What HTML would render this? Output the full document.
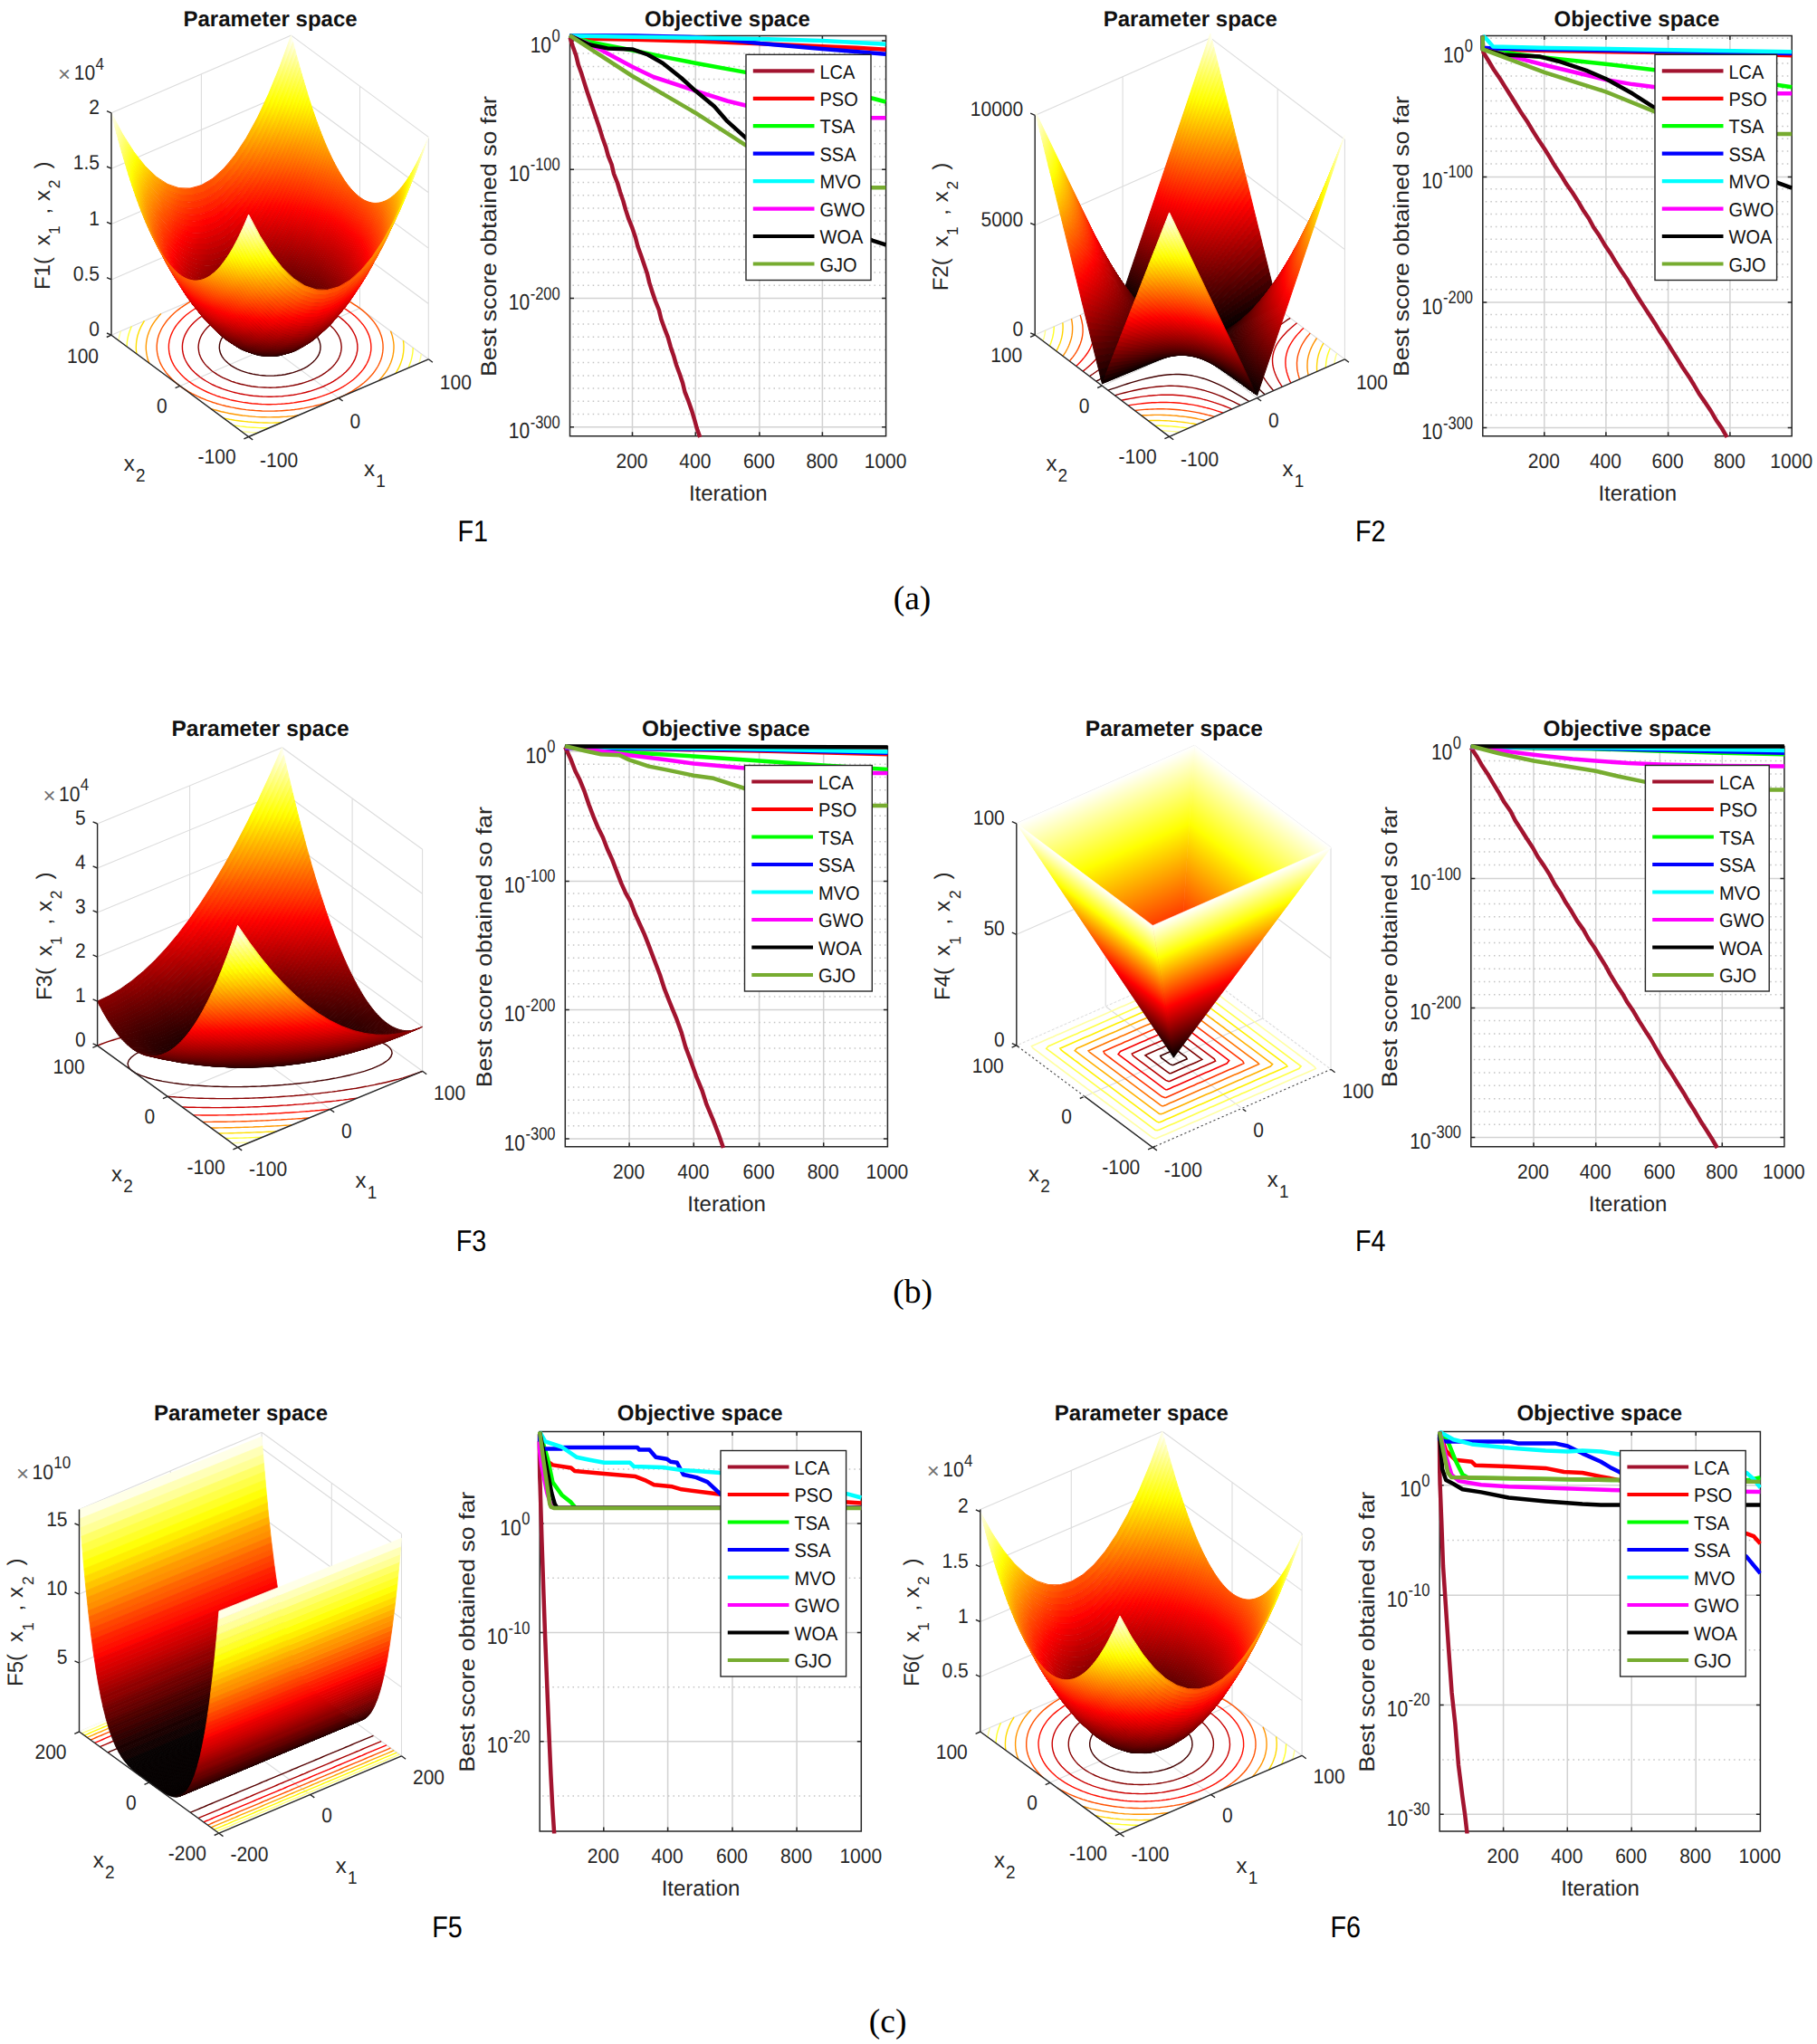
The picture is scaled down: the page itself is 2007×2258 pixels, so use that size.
<!DOCTYPE html>
<html lang="en"><head><meta charset="utf-8"><title>Benchmark functions F1-F6: parameter space and convergence curves</title><style>html,body{margin:0;padding:0;background:#fff}body{width:2007px;height:2258px;overflow:hidden}svg{display:block}</style></head><body>
<svg width="2007" height="2258" viewBox="0 0 2007 2258" font-family='"Liberation Sans", Arial, Helvetica, sans-serif' text-rendering="geometricPrecision"><defs><linearGradient id="s1" gradientUnits="userSpaceOnUse" x1="123.9" x2="322.6"><stop offset="0" stop-color="#fffff2"/><stop offset=".069" stop-color="#ffff70"/><stop offset=".138" stop-color="#ffff00"/><stop offset=".225" stop-color="#ffb300"/><stop offset=".306" stop-color="#ff8000"/><stop offset=".388" stop-color="#ff5e00"/><stop offset=".469" stop-color="#ff4e00"/><stop offset=".55" stop-color="#ff5000"/><stop offset=".631" stop-color="#ff6400"/><stop offset=".713" stop-color="#ff8a00"/><stop offset=".794" stop-color="#ffc200"/><stop offset=".863" stop-color="#ffff00"/><stop offset=".931" stop-color="#ffff70"/><stop offset="1" stop-color="#fffff2"/></linearGradient><linearGradient id="s2" gradientUnits="userSpaceOnUse" x1="125.8" x2="324.5"><stop offset="0" stop-color="#ffffd9"/><stop offset=".069" stop-color="#ffff57"/><stop offset=".119" stop-color="#ffff04"/><stop offset=".131" stop-color="#fff500"/><stop offset=".213" stop-color="#ffac00"/><stop offset=".294" stop-color="#ff7600"/><stop offset=".375" stop-color="#ff5100"/><stop offset=".456" stop-color="#ff3f00"/><stop offset=".537" stop-color="#ff3e00"/><stop offset=".619" stop-color="#ff4f00"/><stop offset=".7" stop-color="#ff7200"/><stop offset=".781" stop-color="#ffa800"/><stop offset=".863" stop-color="#ffef00"/><stop offset=".875" stop-color="#fffb00"/><stop offset=".881" stop-color="#ffff04"/><stop offset=".95" stop-color="#ffff79"/><stop offset="1" stop-color="#ffffd9"/></linearGradient><linearGradient id="s3" gradientUnits="userSpaceOnUse" x1="127.7" x2="326.4"><stop offset="0" stop-color="#ffffc1"/><stop offset=".069" stop-color="#ffff3f"/><stop offset=".106" stop-color="#ffff00"/><stop offset=".188" stop-color="#ffb100"/><stop offset=".269" stop-color="#ff7500"/><stop offset=".35" stop-color="#ff4a00"/><stop offset=".431" stop-color="#ff3200"/><stop offset=".513" stop-color="#ff2c00"/><stop offset=".594" stop-color="#ff3800"/><stop offset=".675" stop-color="#ff5500"/><stop offset=".756" stop-color="#ff8500"/><stop offset=".838" stop-color="#ffc700"/><stop offset=".894" stop-color="#ffff00"/><stop offset=".956" stop-color="#ffff6c"/><stop offset="1" stop-color="#ffffc1"/></linearGradient><linearGradient id="s4" gradientUnits="userSpaceOnUse" x1="129.6" x2="328.3"><stop offset="0" stop-color="#ffffaa"/><stop offset=".069" stop-color="#ffff27"/><stop offset=".088" stop-color="#ffff07"/><stop offset=".094" stop-color="#fffd00"/><stop offset=".175" stop-color="#ffac00"/><stop offset=".256" stop-color="#ff6d00"/><stop offset=".338" stop-color="#ff4000"/><stop offset=".419" stop-color="#ff2500"/><stop offset=".5" stop-color="#ff1c00"/><stop offset=".581" stop-color="#ff2500"/><stop offset=".663" stop-color="#ff4000"/><stop offset=".744" stop-color="#ff6d00"/><stop offset=".825" stop-color="#ffac00"/><stop offset=".906" stop-color="#fffd00"/><stop offset=".919" stop-color="#ffff11"/><stop offset=".988" stop-color="#ffff90"/><stop offset="1" stop-color="#ffffaa"/></linearGradient><linearGradient id="s5" gradientUnits="userSpaceOnUse" x1="131.5" x2="330.2"><stop offset="0" stop-color="#ffff93"/><stop offset=".069" stop-color="#ffff10"/><stop offset=".075" stop-color="#ffff05"/><stop offset=".081" stop-color="#fffb00"/><stop offset=".163" stop-color="#ffa800"/><stop offset=".244" stop-color="#ff6600"/><stop offset=".325" stop-color="#ff3600"/><stop offset=".406" stop-color="#ff1900"/><stop offset=".488" stop-color="#ff0d00"/><stop offset=".569" stop-color="#ff1300"/><stop offset=".65" stop-color="#ff2b00"/><stop offset=".731" stop-color="#ff5600"/><stop offset=".812" stop-color="#ff9200"/><stop offset=".894" stop-color="#ffe000"/><stop offset=".919" stop-color="#fffb00"/><stop offset=".925" stop-color="#ffff05"/><stop offset=".994" stop-color="#ffff86"/><stop offset="1" stop-color="#ffff93"/></linearGradient><linearGradient id="s6" gradientUnits="userSpaceOnUse" x1="133.4" x2="332.1"><stop offset="0" stop-color="#ffff7c"/><stop offset=".062" stop-color="#ffff05"/><stop offset=".075" stop-color="#fff400"/><stop offset=".156" stop-color="#ff9f00"/><stop offset=".238" stop-color="#ff5c00"/><stop offset=".319" stop-color="#ff2b00"/><stop offset=".4" stop-color="#ff0c00"/><stop offset=".469" stop-color="#fe0000"/><stop offset=".562" stop-color="#ff0300"/><stop offset=".644" stop-color="#ff1a00"/><stop offset=".725" stop-color="#ff4300"/><stop offset=".806" stop-color="#ff7d00"/><stop offset=".888" stop-color="#ffca00"/><stop offset=".931" stop-color="#fffb00"/><stop offset=".938" stop-color="#ffff05"/><stop offset="1" stop-color="#ffff7c"/></linearGradient><linearGradient id="s7" gradientUnits="userSpaceOnUse" x1="135.3" x2="334"><stop offset="0" stop-color="#ffff67"/><stop offset=".05" stop-color="#ffff06"/><stop offset=".056" stop-color="#fffb00"/><stop offset=".138" stop-color="#ffa200"/><stop offset=".219" stop-color="#ff5b00"/><stop offset=".3" stop-color="#ff2600"/><stop offset=".381" stop-color="#ff0300"/><stop offset=".481" stop-color="#ef0000"/><stop offset=".562" stop-color="#f40000"/><stop offset=".619" stop-color="#ff0300"/><stop offset=".7" stop-color="#ff2600"/><stop offset=".781" stop-color="#ff5b00"/><stop offset=".863" stop-color="#ffa200"/><stop offset=".944" stop-color="#fffb00"/><stop offset=".95" stop-color="#ffff06"/><stop offset="1" stop-color="#ffff67"/></linearGradient><linearGradient id="s8" gradientUnits="userSpaceOnUse" x1="137.2" x2="335.9"><stop offset="0" stop-color="#ffff52"/><stop offset=".038" stop-color="#ffff08"/><stop offset=".044" stop-color="#fffd00"/><stop offset=".125" stop-color="#ffa100"/><stop offset=".206" stop-color="#ff5700"/><stop offset=".288" stop-color="#ff1f00"/><stop offset=".35" stop-color="#ff0000"/><stop offset=".431" stop-color="#e70000"/><stop offset=".513" stop-color="#e10000"/><stop offset=".594" stop-color="#ec0000"/><stop offset=".656" stop-color="#ff0300"/><stop offset=".738" stop-color="#ff2e00"/><stop offset=".819" stop-color="#ff6c00"/><stop offset=".9" stop-color="#ffbb00"/><stop offset=".956" stop-color="#fffd00"/><stop offset=".969" stop-color="#ffff14"/><stop offset="1" stop-color="#ffff52"/></linearGradient><linearGradient id="s9" gradientUnits="userSpaceOnUse" x1="139.1" x2="337.8"><stop offset="0" stop-color="#ffff3d"/><stop offset=".031" stop-color="#ffff00"/><stop offset=".113" stop-color="#ffa000"/><stop offset=".194" stop-color="#ff5300"/><stop offset=".275" stop-color="#ff1900"/><stop offset=".319" stop-color="#ff0100"/><stop offset=".406" stop-color="#df0000"/><stop offset=".488" stop-color="#d30000"/><stop offset=".569" stop-color="#d90000"/><stop offset=".65" stop-color="#f10000"/><stop offset=".681" stop-color="#ff0100"/><stop offset=".763" stop-color="#ff3200"/><stop offset=".844" stop-color="#ff7500"/><stop offset=".925" stop-color="#ffca00"/><stop offset=".969" stop-color="#ffff00"/><stop offset="1" stop-color="#ffff3d"/></linearGradient><linearGradient id="s10" gradientUnits="userSpaceOnUse" x1="141" x2="339.7"><stop offset="0" stop-color="#ffff2a"/><stop offset=".019" stop-color="#ffff04"/><stop offset=".031" stop-color="#fff200"/><stop offset=".113" stop-color="#ff9300"/><stop offset=".194" stop-color="#ff4600"/><stop offset=".275" stop-color="#ff0c00"/><stop offset=".3" stop-color="#fc0000"/><stop offset=".381" stop-color="#d90000"/><stop offset=".463" stop-color="#c80000"/><stop offset=".544" stop-color="#c80000"/><stop offset=".625" stop-color="#db0000"/><stop offset=".706" stop-color="#ff0100"/><stop offset=".788" stop-color="#ff3700"/><stop offset=".869" stop-color="#ff8000"/><stop offset=".95" stop-color="#ffda00"/><stop offset=".975" stop-color="#fffa00"/><stop offset=".981" stop-color="#ffff04"/><stop offset="1" stop-color="#ffff2a"/></linearGradient><linearGradient id="s11" gradientUnits="userSpaceOnUse" x1="142.9" x2="341.6"><stop offset="0" stop-color="#ffff16"/><stop offset=".013" stop-color="#fffd00"/><stop offset=".094" stop-color="#ff9a00"/><stop offset=".175" stop-color="#ff4a00"/><stop offset=".256" stop-color="#ff0b00"/><stop offset=".275" stop-color="#fe0000"/><stop offset=".356" stop-color="#d50000"/><stop offset=".438" stop-color="#be0000"/><stop offset=".519" stop-color="#b90000"/><stop offset=".6" stop-color="#c70000"/><stop offset=".681" stop-color="#e60000"/><stop offset=".731" stop-color="#ff0300"/><stop offset=".812" stop-color="#ff3f00"/><stop offset=".894" stop-color="#ff8d00"/><stop offset=".975" stop-color="#ffed00"/><stop offset=".988" stop-color="#fffd00"/><stop offset="1" stop-color="#ffff16"/></linearGradient><linearGradient id="s12" gradientUnits="userSpaceOnUse" x1="144.8" x2="343.5"><stop offset="0" stop-color="#ffff04"/><stop offset=".013" stop-color="#fff100"/><stop offset=".094" stop-color="#ff8e00"/><stop offset=".175" stop-color="#ff3d00"/><stop offset=".25" stop-color="#ff0300"/><stop offset=".35" stop-color="#cb0000"/><stop offset=".431" stop-color="#b30000"/><stop offset=".513" stop-color="#ad0000"/><stop offset=".594" stop-color="#b90000"/><stop offset=".675" stop-color="#d60000"/><stop offset=".75" stop-color="#ff0300"/><stop offset=".831" stop-color="#ff4300"/><stop offset=".913" stop-color="#ff9500"/><stop offset=".994" stop-color="#fff900"/><stop offset="1" stop-color="#ffff04"/></linearGradient><linearGradient id="s13" gradientUnits="userSpaceOnUse" x1="146.7" x2="345.4"><stop offset="0" stop-color="#fff600"/><stop offset=".081" stop-color="#ff9000"/><stop offset=".163" stop-color="#ff3d00"/><stop offset=".238" stop-color="#fe0000"/><stop offset=".319" stop-color="#cd0000"/><stop offset=".4" stop-color="#ae0000"/><stop offset=".481" stop-color="#a10000"/><stop offset=".562" stop-color="#a60000"/><stop offset=".644" stop-color="#bd0000"/><stop offset=".725" stop-color="#e60000"/><stop offset=".763" stop-color="#fe0000"/><stop offset=".838" stop-color="#ff3d00"/><stop offset=".919" stop-color="#ff9000"/><stop offset="1" stop-color="#fff600"/></linearGradient><linearGradient id="s14" gradientUnits="userSpaceOnUse" x1="148.6" x2="347.3"><stop offset="0" stop-color="#ffea00"/><stop offset=".081" stop-color="#ff8500"/><stop offset=".163" stop-color="#ff3100"/><stop offset=".219" stop-color="#ff0200"/><stop offset=".312" stop-color="#c50000"/><stop offset=".394" stop-color="#a50000"/><stop offset=".475" stop-color="#960000"/><stop offset=".556" stop-color="#9a0000"/><stop offset=".638" stop-color="#af0000"/><stop offset=".719" stop-color="#d60000"/><stop offset=".781" stop-color="#ff0200"/><stop offset=".863" stop-color="#ff4900"/><stop offset=".944" stop-color="#ffa200"/><stop offset="1" stop-color="#ffea00"/></linearGradient><linearGradient id="s15" gradientUnits="userSpaceOnUse" x1="150.5" x2="349.2"><stop offset="0" stop-color="#ffdf00"/><stop offset=".081" stop-color="#ff7a00"/><stop offset=".163" stop-color="#ff2600"/><stop offset=".206" stop-color="#ff0100"/><stop offset=".294" stop-color="#c40000"/><stop offset=".375" stop-color="#9f0000"/><stop offset=".456" stop-color="#8d0000"/><stop offset=".537" stop-color="#8c0000"/><stop offset=".619" stop-color="#9d0000"/><stop offset=".7" stop-color="#c10000"/><stop offset=".781" stop-color="#f60000"/><stop offset=".794" stop-color="#ff0100"/><stop offset=".875" stop-color="#ff4a00"/><stop offset=".956" stop-color="#ffa600"/><stop offset="1" stop-color="#ffdf00"/></linearGradient><linearGradient id="s16" gradientUnits="userSpaceOnUse" x1="152.4" x2="351.1"><stop offset="0" stop-color="#ffd500"/><stop offset=".081" stop-color="#ff6f00"/><stop offset=".163" stop-color="#ff1b00"/><stop offset=".194" stop-color="#ff0000"/><stop offset=".275" stop-color="#c40000"/><stop offset=".356" stop-color="#9c0000"/><stop offset=".438" stop-color="#850000"/><stop offset=".519" stop-color="#800000"/><stop offset=".6" stop-color="#8d0000"/><stop offset=".681" stop-color="#ac0000"/><stop offset=".763" stop-color="#dd0000"/><stop offset=".806" stop-color="#ff0000"/><stop offset=".888" stop-color="#ff4d00"/><stop offset=".969" stop-color="#ffab00"/><stop offset="1" stop-color="#ffd500"/></linearGradient><linearGradient id="s17" gradientUnits="userSpaceOnUse" x1="154.3" x2="353"><stop offset="0" stop-color="#ffca00"/><stop offset=".081" stop-color="#ff6500"/><stop offset=".163" stop-color="#ff1100"/><stop offset=".181" stop-color="#ff0100"/><stop offset=".269" stop-color="#be0000"/><stop offset=".35" stop-color="#940000"/><stop offset=".431" stop-color="#7c0000"/><stop offset=".513" stop-color="#760000"/><stop offset=".594" stop-color="#810000"/><stop offset=".675" stop-color="#9f0000"/><stop offset=".756" stop-color="#cf0000"/><stop offset=".819" stop-color="#ff0100"/><stop offset=".9" stop-color="#ff5000"/><stop offset=".981" stop-color="#ffb100"/><stop offset="1" stop-color="#ffca00"/></linearGradient><linearGradient id="s18" gradientUnits="userSpaceOnUse" x1="156.2" x2="354.9"><stop offset="0" stop-color="#ffc100"/><stop offset=".081" stop-color="#ff5b00"/><stop offset=".163" stop-color="#ff0700"/><stop offset=".175" stop-color="#fb0000"/><stop offset=".256" stop-color="#bc0000"/><stop offset=".338" stop-color="#8f0000"/><stop offset=".419" stop-color="#750000"/><stop offset=".5" stop-color="#6c0000"/><stop offset=".581" stop-color="#750000"/><stop offset=".663" stop-color="#8f0000"/><stop offset=".744" stop-color="#bc0000"/><stop offset=".831" stop-color="#ff0200"/><stop offset=".913" stop-color="#ff5400"/><stop offset=".994" stop-color="#ffb800"/><stop offset="1" stop-color="#ffc100"/></linearGradient><linearGradient id="s19" gradientUnits="userSpaceOnUse" x1="158.1" x2="356.8"><stop offset="0" stop-color="#ffb700"/><stop offset=".081" stop-color="#ff5200"/><stop offset=".156" stop-color="#ff0400"/><stop offset=".169" stop-color="#f70000"/><stop offset=".25" stop-color="#b70000"/><stop offset=".331" stop-color="#890000"/><stop offset=".413" stop-color="#6d0000"/><stop offset=".494" stop-color="#620000"/><stop offset=".575" stop-color="#6a0000"/><stop offset=".656" stop-color="#830000"/><stop offset=".738" stop-color="#af0000"/><stop offset=".819" stop-color="#ec0000"/><stop offset=".838" stop-color="#fd0000"/><stop offset=".9" stop-color="#ff3d00"/><stop offset=".981" stop-color="#ff9e00"/><stop offset="1" stop-color="#ffb700"/></linearGradient><linearGradient id="s20" gradientUnits="userSpaceOnUse" x1="160" x2="358.7"><stop offset="0" stop-color="#ffae00"/><stop offset=".081" stop-color="#ff4900"/><stop offset=".15" stop-color="#ff0100"/><stop offset=".238" stop-color="#b70000"/><stop offset=".319" stop-color="#860000"/><stop offset=".4" stop-color="#670000"/><stop offset=".481" stop-color="#5a0000"/><stop offset=".562" stop-color="#5f0000"/><stop offset=".644" stop-color="#750000"/><stop offset=".725" stop-color="#9e0000"/><stop offset=".806" stop-color="#d90000"/><stop offset=".85" stop-color="#ff0100"/><stop offset=".931" stop-color="#ff5700"/><stop offset="1" stop-color="#ffae00"/></linearGradient><linearGradient id="s21" gradientUnits="userSpaceOnUse" x1="161.8" x2="360.5"><stop offset="0" stop-color="#ffa600"/><stop offset=".081" stop-color="#ff4000"/><stop offset=".144" stop-color="#fd0000"/><stop offset=".225" stop-color="#b80000"/><stop offset=".306" stop-color="#840000"/><stop offset=".388" stop-color="#620000"/><stop offset=".469" stop-color="#520000"/><stop offset=".55" stop-color="#540000"/><stop offset=".631" stop-color="#680000"/><stop offset=".713" stop-color="#8e0000"/><stop offset=".794" stop-color="#c60000"/><stop offset=".856" stop-color="#fd0000"/><stop offset=".919" stop-color="#ff4000"/><stop offset="1" stop-color="#ffa600"/></linearGradient><linearGradient id="s22" gradientUnits="userSpaceOnUse" x1="163.7" x2="362.4"><stop offset="0" stop-color="#ff9e00"/><stop offset=".081" stop-color="#ff3800"/><stop offset=".131" stop-color="#ff0300"/><stop offset=".231" stop-color="#ab0000"/><stop offset=".312" stop-color="#790000"/><stop offset=".394" stop-color="#580000"/><stop offset=".475" stop-color="#4a0000"/><stop offset=".556" stop-color="#4d0000"/><stop offset=".638" stop-color="#620000"/><stop offset=".719" stop-color="#8a0000"/><stop offset=".8" stop-color="#c30000"/><stop offset=".869" stop-color="#ff0300"/><stop offset=".95" stop-color="#ff5d00"/><stop offset="1" stop-color="#ff9e00"/></linearGradient><linearGradient id="s23" gradientUnits="userSpaceOnUse" x1="165.6" x2="364.3"><stop offset="0" stop-color="#ff9600"/><stop offset=".081" stop-color="#ff3100"/><stop offset=".125" stop-color="#ff0100"/><stop offset=".219" stop-color="#ad0000"/><stop offset=".3" stop-color="#770000"/><stop offset=".381" stop-color="#540000"/><stop offset=".463" stop-color="#430000"/><stop offset=".544" stop-color="#440000"/><stop offset=".625" stop-color="#560000"/><stop offset=".706" stop-color="#7b0000"/><stop offset=".788" stop-color="#b10000"/><stop offset=".875" stop-color="#ff0100"/><stop offset=".956" stop-color="#ff5d00"/><stop offset="1" stop-color="#ff9600"/></linearGradient><linearGradient id="s24" gradientUnits="userSpaceOnUse" x1="167.5" x2="366.2"><stop offset="0" stop-color="#ff8f00"/><stop offset=".081" stop-color="#ff2900"/><stop offset=".119" stop-color="#ff0100"/><stop offset=".206" stop-color="#af0000"/><stop offset=".288" stop-color="#770000"/><stop offset=".369" stop-color="#510000"/><stop offset=".45" stop-color="#3d0000"/><stop offset=".531" stop-color="#3b0000"/><stop offset=".613" stop-color="#4b0000"/><stop offset=".694" stop-color="#6d0000"/><stop offset=".775" stop-color="#a10000"/><stop offset=".856" stop-color="#e60000"/><stop offset=".881" stop-color="#ff0100"/><stop offset=".963" stop-color="#ff5e00"/><stop offset="1" stop-color="#ff8f00"/></linearGradient><linearGradient id="s25" gradientUnits="userSpaceOnUse" x1="169.4" x2="368.1"><stop offset="0" stop-color="#ff8800"/><stop offset=".081" stop-color="#ff2300"/><stop offset=".113" stop-color="#ff0000"/><stop offset=".2" stop-color="#ad0000"/><stop offset=".281" stop-color="#740000"/><stop offset=".363" stop-color="#4d0000"/><stop offset=".444" stop-color="#370000"/><stop offset=".525" stop-color="#340000"/><stop offset=".606" stop-color="#420000"/><stop offset=".688" stop-color="#630000"/><stop offset=".769" stop-color="#950000"/><stop offset=".85" stop-color="#da0000"/><stop offset=".888" stop-color="#ff0000"/><stop offset=".969" stop-color="#ff5f00"/><stop offset="1" stop-color="#ff8800"/></linearGradient><linearGradient id="s26" gradientUnits="userSpaceOnUse" x1="171.3" x2="370"><stop offset="0" stop-color="#ff8200"/><stop offset=".081" stop-color="#ff1c00"/><stop offset=".106" stop-color="#ff0100"/><stop offset=".194" stop-color="#ac0000"/><stop offset=".275" stop-color="#720000"/><stop offset=".356" stop-color="#490000"/><stop offset=".438" stop-color="#320000"/><stop offset=".519" stop-color="#2d0000"/><stop offset=".6" stop-color="#3a0000"/><stop offset=".681" stop-color="#590000"/><stop offset=".763" stop-color="#8a0000"/><stop offset=".844" stop-color="#cd0000"/><stop offset=".894" stop-color="#ff0100"/><stop offset=".975" stop-color="#ff6100"/><stop offset="1" stop-color="#ff8200"/></linearGradient><linearGradient id="s27" gradientUnits="userSpaceOnUse" x1="173.2" x2="371.9"><stop offset="0" stop-color="#ff7c00"/><stop offset=".081" stop-color="#ff1600"/><stop offset=".1" stop-color="#ff0100"/><stop offset=".194" stop-color="#a60000"/><stop offset=".275" stop-color="#6c0000"/><stop offset=".356" stop-color="#430000"/><stop offset=".438" stop-color="#2c0000"/><stop offset=".519" stop-color="#270000"/><stop offset=".6" stop-color="#340000"/><stop offset=".681" stop-color="#530000"/><stop offset=".763" stop-color="#840000"/><stop offset=".844" stop-color="#c70000"/><stop offset=".9" stop-color="#ff0100"/><stop offset=".981" stop-color="#ff6300"/><stop offset="1" stop-color="#ff7c00"/></linearGradient><linearGradient id="s28" gradientUnits="userSpaceOnUse" x1="175.1" x2="373.8"><stop offset="0" stop-color="#ff7600"/><stop offset=".081" stop-color="#ff1100"/><stop offset=".094" stop-color="#ff0300"/><stop offset=".194" stop-color="#a10000"/><stop offset=".275" stop-color="#660000"/><stop offset=".356" stop-color="#3d0000"/><stop offset=".438" stop-color="#270000"/><stop offset=".519" stop-color="#220000"/><stop offset=".6" stop-color="#2f0000"/><stop offset=".681" stop-color="#4e0000"/><stop offset=".763" stop-color="#7f0000"/><stop offset=".844" stop-color="#c20000"/><stop offset=".906" stop-color="#ff0300"/><stop offset=".988" stop-color="#ff6500"/><stop offset="1" stop-color="#ff7600"/></linearGradient><linearGradient id="s29" gradientUnits="userSpaceOnUse" x1="177" x2="375.7"><stop offset="0" stop-color="#ff7100"/><stop offset=".081" stop-color="#ff0c00"/><stop offset=".094" stop-color="#fd0000"/><stop offset=".175" stop-color="#ac0000"/><stop offset=".256" stop-color="#6d0000"/><stop offset=".338" stop-color="#400000"/><stop offset=".419" stop-color="#250000"/><stop offset=".5" stop-color="#1c0000"/><stop offset=".581" stop-color="#250000"/><stop offset=".663" stop-color="#400000"/><stop offset=".744" stop-color="#6d0000"/><stop offset=".825" stop-color="#ac0000"/><stop offset=".906" stop-color="#fd0000"/><stop offset=".95" stop-color="#ff3100"/><stop offset="1" stop-color="#ff7100"/></linearGradient><linearGradient id="s30" gradientUnits="userSpaceOnUse" x1="178.9" x2="377.6"><stop offset="0" stop-color="#ff6c00"/><stop offset=".081" stop-color="#ff0700"/><stop offset=".088" stop-color="#ff0000"/><stop offset=".169" stop-color="#ad0000"/><stop offset=".25" stop-color="#6c0000"/><stop offset=".331" stop-color="#3e0000"/><stop offset=".413" stop-color="#220000"/><stop offset=".494" stop-color="#170000"/><stop offset=".575" stop-color="#1f0000"/><stop offset=".656" stop-color="#390000"/><stop offset=".738" stop-color="#640000"/><stop offset=".819" stop-color="#a20000"/><stop offset=".9" stop-color="#f10000"/><stop offset=".913" stop-color="#ff0000"/><stop offset=".994" stop-color="#ff6400"/><stop offset="1" stop-color="#ff6c00"/></linearGradient><linearGradient id="s31" gradientUnits="userSpaceOnUse" x1="180.8" x2="379.5"><stop offset="0" stop-color="#ff6800"/><stop offset=".081" stop-color="#ff0300"/><stop offset=".181" stop-color="#9d0000"/><stop offset=".263" stop-color="#600000"/><stop offset=".344" stop-color="#340000"/><stop offset=".425" stop-color="#1b0000"/><stop offset=".506" stop-color="#130000"/><stop offset=".588" stop-color="#1e0000"/><stop offset=".669" stop-color="#3a0000"/><stop offset=".75" stop-color="#680000"/><stop offset=".831" stop-color="#a80000"/><stop offset=".919" stop-color="#ff0300"/><stop offset="1" stop-color="#ff6800"/></linearGradient><linearGradient id="s32" gradientUnits="userSpaceOnUse" x1="182.7" x2="381.4"><stop offset="0" stop-color="#ff6400"/><stop offset=".075" stop-color="#ff0600"/><stop offset=".081" stop-color="#fe0000"/><stop offset=".163" stop-color="#aa0000"/><stop offset=".244" stop-color="#690000"/><stop offset=".325" stop-color="#390000"/><stop offset=".406" stop-color="#1b0000"/><stop offset=".488" stop-color="#100000"/><stop offset=".569" stop-color="#160000"/><stop offset=".65" stop-color="#2e0000"/><stop offset=".731" stop-color="#580000"/><stop offset=".812" stop-color="#940000"/><stop offset=".894" stop-color="#e20000"/><stop offset=".919" stop-color="#fe0000"/><stop offset=".988" stop-color="#ff5400"/><stop offset="1" stop-color="#ff6400"/></linearGradient><linearGradient id="s33" gradientUnits="userSpaceOnUse" x1="184.6" x2="383.3"><stop offset="0" stop-color="#ff6100"/><stop offset=".075" stop-color="#ff0300"/><stop offset=".175" stop-color="#9c0000"/><stop offset=".256" stop-color="#5d0000"/><stop offset=".338" stop-color="#300000"/><stop offset=".419" stop-color="#150000"/><stop offset=".5" stop-color="#0c0000"/><stop offset=".581" stop-color="#150000"/><stop offset=".663" stop-color="#300000"/><stop offset=".744" stop-color="#5d0000"/><stop offset=".825" stop-color="#9c0000"/><stop offset=".906" stop-color="#ec0000"/><stop offset=".925" stop-color="#ff0300"/><stop offset="1" stop-color="#ff6100"/></linearGradient><linearGradient id="s34" gradientUnits="userSpaceOnUse" x1="186.5" x2="385.2"><stop offset="0" stop-color="#ff5e00"/><stop offset=".075" stop-color="#ff0000"/><stop offset=".156" stop-color="#aa0000"/><stop offset=".238" stop-color="#670000"/><stop offset=".319" stop-color="#360000"/><stop offset=".4" stop-color="#170000"/><stop offset=".481" stop-color="#090000"/><stop offset=".562" stop-color="#0e0000"/><stop offset=".644" stop-color="#250000"/><stop offset=".725" stop-color="#4e0000"/><stop offset=".806" stop-color="#890000"/><stop offset=".888" stop-color="#d50000"/><stop offset=".925" stop-color="#ff0000"/><stop offset="1" stop-color="#ff5e00"/></linearGradient><linearGradient id="s35" gradientUnits="userSpaceOnUse" x1="188.4" x2="387.1"><stop offset="0" stop-color="#ff5b00"/><stop offset=".069" stop-color="#ff0400"/><stop offset=".081" stop-color="#f50000"/><stop offset=".163" stop-color="#a10000"/><stop offset=".244" stop-color="#600000"/><stop offset=".325" stop-color="#300000"/><stop offset=".406" stop-color="#120000"/><stop offset=".488" stop-color="#070000"/><stop offset=".569" stop-color="#0d0000"/><stop offset=".65" stop-color="#250000"/><stop offset=".731" stop-color="#4f0000"/><stop offset=".812" stop-color="#8b0000"/><stop offset=".894" stop-color="#d90000"/><stop offset=".925" stop-color="#fc0000"/><stop offset=".95" stop-color="#ff1b00"/><stop offset="1" stop-color="#ff5b00"/></linearGradient><linearGradient id="s36" gradientUnits="userSpaceOnUse" x1="190.3" x2="389"><stop offset="0" stop-color="#ff5900"/><stop offset=".069" stop-color="#ff0200"/><stop offset=".169" stop-color="#9a0000"/><stop offset=".25" stop-color="#590000"/><stop offset=".331" stop-color="#2b0000"/><stop offset=".413" stop-color="#0f0000"/><stop offset=".494" stop-color="#040000"/><stop offset=".575" stop-color="#0c0000"/><stop offset=".656" stop-color="#260000"/><stop offset=".738" stop-color="#510000"/><stop offset=".819" stop-color="#8e0000"/><stop offset=".9" stop-color="#de0000"/><stop offset=".931" stop-color="#ff0200"/><stop offset="1" stop-color="#ff5900"/></linearGradient><linearGradient id="s37" gradientUnits="userSpaceOnUse" x1="192.2" x2="390.9"><stop offset="0" stop-color="#ff5800"/><stop offset=".069" stop-color="#ff0100"/><stop offset=".156" stop-color="#a30000"/><stop offset=".238" stop-color="#600000"/><stop offset=".319" stop-color="#2f0000"/><stop offset=".4" stop-color="#100000"/><stop offset=".481" stop-color="#030000"/><stop offset=".562" stop-color="#080000"/><stop offset=".644" stop-color="#1f0000"/><stop offset=".725" stop-color="#470000"/><stop offset=".806" stop-color="#820000"/><stop offset=".888" stop-color="#cf0000"/><stop offset=".931" stop-color="#ff0100"/><stop offset="1" stop-color="#ff5800"/></linearGradient><linearGradient id="s38" gradientUnits="userSpaceOnUse" x1="194.1" x2="392.8"><stop offset="0" stop-color="#ff5600"/><stop offset=".069" stop-color="#fe0000"/><stop offset=".15" stop-color="#a80000"/><stop offset=".231" stop-color="#640000"/><stop offset=".312" stop-color="#310000"/><stop offset=".394" stop-color="#110000"/><stop offset=".475" stop-color="#020000"/><stop offset=".556" stop-color="#060000"/><stop offset=".638" stop-color="#1b0000"/><stop offset=".719" stop-color="#420000"/><stop offset=".8" stop-color="#7c0000"/><stop offset=".881" stop-color="#c70000"/><stop offset=".931" stop-color="#fe0000"/><stop offset="1" stop-color="#ff5600"/></linearGradient><linearGradient id="s39" gradientUnits="userSpaceOnUse" x1="196" x2="394.7"><stop offset="0" stop-color="#ff5500"/><stop offset=".062" stop-color="#ff0600"/><stop offset=".069" stop-color="#fd0000"/><stop offset=".15" stop-color="#a70000"/><stop offset=".231" stop-color="#630000"/><stop offset=".312" stop-color="#300000"/><stop offset=".394" stop-color="#100000"/><stop offset=".475" stop-color="#010000"/><stop offset=".556" stop-color="#050000"/><stop offset=".638" stop-color="#1a0000"/><stop offset=".719" stop-color="#420000"/><stop offset=".8" stop-color="#7b0000"/><stop offset=".881" stop-color="#c60000"/><stop offset=".931" stop-color="#fd0000"/><stop offset=".994" stop-color="#ff4d00"/><stop offset="1" stop-color="#ff5500"/></linearGradient><linearGradient id="s40" gradientUnits="userSpaceOnUse" x1="197.9" x2="396.6"><stop offset="0" stop-color="#ff5500"/><stop offset=".062" stop-color="#ff0500"/><stop offset=".069" stop-color="#fd0000"/><stop offset=".15" stop-color="#a70000"/><stop offset=".231" stop-color="#620000"/><stop offset=".312" stop-color="#300000"/><stop offset=".394" stop-color="#0f0000"/><stop offset=".475" stop-color="#010000"/><stop offset=".556" stop-color="#040000"/><stop offset=".638" stop-color="#1a0000"/><stop offset=".719" stop-color="#410000"/><stop offset=".8" stop-color="#7a0000"/><stop offset=".881" stop-color="#c60000"/><stop offset=".931" stop-color="#fd0000"/><stop offset=".988" stop-color="#ff4400"/><stop offset="1" stop-color="#ff5500"/></linearGradient><linearGradient id="s41" gradientUnits="userSpaceOnUse" x1="199.7" x2="398.4"><stop offset="0" stop-color="#ff5500"/><stop offset=".062" stop-color="#ff0500"/><stop offset=".069" stop-color="#fd0000"/><stop offset=".15" stop-color="#a70000"/><stop offset=".231" stop-color="#620000"/><stop offset=".312" stop-color="#300000"/><stop offset=".394" stop-color="#0f0000"/><stop offset=".475" stop-color="#010000"/><stop offset=".556" stop-color="#040000"/><stop offset=".638" stop-color="#1a0000"/><stop offset=".719" stop-color="#410000"/><stop offset=".8" stop-color="#7a0000"/><stop offset=".881" stop-color="#c60000"/><stop offset=".931" stop-color="#fd0000"/><stop offset=".988" stop-color="#ff4400"/><stop offset="1" stop-color="#ff5500"/></linearGradient><linearGradient id="s42" gradientUnits="userSpaceOnUse" x1="201.6" x2="400.3"><stop offset="0" stop-color="#ff5500"/><stop offset=".062" stop-color="#ff0600"/><stop offset=".069" stop-color="#fd0000"/><stop offset=".15" stop-color="#a70000"/><stop offset=".231" stop-color="#630000"/><stop offset=".312" stop-color="#300000"/><stop offset=".394" stop-color="#100000"/><stop offset=".475" stop-color="#010000"/><stop offset=".556" stop-color="#050000"/><stop offset=".638" stop-color="#1a0000"/><stop offset=".719" stop-color="#420000"/><stop offset=".8" stop-color="#7b0000"/><stop offset=".881" stop-color="#c60000"/><stop offset=".931" stop-color="#fd0000"/><stop offset=".994" stop-color="#ff4d00"/><stop offset="1" stop-color="#ff5500"/></linearGradient><linearGradient id="s43" gradientUnits="userSpaceOnUse" x1="203.5" x2="402.2"><stop offset="0" stop-color="#ff5600"/><stop offset=".069" stop-color="#fe0000"/><stop offset=".15" stop-color="#a80000"/><stop offset=".231" stop-color="#640000"/><stop offset=".312" stop-color="#310000"/><stop offset=".394" stop-color="#110000"/><stop offset=".475" stop-color="#020000"/><stop offset=".556" stop-color="#060000"/><stop offset=".638" stop-color="#1b0000"/><stop offset=".719" stop-color="#420000"/><stop offset=".8" stop-color="#7c0000"/><stop offset=".881" stop-color="#c70000"/><stop offset=".931" stop-color="#fe0000"/><stop offset="1" stop-color="#ff5600"/></linearGradient><linearGradient id="s44" gradientUnits="userSpaceOnUse" x1="205.4" x2="404.1"><stop offset="0" stop-color="#ff5800"/><stop offset=".069" stop-color="#ff0100"/><stop offset=".156" stop-color="#a30000"/><stop offset=".238" stop-color="#600000"/><stop offset=".319" stop-color="#2f0000"/><stop offset=".4" stop-color="#100000"/><stop offset=".481" stop-color="#030000"/><stop offset=".562" stop-color="#080000"/><stop offset=".644" stop-color="#1f0000"/><stop offset=".725" stop-color="#470000"/><stop offset=".806" stop-color="#820000"/><stop offset=".888" stop-color="#cf0000"/><stop offset=".931" stop-color="#ff0100"/><stop offset="1" stop-color="#ff5800"/></linearGradient><linearGradient id="s45" gradientUnits="userSpaceOnUse" x1="207.3" x2="406"><stop offset="0" stop-color="#ff5900"/><stop offset=".069" stop-color="#ff0200"/><stop offset=".169" stop-color="#9a0000"/><stop offset=".25" stop-color="#590000"/><stop offset=".331" stop-color="#2b0000"/><stop offset=".413" stop-color="#0f0000"/><stop offset=".494" stop-color="#040000"/><stop offset=".575" stop-color="#0c0000"/><stop offset=".656" stop-color="#260000"/><stop offset=".738" stop-color="#510000"/><stop offset=".819" stop-color="#8e0000"/><stop offset=".9" stop-color="#de0000"/><stop offset=".931" stop-color="#ff0200"/><stop offset="1" stop-color="#ff5900"/></linearGradient><linearGradient id="s46" gradientUnits="userSpaceOnUse" x1="209.2" x2="407.9"><stop offset="0" stop-color="#ff5b00"/><stop offset=".069" stop-color="#ff0400"/><stop offset=".081" stop-color="#f50000"/><stop offset=".163" stop-color="#a10000"/><stop offset=".244" stop-color="#600000"/><stop offset=".325" stop-color="#300000"/><stop offset=".406" stop-color="#120000"/><stop offset=".488" stop-color="#070000"/><stop offset=".569" stop-color="#0d0000"/><stop offset=".65" stop-color="#250000"/><stop offset=".731" stop-color="#4f0000"/><stop offset=".812" stop-color="#8b0000"/><stop offset=".894" stop-color="#d90000"/><stop offset=".925" stop-color="#fc0000"/><stop offset=".95" stop-color="#ff1b00"/><stop offset="1" stop-color="#ff5b00"/></linearGradient><linearGradient id="s47" gradientUnits="userSpaceOnUse" x1="211.1" x2="409.8"><stop offset="0" stop-color="#ff5e00"/><stop offset=".075" stop-color="#ff0000"/><stop offset=".156" stop-color="#aa0000"/><stop offset=".238" stop-color="#670000"/><stop offset=".319" stop-color="#360000"/><stop offset=".4" stop-color="#170000"/><stop offset=".481" stop-color="#090000"/><stop offset=".562" stop-color="#0e0000"/><stop offset=".644" stop-color="#250000"/><stop offset=".725" stop-color="#4e0000"/><stop offset=".806" stop-color="#890000"/><stop offset=".888" stop-color="#d50000"/><stop offset=".925" stop-color="#ff0000"/><stop offset="1" stop-color="#ff5e00"/></linearGradient><linearGradient id="s48" gradientUnits="userSpaceOnUse" x1="213" x2="411.7"><stop offset="0" stop-color="#ff6100"/><stop offset=".075" stop-color="#ff0300"/><stop offset=".175" stop-color="#9c0000"/><stop offset=".256" stop-color="#5d0000"/><stop offset=".338" stop-color="#300000"/><stop offset=".419" stop-color="#150000"/><stop offset=".5" stop-color="#0c0000"/><stop offset=".581" stop-color="#150000"/><stop offset=".663" stop-color="#300000"/><stop offset=".744" stop-color="#5d0000"/><stop offset=".825" stop-color="#9c0000"/><stop offset=".906" stop-color="#ec0000"/><stop offset=".925" stop-color="#ff0300"/><stop offset="1" stop-color="#ff6100"/></linearGradient><linearGradient id="s49" gradientUnits="userSpaceOnUse" x1="214.9" x2="413.6"><stop offset="0" stop-color="#ff6400"/><stop offset=".075" stop-color="#ff0600"/><stop offset=".081" stop-color="#fe0000"/><stop offset=".163" stop-color="#aa0000"/><stop offset=".244" stop-color="#690000"/><stop offset=".325" stop-color="#390000"/><stop offset=".406" stop-color="#1b0000"/><stop offset=".488" stop-color="#100000"/><stop offset=".569" stop-color="#160000"/><stop offset=".65" stop-color="#2e0000"/><stop offset=".731" stop-color="#580000"/><stop offset=".812" stop-color="#940000"/><stop offset=".894" stop-color="#e20000"/><stop offset=".919" stop-color="#fe0000"/><stop offset=".988" stop-color="#ff5400"/><stop offset="1" stop-color="#ff6400"/></linearGradient><linearGradient id="s50" gradientUnits="userSpaceOnUse" x1="216.8" x2="415.5"><stop offset="0" stop-color="#ff6800"/><stop offset=".081" stop-color="#ff0300"/><stop offset=".181" stop-color="#9d0000"/><stop offset=".263" stop-color="#600000"/><stop offset=".344" stop-color="#340000"/><stop offset=".425" stop-color="#1b0000"/><stop offset=".506" stop-color="#130000"/><stop offset=".588" stop-color="#1e0000"/><stop offset=".669" stop-color="#3a0000"/><stop offset=".75" stop-color="#680000"/><stop offset=".831" stop-color="#a80000"/><stop offset=".919" stop-color="#ff0300"/><stop offset="1" stop-color="#ff6800"/></linearGradient><linearGradient id="s51" gradientUnits="userSpaceOnUse" x1="218.7" x2="417.4"><stop offset="0" stop-color="#ff6c00"/><stop offset=".081" stop-color="#ff0700"/><stop offset=".088" stop-color="#ff0000"/><stop offset=".169" stop-color="#ad0000"/><stop offset=".25" stop-color="#6c0000"/><stop offset=".331" stop-color="#3e0000"/><stop offset=".413" stop-color="#220000"/><stop offset=".494" stop-color="#170000"/><stop offset=".575" stop-color="#1f0000"/><stop offset=".656" stop-color="#390000"/><stop offset=".738" stop-color="#640000"/><stop offset=".819" stop-color="#a20000"/><stop offset=".9" stop-color="#f10000"/><stop offset=".913" stop-color="#ff0000"/><stop offset=".994" stop-color="#ff6400"/><stop offset="1" stop-color="#ff6c00"/></linearGradient><linearGradient id="s52" gradientUnits="userSpaceOnUse" x1="220.6" x2="419.3"><stop offset="0" stop-color="#ff7100"/><stop offset=".081" stop-color="#ff0c00"/><stop offset=".094" stop-color="#fd0000"/><stop offset=".175" stop-color="#ac0000"/><stop offset=".256" stop-color="#6d0000"/><stop offset=".338" stop-color="#400000"/><stop offset=".419" stop-color="#250000"/><stop offset=".5" stop-color="#1c0000"/><stop offset=".581" stop-color="#250000"/><stop offset=".663" stop-color="#400000"/><stop offset=".744" stop-color="#6d0000"/><stop offset=".825" stop-color="#ac0000"/><stop offset=".906" stop-color="#fd0000"/><stop offset=".95" stop-color="#ff3100"/><stop offset="1" stop-color="#ff7100"/></linearGradient><linearGradient id="s53" gradientUnits="userSpaceOnUse" x1="222.5" x2="421.2"><stop offset="0" stop-color="#ff7600"/><stop offset=".081" stop-color="#ff1100"/><stop offset=".094" stop-color="#ff0300"/><stop offset=".194" stop-color="#a10000"/><stop offset=".275" stop-color="#660000"/><stop offset=".356" stop-color="#3d0000"/><stop offset=".438" stop-color="#270000"/><stop offset=".519" stop-color="#220000"/><stop offset=".6" stop-color="#2f0000"/><stop offset=".681" stop-color="#4e0000"/><stop offset=".763" stop-color="#7f0000"/><stop offset=".844" stop-color="#c20000"/><stop offset=".906" stop-color="#ff0300"/><stop offset=".988" stop-color="#ff6500"/><stop offset="1" stop-color="#ff7600"/></linearGradient><linearGradient id="s54" gradientUnits="userSpaceOnUse" x1="224.4" x2="423.1"><stop offset="0" stop-color="#ff7c00"/><stop offset=".081" stop-color="#ff1600"/><stop offset=".1" stop-color="#ff0100"/><stop offset=".194" stop-color="#a60000"/><stop offset=".275" stop-color="#6c0000"/><stop offset=".356" stop-color="#430000"/><stop offset=".438" stop-color="#2c0000"/><stop offset=".519" stop-color="#270000"/><stop offset=".6" stop-color="#340000"/><stop offset=".681" stop-color="#530000"/><stop offset=".763" stop-color="#840000"/><stop offset=".844" stop-color="#c70000"/><stop offset=".9" stop-color="#ff0100"/><stop offset=".981" stop-color="#ff6300"/><stop offset="1" stop-color="#ff7c00"/></linearGradient><linearGradient id="s55" gradientUnits="userSpaceOnUse" x1="226.3" x2="425"><stop offset="0" stop-color="#ff8200"/><stop offset=".081" stop-color="#ff1c00"/><stop offset=".106" stop-color="#ff0100"/><stop offset=".194" stop-color="#ac0000"/><stop offset=".275" stop-color="#720000"/><stop offset=".356" stop-color="#490000"/><stop offset=".438" stop-color="#320000"/><stop offset=".519" stop-color="#2d0000"/><stop offset=".6" stop-color="#3a0000"/><stop offset=".681" stop-color="#590000"/><stop offset=".763" stop-color="#8a0000"/><stop offset=".844" stop-color="#cd0000"/><stop offset=".894" stop-color="#ff0100"/><stop offset=".975" stop-color="#ff6100"/><stop offset="1" stop-color="#ff8200"/></linearGradient><linearGradient id="s56" gradientUnits="userSpaceOnUse" x1="228.2" x2="426.9"><stop offset="0" stop-color="#ff8800"/><stop offset=".081" stop-color="#ff2300"/><stop offset=".113" stop-color="#ff0000"/><stop offset=".2" stop-color="#ad0000"/><stop offset=".281" stop-color="#740000"/><stop offset=".363" stop-color="#4d0000"/><stop offset=".444" stop-color="#370000"/><stop offset=".525" stop-color="#340000"/><stop offset=".606" stop-color="#420000"/><stop offset=".688" stop-color="#630000"/><stop offset=".769" stop-color="#950000"/><stop offset=".85" stop-color="#da0000"/><stop offset=".888" stop-color="#ff0000"/><stop offset=".969" stop-color="#ff5f00"/><stop offset="1" stop-color="#ff8800"/></linearGradient><linearGradient id="s57" gradientUnits="userSpaceOnUse" x1="230.1" x2="428.8"><stop offset="0" stop-color="#ff8f00"/><stop offset=".081" stop-color="#ff2900"/><stop offset=".119" stop-color="#ff0100"/><stop offset=".206" stop-color="#af0000"/><stop offset=".288" stop-color="#770000"/><stop offset=".369" stop-color="#510000"/><stop offset=".45" stop-color="#3d0000"/><stop offset=".531" stop-color="#3b0000"/><stop offset=".613" stop-color="#4b0000"/><stop offset=".694" stop-color="#6d0000"/><stop offset=".775" stop-color="#a10000"/><stop offset=".856" stop-color="#e60000"/><stop offset=".881" stop-color="#ff0100"/><stop offset=".963" stop-color="#ff5e00"/><stop offset="1" stop-color="#ff8f00"/></linearGradient><linearGradient id="s58" gradientUnits="userSpaceOnUse" x1="232" x2="430.7"><stop offset="0" stop-color="#ff9600"/><stop offset=".081" stop-color="#ff3100"/><stop offset=".125" stop-color="#ff0100"/><stop offset=".219" stop-color="#ad0000"/><stop offset=".3" stop-color="#770000"/><stop offset=".381" stop-color="#540000"/><stop offset=".463" stop-color="#430000"/><stop offset=".544" stop-color="#440000"/><stop offset=".625" stop-color="#560000"/><stop offset=".706" stop-color="#7b0000"/><stop offset=".788" stop-color="#b10000"/><stop offset=".875" stop-color="#ff0100"/><stop offset=".956" stop-color="#ff5d00"/><stop offset="1" stop-color="#ff9600"/></linearGradient><linearGradient id="s59" gradientUnits="userSpaceOnUse" x1="233.9" x2="432.6"><stop offset="0" stop-color="#ff9e00"/><stop offset=".081" stop-color="#ff3800"/><stop offset=".131" stop-color="#ff0300"/><stop offset=".231" stop-color="#ab0000"/><stop offset=".312" stop-color="#790000"/><stop offset=".394" stop-color="#580000"/><stop offset=".475" stop-color="#4a0000"/><stop offset=".556" stop-color="#4d0000"/><stop offset=".638" stop-color="#620000"/><stop offset=".719" stop-color="#8a0000"/><stop offset=".8" stop-color="#c30000"/><stop offset=".869" stop-color="#ff0300"/><stop offset=".95" stop-color="#ff5d00"/><stop offset="1" stop-color="#ff9e00"/></linearGradient><linearGradient id="s60" gradientUnits="userSpaceOnUse" x1="235.8" x2="434.5"><stop offset="0" stop-color="#ffa600"/><stop offset=".081" stop-color="#ff4000"/><stop offset=".144" stop-color="#fd0000"/><stop offset=".225" stop-color="#b80000"/><stop offset=".306" stop-color="#840000"/><stop offset=".388" stop-color="#620000"/><stop offset=".469" stop-color="#520000"/><stop offset=".55" stop-color="#540000"/><stop offset=".631" stop-color="#680000"/><stop offset=".713" stop-color="#8e0000"/><stop offset=".794" stop-color="#c60000"/><stop offset=".856" stop-color="#fd0000"/><stop offset=".919" stop-color="#ff4000"/><stop offset="1" stop-color="#ffa600"/></linearGradient><linearGradient id="s61" gradientUnits="userSpaceOnUse" x1="237.6" x2="436.3"><stop offset="0" stop-color="#ffae00"/><stop offset=".081" stop-color="#ff4900"/><stop offset=".15" stop-color="#ff0100"/><stop offset=".238" stop-color="#b70000"/><stop offset=".319" stop-color="#860000"/><stop offset=".4" stop-color="#670000"/><stop offset=".481" stop-color="#5a0000"/><stop offset=".562" stop-color="#5f0000"/><stop offset=".644" stop-color="#750000"/><stop offset=".725" stop-color="#9e0000"/><stop offset=".806" stop-color="#d90000"/><stop offset=".85" stop-color="#ff0100"/><stop offset=".931" stop-color="#ff5700"/><stop offset="1" stop-color="#ffae00"/></linearGradient><linearGradient id="s62" gradientUnits="userSpaceOnUse" x1="239.5" x2="438.2"><stop offset="0" stop-color="#ffb700"/><stop offset=".081" stop-color="#ff5200"/><stop offset=".156" stop-color="#ff0400"/><stop offset=".169" stop-color="#f70000"/><stop offset=".25" stop-color="#b70000"/><stop offset=".331" stop-color="#890000"/><stop offset=".413" stop-color="#6d0000"/><stop offset=".494" stop-color="#620000"/><stop offset=".575" stop-color="#6a0000"/><stop offset=".656" stop-color="#830000"/><stop offset=".738" stop-color="#af0000"/><stop offset=".819" stop-color="#ec0000"/><stop offset=".838" stop-color="#fd0000"/><stop offset=".9" stop-color="#ff3d00"/><stop offset=".981" stop-color="#ff9e00"/><stop offset="1" stop-color="#ffb700"/></linearGradient><linearGradient id="s63" gradientUnits="userSpaceOnUse" x1="241.4" x2="440.1"><stop offset="0" stop-color="#ffc100"/><stop offset=".081" stop-color="#ff5b00"/><stop offset=".163" stop-color="#ff0700"/><stop offset=".175" stop-color="#fb0000"/><stop offset=".256" stop-color="#bc0000"/><stop offset=".338" stop-color="#8f0000"/><stop offset=".419" stop-color="#750000"/><stop offset=".5" stop-color="#6c0000"/><stop offset=".581" stop-color="#750000"/><stop offset=".663" stop-color="#8f0000"/><stop offset=".744" stop-color="#bc0000"/><stop offset=".831" stop-color="#ff0200"/><stop offset=".913" stop-color="#ff5400"/><stop offset=".994" stop-color="#ffb800"/><stop offset="1" stop-color="#ffc100"/></linearGradient><linearGradient id="s64" gradientUnits="userSpaceOnUse" x1="243.3" x2="442"><stop offset="0" stop-color="#ffca00"/><stop offset=".081" stop-color="#ff6500"/><stop offset=".163" stop-color="#ff1100"/><stop offset=".181" stop-color="#ff0100"/><stop offset=".269" stop-color="#be0000"/><stop offset=".35" stop-color="#940000"/><stop offset=".431" stop-color="#7c0000"/><stop offset=".513" stop-color="#760000"/><stop offset=".594" stop-color="#810000"/><stop offset=".675" stop-color="#9f0000"/><stop offset=".756" stop-color="#cf0000"/><stop offset=".819" stop-color="#ff0100"/><stop offset=".9" stop-color="#ff5000"/><stop offset=".981" stop-color="#ffb100"/><stop offset="1" stop-color="#ffca00"/></linearGradient><linearGradient id="s65" gradientUnits="userSpaceOnUse" x1="245.2" x2="443.9"><stop offset="0" stop-color="#ffd500"/><stop offset=".081" stop-color="#ff6f00"/><stop offset=".163" stop-color="#ff1b00"/><stop offset=".194" stop-color="#ff0000"/><stop offset=".275" stop-color="#c40000"/><stop offset=".356" stop-color="#9c0000"/><stop offset=".438" stop-color="#850000"/><stop offset=".519" stop-color="#800000"/><stop offset=".6" stop-color="#8d0000"/><stop offset=".681" stop-color="#ac0000"/><stop offset=".763" stop-color="#dd0000"/><stop offset=".806" stop-color="#ff0000"/><stop offset=".888" stop-color="#ff4d00"/><stop offset=".969" stop-color="#ffab00"/><stop offset="1" stop-color="#ffd500"/></linearGradient><linearGradient id="s66" gradientUnits="userSpaceOnUse" x1="247.1" x2="445.8"><stop offset="0" stop-color="#ffdf00"/><stop offset=".081" stop-color="#ff7a00"/><stop offset=".163" stop-color="#ff2600"/><stop offset=".206" stop-color="#ff0100"/><stop offset=".294" stop-color="#c40000"/><stop offset=".375" stop-color="#9f0000"/><stop offset=".456" stop-color="#8d0000"/><stop offset=".537" stop-color="#8c0000"/><stop offset=".619" stop-color="#9d0000"/><stop offset=".7" stop-color="#c10000"/><stop offset=".781" stop-color="#f60000"/><stop offset=".794" stop-color="#ff0100"/><stop offset=".875" stop-color="#ff4a00"/><stop offset=".956" stop-color="#ffa600"/><stop offset="1" stop-color="#ffdf00"/></linearGradient><linearGradient id="s67" gradientUnits="userSpaceOnUse" x1="249" x2="447.7"><stop offset="0" stop-color="#ffea00"/><stop offset=".081" stop-color="#ff8500"/><stop offset=".163" stop-color="#ff3100"/><stop offset=".219" stop-color="#ff0200"/><stop offset=".312" stop-color="#c50000"/><stop offset=".394" stop-color="#a50000"/><stop offset=".475" stop-color="#960000"/><stop offset=".556" stop-color="#9a0000"/><stop offset=".638" stop-color="#af0000"/><stop offset=".719" stop-color="#d60000"/><stop offset=".781" stop-color="#ff0200"/><stop offset=".863" stop-color="#ff4900"/><stop offset=".944" stop-color="#ffa200"/><stop offset="1" stop-color="#ffea00"/></linearGradient><linearGradient id="s68" gradientUnits="userSpaceOnUse" x1="250.9" x2="449.6"><stop offset="0" stop-color="#fff600"/><stop offset=".081" stop-color="#ff9000"/><stop offset=".163" stop-color="#ff3d00"/><stop offset=".238" stop-color="#fe0000"/><stop offset=".319" stop-color="#cd0000"/><stop offset=".4" stop-color="#ae0000"/><stop offset=".481" stop-color="#a10000"/><stop offset=".562" stop-color="#a60000"/><stop offset=".644" stop-color="#bd0000"/><stop offset=".725" stop-color="#e60000"/><stop offset=".763" stop-color="#fe0000"/><stop offset=".838" stop-color="#ff3d00"/><stop offset=".919" stop-color="#ff9000"/><stop offset="1" stop-color="#fff600"/></linearGradient><linearGradient id="s69" gradientUnits="userSpaceOnUse" x1="252.8" x2="451.5"><stop offset="0" stop-color="#ffff04"/><stop offset=".013" stop-color="#fff100"/><stop offset=".094" stop-color="#ff8e00"/><stop offset=".175" stop-color="#ff3d00"/><stop offset=".25" stop-color="#ff0300"/><stop offset=".35" stop-color="#cb0000"/><stop offset=".431" stop-color="#b30000"/><stop offset=".513" stop-color="#ad0000"/><stop offset=".594" stop-color="#b90000"/><stop offset=".675" stop-color="#d60000"/><stop offset=".75" stop-color="#ff0300"/><stop offset=".831" stop-color="#ff4300"/><stop offset=".913" stop-color="#ff9500"/><stop offset=".994" stop-color="#fff900"/><stop offset="1" stop-color="#ffff04"/></linearGradient><linearGradient id="s70" gradientUnits="userSpaceOnUse" x1="254.7" x2="453.4"><stop offset="0" stop-color="#ffff16"/><stop offset=".013" stop-color="#fffd00"/><stop offset=".094" stop-color="#ff9a00"/><stop offset=".175" stop-color="#ff4a00"/><stop offset=".256" stop-color="#ff0b00"/><stop offset=".275" stop-color="#fe0000"/><stop offset=".356" stop-color="#d50000"/><stop offset=".438" stop-color="#be0000"/><stop offset=".519" stop-color="#b90000"/><stop offset=".6" stop-color="#c70000"/><stop offset=".681" stop-color="#e60000"/><stop offset=".731" stop-color="#ff0300"/><stop offset=".812" stop-color="#ff3f00"/><stop offset=".894" stop-color="#ff8d00"/><stop offset=".975" stop-color="#ffed00"/><stop offset=".988" stop-color="#fffd00"/><stop offset="1" stop-color="#ffff16"/></linearGradient><linearGradient id="s71" gradientUnits="userSpaceOnUse" x1="256.6" x2="455.3"><stop offset="0" stop-color="#ffff2a"/><stop offset=".019" stop-color="#ffff04"/><stop offset=".031" stop-color="#fff200"/><stop offset=".113" stop-color="#ff9300"/><stop offset=".194" stop-color="#ff4600"/><stop offset=".275" stop-color="#ff0c00"/><stop offset=".3" stop-color="#fc0000"/><stop offset=".381" stop-color="#d90000"/><stop offset=".463" stop-color="#c80000"/><stop offset=".544" stop-color="#c80000"/><stop offset=".625" stop-color="#db0000"/><stop offset=".706" stop-color="#ff0100"/><stop offset=".788" stop-color="#ff3700"/><stop offset=".869" stop-color="#ff8000"/><stop offset=".95" stop-color="#ffda00"/><stop offset=".975" stop-color="#fffa00"/><stop offset=".981" stop-color="#ffff04"/><stop offset="1" stop-color="#ffff2a"/></linearGradient><linearGradient id="s72" gradientUnits="userSpaceOnUse" x1="258.5" x2="457.2"><stop offset="0" stop-color="#ffff3d"/><stop offset=".031" stop-color="#ffff00"/><stop offset=".113" stop-color="#ffa000"/><stop offset=".194" stop-color="#ff5300"/><stop offset=".275" stop-color="#ff1900"/><stop offset=".319" stop-color="#ff0100"/><stop offset=".406" stop-color="#df0000"/><stop offset=".488" stop-color="#d30000"/><stop offset=".569" stop-color="#d90000"/><stop offset=".65" stop-color="#f10000"/><stop offset=".681" stop-color="#ff0100"/><stop offset=".763" stop-color="#ff3200"/><stop offset=".844" stop-color="#ff7500"/><stop offset=".925" stop-color="#ffca00"/><stop offset=".969" stop-color="#ffff00"/><stop offset="1" stop-color="#ffff3d"/></linearGradient><linearGradient id="s73" gradientUnits="userSpaceOnUse" x1="260.4" x2="459.1"><stop offset="0" stop-color="#ffff52"/><stop offset=".038" stop-color="#ffff08"/><stop offset=".044" stop-color="#fffd00"/><stop offset=".125" stop-color="#ffa100"/><stop offset=".206" stop-color="#ff5700"/><stop offset=".288" stop-color="#ff1f00"/><stop offset=".35" stop-color="#ff0000"/><stop offset=".431" stop-color="#e70000"/><stop offset=".513" stop-color="#e10000"/><stop offset=".594" stop-color="#ec0000"/><stop offset=".656" stop-color="#ff0300"/><stop offset=".738" stop-color="#ff2e00"/><stop offset=".819" stop-color="#ff6c00"/><stop offset=".9" stop-color="#ffbb00"/><stop offset=".956" stop-color="#fffd00"/><stop offset=".969" stop-color="#ffff14"/><stop offset="1" stop-color="#ffff52"/></linearGradient><linearGradient id="s74" gradientUnits="userSpaceOnUse" x1="262.3" x2="461"><stop offset="0" stop-color="#ffff67"/><stop offset=".05" stop-color="#ffff06"/><stop offset=".056" stop-color="#fffb00"/><stop offset=".138" stop-color="#ffa200"/><stop offset=".219" stop-color="#ff5b00"/><stop offset=".3" stop-color="#ff2600"/><stop offset=".381" stop-color="#ff0300"/><stop offset=".481" stop-color="#ef0000"/><stop offset=".562" stop-color="#f40000"/><stop offset=".619" stop-color="#ff0300"/><stop offset=".7" stop-color="#ff2600"/><stop offset=".781" stop-color="#ff5b00"/><stop offset=".863" stop-color="#ffa200"/><stop offset=".944" stop-color="#fffb00"/><stop offset=".95" stop-color="#ffff06"/><stop offset="1" stop-color="#ffff67"/></linearGradient><linearGradient id="s75" gradientUnits="userSpaceOnUse" x1="264.2" x2="462.9"><stop offset="0" stop-color="#ffff7c"/><stop offset=".062" stop-color="#ffff05"/><stop offset=".075" stop-color="#fff400"/><stop offset=".156" stop-color="#ff9f00"/><stop offset=".238" stop-color="#ff5c00"/><stop offset=".319" stop-color="#ff2b00"/><stop offset=".4" stop-color="#ff0c00"/><stop offset=".469" stop-color="#fe0000"/><stop offset=".562" stop-color="#ff0300"/><stop offset=".644" stop-color="#ff1a00"/><stop offset=".725" stop-color="#ff4300"/><stop offset=".806" stop-color="#ff7d00"/><stop offset=".888" stop-color="#ffca00"/><stop offset=".931" stop-color="#fffb00"/><stop offset=".938" stop-color="#ffff05"/><stop offset="1" stop-color="#ffff7c"/></linearGradient><linearGradient id="s76" gradientUnits="userSpaceOnUse" x1="266.1" x2="464.8"><stop offset="0" stop-color="#ffff93"/><stop offset=".069" stop-color="#ffff10"/><stop offset=".075" stop-color="#ffff05"/><stop offset=".081" stop-color="#fffb00"/><stop offset=".163" stop-color="#ffa800"/><stop offset=".244" stop-color="#ff6600"/><stop offset=".325" stop-color="#ff3600"/><stop offset=".406" stop-color="#ff1900"/><stop offset=".488" stop-color="#ff0d00"/><stop offset=".569" stop-color="#ff1300"/><stop offset=".65" stop-color="#ff2b00"/><stop offset=".731" stop-color="#ff5600"/><stop offset=".812" stop-color="#ff9200"/><stop offset=".894" stop-color="#ffe000"/><stop offset=".919" stop-color="#fffb00"/><stop offset=".925" stop-color="#ffff05"/><stop offset=".994" stop-color="#ffff86"/><stop offset="1" stop-color="#ffff93"/></linearGradient><linearGradient id="s77" gradientUnits="userSpaceOnUse" x1="268" x2="466.7"><stop offset="0" stop-color="#ffffaa"/><stop offset=".069" stop-color="#ffff27"/><stop offset=".088" stop-color="#ffff07"/><stop offset=".094" stop-color="#fffd00"/><stop offset=".175" stop-color="#ffac00"/><stop offset=".256" stop-color="#ff6d00"/><stop offset=".338" stop-color="#ff4000"/><stop offset=".419" stop-color="#ff2500"/><stop offset=".5" stop-color="#ff1c00"/><stop offset=".581" stop-color="#ff2500"/><stop offset=".663" stop-color="#ff4000"/><stop offset=".744" stop-color="#ff6d00"/><stop offset=".825" stop-color="#ffac00"/><stop offset=".906" stop-color="#fffd00"/><stop offset=".919" stop-color="#ffff11"/><stop offset=".988" stop-color="#ffff90"/><stop offset="1" stop-color="#ffffaa"/></linearGradient><linearGradient id="s78" gradientUnits="userSpaceOnUse" x1="269.9" x2="468.6"><stop offset="0" stop-color="#ffffc1"/><stop offset=".069" stop-color="#ffff3f"/><stop offset=".106" stop-color="#ffff00"/><stop offset=".188" stop-color="#ffb100"/><stop offset=".269" stop-color="#ff7500"/><stop offset=".35" stop-color="#ff4a00"/><stop offset=".431" stop-color="#ff3200"/><stop offset=".513" stop-color="#ff2c00"/><stop offset=".594" stop-color="#ff3800"/><stop offset=".675" stop-color="#ff5500"/><stop offset=".756" stop-color="#ff8500"/><stop offset=".838" stop-color="#ffc700"/><stop offset=".894" stop-color="#ffff00"/><stop offset=".956" stop-color="#ffff6c"/><stop offset="1" stop-color="#ffffc1"/></linearGradient><linearGradient id="s79" gradientUnits="userSpaceOnUse" x1="271.8" x2="470.5"><stop offset="0" stop-color="#ffffd9"/><stop offset=".069" stop-color="#ffff57"/><stop offset=".119" stop-color="#ffff04"/><stop offset=".131" stop-color="#fff500"/><stop offset=".213" stop-color="#ffac00"/><stop offset=".294" stop-color="#ff7600"/><stop offset=".375" stop-color="#ff5100"/><stop offset=".456" stop-color="#ff3f00"/><stop offset=".537" stop-color="#ff3e00"/><stop offset=".619" stop-color="#ff4f00"/><stop offset=".7" stop-color="#ff7200"/><stop offset=".781" stop-color="#ffa800"/><stop offset=".863" stop-color="#ffef00"/><stop offset=".875" stop-color="#fffb00"/><stop offset=".881" stop-color="#ffff04"/><stop offset=".95" stop-color="#ffff79"/><stop offset="1" stop-color="#ffffd9"/></linearGradient><linearGradient id="s80" gradientUnits="userSpaceOnUse" x1="273.7" x2="472.4"><stop offset="0" stop-color="#fffff2"/><stop offset=".069" stop-color="#ffff70"/><stop offset=".138" stop-color="#ffff00"/><stop offset=".225" stop-color="#ffb300"/><stop offset=".306" stop-color="#ff8000"/><stop offset=".388" stop-color="#ff5e00"/><stop offset=".469" stop-color="#ff4e00"/><stop offset=".55" stop-color="#ff5000"/><stop offset=".631" stop-color="#ff6400"/><stop offset=".713" stop-color="#ff8a00"/><stop offset=".794" stop-color="#ffc200"/><stop offset=".863" stop-color="#ffff00"/><stop offset=".931" stop-color="#ffff70"/><stop offset="1" stop-color="#fffff2"/></linearGradient><linearGradient id="s81" gradientUnits="userSpaceOnUse" x1="1144.1" x2="1337.9"><stop offset="0" stop-color="#fffff2"/><stop offset=".119" stop-color="#ffff05"/><stop offset=".125" stop-color="#fffa00"/><stop offset=".312" stop-color="#ff0100"/><stop offset=".5" stop-color="#070000"/><stop offset=".688" stop-color="#ff0100"/><stop offset=".875" stop-color="#fffa00"/><stop offset=".881" stop-color="#ffff05"/><stop offset="1" stop-color="#fffff2"/></linearGradient><linearGradient id="s82" gradientUnits="userSpaceOnUse" x1="1146" x2="1339.8"><stop offset="0" stop-color="#ffffd9"/><stop offset=".113" stop-color="#fffe00"/><stop offset=".306" stop-color="#ff0300"/><stop offset=".419" stop-color="#700000"/><stop offset=".5" stop-color="#060000"/><stop offset=".688" stop-color="#fa0000"/><stop offset=".694" stop-color="#ff0300"/><stop offset=".888" stop-color="#fffe00"/><stop offset="1" stop-color="#ffffd9"/></linearGradient><linearGradient id="s83" gradientUnits="userSpaceOnUse" x1="1147.8" x2="1341.6"><stop offset="0" stop-color="#ffffc0"/><stop offset=".1" stop-color="#ffff02"/><stop offset=".3" stop-color="#ff0400"/><stop offset=".312" stop-color="#f30000"/><stop offset=".5" stop-color="#060000"/><stop offset=".694" stop-color="#fb0000"/><stop offset=".706" stop-color="#ff0c00"/><stop offset=".9" stop-color="#ffff02"/><stop offset="1" stop-color="#ffffc0"/></linearGradient><linearGradient id="s84" gradientUnits="userSpaceOnUse" x1="1149.7" x2="1343.5"><stop offset="0" stop-color="#ffffa7"/><stop offset=".088" stop-color="#ffff05"/><stop offset=".094" stop-color="#fffb00"/><stop offset=".294" stop-color="#ff0500"/><stop offset=".306" stop-color="#f40000"/><stop offset=".5" stop-color="#060000"/><stop offset=".7" stop-color="#fc0000"/><stop offset=".744" stop-color="#ff3300"/><stop offset=".906" stop-color="#fffb00"/><stop offset=".913" stop-color="#ffff05"/><stop offset="1" stop-color="#ffffa7"/></linearGradient><linearGradient id="s85" gradientUnits="userSpaceOnUse" x1="1151.5" x2="1345.3"><stop offset="0" stop-color="#ffff8d"/><stop offset=".075" stop-color="#ffff07"/><stop offset=".081" stop-color="#fffc00"/><stop offset=".294" stop-color="#fd0000"/><stop offset=".5" stop-color="#060000"/><stop offset=".706" stop-color="#fd0000"/><stop offset=".919" stop-color="#fffc00"/><stop offset=".931" stop-color="#ffff12"/><stop offset="1" stop-color="#ffff8d"/></linearGradient><linearGradient id="s86" gradientUnits="userSpaceOnUse" x1="1153.4" x2="1347.2"><stop offset="0" stop-color="#ffff74"/><stop offset=".062" stop-color="#ffff07"/><stop offset=".069" stop-color="#fffc00"/><stop offset=".288" stop-color="#fd0000"/><stop offset=".5" stop-color="#060000"/><stop offset=".713" stop-color="#fd0000"/><stop offset=".931" stop-color="#fffc00"/><stop offset=".944" stop-color="#ffff12"/><stop offset="1" stop-color="#ffff74"/></linearGradient><linearGradient id="s87" gradientUnits="userSpaceOnUse" x1="1155.3" x2="1349.1"><stop offset="0" stop-color="#ffff5b"/><stop offset=".05" stop-color="#ffff06"/><stop offset=".056" stop-color="#fffc00"/><stop offset=".281" stop-color="#fd0000"/><stop offset=".5" stop-color="#060000"/><stop offset=".719" stop-color="#fd0000"/><stop offset=".944" stop-color="#fffc00"/><stop offset=".956" stop-color="#ffff11"/><stop offset="1" stop-color="#ffff5b"/></linearGradient><linearGradient id="s88" gradientUnits="userSpaceOnUse" x1="1157.1" x2="1350.9"><stop offset="0" stop-color="#ffff42"/><stop offset=".038" stop-color="#ffff04"/><stop offset=".05" stop-color="#fff400"/><stop offset=".269" stop-color="#ff0400"/><stop offset=".281" stop-color="#f50000"/><stop offset=".5" stop-color="#050000"/><stop offset=".725" stop-color="#fc0000"/><stop offset=".775" stop-color="#ff3400"/><stop offset=".956" stop-color="#fffb00"/><stop offset=".963" stop-color="#ffff04"/><stop offset="1" stop-color="#ffff42"/></linearGradient><linearGradient id="s89" gradientUnits="userSpaceOnUse" x1="1159" x2="1352.8"><stop offset="0" stop-color="#ffff28"/><stop offset=".025" stop-color="#ffff00"/><stop offset=".263" stop-color="#ff0300"/><stop offset=".319" stop-color="#c60000"/><stop offset=".5" stop-color="#050000"/><stop offset=".731" stop-color="#fb0000"/><stop offset=".744" stop-color="#ff0900"/><stop offset=".975" stop-color="#ffff00"/><stop offset="1" stop-color="#ffff28"/></linearGradient><linearGradient id="s90" gradientUnits="userSpaceOnUse" x1="1160.8" x2="1354.6"><stop offset="0" stop-color="#ffff0f"/><stop offset=".013" stop-color="#fffc00"/><stop offset=".256" stop-color="#ff0100"/><stop offset=".5" stop-color="#050000"/><stop offset=".744" stop-color="#ff0100"/><stop offset=".988" stop-color="#fffc00"/><stop offset="1" stop-color="#ffff0f"/></linearGradient><linearGradient id="s91" gradientUnits="userSpaceOnUse" x1="1162.7" x2="1356.5"><stop offset="0" stop-color="#fff800"/><stop offset=".25" stop-color="#fe0000"/><stop offset=".5" stop-color="#050000"/><stop offset=".75" stop-color="#fe0000"/><stop offset="1" stop-color="#fff800"/></linearGradient><linearGradient id="s92" gradientUnits="userSpaceOnUse" x1="1164.5" x2="1358.3"><stop offset="0" stop-color="#ffe700"/><stop offset=".238" stop-color="#ff0300"/><stop offset=".369" stop-color="#830000"/><stop offset=".5" stop-color="#050000"/><stop offset=".756" stop-color="#fc0000"/><stop offset=".775" stop-color="#ff0f00"/><stop offset="1" stop-color="#ffe700"/></linearGradient><linearGradient id="s93" gradientUnits="userSpaceOnUse" x1="1166.4" x2="1360.2"><stop offset="0" stop-color="#ffd700"/><stop offset=".231" stop-color="#ff0000"/><stop offset=".5" stop-color="#050000"/><stop offset=".769" stop-color="#ff0000"/><stop offset="1" stop-color="#ffd700"/></linearGradient><linearGradient id="s94" gradientUnits="userSpaceOnUse" x1="1168.2" x2="1362"><stop offset="0" stop-color="#ffc600"/><stop offset=".219" stop-color="#ff0200"/><stop offset=".5" stop-color="#040000"/><stop offset=".781" stop-color="#ff0200"/><stop offset="1" stop-color="#ffc600"/></linearGradient><linearGradient id="s95" gradientUnits="userSpaceOnUse" x1="1170.1" x2="1363.9"><stop offset="0" stop-color="#ffb500"/><stop offset=".213" stop-color="#fc0000"/><stop offset=".5" stop-color="#040000"/><stop offset=".788" stop-color="#fc0000"/><stop offset="1" stop-color="#ffb500"/></linearGradient><linearGradient id="s96" gradientUnits="userSpaceOnUse" x1="1172" x2="1365.8"><stop offset="0" stop-color="#ffa400"/><stop offset=".2" stop-color="#fd0000"/><stop offset=".5" stop-color="#040000"/><stop offset=".8" stop-color="#fd0000"/><stop offset="1" stop-color="#ffa400"/></linearGradient><linearGradient id="s97" gradientUnits="userSpaceOnUse" x1="1173.8" x2="1367.6"><stop offset="0" stop-color="#ff9300"/><stop offset=".188" stop-color="#fd0000"/><stop offset=".5" stop-color="#040000"/><stop offset=".812" stop-color="#fd0000"/><stop offset="1" stop-color="#ff9300"/></linearGradient><linearGradient id="s98" gradientUnits="userSpaceOnUse" x1="1175.7" x2="1369.5"><stop offset="0" stop-color="#ff8200"/><stop offset=".169" stop-color="#ff0200"/><stop offset=".5" stop-color="#040000"/><stop offset=".831" stop-color="#ff0200"/><stop offset="1" stop-color="#ff8200"/></linearGradient><linearGradient id="s99" gradientUnits="userSpaceOnUse" x1="1177.5" x2="1371.3"><stop offset="0" stop-color="#ff7200"/><stop offset=".156" stop-color="#ff0000"/><stop offset=".5" stop-color="#040000"/><stop offset=".844" stop-color="#ff0000"/><stop offset="1" stop-color="#ff7200"/></linearGradient><linearGradient id="s100" gradientUnits="userSpaceOnUse" x1="1179.4" x2="1373.2"><stop offset="0" stop-color="#ff6100"/><stop offset=".138" stop-color="#ff0100"/><stop offset=".5" stop-color="#030000"/><stop offset=".863" stop-color="#ff0100"/><stop offset="1" stop-color="#ff6100"/></linearGradient><linearGradient id="s101" gradientUnits="userSpaceOnUse" x1="1181.2" x2="1375"><stop offset="0" stop-color="#ff5000"/><stop offset=".119" stop-color="#ff0100"/><stop offset=".5" stop-color="#030000"/><stop offset=".881" stop-color="#ff0100"/><stop offset="1" stop-color="#ff5000"/></linearGradient><linearGradient id="s102" gradientUnits="userSpaceOnUse" x1="1183.1" x2="1376.9"><stop offset="0" stop-color="#ff3f00"/><stop offset=".1" stop-color="#ff0000"/><stop offset=".5" stop-color="#030000"/><stop offset=".9" stop-color="#ff0000"/><stop offset="1" stop-color="#ff3f00"/></linearGradient><linearGradient id="s103" gradientUnits="userSpaceOnUse" x1="1184.9" x2="1378.7"><stop offset="0" stop-color="#ff2e00"/><stop offset=".081" stop-color="#fd0000"/><stop offset=".5" stop-color="#030000"/><stop offset=".925" stop-color="#ff0100"/><stop offset="1" stop-color="#ff2e00"/></linearGradient><linearGradient id="s104" gradientUnits="userSpaceOnUse" x1="1186.8" x2="1380.6"><stop offset="0" stop-color="#ff1d00"/><stop offset=".056" stop-color="#fd0000"/><stop offset=".5" stop-color="#030000"/><stop offset=".95" stop-color="#ff0100"/><stop offset="1" stop-color="#ff1d00"/></linearGradient><linearGradient id="s105" gradientUnits="userSpaceOnUse" x1="1188.6" x2="1382.4"><stop offset="0" stop-color="#ff0d00"/><stop offset=".025" stop-color="#fe0000"/><stop offset=".5" stop-color="#030000"/><stop offset=".975" stop-color="#fe0000"/><stop offset="1" stop-color="#ff0d00"/></linearGradient><linearGradient id="s106" gradientUnits="userSpaceOnUse" x1="1190.5" x2="1384.3"><stop offset="0" stop-color="#fb0000"/><stop offset=".5" stop-color="#020000"/><stop offset="1" stop-color="#fb0000"/></linearGradient><linearGradient id="s107" gradientUnits="userSpaceOnUse" x1="1192.4" x2="1386.2"><stop offset="0" stop-color="#ea0000"/><stop offset=".5" stop-color="#020000"/><stop offset="1" stop-color="#ea0000"/></linearGradient><linearGradient id="s108" gradientUnits="userSpaceOnUse" x1="1194.2" x2="1388"><stop offset="0" stop-color="#d90000"/><stop offset=".5" stop-color="#020000"/><stop offset="1" stop-color="#d90000"/></linearGradient><linearGradient id="s109" gradientUnits="userSpaceOnUse" x1="1196.1" x2="1389.9"><stop offset="0" stop-color="#c80000"/><stop offset=".5" stop-color="#020000"/><stop offset="1" stop-color="#c80000"/></linearGradient><linearGradient id="s110" gradientUnits="userSpaceOnUse" x1="1197.9" x2="1391.7"><stop offset="0" stop-color="#b70000"/><stop offset=".5" stop-color="#020000"/><stop offset="1" stop-color="#b70000"/></linearGradient><linearGradient id="s111" gradientUnits="userSpaceOnUse" x1="1199.8" x2="1393.6"><stop offset="0" stop-color="#a70000"/><stop offset=".5" stop-color="#020000"/><stop offset="1" stop-color="#a70000"/></linearGradient><linearGradient id="s112" gradientUnits="userSpaceOnUse" x1="1201.6" x2="1395.4"><stop offset="0" stop-color="#960000"/><stop offset=".5" stop-color="#010000"/><stop offset="1" stop-color="#960000"/></linearGradient><linearGradient id="s113" gradientUnits="userSpaceOnUse" x1="1203.5" x2="1397.3"><stop offset="0" stop-color="#850000"/><stop offset=".5" stop-color="#010000"/><stop offset="1" stop-color="#850000"/></linearGradient><linearGradient id="s114" gradientUnits="userSpaceOnUse" x1="1205.3" x2="1399.1"><stop offset="0" stop-color="#740000"/><stop offset=".5" stop-color="#010000"/><stop offset="1" stop-color="#740000"/></linearGradient><linearGradient id="s115" gradientUnits="userSpaceOnUse" x1="1207.2" x2="1401"><stop offset="0" stop-color="#630000"/><stop offset=".506" stop-color="#020000"/><stop offset="1" stop-color="#630000"/></linearGradient><linearGradient id="s116" gradientUnits="userSpaceOnUse" x1="1209.1" x2="1402.9"><stop offset="0" stop-color="#520000"/><stop offset=".506" stop-color="#020000"/><stop offset="1" stop-color="#520000"/></linearGradient><linearGradient id="s117" gradientUnits="userSpaceOnUse" x1="1210.9" x2="1404.7"><stop offset="0" stop-color="#420000"/><stop offset=".506" stop-color="#010000"/><stop offset="1" stop-color="#420000"/></linearGradient><linearGradient id="s118" gradientUnits="userSpaceOnUse" x1="1212.8" x2="1406.6"><stop offset="0" stop-color="#310000"/><stop offset=".513" stop-color="#020000"/><stop offset="1" stop-color="#310000"/></linearGradient><linearGradient id="s119" gradientUnits="userSpaceOnUse" x1="1214.6" x2="1408.4"><stop offset="0" stop-color="#200000"/><stop offset=".519" stop-color="#010000"/><stop offset="1" stop-color="#200000"/></linearGradient><linearGradient id="s120" gradientUnits="userSpaceOnUse" x1="1216.5" x2="1410.3"><stop offset="0" stop-color="#0f0000"/><stop offset=".544" stop-color="#010000"/><stop offset="1" stop-color="#0f0000"/></linearGradient><linearGradient id="s121" gradientUnits="userSpaceOnUse" x1="1218.3" x2="1412.1"><stop offset="0" stop-color="#0f0000"/><stop offset=".544" stop-color="#010000"/><stop offset="1" stop-color="#0f0000"/></linearGradient><linearGradient id="s122" gradientUnits="userSpaceOnUse" x1="1220.2" x2="1414"><stop offset="0" stop-color="#200000"/><stop offset=".519" stop-color="#010000"/><stop offset="1" stop-color="#200000"/></linearGradient><linearGradient id="s123" gradientUnits="userSpaceOnUse" x1="1222" x2="1415.8"><stop offset="0" stop-color="#310000"/><stop offset=".513" stop-color="#020000"/><stop offset="1" stop-color="#310000"/></linearGradient><linearGradient id="s124" gradientUnits="userSpaceOnUse" x1="1223.9" x2="1417.7"><stop offset="0" stop-color="#420000"/><stop offset=".506" stop-color="#010000"/><stop offset="1" stop-color="#420000"/></linearGradient><linearGradient id="s125" gradientUnits="userSpaceOnUse" x1="1225.7" x2="1419.5"><stop offset="0" stop-color="#520000"/><stop offset=".506" stop-color="#020000"/><stop offset="1" stop-color="#520000"/></linearGradient><linearGradient id="s126" gradientUnits="userSpaceOnUse" x1="1227.6" x2="1421.4"><stop offset="0" stop-color="#630000"/><stop offset=".506" stop-color="#020000"/><stop offset="1" stop-color="#630000"/></linearGradient><linearGradient id="s127" gradientUnits="userSpaceOnUse" x1="1229.5" x2="1423.3"><stop offset="0" stop-color="#740000"/><stop offset=".5" stop-color="#010000"/><stop offset="1" stop-color="#740000"/></linearGradient><linearGradient id="s128" gradientUnits="userSpaceOnUse" x1="1231.3" x2="1425.1"><stop offset="0" stop-color="#850000"/><stop offset=".5" stop-color="#010000"/><stop offset="1" stop-color="#850000"/></linearGradient><linearGradient id="s129" gradientUnits="userSpaceOnUse" x1="1233.2" x2="1427"><stop offset="0" stop-color="#960000"/><stop offset=".5" stop-color="#010000"/><stop offset="1" stop-color="#960000"/></linearGradient><linearGradient id="s130" gradientUnits="userSpaceOnUse" x1="1235" x2="1428.8"><stop offset="0" stop-color="#a70000"/><stop offset=".5" stop-color="#020000"/><stop offset="1" stop-color="#a70000"/></linearGradient><linearGradient id="s131" gradientUnits="userSpaceOnUse" x1="1236.9" x2="1430.7"><stop offset="0" stop-color="#b70000"/><stop offset=".5" stop-color="#020000"/><stop offset="1" stop-color="#b70000"/></linearGradient><linearGradient id="s132" gradientUnits="userSpaceOnUse" x1="1238.7" x2="1432.5"><stop offset="0" stop-color="#c80000"/><stop offset=".5" stop-color="#020000"/><stop offset="1" stop-color="#c80000"/></linearGradient><linearGradient id="s133" gradientUnits="userSpaceOnUse" x1="1240.6" x2="1434.4"><stop offset="0" stop-color="#d90000"/><stop offset=".5" stop-color="#020000"/><stop offset="1" stop-color="#d90000"/></linearGradient><linearGradient id="s134" gradientUnits="userSpaceOnUse" x1="1242.4" x2="1436.2"><stop offset="0" stop-color="#ea0000"/><stop offset=".5" stop-color="#020000"/><stop offset="1" stop-color="#ea0000"/></linearGradient><linearGradient id="s135" gradientUnits="userSpaceOnUse" x1="1244.3" x2="1438.1"><stop offset="0" stop-color="#fb0000"/><stop offset=".5" stop-color="#020000"/><stop offset="1" stop-color="#fb0000"/></linearGradient><linearGradient id="s136" gradientUnits="userSpaceOnUse" x1="1246.2" x2="1440"><stop offset="0" stop-color="#ff0d00"/><stop offset=".025" stop-color="#fe0000"/><stop offset=".5" stop-color="#030000"/><stop offset=".975" stop-color="#fe0000"/><stop offset="1" stop-color="#ff0d00"/></linearGradient><linearGradient id="s137" gradientUnits="userSpaceOnUse" x1="1248" x2="1441.8"><stop offset="0" stop-color="#ff1d00"/><stop offset=".056" stop-color="#fd0000"/><stop offset=".5" stop-color="#030000"/><stop offset=".95" stop-color="#ff0100"/><stop offset="1" stop-color="#ff1d00"/></linearGradient><linearGradient id="s138" gradientUnits="userSpaceOnUse" x1="1249.9" x2="1443.7"><stop offset="0" stop-color="#ff2e00"/><stop offset=".081" stop-color="#fd0000"/><stop offset=".5" stop-color="#030000"/><stop offset=".925" stop-color="#ff0100"/><stop offset="1" stop-color="#ff2e00"/></linearGradient><linearGradient id="s139" gradientUnits="userSpaceOnUse" x1="1251.7" x2="1445.5"><stop offset="0" stop-color="#ff3f00"/><stop offset=".1" stop-color="#ff0000"/><stop offset=".5" stop-color="#030000"/><stop offset=".9" stop-color="#ff0000"/><stop offset="1" stop-color="#ff3f00"/></linearGradient><linearGradient id="s140" gradientUnits="userSpaceOnUse" x1="1253.6" x2="1447.4"><stop offset="0" stop-color="#ff5000"/><stop offset=".119" stop-color="#ff0100"/><stop offset=".5" stop-color="#030000"/><stop offset=".881" stop-color="#ff0100"/><stop offset="1" stop-color="#ff5000"/></linearGradient><linearGradient id="s141" gradientUnits="userSpaceOnUse" x1="1255.4" x2="1449.2"><stop offset="0" stop-color="#ff6100"/><stop offset=".138" stop-color="#ff0100"/><stop offset=".5" stop-color="#030000"/><stop offset=".863" stop-color="#ff0100"/><stop offset="1" stop-color="#ff6100"/></linearGradient><linearGradient id="s142" gradientUnits="userSpaceOnUse" x1="1257.3" x2="1451.1"><stop offset="0" stop-color="#ff7200"/><stop offset=".156" stop-color="#ff0000"/><stop offset=".5" stop-color="#040000"/><stop offset=".844" stop-color="#ff0000"/><stop offset="1" stop-color="#ff7200"/></linearGradient><linearGradient id="s143" gradientUnits="userSpaceOnUse" x1="1259.1" x2="1452.9"><stop offset="0" stop-color="#ff8200"/><stop offset=".169" stop-color="#ff0200"/><stop offset=".5" stop-color="#040000"/><stop offset=".831" stop-color="#ff0200"/><stop offset="1" stop-color="#ff8200"/></linearGradient><linearGradient id="s144" gradientUnits="userSpaceOnUse" x1="1261" x2="1454.8"><stop offset="0" stop-color="#ff9300"/><stop offset=".188" stop-color="#fd0000"/><stop offset=".5" stop-color="#040000"/><stop offset=".812" stop-color="#fd0000"/><stop offset="1" stop-color="#ff9300"/></linearGradient><linearGradient id="s145" gradientUnits="userSpaceOnUse" x1="1262.8" x2="1456.6"><stop offset="0" stop-color="#ffa400"/><stop offset=".2" stop-color="#fd0000"/><stop offset=".5" stop-color="#040000"/><stop offset=".8" stop-color="#fd0000"/><stop offset="1" stop-color="#ffa400"/></linearGradient><linearGradient id="s146" gradientUnits="userSpaceOnUse" x1="1264.7" x2="1458.5"><stop offset="0" stop-color="#ffb500"/><stop offset=".213" stop-color="#fc0000"/><stop offset=".5" stop-color="#040000"/><stop offset=".788" stop-color="#fc0000"/><stop offset="1" stop-color="#ffb500"/></linearGradient><linearGradient id="s147" gradientUnits="userSpaceOnUse" x1="1266.6" x2="1460.4"><stop offset="0" stop-color="#ffc600"/><stop offset=".219" stop-color="#ff0200"/><stop offset=".5" stop-color="#040000"/><stop offset=".781" stop-color="#ff0200"/><stop offset="1" stop-color="#ffc600"/></linearGradient><linearGradient id="s148" gradientUnits="userSpaceOnUse" x1="1268.4" x2="1462.2"><stop offset="0" stop-color="#ffd700"/><stop offset=".231" stop-color="#ff0000"/><stop offset=".5" stop-color="#050000"/><stop offset=".769" stop-color="#ff0000"/><stop offset="1" stop-color="#ffd700"/></linearGradient><linearGradient id="s149" gradientUnits="userSpaceOnUse" x1="1270.3" x2="1464.1"><stop offset="0" stop-color="#ffe700"/><stop offset=".238" stop-color="#ff0300"/><stop offset=".369" stop-color="#830000"/><stop offset=".5" stop-color="#050000"/><stop offset=".756" stop-color="#fc0000"/><stop offset=".775" stop-color="#ff0f00"/><stop offset="1" stop-color="#ffe700"/></linearGradient><linearGradient id="s150" gradientUnits="userSpaceOnUse" x1="1272.1" x2="1465.9"><stop offset="0" stop-color="#fff800"/><stop offset=".25" stop-color="#fe0000"/><stop offset=".5" stop-color="#050000"/><stop offset=".75" stop-color="#fe0000"/><stop offset="1" stop-color="#fff800"/></linearGradient><linearGradient id="s151" gradientUnits="userSpaceOnUse" x1="1274" x2="1467.8"><stop offset="0" stop-color="#ffff0f"/><stop offset=".013" stop-color="#fffc00"/><stop offset=".256" stop-color="#ff0100"/><stop offset=".5" stop-color="#050000"/><stop offset=".744" stop-color="#ff0100"/><stop offset=".988" stop-color="#fffc00"/><stop offset="1" stop-color="#ffff0f"/></linearGradient><linearGradient id="s152" gradientUnits="userSpaceOnUse" x1="1275.8" x2="1469.6"><stop offset="0" stop-color="#ffff28"/><stop offset=".025" stop-color="#ffff00"/><stop offset=".263" stop-color="#ff0300"/><stop offset=".319" stop-color="#c60000"/><stop offset=".5" stop-color="#050000"/><stop offset=".731" stop-color="#fb0000"/><stop offset=".744" stop-color="#ff0900"/><stop offset=".975" stop-color="#ffff00"/><stop offset="1" stop-color="#ffff28"/></linearGradient><linearGradient id="s153" gradientUnits="userSpaceOnUse" x1="1277.7" x2="1471.5"><stop offset="0" stop-color="#ffff42"/><stop offset=".038" stop-color="#ffff04"/><stop offset=".05" stop-color="#fff400"/><stop offset=".269" stop-color="#ff0400"/><stop offset=".281" stop-color="#f50000"/><stop offset=".5" stop-color="#050000"/><stop offset=".725" stop-color="#fc0000"/><stop offset=".775" stop-color="#ff3400"/><stop offset=".956" stop-color="#fffb00"/><stop offset=".963" stop-color="#ffff04"/><stop offset="1" stop-color="#ffff42"/></linearGradient><linearGradient id="s154" gradientUnits="userSpaceOnUse" x1="1279.5" x2="1473.3"><stop offset="0" stop-color="#ffff5b"/><stop offset=".05" stop-color="#ffff06"/><stop offset=".056" stop-color="#fffc00"/><stop offset=".281" stop-color="#fd0000"/><stop offset=".5" stop-color="#060000"/><stop offset=".719" stop-color="#fd0000"/><stop offset=".944" stop-color="#fffc00"/><stop offset=".956" stop-color="#ffff11"/><stop offset="1" stop-color="#ffff5b"/></linearGradient><linearGradient id="s155" gradientUnits="userSpaceOnUse" x1="1281.4" x2="1475.2"><stop offset="0" stop-color="#ffff74"/><stop offset=".062" stop-color="#ffff07"/><stop offset=".069" stop-color="#fffc00"/><stop offset=".288" stop-color="#fd0000"/><stop offset=".5" stop-color="#060000"/><stop offset=".713" stop-color="#fd0000"/><stop offset=".931" stop-color="#fffc00"/><stop offset=".944" stop-color="#ffff12"/><stop offset="1" stop-color="#ffff74"/></linearGradient><linearGradient id="s156" gradientUnits="userSpaceOnUse" x1="1283.3" x2="1477.1"><stop offset="0" stop-color="#ffff8d"/><stop offset=".075" stop-color="#ffff07"/><stop offset=".081" stop-color="#fffc00"/><stop offset=".294" stop-color="#fd0000"/><stop offset=".5" stop-color="#060000"/><stop offset=".706" stop-color="#fd0000"/><stop offset=".919" stop-color="#fffc00"/><stop offset=".931" stop-color="#ffff12"/><stop offset="1" stop-color="#ffff8d"/></linearGradient><linearGradient id="s157" gradientUnits="userSpaceOnUse" x1="1285.1" x2="1478.9"><stop offset="0" stop-color="#ffffa7"/><stop offset=".088" stop-color="#ffff05"/><stop offset=".094" stop-color="#fffb00"/><stop offset=".294" stop-color="#ff0500"/><stop offset=".306" stop-color="#f40000"/><stop offset=".5" stop-color="#060000"/><stop offset=".7" stop-color="#fc0000"/><stop offset=".744" stop-color="#ff3300"/><stop offset=".906" stop-color="#fffb00"/><stop offset=".913" stop-color="#ffff05"/><stop offset="1" stop-color="#ffffa7"/></linearGradient><linearGradient id="s158" gradientUnits="userSpaceOnUse" x1="1287" x2="1480.8"><stop offset="0" stop-color="#ffffc0"/><stop offset=".1" stop-color="#ffff02"/><stop offset=".3" stop-color="#ff0400"/><stop offset=".312" stop-color="#f30000"/><stop offset=".5" stop-color="#060000"/><stop offset=".694" stop-color="#fb0000"/><stop offset=".706" stop-color="#ff0c00"/><stop offset=".9" stop-color="#ffff02"/><stop offset="1" stop-color="#ffffc0"/></linearGradient><linearGradient id="s159" gradientUnits="userSpaceOnUse" x1="1288.8" x2="1482.6"><stop offset="0" stop-color="#ffffd9"/><stop offset=".113" stop-color="#fffe00"/><stop offset=".306" stop-color="#ff0300"/><stop offset=".419" stop-color="#700000"/><stop offset=".5" stop-color="#060000"/><stop offset=".688" stop-color="#fa0000"/><stop offset=".694" stop-color="#ff0300"/><stop offset=".888" stop-color="#fffe00"/><stop offset="1" stop-color="#ffffd9"/></linearGradient><linearGradient id="s160" gradientUnits="userSpaceOnUse" x1="1290.7" x2="1484.5"><stop offset="0" stop-color="#fffff2"/><stop offset=".119" stop-color="#ffff05"/><stop offset=".125" stop-color="#fffa00"/><stop offset=".312" stop-color="#ff0100"/><stop offset=".5" stop-color="#070000"/><stop offset=".688" stop-color="#ff0100"/><stop offset=".875" stop-color="#fffa00"/><stop offset=".881" stop-color="#ffff05"/><stop offset="1" stop-color="#fffff2"/></linearGradient><linearGradient id="s161" gradientUnits="userSpaceOnUse" x1="108.6" x2="312.6"><stop offset="0" stop-color="#850000"/><stop offset=".131" stop-color="#8d0000"/><stop offset=".263" stop-color="#a80000"/><stop offset=".394" stop-color="#d60000"/><stop offset=".481" stop-color="#ff0000"/><stop offset=".613" stop-color="#ff4e00"/><stop offset=".744" stop-color="#ffae00"/><stop offset=".838" stop-color="#fffe00"/><stop offset=".906" stop-color="#ffff5f"/><stop offset="1" stop-color="#fffff0"/></linearGradient><linearGradient id="s162" gradientUnits="userSpaceOnUse" x1="110.5" x2="314.5"><stop offset="0" stop-color="#7e0000"/><stop offset=".131" stop-color="#850000"/><stop offset=".263" stop-color="#9e0000"/><stop offset=".394" stop-color="#ca0000"/><stop offset=".506" stop-color="#ff0000"/><stop offset=".638" stop-color="#ff4f00"/><stop offset=".769" stop-color="#ffb100"/><stop offset=".856" stop-color="#fffd00"/><stop offset=".869" stop-color="#ffff0e"/><stop offset=".975" stop-color="#ffffaa"/><stop offset="1" stop-color="#ffffd2"/></linearGradient><linearGradient id="s163" gradientUnits="userSpaceOnUse" x1="112.4" x2="316.4"><stop offset="0" stop-color="#780000"/><stop offset=".131" stop-color="#7d0000"/><stop offset=".263" stop-color="#950000"/><stop offset=".394" stop-color="#bf0000"/><stop offset=".531" stop-color="#ff0100"/><stop offset=".663" stop-color="#ff5100"/><stop offset=".794" stop-color="#ffb500"/><stop offset=".875" stop-color="#fffc00"/><stop offset=".888" stop-color="#ffff0d"/><stop offset=".994" stop-color="#ffffaa"/><stop offset="1" stop-color="#ffffb4"/></linearGradient><linearGradient id="s164" gradientUnits="userSpaceOnUse" x1="114.4" x2="318.4"><stop offset="0" stop-color="#720000"/><stop offset=".131" stop-color="#750000"/><stop offset=".263" stop-color="#8b0000"/><stop offset=".394" stop-color="#b40000"/><stop offset=".525" stop-color="#ef0000"/><stop offset=".556" stop-color="#ff0100"/><stop offset=".688" stop-color="#ff5400"/><stop offset=".819" stop-color="#ffb900"/><stop offset=".894" stop-color="#fffb00"/><stop offset=".9" stop-color="#ffff03"/><stop offset="1" stop-color="#ffff97"/></linearGradient><linearGradient id="s165" gradientUnits="userSpaceOnUse" x1="116.3" x2="320.3"><stop offset="0" stop-color="#6d0000"/><stop offset=".131" stop-color="#6e0000"/><stop offset=".263" stop-color="#820000"/><stop offset=".394" stop-color="#a90000"/><stop offset=".525" stop-color="#e30000"/><stop offset=".581" stop-color="#ff0200"/><stop offset=".713" stop-color="#ff5600"/><stop offset=".844" stop-color="#ffbd00"/><stop offset=".919" stop-color="#ffff03"/><stop offset="1" stop-color="#ffff7a"/></linearGradient><linearGradient id="s166" gradientUnits="userSpaceOnUse" x1="118.3" x2="322.3"><stop offset="0" stop-color="#680000"/><stop offset=".131" stop-color="#670000"/><stop offset=".263" stop-color="#7a0000"/><stop offset=".394" stop-color="#9f0000"/><stop offset=".525" stop-color="#d60000"/><stop offset=".6" stop-color="#ff0000"/><stop offset=".731" stop-color="#ff5500"/><stop offset=".863" stop-color="#ffbd00"/><stop offset=".938" stop-color="#ffff03"/><stop offset="1" stop-color="#ffff5e"/></linearGradient><linearGradient id="s167" gradientUnits="userSpaceOnUse" x1="120.2" x2="324.2"><stop offset="0" stop-color="#630000"/><stop offset=".131" stop-color="#610000"/><stop offset=".263" stop-color="#710000"/><stop offset=".394" stop-color="#950000"/><stop offset=".525" stop-color="#cb0000"/><stop offset=".625" stop-color="#ff0100"/><stop offset=".756" stop-color="#ff5800"/><stop offset=".888" stop-color="#ffc200"/><stop offset=".95" stop-color="#fffb00"/><stop offset=".956" stop-color="#ffff03"/><stop offset="1" stop-color="#ffff43"/></linearGradient><linearGradient id="s168" gradientUnits="userSpaceOnUse" x1="122.1" x2="326.1"><stop offset="0" stop-color="#5f0000"/><stop offset=".131" stop-color="#5b0000"/><stop offset=".263" stop-color="#690000"/><stop offset=".394" stop-color="#8b0000"/><stop offset=".525" stop-color="#bf0000"/><stop offset=".644" stop-color="#fe0000"/><stop offset=".769" stop-color="#ff5300"/><stop offset=".9" stop-color="#ffbc00"/><stop offset=".969" stop-color="#fffb00"/><stop offset=".975" stop-color="#ffff03"/><stop offset="1" stop-color="#ffff28"/></linearGradient><linearGradient id="s169" gradientUnits="userSpaceOnUse" x1="124.1" x2="328.1"><stop offset="0" stop-color="#5a0000"/><stop offset=".131" stop-color="#550000"/><stop offset=".263" stop-color="#620000"/><stop offset=".394" stop-color="#810000"/><stop offset=".525" stop-color="#b40000"/><stop offset=".656" stop-color="#f90000"/><stop offset=".675" stop-color="#ff0500"/><stop offset=".806" stop-color="#ff6000"/><stop offset=".938" stop-color="#ffcd00"/><stop offset=".988" stop-color="#fffc00"/><stop offset="1" stop-color="#ffff0d"/></linearGradient><linearGradient id="s170" gradientUnits="userSpaceOnUse" x1="126" x2="330"><stop offset="0" stop-color="#570000"/><stop offset=".131" stop-color="#4f0000"/><stop offset=".263" stop-color="#5a0000"/><stop offset=".394" stop-color="#780000"/><stop offset=".525" stop-color="#a90000"/><stop offset=".656" stop-color="#ec0000"/><stop offset=".688" stop-color="#ff0000"/><stop offset=".819" stop-color="#ff5b00"/><stop offset=".95" stop-color="#ffc800"/><stop offset="1" stop-color="#fff700"/></linearGradient><linearGradient id="s171" gradientUnits="userSpaceOnUse" x1="127.9" x2="331.9"><stop offset="0" stop-color="#530000"/><stop offset=".131" stop-color="#4a0000"/><stop offset=".263" stop-color="#530000"/><stop offset=".394" stop-color="#6f0000"/><stop offset=".525" stop-color="#9e0000"/><stop offset=".656" stop-color="#e00000"/><stop offset=".713" stop-color="#ff0300"/><stop offset=".844" stop-color="#ff5f00"/><stop offset=".975" stop-color="#ffce00"/><stop offset="1" stop-color="#ffe600"/></linearGradient><linearGradient id="s172" gradientUnits="userSpaceOnUse" x1="129.9" x2="333.9"><stop offset="0" stop-color="#500000"/><stop offset=".131" stop-color="#450000"/><stop offset=".263" stop-color="#4d0000"/><stop offset=".394" stop-color="#670000"/><stop offset=".525" stop-color="#940000"/><stop offset=".656" stop-color="#d40000"/><stop offset=".731" stop-color="#ff0200"/><stop offset=".863" stop-color="#ff5f00"/><stop offset=".994" stop-color="#ffcf00"/><stop offset="1" stop-color="#ffd500"/></linearGradient><linearGradient id="s173" gradientUnits="userSpaceOnUse" x1="131.8" x2="335.8"><stop offset="0" stop-color="#4e0000"/><stop offset=".131" stop-color="#410000"/><stop offset=".263" stop-color="#460000"/><stop offset=".394" stop-color="#5f0000"/><stop offset=".525" stop-color="#8a0000"/><stop offset=".656" stop-color="#c80000"/><stop offset=".75" stop-color="#ff0100"/><stop offset=".881" stop-color="#ff5f00"/><stop offset="1" stop-color="#ffc500"/></linearGradient><linearGradient id="s174" gradientUnits="userSpaceOnUse" x1="133.8" x2="337.8"><stop offset="0" stop-color="#4b0000"/><stop offset=".131" stop-color="#3c0000"/><stop offset=".263" stop-color="#400000"/><stop offset=".394" stop-color="#570000"/><stop offset=".525" stop-color="#810000"/><stop offset=".656" stop-color="#bd0000"/><stop offset=".769" stop-color="#ff0100"/><stop offset=".9" stop-color="#ff6000"/><stop offset="1" stop-color="#ffb500"/></linearGradient><linearGradient id="s175" gradientUnits="userSpaceOnUse" x1="135.7" x2="339.7"><stop offset="0" stop-color="#490000"/><stop offset=".131" stop-color="#390000"/><stop offset=".263" stop-color="#3b0000"/><stop offset=".394" stop-color="#500000"/><stop offset=".525" stop-color="#780000"/><stop offset=".656" stop-color="#b20000"/><stop offset=".788" stop-color="#ff0000"/><stop offset=".919" stop-color="#ff6000"/><stop offset="1" stop-color="#ffa500"/></linearGradient><linearGradient id="s176" gradientUnits="userSpaceOnUse" x1="137.6" x2="341.6"><stop offset="0" stop-color="#470000"/><stop offset=".131" stop-color="#350000"/><stop offset=".263" stop-color="#360000"/><stop offset=".394" stop-color="#490000"/><stop offset=".525" stop-color="#6f0000"/><stop offset=".656" stop-color="#a70000"/><stop offset=".788" stop-color="#f30000"/><stop offset=".806" stop-color="#ff0000"/><stop offset=".938" stop-color="#ff6100"/><stop offset="1" stop-color="#ff9600"/></linearGradient><linearGradient id="s177" gradientUnits="userSpaceOnUse" x1="139.6" x2="343.6"><stop offset="0" stop-color="#460000"/><stop offset=".131" stop-color="#320000"/><stop offset=".263" stop-color="#310000"/><stop offset=".394" stop-color="#420000"/><stop offset=".525" stop-color="#660000"/><stop offset=".656" stop-color="#9d0000"/><stop offset=".788" stop-color="#e70000"/><stop offset=".825" stop-color="#ff0000"/><stop offset=".956" stop-color="#ff6200"/><stop offset="1" stop-color="#ff8700"/></linearGradient><linearGradient id="s178" gradientUnits="userSpaceOnUse" x1="141.5" x2="345.5"><stop offset="0" stop-color="#450000"/><stop offset=".131" stop-color="#2f0000"/><stop offset=".263" stop-color="#2c0000"/><stop offset=".394" stop-color="#3c0000"/><stop offset=".525" stop-color="#5e0000"/><stop offset=".656" stop-color="#930000"/><stop offset=".788" stop-color="#db0000"/><stop offset=".844" stop-color="#ff0100"/><stop offset=".975" stop-color="#ff6300"/><stop offset="1" stop-color="#ff7800"/></linearGradient><linearGradient id="s179" gradientUnits="userSpaceOnUse" x1="143.4" x2="347.4"><stop offset="0" stop-color="#440000"/><stop offset=".131" stop-color="#2d0000"/><stop offset=".263" stop-color="#280000"/><stop offset=".394" stop-color="#360000"/><stop offset=".525" stop-color="#560000"/><stop offset=".656" stop-color="#8a0000"/><stop offset=".788" stop-color="#d00000"/><stop offset=".863" stop-color="#ff0100"/><stop offset=".994" stop-color="#ff6500"/><stop offset="1" stop-color="#ff6a00"/></linearGradient><linearGradient id="s180" gradientUnits="userSpaceOnUse" x1="145.4" x2="349.4"><stop offset="0" stop-color="#440000"/><stop offset=".131" stop-color="#2b0000"/><stop offset=".263" stop-color="#240000"/><stop offset=".394" stop-color="#300000"/><stop offset=".525" stop-color="#4f0000"/><stop offset=".656" stop-color="#800000"/><stop offset=".788" stop-color="#c50000"/><stop offset=".881" stop-color="#ff0200"/><stop offset="1" stop-color="#ff5c00"/></linearGradient><linearGradient id="s181" gradientUnits="userSpaceOnUse" x1="147.3" x2="351.3"><stop offset="0" stop-color="#440000"/><stop offset=".131" stop-color="#290000"/><stop offset=".263" stop-color="#200000"/><stop offset=".394" stop-color="#2b0000"/><stop offset=".525" stop-color="#480000"/><stop offset=".656" stop-color="#770000"/><stop offset=".788" stop-color="#ba0000"/><stop offset=".894" stop-color="#fd0000"/><stop offset="1" stop-color="#ff4e00"/></linearGradient><linearGradient id="s182" gradientUnits="userSpaceOnUse" x1="149.3" x2="353.3"><stop offset="0" stop-color="#440000"/><stop offset=".131" stop-color="#270000"/><stop offset=".263" stop-color="#1d0000"/><stop offset=".394" stop-color="#260000"/><stop offset=".525" stop-color="#410000"/><stop offset=".656" stop-color="#6f0000"/><stop offset=".788" stop-color="#af0000"/><stop offset=".913" stop-color="#ff0000"/><stop offset="1" stop-color="#ff4100"/></linearGradient><linearGradient id="s183" gradientUnits="userSpaceOnUse" x1="151.2" x2="355.2"><stop offset="0" stop-color="#450000"/><stop offset=".131" stop-color="#260000"/><stop offset=".263" stop-color="#1a0000"/><stop offset=".394" stop-color="#210000"/><stop offset=".525" stop-color="#3a0000"/><stop offset=".656" stop-color="#670000"/><stop offset=".788" stop-color="#a50000"/><stop offset=".919" stop-color="#f70000"/><stop offset=".931" stop-color="#ff0100"/><stop offset="1" stop-color="#ff3400"/></linearGradient><linearGradient id="s184" gradientUnits="userSpaceOnUse" x1="153.1" x2="357.1"><stop offset="0" stop-color="#460000"/><stop offset=".131" stop-color="#260000"/><stop offset=".263" stop-color="#180000"/><stop offset=".394" stop-color="#1d0000"/><stop offset=".525" stop-color="#340000"/><stop offset=".656" stop-color="#5f0000"/><stop offset=".788" stop-color="#9c0000"/><stop offset=".919" stop-color="#ec0000"/><stop offset=".95" stop-color="#ff0200"/><stop offset="1" stop-color="#ff2700"/></linearGradient><linearGradient id="s185" gradientUnits="userSpaceOnUse" x1="155.1" x2="359.1"><stop offset="0" stop-color="#470000"/><stop offset=".131" stop-color="#250000"/><stop offset=".263" stop-color="#150000"/><stop offset=".394" stop-color="#190000"/><stop offset=".525" stop-color="#2e0000"/><stop offset=".656" stop-color="#570000"/><stop offset=".788" stop-color="#920000"/><stop offset=".919" stop-color="#e10000"/><stop offset=".963" stop-color="#ff0000"/><stop offset="1" stop-color="#ff1b00"/></linearGradient><linearGradient id="s186" gradientUnits="userSpaceOnUse" x1="157" x2="361"><stop offset="0" stop-color="#490000"/><stop offset=".131" stop-color="#250000"/><stop offset=".263" stop-color="#140000"/><stop offset=".394" stop-color="#150000"/><stop offset=".525" stop-color="#290000"/><stop offset=".656" stop-color="#500000"/><stop offset=".788" stop-color="#890000"/><stop offset=".919" stop-color="#d60000"/><stop offset=".981" stop-color="#ff0200"/><stop offset="1" stop-color="#ff0f00"/></linearGradient><linearGradient id="s187" gradientUnits="userSpaceOnUse" x1="158.9" x2="362.9"><stop offset="0" stop-color="#4b0000"/><stop offset=".131" stop-color="#250000"/><stop offset=".263" stop-color="#120000"/><stop offset=".394" stop-color="#120000"/><stop offset=".525" stop-color="#240000"/><stop offset=".656" stop-color="#490000"/><stop offset=".788" stop-color="#810000"/><stop offset=".919" stop-color="#cb0000"/><stop offset=".994" stop-color="#fe0000"/><stop offset="1" stop-color="#ff0400"/></linearGradient><linearGradient id="s188" gradientUnits="userSpaceOnUse" x1="160.9" x2="364.9"><stop offset="0" stop-color="#4e0000"/><stop offset=".131" stop-color="#260000"/><stop offset=".263" stop-color="#110000"/><stop offset=".394" stop-color="#0f0000"/><stop offset=".525" stop-color="#1f0000"/><stop offset=".656" stop-color="#420000"/><stop offset=".788" stop-color="#780000"/><stop offset=".919" stop-color="#c10000"/><stop offset="1" stop-color="#f80000"/></linearGradient><linearGradient id="s189" gradientUnits="userSpaceOnUse" x1="162.8" x2="366.8"><stop offset="0" stop-color="#500000"/><stop offset=".131" stop-color="#270000"/><stop offset=".263" stop-color="#100000"/><stop offset=".394" stop-color="#0c0000"/><stop offset=".525" stop-color="#1b0000"/><stop offset=".656" stop-color="#3c0000"/><stop offset=".788" stop-color="#700000"/><stop offset=".919" stop-color="#b70000"/><stop offset="1" stop-color="#ed0000"/></linearGradient><linearGradient id="s190" gradientUnits="userSpaceOnUse" x1="164.8" x2="368.8"><stop offset="0" stop-color="#530000"/><stop offset=".131" stop-color="#280000"/><stop offset=".263" stop-color="#100000"/><stop offset=".394" stop-color="#0a0000"/><stop offset=".525" stop-color="#170000"/><stop offset=".656" stop-color="#360000"/><stop offset=".788" stop-color="#690000"/><stop offset=".919" stop-color="#ae0000"/><stop offset="1" stop-color="#e20000"/></linearGradient><linearGradient id="s191" gradientUnits="userSpaceOnUse" x1="166.7" x2="370.7"><stop offset="0" stop-color="#570000"/><stop offset=".131" stop-color="#2a0000"/><stop offset=".263" stop-color="#0f0000"/><stop offset=".394" stop-color="#080000"/><stop offset=".525" stop-color="#130000"/><stop offset=".656" stop-color="#310000"/><stop offset=".788" stop-color="#610000"/><stop offset=".919" stop-color="#a50000"/><stop offset="1" stop-color="#d80000"/></linearGradient><linearGradient id="s192" gradientUnits="userSpaceOnUse" x1="168.6" x2="372.6"><stop offset="0" stop-color="#5a0000"/><stop offset=".131" stop-color="#2c0000"/><stop offset=".263" stop-color="#100000"/><stop offset=".394" stop-color="#060000"/><stop offset=".525" stop-color="#100000"/><stop offset=".656" stop-color="#2c0000"/><stop offset=".788" stop-color="#5a0000"/><stop offset=".919" stop-color="#9c0000"/><stop offset="1" stop-color="#ce0000"/></linearGradient><linearGradient id="s193" gradientUnits="userSpaceOnUse" x1="170.6" x2="374.6"><stop offset="0" stop-color="#5f0000"/><stop offset=".131" stop-color="#2e0000"/><stop offset=".263" stop-color="#100000"/><stop offset=".394" stop-color="#050000"/><stop offset=".525" stop-color="#0c0000"/><stop offset=".656" stop-color="#270000"/><stop offset=".788" stop-color="#540000"/><stop offset=".919" stop-color="#940000"/><stop offset="1" stop-color="#c50000"/></linearGradient><linearGradient id="s194" gradientUnits="userSpaceOnUse" x1="172.5" x2="376.5"><stop offset="0" stop-color="#630000"/><stop offset=".131" stop-color="#310000"/><stop offset=".263" stop-color="#110000"/><stop offset=".394" stop-color="#040000"/><stop offset=".525" stop-color="#0a0000"/><stop offset=".656" stop-color="#220000"/><stop offset=".788" stop-color="#4e0000"/><stop offset=".919" stop-color="#8c0000"/><stop offset="1" stop-color="#bb0000"/></linearGradient><linearGradient id="s195" gradientUnits="userSpaceOnUse" x1="174.4" x2="378.4"><stop offset="0" stop-color="#680000"/><stop offset=".131" stop-color="#340000"/><stop offset=".263" stop-color="#120000"/><stop offset=".394" stop-color="#030000"/><stop offset=".525" stop-color="#070000"/><stop offset=".656" stop-color="#1e0000"/><stop offset=".788" stop-color="#480000"/><stop offset=".919" stop-color="#840000"/><stop offset="1" stop-color="#b30000"/></linearGradient><linearGradient id="s196" gradientUnits="userSpaceOnUse" x1="176.4" x2="380.4"><stop offset="0" stop-color="#6d0000"/><stop offset=".131" stop-color="#370000"/><stop offset=".263" stop-color="#140000"/><stop offset=".394" stop-color="#030000"/><stop offset=".525" stop-color="#050000"/><stop offset=".656" stop-color="#1a0000"/><stop offset=".788" stop-color="#420000"/><stop offset=".919" stop-color="#7c0000"/><stop offset="1" stop-color="#aa0000"/></linearGradient><linearGradient id="s197" gradientUnits="userSpaceOnUse" x1="178.3" x2="382.3"><stop offset="0" stop-color="#720000"/><stop offset=".131" stop-color="#3b0000"/><stop offset=".263" stop-color="#150000"/><stop offset=".394" stop-color="#030000"/><stop offset=".525" stop-color="#040000"/><stop offset=".656" stop-color="#170000"/><stop offset=".788" stop-color="#3d0000"/><stop offset=".919" stop-color="#750000"/><stop offset="1" stop-color="#a20000"/></linearGradient><linearGradient id="s198" gradientUnits="userSpaceOnUse" x1="180.3" x2="384.3"><stop offset="0" stop-color="#780000"/><stop offset=".131" stop-color="#3e0000"/><stop offset=".263" stop-color="#180000"/><stop offset=".394" stop-color="#040000"/><stop offset=".525" stop-color="#020000"/><stop offset=".656" stop-color="#140000"/><stop offset=".788" stop-color="#380000"/><stop offset=".919" stop-color="#6f0000"/><stop offset="1" stop-color="#9a0000"/></linearGradient><linearGradient id="s199" gradientUnits="userSpaceOnUse" x1="182.2" x2="386.2"><stop offset="0" stop-color="#7e0000"/><stop offset=".131" stop-color="#430000"/><stop offset=".263" stop-color="#1a0000"/><stop offset=".394" stop-color="#040000"/><stop offset=".525" stop-color="#010000"/><stop offset=".656" stop-color="#110000"/><stop offset=".788" stop-color="#330000"/><stop offset=".919" stop-color="#680000"/><stop offset="1" stop-color="#930000"/></linearGradient><linearGradient id="s200" gradientUnits="userSpaceOnUse" x1="184.1" x2="388.1"><stop offset="0" stop-color="#850000"/><stop offset=".131" stop-color="#480000"/><stop offset=".263" stop-color="#1d0000"/><stop offset=".394" stop-color="#050000"/><stop offset=".525" stop-color="#010000"/><stop offset=".656" stop-color="#0e0000"/><stop offset=".788" stop-color="#2f0000"/><stop offset=".919" stop-color="#620000"/><stop offset="1" stop-color="#8b0000"/></linearGradient><linearGradient id="s201" gradientUnits="userSpaceOnUse" x1="186.1" x2="390.1"><stop offset="0" stop-color="#8b0000"/><stop offset=".131" stop-color="#4d0000"/><stop offset=".263" stop-color="#200000"/><stop offset=".394" stop-color="#070000"/><stop offset=".525" stop-color="#000000"/><stop offset=".656" stop-color="#0c0000"/><stop offset=".788" stop-color="#2b0000"/><stop offset=".919" stop-color="#5d0000"/><stop offset="1" stop-color="#850000"/></linearGradient><linearGradient id="s202" gradientUnits="userSpaceOnUse" x1="188" x2="392"><stop offset="0" stop-color="#930000"/><stop offset=".131" stop-color="#520000"/><stop offset=".263" stop-color="#240000"/><stop offset=".394" stop-color="#090000"/><stop offset=".525" stop-color="#000000"/><stop offset=".656" stop-color="#0a0000"/><stop offset=".788" stop-color="#270000"/><stop offset=".919" stop-color="#570000"/><stop offset="1" stop-color="#7e0000"/></linearGradient><linearGradient id="s203" gradientUnits="userSpaceOnUse" x1="189.9" x2="393.9"><stop offset="0" stop-color="#9a0000"/><stop offset=".131" stop-color="#580000"/><stop offset=".263" stop-color="#280000"/><stop offset=".394" stop-color="#0b0000"/><stop offset=".525" stop-color="#010000"/><stop offset=".656" stop-color="#090000"/><stop offset=".788" stop-color="#240000"/><stop offset=".919" stop-color="#520000"/><stop offset="1" stop-color="#780000"/></linearGradient><linearGradient id="s204" gradientUnits="userSpaceOnUse" x1="191.9" x2="395.9"><stop offset="0" stop-color="#a20000"/><stop offset=".131" stop-color="#5e0000"/><stop offset=".263" stop-color="#2c0000"/><stop offset=".394" stop-color="#0d0000"/><stop offset=".525" stop-color="#010000"/><stop offset=".656" stop-color="#080000"/><stop offset=".788" stop-color="#210000"/><stop offset=".919" stop-color="#4e0000"/><stop offset="1" stop-color="#720000"/></linearGradient><linearGradient id="s205" gradientUnits="userSpaceOnUse" x1="193.8" x2="397.8"><stop offset="0" stop-color="#aa0000"/><stop offset=".131" stop-color="#640000"/><stop offset=".263" stop-color="#310000"/><stop offset=".394" stop-color="#100000"/><stop offset=".525" stop-color="#020000"/><stop offset=".656" stop-color="#070000"/><stop offset=".788" stop-color="#1f0000"/><stop offset=".919" stop-color="#490000"/><stop offset="1" stop-color="#6d0000"/></linearGradient><linearGradient id="s206" gradientUnits="userSpaceOnUse" x1="195.8" x2="399.8"><stop offset="0" stop-color="#b30000"/><stop offset=".131" stop-color="#6b0000"/><stop offset=".263" stop-color="#360000"/><stop offset=".394" stop-color="#130000"/><stop offset=".525" stop-color="#040000"/><stop offset=".656" stop-color="#070000"/><stop offset=".788" stop-color="#1d0000"/><stop offset=".919" stop-color="#450000"/><stop offset="1" stop-color="#680000"/></linearGradient><linearGradient id="s207" gradientUnits="userSpaceOnUse" x1="197.7" x2="401.7"><stop offset="0" stop-color="#bb0000"/><stop offset=".131" stop-color="#720000"/><stop offset=".263" stop-color="#3b0000"/><stop offset=".394" stop-color="#170000"/><stop offset=".525" stop-color="#050000"/><stop offset=".656" stop-color="#070000"/><stop offset=".788" stop-color="#1b0000"/><stop offset=".919" stop-color="#420000"/><stop offset="1" stop-color="#630000"/></linearGradient><linearGradient id="s208" gradientUnits="userSpaceOnUse" x1="199.6" x2="403.6"><stop offset="0" stop-color="#c50000"/><stop offset=".131" stop-color="#790000"/><stop offset=".263" stop-color="#400000"/><stop offset=".394" stop-color="#1b0000"/><stop offset=".525" stop-color="#070000"/><stop offset=".656" stop-color="#070000"/><stop offset=".788" stop-color="#190000"/><stop offset=".919" stop-color="#3e0000"/><stop offset="1" stop-color="#5f0000"/></linearGradient><linearGradient id="s209" gradientUnits="userSpaceOnUse" x1="201.6" x2="405.6"><stop offset="0" stop-color="#ce0000"/><stop offset=".131" stop-color="#810000"/><stop offset=".263" stop-color="#460000"/><stop offset=".394" stop-color="#1f0000"/><stop offset=".525" stop-color="#0a0000"/><stop offset=".656" stop-color="#080000"/><stop offset=".788" stop-color="#180000"/><stop offset=".919" stop-color="#3b0000"/><stop offset="1" stop-color="#5a0000"/></linearGradient><linearGradient id="s210" gradientUnits="userSpaceOnUse" x1="203.5" x2="407.5"><stop offset="0" stop-color="#d80000"/><stop offset=".131" stop-color="#890000"/><stop offset=".263" stop-color="#4d0000"/><stop offset=".394" stop-color="#230000"/><stop offset=".525" stop-color="#0c0000"/><stop offset=".656" stop-color="#080000"/><stop offset=".788" stop-color="#170000"/><stop offset=".919" stop-color="#390000"/><stop offset="1" stop-color="#570000"/></linearGradient><linearGradient id="s211" gradientUnits="userSpaceOnUse" x1="205.4" x2="409.4"><stop offset="0" stop-color="#e20000"/><stop offset=".131" stop-color="#910000"/><stop offset=".263" stop-color="#530000"/><stop offset=".394" stop-color="#280000"/><stop offset=".525" stop-color="#100000"/><stop offset=".656" stop-color="#0a0000"/><stop offset=".788" stop-color="#170000"/><stop offset=".919" stop-color="#360000"/><stop offset="1" stop-color="#530000"/></linearGradient><linearGradient id="s212" gradientUnits="userSpaceOnUse" x1="207.4" x2="411.4"><stop offset="0" stop-color="#ed0000"/><stop offset=".131" stop-color="#9a0000"/><stop offset=".263" stop-color="#5a0000"/><stop offset=".394" stop-color="#2d0000"/><stop offset=".525" stop-color="#130000"/><stop offset=".656" stop-color="#0b0000"/><stop offset=".788" stop-color="#160000"/><stop offset=".919" stop-color="#340000"/><stop offset="1" stop-color="#500000"/></linearGradient><linearGradient id="s213" gradientUnits="userSpaceOnUse" x1="209.3" x2="413.3"><stop offset="0" stop-color="#f80000"/><stop offset=".131" stop-color="#a30000"/><stop offset=".263" stop-color="#620000"/><stop offset=".394" stop-color="#330000"/><stop offset=".525" stop-color="#170000"/><stop offset=".656" stop-color="#0d0000"/><stop offset=".788" stop-color="#170000"/><stop offset=".919" stop-color="#330000"/><stop offset="1" stop-color="#4e0000"/></linearGradient><linearGradient id="s214" gradientUnits="userSpaceOnUse" x1="211.3" x2="415.3"><stop offset="0" stop-color="#ff0400"/><stop offset=".013" stop-color="#fa0000"/><stop offset=".144" stop-color="#a50000"/><stop offset=".275" stop-color="#640000"/><stop offset=".406" stop-color="#350000"/><stop offset=".537" stop-color="#190000"/><stop offset=".669" stop-color="#0f0000"/><stop offset=".8" stop-color="#190000"/><stop offset=".931" stop-color="#350000"/><stop offset="1" stop-color="#4b0000"/></linearGradient><linearGradient id="s215" gradientUnits="userSpaceOnUse" x1="213.2" x2="417.2"><stop offset="0" stop-color="#ff0f00"/><stop offset=".025" stop-color="#fc0000"/><stop offset=".156" stop-color="#a80000"/><stop offset=".288" stop-color="#660000"/><stop offset=".419" stop-color="#370000"/><stop offset=".55" stop-color="#1b0000"/><stop offset=".681" stop-color="#120000"/><stop offset=".812" stop-color="#1b0000"/><stop offset=".944" stop-color="#370000"/><stop offset="1" stop-color="#490000"/></linearGradient><linearGradient id="s216" gradientUnits="userSpaceOnUse" x1="215.1" x2="419.1"><stop offset="0" stop-color="#ff1b00"/><stop offset=".038" stop-color="#ff0000"/><stop offset=".169" stop-color="#aa0000"/><stop offset=".3" stop-color="#690000"/><stop offset=".431" stop-color="#3a0000"/><stop offset=".562" stop-color="#1e0000"/><stop offset=".694" stop-color="#140000"/><stop offset=".825" stop-color="#1e0000"/><stop offset=".956" stop-color="#3a0000"/><stop offset="1" stop-color="#470000"/></linearGradient><linearGradient id="s217" gradientUnits="userSpaceOnUse" x1="217.1" x2="421.1"><stop offset="0" stop-color="#ff2700"/><stop offset=".056" stop-color="#fd0000"/><stop offset=".188" stop-color="#aa0000"/><stop offset=".319" stop-color="#690000"/><stop offset=".45" stop-color="#3b0000"/><stop offset=".581" stop-color="#200000"/><stop offset=".713" stop-color="#170000"/><stop offset=".844" stop-color="#210000"/><stop offset=".975" stop-color="#3e0000"/><stop offset="1" stop-color="#460000"/></linearGradient><linearGradient id="s218" gradientUnits="userSpaceOnUse" x1="219" x2="423"><stop offset="0" stop-color="#ff3400"/><stop offset=".069" stop-color="#ff0100"/><stop offset=".213" stop-color="#a50000"/><stop offset=".344" stop-color="#670000"/><stop offset=".475" stop-color="#3a0000"/><stop offset=".606" stop-color="#210000"/><stop offset=".738" stop-color="#1a0000"/><stop offset=".869" stop-color="#260000"/><stop offset="1" stop-color="#450000"/></linearGradient><linearGradient id="s219" gradientUnits="userSpaceOnUse" x1="220.9" x2="424.9"><stop offset="0" stop-color="#ff4100"/><stop offset=".088" stop-color="#ff0000"/><stop offset=".219" stop-color="#ac0000"/><stop offset=".35" stop-color="#6c0000"/><stop offset=".481" stop-color="#3f0000"/><stop offset=".613" stop-color="#250000"/><stop offset=".744" stop-color="#1d0000"/><stop offset=".875" stop-color="#280000"/><stop offset="1" stop-color="#440000"/></linearGradient><linearGradient id="s220" gradientUnits="userSpaceOnUse" x1="222.9" x2="426.9"><stop offset="0" stop-color="#ff4e00"/><stop offset=".106" stop-color="#fd0000"/><stop offset=".238" stop-color="#ac0000"/><stop offset=".369" stop-color="#6d0000"/><stop offset=".5" stop-color="#410000"/><stop offset=".631" stop-color="#270000"/><stop offset=".763" stop-color="#210000"/><stop offset=".894" stop-color="#2d0000"/><stop offset="1" stop-color="#440000"/></linearGradient><linearGradient id="s221" gradientUnits="userSpaceOnUse" x1="224.8" x2="428.8"><stop offset="0" stop-color="#ff5c00"/><stop offset=".119" stop-color="#ff0200"/><stop offset=".275" stop-color="#a20000"/><stop offset=".406" stop-color="#660000"/><stop offset=".537" stop-color="#3e0000"/><stop offset=".669" stop-color="#280000"/><stop offset=".8" stop-color="#250000"/><stop offset=".931" stop-color="#340000"/><stop offset="1" stop-color="#440000"/></linearGradient><linearGradient id="s222" gradientUnits="userSpaceOnUse" x1="226.8" x2="430.8"><stop offset="0" stop-color="#ff6a00"/><stop offset=".131" stop-color="#ff0500"/><stop offset=".144" stop-color="#fc0000"/><stop offset=".275" stop-color="#ac0000"/><stop offset=".406" stop-color="#6f0000"/><stop offset=".537" stop-color="#440000"/><stop offset=".669" stop-color="#2d0000"/><stop offset=".8" stop-color="#280000"/><stop offset=".931" stop-color="#360000"/><stop offset="1" stop-color="#440000"/></linearGradient><linearGradient id="s223" gradientUnits="userSpaceOnUse" x1="228.7" x2="432.7"><stop offset="0" stop-color="#ff7800"/><stop offset=".131" stop-color="#ff1200"/><stop offset=".156" stop-color="#ff0100"/><stop offset=".294" stop-color="#ac0000"/><stop offset=".425" stop-color="#700000"/><stop offset=".556" stop-color="#470000"/><stop offset=".688" stop-color="#300000"/><stop offset=".819" stop-color="#2c0000"/><stop offset=".95" stop-color="#3b0000"/><stop offset="1" stop-color="#450000"/></linearGradient><linearGradient id="s224" gradientUnits="userSpaceOnUse" x1="230.6" x2="434.6"><stop offset="0" stop-color="#ff8700"/><stop offset=".131" stop-color="#ff1f00"/><stop offset=".175" stop-color="#ff0000"/><stop offset=".312" stop-color="#ad0000"/><stop offset=".444" stop-color="#720000"/><stop offset=".575" stop-color="#490000"/><stop offset=".706" stop-color="#330000"/><stop offset=".838" stop-color="#300000"/><stop offset=".969" stop-color="#400000"/><stop offset="1" stop-color="#460000"/></linearGradient><linearGradient id="s225" gradientUnits="userSpaceOnUse" x1="232.6" x2="436.6"><stop offset="0" stop-color="#ff9600"/><stop offset=".131" stop-color="#ff2c00"/><stop offset=".194" stop-color="#ff0000"/><stop offset=".325" stop-color="#b10000"/><stop offset=".456" stop-color="#760000"/><stop offset=".588" stop-color="#4d0000"/><stop offset=".719" stop-color="#370000"/><stop offset=".85" stop-color="#340000"/><stop offset=".981" stop-color="#440000"/><stop offset="1" stop-color="#470000"/></linearGradient><linearGradient id="s226" gradientUnits="userSpaceOnUse" x1="234.5" x2="438.5"><stop offset="0" stop-color="#ffa500"/><stop offset=".131" stop-color="#ff3900"/><stop offset=".213" stop-color="#ff0000"/><stop offset=".35" stop-color="#af0000"/><stop offset=".481" stop-color="#750000"/><stop offset=".613" stop-color="#4e0000"/><stop offset=".744" stop-color="#3a0000"/><stop offset=".875" stop-color="#390000"/><stop offset="1" stop-color="#490000"/></linearGradient><linearGradient id="s227" gradientUnits="userSpaceOnUse" x1="236.4" x2="440.4"><stop offset="0" stop-color="#ffb500"/><stop offset=".131" stop-color="#ff4700"/><stop offset=".231" stop-color="#ff0100"/><stop offset=".369" stop-color="#b00000"/><stop offset=".5" stop-color="#770000"/><stop offset=".631" stop-color="#510000"/><stop offset=".763" stop-color="#3e0000"/><stop offset=".894" stop-color="#3e0000"/><stop offset="1" stop-color="#4b0000"/></linearGradient><linearGradient id="s228" gradientUnits="userSpaceOnUse" x1="238.4" x2="442.4"><stop offset="0" stop-color="#ffc500"/><stop offset=".131" stop-color="#ff5500"/><stop offset=".25" stop-color="#ff0100"/><stop offset=".394" stop-color="#ae0000"/><stop offset=".525" stop-color="#780000"/><stop offset=".656" stop-color="#530000"/><stop offset=".788" stop-color="#420000"/><stop offset=".919" stop-color="#430000"/><stop offset="1" stop-color="#4e0000"/></linearGradient><linearGradient id="s229" gradientUnits="userSpaceOnUse" x1="240.3" x2="444.3"><stop offset="0" stop-color="#ffd500"/><stop offset=".131" stop-color="#ff6400"/><stop offset=".263" stop-color="#ff0600"/><stop offset=".281" stop-color="#f90000"/><stop offset=".413" stop-color="#b00000"/><stop offset=".544" stop-color="#7a0000"/><stop offset=".675" stop-color="#570000"/><stop offset=".806" stop-color="#460000"/><stop offset=".938" stop-color="#490000"/><stop offset="1" stop-color="#500000"/></linearGradient><linearGradient id="s230" gradientUnits="userSpaceOnUse" x1="242.3" x2="446.3"><stop offset="0" stop-color="#ffe600"/><stop offset=".131" stop-color="#ff7300"/><stop offset=".263" stop-color="#ff1300"/><stop offset=".294" stop-color="#fe0000"/><stop offset=".425" stop-color="#b50000"/><stop offset=".556" stop-color="#7f0000"/><stop offset=".688" stop-color="#5c0000"/><stop offset=".819" stop-color="#4b0000"/><stop offset=".95" stop-color="#4e0000"/><stop offset="1" stop-color="#530000"/></linearGradient><linearGradient id="s231" gradientUnits="userSpaceOnUse" x1="244.2" x2="448.2"><stop offset="0" stop-color="#fff700"/><stop offset=".131" stop-color="#ff8200"/><stop offset=".263" stop-color="#ff2000"/><stop offset=".312" stop-color="#ff0000"/><stop offset=".444" stop-color="#b70000"/><stop offset=".575" stop-color="#820000"/><stop offset=".706" stop-color="#600000"/><stop offset=".838" stop-color="#500000"/><stop offset=".969" stop-color="#530000"/><stop offset="1" stop-color="#570000"/></linearGradient><linearGradient id="s232" gradientUnits="userSpaceOnUse" x1="246.1" x2="450.1"><stop offset="0" stop-color="#ffff0d"/><stop offset=".013" stop-color="#fffc00"/><stop offset=".144" stop-color="#ff8700"/><stop offset=".275" stop-color="#ff2600"/><stop offset=".338" stop-color="#fd0000"/><stop offset=".469" stop-color="#b70000"/><stop offset=".6" stop-color="#830000"/><stop offset=".731" stop-color="#630000"/><stop offset=".863" stop-color="#550000"/><stop offset=".994" stop-color="#5a0000"/><stop offset="1" stop-color="#5a0000"/></linearGradient><linearGradient id="s233" gradientUnits="userSpaceOnUse" x1="248.1" x2="452.1"><stop offset="0" stop-color="#ffff28"/><stop offset=".025" stop-color="#ffff03"/><stop offset=".044" stop-color="#ffef00"/><stop offset=".175" stop-color="#ff7e00"/><stop offset=".306" stop-color="#ff1f00"/><stop offset=".356" stop-color="#fe0000"/><stop offset=".488" stop-color="#b90000"/><stop offset=".619" stop-color="#870000"/><stop offset=".75" stop-color="#670000"/><stop offset=".881" stop-color="#5a0000"/><stop offset="1" stop-color="#5f0000"/></linearGradient><linearGradient id="s234" gradientUnits="userSpaceOnUse" x1="250" x2="454"><stop offset="0" stop-color="#ffff43"/><stop offset=".044" stop-color="#ffff03"/><stop offset=".094" stop-color="#ffd300"/><stop offset=".225" stop-color="#ff6600"/><stop offset=".356" stop-color="#ff0d00"/><stop offset=".381" stop-color="#fd0000"/><stop offset=".513" stop-color="#b90000"/><stop offset=".644" stop-color="#890000"/><stop offset=".775" stop-color="#6b0000"/><stop offset=".906" stop-color="#5f0000"/><stop offset="1" stop-color="#630000"/></linearGradient><linearGradient id="s235" gradientUnits="userSpaceOnUse" x1="251.9" x2="455.9"><stop offset="0" stop-color="#ffff5e"/><stop offset=".062" stop-color="#ffff03"/><stop offset=".2" stop-color="#ff8900"/><stop offset=".331" stop-color="#ff2a00"/><stop offset=".4" stop-color="#ff0000"/><stop offset=".531" stop-color="#bc0000"/><stop offset=".663" stop-color="#8c0000"/><stop offset=".794" stop-color="#6f0000"/><stop offset=".925" stop-color="#650000"/><stop offset="1" stop-color="#680000"/></linearGradient><linearGradient id="s236" gradientUnits="userSpaceOnUse" x1="253.9" x2="457.9"><stop offset="0" stop-color="#ffff7a"/><stop offset=".081" stop-color="#ffff03"/><stop offset=".156" stop-color="#ffbd00"/><stop offset=".288" stop-color="#ff5600"/><stop offset=".419" stop-color="#ff0200"/><stop offset=".575" stop-color="#b50000"/><stop offset=".706" stop-color="#8a0000"/><stop offset=".838" stop-color="#710000"/><stop offset=".969" stop-color="#6b0000"/><stop offset="1" stop-color="#6d0000"/></linearGradient><linearGradient id="s237" gradientUnits="userSpaceOnUse" x1="255.8" x2="459.8"><stop offset="0" stop-color="#ffff97"/><stop offset=".1" stop-color="#ffff03"/><stop offset=".131" stop-color="#ffe500"/><stop offset=".263" stop-color="#ff7800"/><stop offset=".394" stop-color="#ff1e00"/><stop offset=".45" stop-color="#fd0000"/><stop offset=".581" stop-color="#be0000"/><stop offset=".713" stop-color="#920000"/><stop offset=".844" stop-color="#780000"/><stop offset=".975" stop-color="#710000"/><stop offset="1" stop-color="#720000"/></linearGradient><linearGradient id="s238" gradientUnits="userSpaceOnUse" x1="257.8" x2="461.8"><stop offset="0" stop-color="#ffffb4"/><stop offset=".106" stop-color="#ffff15"/><stop offset=".119" stop-color="#ffff04"/><stop offset=".131" stop-color="#fff600"/><stop offset=".263" stop-color="#ff8800"/><stop offset=".394" stop-color="#ff2c00"/><stop offset=".469" stop-color="#ff0100"/><stop offset=".606" stop-color="#bf0000"/><stop offset=".738" stop-color="#950000"/><stop offset=".869" stop-color="#7d0000"/><stop offset="1" stop-color="#780000"/></linearGradient><linearGradient id="s239" gradientUnits="userSpaceOnUse" x1="259.7" x2="463.7"><stop offset="0" stop-color="#ffffd2"/><stop offset=".106" stop-color="#ffff31"/><stop offset=".138" stop-color="#ffff05"/><stop offset=".15" stop-color="#fff700"/><stop offset=".281" stop-color="#ff8a00"/><stop offset=".413" stop-color="#ff2f00"/><stop offset=".494" stop-color="#ff0000"/><stop offset=".631" stop-color="#c10000"/><stop offset=".763" stop-color="#980000"/><stop offset=".894" stop-color="#820000"/><stop offset="1" stop-color="#7e0000"/></linearGradient><linearGradient id="s240" gradientUnits="userSpaceOnUse" x1="261.6" x2="465.6"><stop offset="0" stop-color="#fffff0"/><stop offset=".106" stop-color="#ffff4d"/><stop offset=".163" stop-color="#fffe00"/><stop offset=".294" stop-color="#ff9000"/><stop offset=".425" stop-color="#ff3600"/><stop offset=".519" stop-color="#ff0000"/><stop offset=".656" stop-color="#c30000"/><stop offset=".788" stop-color="#9c0000"/><stop offset=".919" stop-color="#880000"/><stop offset="1" stop-color="#850000"/></linearGradient><linearGradient id="g4a" gradientUnits="userSpaceOnUse" x1="1296.4" y1="1168.1" x2="1469.9" y2="936.2"><stop offset="0" stop-color="#000"/><stop offset=".375" stop-color="#f00"/><stop offset=".75" stop-color="#ff0"/><stop offset="1" stop-color="#fff"/></linearGradient><linearGradient id="g4b" gradientUnits="userSpaceOnUse" x1="1296.4" y1="1168.1" x2="1173.5" y2="887.6"><stop offset="0" stop-color="#000"/><stop offset=".375" stop-color="#f00"/><stop offset=".75" stop-color="#ff0"/><stop offset="1" stop-color="#fff"/></linearGradient><linearGradient id="g4c" gradientUnits="userSpaceOnUse" x1="1296.4" y1="1168.1" x2="1358" y2="1085.8"><stop offset="0" stop-color="#000"/><stop offset=".375" stop-color="#f00"/><stop offset=".75" stop-color="#ff0"/><stop offset="1" stop-color="#fff"/></linearGradient><linearGradient id="g4d" gradientUnits="userSpaceOnUse" x1="1296.4" y1="1168.1" x2="1239.1" y2="1037.4"><stop offset="0" stop-color="#000"/><stop offset=".375" stop-color="#f00"/><stop offset=".75" stop-color="#ff0"/><stop offset="1" stop-color="#fff"/></linearGradient><linearGradient id="s241" gradientUnits="userSpaceOnUse" x1="1083.8" x2="1284.9"><stop offset="0" stop-color="#ffffe8"/><stop offset=".069" stop-color="#ffff68"/><stop offset=".131" stop-color="#ffff03"/><stop offset=".15" stop-color="#ffef00"/><stop offset=".231" stop-color="#ffac00"/><stop offset=".312" stop-color="#ff7b00"/><stop offset=".394" stop-color="#ff5b00"/><stop offset=".475" stop-color="#ff4d00"/><stop offset=".556" stop-color="#ff5100"/><stop offset=".638" stop-color="#ff6700"/><stop offset=".719" stop-color="#ff8f00"/><stop offset=".8" stop-color="#ffc800"/><stop offset=".863" stop-color="#ffff01"/><stop offset=".931" stop-color="#ffff70"/><stop offset="1" stop-color="#fffff2"/></linearGradient><linearGradient id="s242" gradientUnits="userSpaceOnUse" x1="1085.7" x2="1286.8"><stop offset="0" stop-color="#ffffd0"/><stop offset=".069" stop-color="#ffff4f"/><stop offset=".113" stop-color="#ffff07"/><stop offset=".119" stop-color="#fffd00"/><stop offset=".2" stop-color="#ffb300"/><stop offset=".281" stop-color="#ff7b00"/><stop offset=".363" stop-color="#ff5500"/><stop offset=".444" stop-color="#ff4000"/><stop offset=".525" stop-color="#ff3d00"/><stop offset=".606" stop-color="#ff4c00"/><stop offset=".688" stop-color="#ff6d00"/><stop offset=".769" stop-color="#ff9f00"/><stop offset=".85" stop-color="#ffe300"/><stop offset=".875" stop-color="#fffc00"/><stop offset=".888" stop-color="#ffff0f"/><stop offset=".956" stop-color="#ffff85"/><stop offset="1" stop-color="#ffffda"/></linearGradient><linearGradient id="s243" gradientUnits="userSpaceOnUse" x1="1087.6" x2="1288.7"><stop offset="0" stop-color="#ffffb7"/><stop offset=".069" stop-color="#ffff37"/><stop offset=".1" stop-color="#ffff03"/><stop offset=".188" stop-color="#ffad00"/><stop offset=".269" stop-color="#ff7200"/><stop offset=".35" stop-color="#ff4900"/><stop offset=".431" stop-color="#ff3200"/><stop offset=".513" stop-color="#ff2c00"/><stop offset=".594" stop-color="#ff3900"/><stop offset=".675" stop-color="#ff5600"/><stop offset=".756" stop-color="#ff8600"/><stop offset=".838" stop-color="#ffc800"/><stop offset=".894" stop-color="#ffff01"/><stop offset=".963" stop-color="#ffff78"/><stop offset="1" stop-color="#ffffc2"/></linearGradient><linearGradient id="s244" gradientUnits="userSpaceOnUse" x1="1089.5" x2="1290.6"><stop offset="0" stop-color="#ffffa0"/><stop offset=".069" stop-color="#ffff1f"/><stop offset=".088" stop-color="#ffff00"/><stop offset=".169" stop-color="#ffae00"/><stop offset=".25" stop-color="#ff6f00"/><stop offset=".331" stop-color="#ff4200"/><stop offset=".413" stop-color="#ff2600"/><stop offset=".494" stop-color="#ff1c00"/><stop offset=".575" stop-color="#ff2400"/><stop offset=".656" stop-color="#ff3e00"/><stop offset=".738" stop-color="#ff6a00"/><stop offset=".819" stop-color="#ffa700"/><stop offset=".9" stop-color="#fff700"/><stop offset=".906" stop-color="#fffd00"/><stop offset=".944" stop-color="#ffff3e"/><stop offset="1" stop-color="#ffffaa"/></linearGradient><linearGradient id="s245" gradientUnits="userSpaceOnUse" x1="1091.5" x2="1292.6"><stop offset="0" stop-color="#ffff89"/><stop offset=".069" stop-color="#ffff09"/><stop offset=".075" stop-color="#fffe00"/><stop offset=".156" stop-color="#ffaa00"/><stop offset=".238" stop-color="#ff6800"/><stop offset=".319" stop-color="#ff3800"/><stop offset=".4" stop-color="#ff1a00"/><stop offset=".481" stop-color="#ff0e00"/><stop offset=".562" stop-color="#ff1300"/><stop offset=".644" stop-color="#ff2a00"/><stop offset=".725" stop-color="#ff5300"/><stop offset=".806" stop-color="#ff8e00"/><stop offset=".888" stop-color="#ffda00"/><stop offset=".919" stop-color="#fffc00"/><stop offset=".931" stop-color="#ffff11"/><stop offset="1" stop-color="#ffff93"/></linearGradient><linearGradient id="s246" gradientUnits="userSpaceOnUse" x1="1093.4" x2="1294.5"><stop offset="0" stop-color="#ffff73"/><stop offset=".056" stop-color="#ffff08"/><stop offset=".062" stop-color="#fffd00"/><stop offset=".144" stop-color="#ffa700"/><stop offset=".225" stop-color="#ff6200"/><stop offset=".306" stop-color="#ff3000"/><stop offset=".388" stop-color="#ff0f00"/><stop offset=".463" stop-color="#ff0000"/><stop offset=".556" stop-color="#ff0300"/><stop offset=".638" stop-color="#ff1900"/><stop offset=".719" stop-color="#ff4000"/><stop offset=".8" stop-color="#ff7a00"/><stop offset=".881" stop-color="#ffc500"/><stop offset=".931" stop-color="#fffc00"/><stop offset=".938" stop-color="#ffff06"/><stop offset="1" stop-color="#ffff7d"/></linearGradient><linearGradient id="s247" gradientUnits="userSpaceOnUse" x1="1095.3" x2="1296.4"><stop offset="0" stop-color="#ffff5d"/><stop offset=".044" stop-color="#ffff09"/><stop offset=".05" stop-color="#fffe00"/><stop offset=".131" stop-color="#ffa500"/><stop offset=".213" stop-color="#ff5d00"/><stop offset=".294" stop-color="#ff2800"/><stop offset=".375" stop-color="#ff0400"/><stop offset=".406" stop-color="#fa0000"/><stop offset=".488" stop-color="#ef0000"/><stop offset=".569" stop-color="#f60000"/><stop offset=".613" stop-color="#ff0200"/><stop offset=".694" stop-color="#ff2400"/><stop offset=".775" stop-color="#ff5800"/><stop offset=".856" stop-color="#ff9d00"/><stop offset=".938" stop-color="#fff500"/><stop offset=".944" stop-color="#fffc00"/><stop offset=".956" stop-color="#ffff12"/><stop offset="1" stop-color="#ffff67"/></linearGradient><linearGradient id="s248" gradientUnits="userSpaceOnUse" x1="1097.3" x2="1298.4"><stop offset="0" stop-color="#ffff48"/><stop offset=".038" stop-color="#ffff00"/><stop offset=".119" stop-color="#ffa300"/><stop offset=".2" stop-color="#ff5900"/><stop offset=".281" stop-color="#ff2100"/><stop offset=".35" stop-color="#fe0000"/><stop offset=".431" stop-color="#e70000"/><stop offset=".513" stop-color="#e10000"/><stop offset=".594" stop-color="#ed0000"/><stop offset=".65" stop-color="#ff0100"/><stop offset=".731" stop-color="#ff2c00"/><stop offset=".812" stop-color="#ff6800"/><stop offset=".894" stop-color="#ffb500"/><stop offset=".956" stop-color="#fffd00"/><stop offset=".994" stop-color="#ffff46"/><stop offset="1" stop-color="#ffff52"/></linearGradient><linearGradient id="s249" gradientUnits="userSpaceOnUse" x1="1099.2" x2="1300.3"><stop offset="0" stop-color="#ffff34"/><stop offset=".025" stop-color="#ffff03"/><stop offset=".056" stop-color="#ffdb00"/><stop offset=".138" stop-color="#ff8300"/><stop offset=".219" stop-color="#ff3d00"/><stop offset=".3" stop-color="#ff0900"/><stop offset=".325" stop-color="#fb0000"/><stop offset=".406" stop-color="#df0000"/><stop offset=".488" stop-color="#d40000"/><stop offset=".569" stop-color="#da0000"/><stop offset=".65" stop-color="#f30000"/><stop offset=".681" stop-color="#ff0200"/><stop offset=".763" stop-color="#ff3300"/><stop offset=".844" stop-color="#ff7600"/><stop offset=".925" stop-color="#ffcb00"/><stop offset=".969" stop-color="#ffff01"/><stop offset="1" stop-color="#ffff3e"/></linearGradient><linearGradient id="s250" gradientUnits="userSpaceOnUse" x1="1101.1" x2="1302.2"><stop offset="0" stop-color="#ffff20"/><stop offset=".013" stop-color="#ffff08"/><stop offset=".019" stop-color="#fffc00"/><stop offset=".1" stop-color="#ff9c00"/><stop offset=".181" stop-color="#ff4e00"/><stop offset=".263" stop-color="#ff1200"/><stop offset=".294" stop-color="#fe0000"/><stop offset=".375" stop-color="#db0000"/><stop offset=".456" stop-color="#c90000"/><stop offset=".537" stop-color="#c80000"/><stop offset=".619" stop-color="#da0000"/><stop offset=".706" stop-color="#ff0200"/><stop offset=".788" stop-color="#ff3900"/><stop offset=".869" stop-color="#ff8100"/><stop offset=".95" stop-color="#ffdb00"/><stop offset=".975" stop-color="#fffa00"/><stop offset=".981" stop-color="#ffff05"/><stop offset="1" stop-color="#ffff2a"/></linearGradient><linearGradient id="s251" gradientUnits="userSpaceOnUse" x1="1103" x2="1304.1"><stop offset="0" stop-color="#ffff0d"/><stop offset=".006" stop-color="#ffff01"/><stop offset=".094" stop-color="#ff9600"/><stop offset=".175" stop-color="#ff4700"/><stop offset=".256" stop-color="#ff0900"/><stop offset=".275" stop-color="#fc0000"/><stop offset=".356" stop-color="#d40000"/><stop offset=".438" stop-color="#be0000"/><stop offset=".519" stop-color="#ba0000"/><stop offset=".6" stop-color="#c80000"/><stop offset=".681" stop-color="#e70000"/><stop offset=".725" stop-color="#ff0000"/><stop offset=".806" stop-color="#ff3b00"/><stop offset=".888" stop-color="#ff8700"/><stop offset=".969" stop-color="#ffe600"/><stop offset=".988" stop-color="#fffe00"/><stop offset="1" stop-color="#ffff17"/></linearGradient><linearGradient id="s252" gradientUnits="userSpaceOnUse" x1="1105" x2="1306.1"><stop offset="0" stop-color="#fffc00"/><stop offset=".081" stop-color="#ff9800"/><stop offset=".163" stop-color="#ff4500"/><stop offset=".244" stop-color="#ff0500"/><stop offset=".256" stop-color="#fc0000"/><stop offset=".338" stop-color="#d00000"/><stop offset=".419" stop-color="#b60000"/><stop offset=".5" stop-color="#ad0000"/><stop offset=".581" stop-color="#b70000"/><stop offset=".663" stop-color="#d20000"/><stop offset=".744" stop-color="#ff0000"/><stop offset=".825" stop-color="#ff3f00"/><stop offset=".906" stop-color="#ff8f00"/><stop offset=".988" stop-color="#fff200"/><stop offset="1" stop-color="#ffff05"/></linearGradient><linearGradient id="s253" gradientUnits="userSpaceOnUse" x1="1106.9" x2="1308"><stop offset="0" stop-color="#fff000"/><stop offset=".081" stop-color="#ff8c00"/><stop offset=".163" stop-color="#ff3a00"/><stop offset=".231" stop-color="#ff0200"/><stop offset=".331" stop-color="#c70000"/><stop offset=".413" stop-color="#ab0000"/><stop offset=".494" stop-color="#a10000"/><stop offset=".575" stop-color="#aa0000"/><stop offset=".656" stop-color="#c30000"/><stop offset=".738" stop-color="#ef0000"/><stop offset=".763" stop-color="#ff0100"/><stop offset=".844" stop-color="#ff4400"/><stop offset=".925" stop-color="#ff9900"/><stop offset="1" stop-color="#fff600"/></linearGradient><linearGradient id="s254" gradientUnits="userSpaceOnUse" x1="1108.8" x2="1309.9"><stop offset="0" stop-color="#ffe400"/><stop offset=".081" stop-color="#ff8000"/><stop offset=".163" stop-color="#ff2e00"/><stop offset=".219" stop-color="#ff0000"/><stop offset=".3" stop-color="#cb0000"/><stop offset=".381" stop-color="#a80000"/><stop offset=".463" stop-color="#980000"/><stop offset=".544" stop-color="#990000"/><stop offset=".625" stop-color="#ac0000"/><stop offset=".706" stop-color="#d10000"/><stop offset=".775" stop-color="#fe0000"/><stop offset=".844" stop-color="#ff3800"/><stop offset=".925" stop-color="#ff8d00"/><stop offset="1" stop-color="#ffeb00"/></linearGradient><linearGradient id="s255" gradientUnits="userSpaceOnUse" x1="1110.7" x2="1311.8"><stop offset="0" stop-color="#ffd900"/><stop offset=".081" stop-color="#ff7500"/><stop offset=".163" stop-color="#ff2300"/><stop offset=".206" stop-color="#fd0000"/><stop offset=".288" stop-color="#c60000"/><stop offset=".369" stop-color="#a10000"/><stop offset=".45" stop-color="#8e0000"/><stop offset=".531" stop-color="#8c0000"/><stop offset=".613" stop-color="#9d0000"/><stop offset=".694" stop-color="#bf0000"/><stop offset=".775" stop-color="#f30000"/><stop offset=".794" stop-color="#ff0200"/><stop offset=".875" stop-color="#ff4c00"/><stop offset=".956" stop-color="#ffa700"/><stop offset="1" stop-color="#ffe000"/></linearGradient><linearGradient id="s256" gradientUnits="userSpaceOnUse" x1="1112.7" x2="1313.8"><stop offset="0" stop-color="#ffcf00"/><stop offset=".081" stop-color="#ff6b00"/><stop offset=".163" stop-color="#ff1800"/><stop offset=".194" stop-color="#fd0000"/><stop offset=".275" stop-color="#c30000"/><stop offset=".356" stop-color="#9b0000"/><stop offset=".438" stop-color="#850000"/><stop offset=".519" stop-color="#810000"/><stop offset=".6" stop-color="#8f0000"/><stop offset=".681" stop-color="#ae0000"/><stop offset=".763" stop-color="#df0000"/><stop offset=".806" stop-color="#ff0200"/><stop offset=".888" stop-color="#ff4e00"/><stop offset=".969" stop-color="#ffac00"/><stop offset="1" stop-color="#ffd500"/></linearGradient><linearGradient id="s257" gradientUnits="userSpaceOnUse" x1="1114.6" x2="1315.7"><stop offset="0" stop-color="#ffc400"/><stop offset=".081" stop-color="#ff6000"/><stop offset=".163" stop-color="#ff0e00"/><stop offset=".181" stop-color="#fd0000"/><stop offset=".263" stop-color="#c10000"/><stop offset=".344" stop-color="#960000"/><stop offset=".425" stop-color="#7d0000"/><stop offset=".506" stop-color="#760000"/><stop offset=".588" stop-color="#810000"/><stop offset=".669" stop-color="#9e0000"/><stop offset=".75" stop-color="#cc0000"/><stop offset=".819" stop-color="#ff0200"/><stop offset=".9" stop-color="#ff5100"/><stop offset=".981" stop-color="#ffb200"/><stop offset="1" stop-color="#ffcb00"/></linearGradient><linearGradient id="s258" gradientUnits="userSpaceOnUse" x1="1116.5" x2="1317.6"><stop offset="0" stop-color="#ffbb00"/><stop offset=".081" stop-color="#ff5700"/><stop offset=".163" stop-color="#ff0500"/><stop offset=".175" stop-color="#f80000"/><stop offset=".256" stop-color="#bb0000"/><stop offset=".338" stop-color="#8f0000"/><stop offset=".419" stop-color="#750000"/><stop offset=".5" stop-color="#6c0000"/><stop offset=".581" stop-color="#760000"/><stop offset=".663" stop-color="#910000"/><stop offset=".744" stop-color="#be0000"/><stop offset=".825" stop-color="#fd0000"/><stop offset=".881" stop-color="#ff3400"/><stop offset=".963" stop-color="#ff9100"/><stop offset="1" stop-color="#ffc100"/></linearGradient><linearGradient id="s259" gradientUnits="userSpaceOnUse" x1="1118.5" x2="1319.6"><stop offset="0" stop-color="#ffb100"/><stop offset=".081" stop-color="#ff4d00"/><stop offset=".156" stop-color="#ff0100"/><stop offset=".244" stop-color="#ba0000"/><stop offset=".325" stop-color="#8b0000"/><stop offset=".406" stop-color="#6e0000"/><stop offset=".488" stop-color="#630000"/><stop offset=".569" stop-color="#6a0000"/><stop offset=".65" stop-color="#820000"/><stop offset=".731" stop-color="#ad0000"/><stop offset=".812" stop-color="#e90000"/><stop offset=".838" stop-color="#ff0000"/><stop offset=".919" stop-color="#ff5300"/><stop offset="1" stop-color="#ffb800"/></linearGradient><linearGradient id="s260" gradientUnits="userSpaceOnUse" x1="1120.4" x2="1321.5"><stop offset="0" stop-color="#ffa800"/><stop offset=".081" stop-color="#ff4400"/><stop offset=".144" stop-color="#ff0400"/><stop offset=".163" stop-color="#f10000"/><stop offset=".244" stop-color="#b10000"/><stop offset=".325" stop-color="#820000"/><stop offset=".406" stop-color="#650000"/><stop offset=".488" stop-color="#5a0000"/><stop offset=".569" stop-color="#610000"/><stop offset=".65" stop-color="#790000"/><stop offset=".731" stop-color="#a40000"/><stop offset=".812" stop-color="#e00000"/><stop offset=".85" stop-color="#ff0200"/><stop offset=".931" stop-color="#ff5800"/><stop offset="1" stop-color="#ffaf00"/></linearGradient><linearGradient id="s261" gradientUnits="userSpaceOnUse" x1="1122.3" x2="1323.4"><stop offset="0" stop-color="#ffa000"/><stop offset=".081" stop-color="#ff3c00"/><stop offset=".138" stop-color="#ff0100"/><stop offset=".231" stop-color="#b10000"/><stop offset=".312" stop-color="#800000"/><stop offset=".394" stop-color="#600000"/><stop offset=".475" stop-color="#520000"/><stop offset=".556" stop-color="#560000"/><stop offset=".638" stop-color="#6c0000"/><stop offset=".719" stop-color="#940000"/><stop offset=".8" stop-color="#cd0000"/><stop offset=".856" stop-color="#ff0000"/><stop offset=".938" stop-color="#ff5700"/><stop offset="1" stop-color="#ffa700"/></linearGradient><linearGradient id="s262" gradientUnits="userSpaceOnUse" x1="1124.2" x2="1325.3"><stop offset="0" stop-color="#ff9800"/><stop offset=".081" stop-color="#ff3400"/><stop offset=".131" stop-color="#fe0000"/><stop offset=".213" stop-color="#b70000"/><stop offset=".294" stop-color="#810000"/><stop offset=".375" stop-color="#5e0000"/><stop offset=".456" stop-color="#4c0000"/><stop offset=".537" stop-color="#4c0000"/><stop offset=".619" stop-color="#5d0000"/><stop offset=".7" stop-color="#810000"/><stop offset=".781" stop-color="#b60000"/><stop offset=".863" stop-color="#fd0000"/><stop offset=".919" stop-color="#ff3a00"/><stop offset="1" stop-color="#ff9f00"/></linearGradient><linearGradient id="s263" gradientUnits="userSpaceOnUse" x1="1126.2" x2="1327.3"><stop offset="0" stop-color="#ff9000"/><stop offset=".081" stop-color="#ff2c00"/><stop offset=".125" stop-color="#fd0000"/><stop offset=".206" stop-color="#b40000"/><stop offset=".288" stop-color="#7d0000"/><stop offset=".369" stop-color="#580000"/><stop offset=".45" stop-color="#450000"/><stop offset=".531" stop-color="#430000"/><stop offset=".613" stop-color="#540000"/><stop offset=".694" stop-color="#760000"/><stop offset=".775" stop-color="#aa0000"/><stop offset=".856" stop-color="#ef0000"/><stop offset=".875" stop-color="#ff0300"/><stop offset=".956" stop-color="#ff5e00"/><stop offset="1" stop-color="#ff9700"/></linearGradient><linearGradient id="s264" gradientUnits="userSpaceOnUse" x1="1128.1" x2="1329.2"><stop offset="0" stop-color="#ff8900"/><stop offset=".081" stop-color="#ff2500"/><stop offset=".113" stop-color="#ff0300"/><stop offset=".138" stop-color="#e90000"/><stop offset=".219" stop-color="#a30000"/><stop offset=".3" stop-color="#6f0000"/><stop offset=".381" stop-color="#4d0000"/><stop offset=".463" stop-color="#3c0000"/><stop offset=".544" stop-color="#3e0000"/><stop offset=".625" stop-color="#510000"/><stop offset=".706" stop-color="#750000"/><stop offset=".788" stop-color="#ac0000"/><stop offset=".869" stop-color="#f40000"/><stop offset=".881" stop-color="#ff0200"/><stop offset=".963" stop-color="#ff5f00"/><stop offset="1" stop-color="#ff9000"/></linearGradient><linearGradient id="s265" gradientUnits="userSpaceOnUse" x1="1130" x2="1331.1"><stop offset="0" stop-color="#ff8200"/><stop offset=".081" stop-color="#ff1e00"/><stop offset=".106" stop-color="#ff0300"/><stop offset=".144" stop-color="#dc0000"/><stop offset=".225" stop-color="#980000"/><stop offset=".306" stop-color="#650000"/><stop offset=".388" stop-color="#440000"/><stop offset=".469" stop-color="#350000"/><stop offset=".55" stop-color="#380000"/><stop offset=".631" stop-color="#4c0000"/><stop offset=".713" stop-color="#720000"/><stop offset=".794" stop-color="#aa0000"/><stop offset=".875" stop-color="#f40000"/><stop offset=".888" stop-color="#ff0200"/><stop offset=".969" stop-color="#ff6000"/><stop offset="1" stop-color="#ff8900"/></linearGradient><linearGradient id="s266" gradientUnits="userSpaceOnUse" x1="1132" x2="1333.1"><stop offset="0" stop-color="#ff7c00"/><stop offset=".081" stop-color="#ff1800"/><stop offset=".1" stop-color="#ff0300"/><stop offset=".125" stop-color="#e80000"/><stop offset=".206" stop-color="#a00000"/><stop offset=".288" stop-color="#690000"/><stop offset=".369" stop-color="#440000"/><stop offset=".45" stop-color="#310000"/><stop offset=".531" stop-color="#2f0000"/><stop offset=".613" stop-color="#3f0000"/><stop offset=".694" stop-color="#610000"/><stop offset=".775" stop-color="#950000"/><stop offset=".856" stop-color="#db0000"/><stop offset=".894" stop-color="#ff0200"/><stop offset=".975" stop-color="#ff6100"/><stop offset="1" stop-color="#ff8200"/></linearGradient><linearGradient id="s267" gradientUnits="userSpaceOnUse" x1="1133.9" x2="1335"><stop offset="0" stop-color="#ff7600"/><stop offset=".081" stop-color="#ff1200"/><stop offset=".1" stop-color="#fc0000"/><stop offset=".181" stop-color="#ae0000"/><stop offset=".263" stop-color="#720000"/><stop offset=".344" stop-color="#470000"/><stop offset=".425" stop-color="#2f0000"/><stop offset=".506" stop-color="#280000"/><stop offset=".588" stop-color="#320000"/><stop offset=".669" stop-color="#4f0000"/><stop offset=".75" stop-color="#7d0000"/><stop offset=".831" stop-color="#bd0000"/><stop offset=".9" stop-color="#ff0300"/><stop offset=".981" stop-color="#ff6400"/><stop offset="1" stop-color="#ff7c00"/></linearGradient><linearGradient id="s268" gradientUnits="userSpaceOnUse" x1="1135.8" x2="1336.9"><stop offset="0" stop-color="#ff7000"/><stop offset=".081" stop-color="#ff0c00"/><stop offset=".094" stop-color="#fd0000"/><stop offset=".175" stop-color="#ae0000"/><stop offset=".256" stop-color="#700000"/><stop offset=".338" stop-color="#440000"/><stop offset=".419" stop-color="#2a0000"/><stop offset=".5" stop-color="#220000"/><stop offset=".581" stop-color="#2b0000"/><stop offset=".663" stop-color="#470000"/><stop offset=".744" stop-color="#740000"/><stop offset=".825" stop-color="#b20000"/><stop offset=".9" stop-color="#fc0000"/><stop offset=".925" stop-color="#ff1900"/><stop offset="1" stop-color="#ff7700"/></linearGradient><linearGradient id="s269" gradientUnits="userSpaceOnUse" x1="1137.7" x2="1338.8"><stop offset="0" stop-color="#ff6b00"/><stop offset=".081" stop-color="#ff0700"/><stop offset=".088" stop-color="#ff0000"/><stop offset=".169" stop-color="#ae0000"/><stop offset=".25" stop-color="#6f0000"/><stop offset=".331" stop-color="#420000"/><stop offset=".413" stop-color="#270000"/><stop offset=".494" stop-color="#1d0000"/><stop offset=".575" stop-color="#250000"/><stop offset=".656" stop-color="#3f0000"/><stop offset=".738" stop-color="#6a0000"/><stop offset=".819" stop-color="#a80000"/><stop offset=".9" stop-color="#f70000"/><stop offset=".906" stop-color="#fe0000"/><stop offset=".975" stop-color="#ff5100"/><stop offset="1" stop-color="#ff7200"/></linearGradient><linearGradient id="s270" gradientUnits="userSpaceOnUse" x1="1139.7" x2="1340.8"><stop offset="0" stop-color="#ff6600"/><stop offset=".081" stop-color="#ff0200"/><stop offset=".181" stop-color="#9f0000"/><stop offset=".263" stop-color="#620000"/><stop offset=".344" stop-color="#380000"/><stop offset=".425" stop-color="#1f0000"/><stop offset=".506" stop-color="#180000"/><stop offset=".588" stop-color="#230000"/><stop offset=".669" stop-color="#400000"/><stop offset=".75" stop-color="#6e0000"/><stop offset=".831" stop-color="#ae0000"/><stop offset=".913" stop-color="#ff0100"/><stop offset=".994" stop-color="#ff6500"/><stop offset="1" stop-color="#ff6d00"/></linearGradient><linearGradient id="s271" gradientUnits="userSpaceOnUse" x1="1141.6" x2="1342.7"><stop offset="0" stop-color="#ff6200"/><stop offset=".075" stop-color="#ff0500"/><stop offset=".081" stop-color="#fd0000"/><stop offset=".163" stop-color="#ab0000"/><stop offset=".244" stop-color="#6a0000"/><stop offset=".325" stop-color="#3c0000"/><stop offset=".406" stop-color="#1f0000"/><stop offset=".488" stop-color="#140000"/><stop offset=".569" stop-color="#1b0000"/><stop offset=".65" stop-color="#330000"/><stop offset=".731" stop-color="#5d0000"/><stop offset=".812" stop-color="#990000"/><stop offset=".894" stop-color="#e70000"/><stop offset=".913" stop-color="#fc0000"/><stop offset=".931" stop-color="#ff1200"/><stop offset="1" stop-color="#ff6900"/></linearGradient><linearGradient id="s272" gradientUnits="userSpaceOnUse" x1="1143.5" x2="1344.6"><stop offset="0" stop-color="#ff5e00"/><stop offset=".075" stop-color="#ff0100"/><stop offset=".169" stop-color="#a10000"/><stop offset=".25" stop-color="#620000"/><stop offset=".331" stop-color="#350000"/><stop offset=".413" stop-color="#1a0000"/><stop offset=".494" stop-color="#100000"/><stop offset=".575" stop-color="#180000"/><stop offset=".656" stop-color="#320000"/><stop offset=".738" stop-color="#5d0000"/><stop offset=".819" stop-color="#9b0000"/><stop offset=".9" stop-color="#ea0000"/><stop offset=".919" stop-color="#ff0000"/><stop offset="1" stop-color="#ff6500"/></linearGradient><linearGradient id="s273" gradientUnits="userSpaceOnUse" x1="1145.4" x2="1346.5"><stop offset="0" stop-color="#ff5b00"/><stop offset=".069" stop-color="#ff0500"/><stop offset=".075" stop-color="#fd0000"/><stop offset=".156" stop-color="#a90000"/><stop offset=".238" stop-color="#680000"/><stop offset=".319" stop-color="#370000"/><stop offset=".4" stop-color="#190000"/><stop offset=".481" stop-color="#0d0000"/><stop offset=".562" stop-color="#120000"/><stop offset=".644" stop-color="#290000"/><stop offset=".725" stop-color="#520000"/><stop offset=".806" stop-color="#8d0000"/><stop offset=".888" stop-color="#d90000"/><stop offset=".919" stop-color="#fb0000"/><stop offset=".938" stop-color="#ff1200"/><stop offset="1" stop-color="#ff6100"/></linearGradient><linearGradient id="s274" gradientUnits="userSpaceOnUse" x1="1147.4" x2="1348.5"><stop offset="0" stop-color="#ff5800"/><stop offset=".069" stop-color="#ff0200"/><stop offset=".169" stop-color="#9b0000"/><stop offset=".25" stop-color="#5c0000"/><stop offset=".331" stop-color="#2f0000"/><stop offset=".413" stop-color="#130000"/><stop offset=".494" stop-color="#090000"/><stop offset=".575" stop-color="#120000"/><stop offset=".656" stop-color="#2b0000"/><stop offset=".738" stop-color="#570000"/><stop offset=".819" stop-color="#940000"/><stop offset=".9" stop-color="#e40000"/><stop offset=".925" stop-color="#ff0100"/><stop offset="1" stop-color="#ff5e00"/></linearGradient><linearGradient id="s275" gradientUnits="userSpaceOnUse" x1="1149.3" x2="1350.4"><stop offset="0" stop-color="#ff5500"/><stop offset=".069" stop-color="#fe0000"/><stop offset=".15" stop-color="#a90000"/><stop offset=".231" stop-color="#660000"/><stop offset=".312" stop-color="#350000"/><stop offset=".394" stop-color="#150000"/><stop offset=".475" stop-color="#080000"/><stop offset=".556" stop-color="#0b0000"/><stop offset=".638" stop-color="#210000"/><stop offset=".719" stop-color="#490000"/><stop offset=".8" stop-color="#820000"/><stop offset=".881" stop-color="#cd0000"/><stop offset=".925" stop-color="#fd0000"/><stop offset=".981" stop-color="#ff4300"/><stop offset="1" stop-color="#ff5c00"/></linearGradient><linearGradient id="s276" gradientUnits="userSpaceOnUse" x1="1151.2" x2="1352.3"><stop offset="0" stop-color="#ff5300"/><stop offset=".062" stop-color="#ff0400"/><stop offset=".075" stop-color="#f50000"/><stop offset=".156" stop-color="#a10000"/><stop offset=".238" stop-color="#600000"/><stop offset=".319" stop-color="#300000"/><stop offset=".4" stop-color="#110000"/><stop offset=".481" stop-color="#050000"/><stop offset=".562" stop-color="#0a0000"/><stop offset=".644" stop-color="#210000"/><stop offset=".725" stop-color="#4a0000"/><stop offset=".806" stop-color="#850000"/><stop offset=".888" stop-color="#d10000"/><stop offset=".925" stop-color="#fb0000"/><stop offset=".938" stop-color="#ff0a00"/><stop offset="1" stop-color="#ff5a00"/></linearGradient><linearGradient id="s277" gradientUnits="userSpaceOnUse" x1="1153.2" x2="1354.3"><stop offset="0" stop-color="#ff5100"/><stop offset=".062" stop-color="#ff0300"/><stop offset=".156" stop-color="#a00000"/><stop offset=".238" stop-color="#5e0000"/><stop offset=".319" stop-color="#2e0000"/><stop offset=".4" stop-color="#100000"/><stop offset=".481" stop-color="#030000"/><stop offset=".562" stop-color="#090000"/><stop offset=".644" stop-color="#200000"/><stop offset=".725" stop-color="#490000"/><stop offset=".806" stop-color="#830000"/><stop offset=".888" stop-color="#d00000"/><stop offset=".931" stop-color="#ff0100"/><stop offset="1" stop-color="#ff5800"/></linearGradient><linearGradient id="s278" gradientUnits="userSpaceOnUse" x1="1155.1" x2="1356.2"><stop offset="0" stop-color="#ff5000"/><stop offset=".062" stop-color="#ff0100"/><stop offset=".156" stop-color="#9e0000"/><stop offset=".238" stop-color="#5d0000"/><stop offset=".319" stop-color="#2d0000"/><stop offset=".4" stop-color="#0e0000"/><stop offset=".481" stop-color="#020000"/><stop offset=".562" stop-color="#070000"/><stop offset=".644" stop-color="#1e0000"/><stop offset=".725" stop-color="#470000"/><stop offset=".806" stop-color="#820000"/><stop offset=".888" stop-color="#ce0000"/><stop offset=".931" stop-color="#ff0000"/><stop offset="1" stop-color="#ff5700"/></linearGradient><linearGradient id="s279" gradientUnits="userSpaceOnUse" x1="1157" x2="1358.1"><stop offset="0" stop-color="#ff4f00"/><stop offset=".062" stop-color="#ff0000"/><stop offset=".15" stop-color="#a30000"/><stop offset=".231" stop-color="#600000"/><stop offset=".312" stop-color="#2f0000"/><stop offset=".394" stop-color="#0f0000"/><stop offset=".475" stop-color="#010000"/><stop offset=".556" stop-color="#050000"/><stop offset=".638" stop-color="#1b0000"/><stop offset=".719" stop-color="#430000"/><stop offset=".8" stop-color="#7c0000"/><stop offset=".881" stop-color="#c70000"/><stop offset=".931" stop-color="#fe0000"/><stop offset="1" stop-color="#ff5600"/></linearGradient><linearGradient id="s280" gradientUnits="userSpaceOnUse" x1="1158.9" x2="1360"><stop offset="0" stop-color="#ff4e00"/><stop offset=".062" stop-color="#ff0000"/><stop offset=".144" stop-color="#a90000"/><stop offset=".225" stop-color="#640000"/><stop offset=".306" stop-color="#310000"/><stop offset=".388" stop-color="#100000"/><stop offset=".469" stop-color="#010000"/><stop offset=".55" stop-color="#040000"/><stop offset=".631" stop-color="#180000"/><stop offset=".713" stop-color="#3e0000"/><stop offset=".794" stop-color="#760000"/><stop offset=".875" stop-color="#c00000"/><stop offset=".931" stop-color="#fd0000"/><stop offset="1" stop-color="#ff5500"/></linearGradient><linearGradient id="s281" gradientUnits="userSpaceOnUse" x1="1160.9" x2="1362"><stop offset="0" stop-color="#ff4e00"/><stop offset=".062" stop-color="#ff0000"/><stop offset=".144" stop-color="#a90000"/><stop offset=".225" stop-color="#640000"/><stop offset=".306" stop-color="#310000"/><stop offset=".388" stop-color="#100000"/><stop offset=".469" stop-color="#010000"/><stop offset=".55" stop-color="#040000"/><stop offset=".631" stop-color="#180000"/><stop offset=".713" stop-color="#3e0000"/><stop offset=".794" stop-color="#760000"/><stop offset=".875" stop-color="#c00000"/><stop offset=".931" stop-color="#fd0000"/><stop offset=".994" stop-color="#ff4d00"/><stop offset="1" stop-color="#ff5500"/></linearGradient><linearGradient id="s282" gradientUnits="userSpaceOnUse" x1="1162.8" x2="1363.9"><stop offset="0" stop-color="#ff4f00"/><stop offset=".062" stop-color="#ff0000"/><stop offset=".144" stop-color="#a90000"/><stop offset=".225" stop-color="#640000"/><stop offset=".306" stop-color="#320000"/><stop offset=".388" stop-color="#110000"/><stop offset=".469" stop-color="#010000"/><stop offset=".55" stop-color="#040000"/><stop offset=".631" stop-color="#180000"/><stop offset=".713" stop-color="#3f0000"/><stop offset=".794" stop-color="#770000"/><stop offset=".875" stop-color="#c00000"/><stop offset=".931" stop-color="#fe0000"/><stop offset="1" stop-color="#ff5500"/></linearGradient><linearGradient id="s283" gradientUnits="userSpaceOnUse" x1="1164.7" x2="1365.8"><stop offset="0" stop-color="#ff4f00"/><stop offset=".062" stop-color="#ff0100"/><stop offset=".15" stop-color="#a40000"/><stop offset=".231" stop-color="#610000"/><stop offset=".312" stop-color="#2f0000"/><stop offset=".394" stop-color="#100000"/><stop offset=".475" stop-color="#020000"/><stop offset=".556" stop-color="#060000"/><stop offset=".638" stop-color="#1c0000"/><stop offset=".719" stop-color="#430000"/><stop offset=".8" stop-color="#7c0000"/><stop offset=".881" stop-color="#c70000"/><stop offset=".931" stop-color="#fe0000"/><stop offset="1" stop-color="#ff5600"/></linearGradient><linearGradient id="s284" gradientUnits="userSpaceOnUse" x1="1166.6" x2="1367.7"><stop offset="0" stop-color="#ff5100"/><stop offset=".062" stop-color="#ff0200"/><stop offset=".163" stop-color="#990000"/><stop offset=".244" stop-color="#590000"/><stop offset=".325" stop-color="#2a0000"/><stop offset=".406" stop-color="#0e0000"/><stop offset=".488" stop-color="#020000"/><stop offset=".569" stop-color="#090000"/><stop offset=".65" stop-color="#220000"/><stop offset=".731" stop-color="#4c0000"/><stop offset=".812" stop-color="#880000"/><stop offset=".894" stop-color="#d60000"/><stop offset=".931" stop-color="#ff0100"/><stop offset="1" stop-color="#ff5700"/></linearGradient><linearGradient id="s285" gradientUnits="userSpaceOnUse" x1="1168.6" x2="1369.7"><stop offset="0" stop-color="#ff5200"/><stop offset=".062" stop-color="#ff0400"/><stop offset=".081" stop-color="#ed0000"/><stop offset=".163" stop-color="#9b0000"/><stop offset=".244" stop-color="#5b0000"/><stop offset=".325" stop-color="#2c0000"/><stop offset=".406" stop-color="#0f0000"/><stop offset=".488" stop-color="#040000"/><stop offset=".569" stop-color="#0b0000"/><stop offset=".65" stop-color="#230000"/><stop offset=".731" stop-color="#4d0000"/><stop offset=".812" stop-color="#8a0000"/><stop offset=".894" stop-color="#d70000"/><stop offset=".931" stop-color="#ff0200"/><stop offset="1" stop-color="#ff5900"/></linearGradient><linearGradient id="s286" gradientUnits="userSpaceOnUse" x1="1170.5" x2="1371.6"><stop offset="0" stop-color="#ff5400"/><stop offset=".069" stop-color="#fd0000"/><stop offset=".15" stop-color="#a90000"/><stop offset=".231" stop-color="#650000"/><stop offset=".312" stop-color="#340000"/><stop offset=".394" stop-color="#140000"/><stop offset=".475" stop-color="#070000"/><stop offset=".556" stop-color="#0b0000"/><stop offset=".638" stop-color="#200000"/><stop offset=".719" stop-color="#480000"/><stop offset=".8" stop-color="#810000"/><stop offset=".881" stop-color="#cc0000"/><stop offset=".925" stop-color="#fc0000"/><stop offset=".95" stop-color="#ff1b00"/><stop offset="1" stop-color="#ff5b00"/></linearGradient><linearGradient id="s287" gradientUnits="userSpaceOnUse" x1="1172.4" x2="1373.5"><stop offset="0" stop-color="#ff5700"/><stop offset=".069" stop-color="#ff0100"/><stop offset=".156" stop-color="#a50000"/><stop offset=".238" stop-color="#630000"/><stop offset=".319" stop-color="#330000"/><stop offset=".4" stop-color="#150000"/><stop offset=".481" stop-color="#090000"/><stop offset=".562" stop-color="#0e0000"/><stop offset=".644" stop-color="#250000"/><stop offset=".725" stop-color="#4e0000"/><stop offset=".806" stop-color="#890000"/><stop offset=".888" stop-color="#d50000"/><stop offset=".925" stop-color="#fe0000"/><stop offset="1" stop-color="#ff5d00"/></linearGradient><linearGradient id="s288" gradientUnits="userSpaceOnUse" x1="1174.4" x2="1375.5"><stop offset="0" stop-color="#ff5900"/><stop offset=".069" stop-color="#ff0400"/><stop offset=".088" stop-color="#ee0000"/><stop offset=".169" stop-color="#9d0000"/><stop offset=".25" stop-color="#5e0000"/><stop offset=".331" stop-color="#300000"/><stop offset=".413" stop-color="#150000"/><stop offset=".494" stop-color="#0b0000"/><stop offset=".575" stop-color="#130000"/><stop offset=".656" stop-color="#2d0000"/><stop offset=".738" stop-color="#590000"/><stop offset=".819" stop-color="#960000"/><stop offset=".9" stop-color="#e50000"/><stop offset=".925" stop-color="#ff0200"/><stop offset="1" stop-color="#ff6000"/></linearGradient><linearGradient id="s289" gradientUnits="userSpaceOnUse" x1="1176.3" x2="1377.4"><stop offset="0" stop-color="#ff5d00"/><stop offset=".075" stop-color="#ff0000"/><stop offset=".156" stop-color="#ab0000"/><stop offset=".238" stop-color="#6a0000"/><stop offset=".319" stop-color="#3a0000"/><stop offset=".4" stop-color="#1b0000"/><stop offset=".481" stop-color="#0f0000"/><stop offset=".562" stop-color="#140000"/><stop offset=".644" stop-color="#2b0000"/><stop offset=".725" stop-color="#540000"/><stop offset=".806" stop-color="#8f0000"/><stop offset=".888" stop-color="#db0000"/><stop offset=".919" stop-color="#fd0000"/><stop offset=".988" stop-color="#ff5300"/><stop offset="1" stop-color="#ff6400"/></linearGradient><linearGradient id="s290" gradientUnits="userSpaceOnUse" x1="1178.2" x2="1379.3"><stop offset="0" stop-color="#ff6000"/><stop offset=".075" stop-color="#ff0400"/><stop offset=".094" stop-color="#ee0000"/><stop offset=".175" stop-color="#9e0000"/><stop offset=".256" stop-color="#610000"/><stop offset=".338" stop-color="#350000"/><stop offset=".419" stop-color="#1b0000"/><stop offset=".5" stop-color="#120000"/><stop offset=".581" stop-color="#1c0000"/><stop offset=".663" stop-color="#370000"/><stop offset=".744" stop-color="#640000"/><stop offset=".825" stop-color="#a30000"/><stop offset=".906" stop-color="#f30000"/><stop offset=".919" stop-color="#ff0200"/><stop offset="1" stop-color="#ff6700"/></linearGradient><linearGradient id="s291" gradientUnits="userSpaceOnUse" x1="1180.1" x2="1381.2"><stop offset="0" stop-color="#ff6500"/><stop offset=".081" stop-color="#ff0100"/><stop offset=".169" stop-color="#a80000"/><stop offset=".25" stop-color="#690000"/><stop offset=".331" stop-color="#3c0000"/><stop offset=".413" stop-color="#200000"/><stop offset=".494" stop-color="#160000"/><stop offset=".575" stop-color="#1e0000"/><stop offset=".656" stop-color="#380000"/><stop offset=".738" stop-color="#640000"/><stop offset=".819" stop-color="#a10000"/><stop offset=".9" stop-color="#f00000"/><stop offset=".913" stop-color="#fe0000"/><stop offset=".988" stop-color="#ff5b00"/><stop offset="1" stop-color="#ff6b00"/></linearGradient><linearGradient id="s292" gradientUnits="userSpaceOnUse" x1="1182.1" x2="1383.2"><stop offset="0" stop-color="#ff6900"/><stop offset=".081" stop-color="#ff0500"/><stop offset=".088" stop-color="#fd0000"/><stop offset=".169" stop-color="#ac0000"/><stop offset=".25" stop-color="#6d0000"/><stop offset=".331" stop-color="#400000"/><stop offset=".413" stop-color="#250000"/><stop offset=".494" stop-color="#1b0000"/><stop offset=".575" stop-color="#230000"/><stop offset=".656" stop-color="#3d0000"/><stop offset=".738" stop-color="#680000"/><stop offset=".819" stop-color="#a60000"/><stop offset=".9" stop-color="#f50000"/><stop offset=".913" stop-color="#ff0400"/><stop offset=".994" stop-color="#ff6700"/><stop offset="1" stop-color="#ff7000"/></linearGradient><linearGradient id="s293" gradientUnits="userSpaceOnUse" x1="1184" x2="1385.1"><stop offset="0" stop-color="#ff6e00"/><stop offset=".081" stop-color="#ff0a00"/><stop offset=".094" stop-color="#fb0000"/><stop offset=".175" stop-color="#ac0000"/><stop offset=".256" stop-color="#6e0000"/><stop offset=".338" stop-color="#420000"/><stop offset=".419" stop-color="#280000"/><stop offset=".5" stop-color="#200000"/><stop offset=".581" stop-color="#290000"/><stop offset=".663" stop-color="#440000"/><stop offset=".744" stop-color="#710000"/><stop offset=".825" stop-color="#b00000"/><stop offset=".906" stop-color="#ff0200"/><stop offset=".988" stop-color="#ff6400"/><stop offset="1" stop-color="#ff7500"/></linearGradient><linearGradient id="s294" gradientUnits="userSpaceOnUse" x1="1185.9" x2="1387"><stop offset="0" stop-color="#ff7300"/><stop offset=".081" stop-color="#ff1000"/><stop offset=".094" stop-color="#ff0200"/><stop offset=".188" stop-color="#a70000"/><stop offset=".269" stop-color="#6c0000"/><stop offset=".35" stop-color="#430000"/><stop offset=".431" stop-color="#2b0000"/><stop offset=".513" stop-color="#260000"/><stop offset=".594" stop-color="#320000"/><stop offset=".675" stop-color="#500000"/><stop offset=".756" stop-color="#7f0000"/><stop offset=".838" stop-color="#c10000"/><stop offset=".9" stop-color="#ff0000"/><stop offset=".981" stop-color="#ff6100"/><stop offset="1" stop-color="#ff7a00"/></linearGradient><linearGradient id="s295" gradientUnits="userSpaceOnUse" x1="1187.8" x2="1388.9"><stop offset="0" stop-color="#ff7900"/><stop offset=".081" stop-color="#ff1500"/><stop offset=".1" stop-color="#ff0100"/><stop offset=".188" stop-color="#ac0000"/><stop offset=".269" stop-color="#710000"/><stop offset=".35" stop-color="#480000"/><stop offset=".431" stop-color="#310000"/><stop offset=".513" stop-color="#2b0000"/><stop offset=".594" stop-color="#370000"/><stop offset=".675" stop-color="#550000"/><stop offset=".756" stop-color="#850000"/><stop offset=".838" stop-color="#c70000"/><stop offset=".894" stop-color="#fe0000"/><stop offset=".969" stop-color="#ff5700"/><stop offset="1" stop-color="#ff8000"/></linearGradient><linearGradient id="s296" gradientUnits="userSpaceOnUse" x1="1189.8" x2="1390.9"><stop offset="0" stop-color="#ff8000"/><stop offset=".081" stop-color="#ff1c00"/><stop offset=".106" stop-color="#ff0000"/><stop offset=".194" stop-color="#ad0000"/><stop offset=".275" stop-color="#740000"/><stop offset=".356" stop-color="#4c0000"/><stop offset=".438" stop-color="#360000"/><stop offset=".519" stop-color="#320000"/><stop offset=".6" stop-color="#3f0000"/><stop offset=".681" stop-color="#5f0000"/><stop offset=".763" stop-color="#900000"/><stop offset=".844" stop-color="#d30000"/><stop offset=".888" stop-color="#fe0000"/><stop offset=".963" stop-color="#ff5500"/><stop offset="1" stop-color="#ff8600"/></linearGradient><linearGradient id="s297" gradientUnits="userSpaceOnUse" x1="1191.7" x2="1392.8"><stop offset="0" stop-color="#ff8600"/><stop offset=".081" stop-color="#ff2200"/><stop offset=".113" stop-color="#ff0000"/><stop offset=".2" stop-color="#af0000"/><stop offset=".281" stop-color="#770000"/><stop offset=".363" stop-color="#500000"/><stop offset=".444" stop-color="#3c0000"/><stop offset=".525" stop-color="#390000"/><stop offset=".606" stop-color="#480000"/><stop offset=".688" stop-color="#690000"/><stop offset=".769" stop-color="#9b0000"/><stop offset=".85" stop-color="#df0000"/><stop offset=".881" stop-color="#fe0000"/><stop offset=".956" stop-color="#ff5400"/><stop offset="1" stop-color="#ff8d00"/></linearGradient><linearGradient id="s298" gradientUnits="userSpaceOnUse" x1="1193.6" x2="1394.7"><stop offset="0" stop-color="#ff8d00"/><stop offset=".081" stop-color="#ff2900"/><stop offset=".119" stop-color="#ff0100"/><stop offset=".213" stop-color="#ac0000"/><stop offset=".294" stop-color="#770000"/><stop offset=".375" stop-color="#530000"/><stop offset=".456" stop-color="#410000"/><stop offset=".537" stop-color="#410000"/><stop offset=".619" stop-color="#530000"/><stop offset=".7" stop-color="#760000"/><stop offset=".781" stop-color="#ab0000"/><stop offset=".863" stop-color="#f20000"/><stop offset=".875" stop-color="#ff0000"/><stop offset=".956" stop-color="#ff5b00"/><stop offset="1" stop-color="#ff9400"/></linearGradient><linearGradient id="s299" gradientUnits="userSpaceOnUse" x1="1195.6" x2="1396.7"><stop offset="0" stop-color="#ff9500"/><stop offset=".081" stop-color="#ff3100"/><stop offset=".125" stop-color="#ff0200"/><stop offset=".225" stop-color="#aa0000"/><stop offset=".306" stop-color="#780000"/><stop offset=".388" stop-color="#570000"/><stop offset=".469" stop-color="#480000"/><stop offset=".55" stop-color="#4a0000"/><stop offset=".631" stop-color="#5f0000"/><stop offset=".713" stop-color="#850000"/><stop offset=".794" stop-color="#bd0000"/><stop offset=".869" stop-color="#ff0100"/><stop offset=".95" stop-color="#ff5b00"/><stop offset="1" stop-color="#ff9b00"/></linearGradient><linearGradient id="s300" gradientUnits="userSpaceOnUse" x1="1197.5" x2="1398.6"><stop offset="0" stop-color="#ff9d00"/><stop offset=".081" stop-color="#ff3900"/><stop offset=".138" stop-color="#fd0000"/><stop offset=".219" stop-color="#b70000"/><stop offset=".3" stop-color="#830000"/><stop offset=".381" stop-color="#610000"/><stop offset=".463" stop-color="#500000"/><stop offset=".544" stop-color="#510000"/><stop offset=".625" stop-color="#640000"/><stop offset=".706" stop-color="#890000"/><stop offset=".788" stop-color="#c00000"/><stop offset=".856" stop-color="#fc0000"/><stop offset=".875" stop-color="#ff0f00"/><stop offset=".956" stop-color="#ff6b00"/><stop offset="1" stop-color="#ffa300"/></linearGradient><linearGradient id="s301" gradientUnits="userSpaceOnUse" x1="1199.4" x2="1400.5"><stop offset="0" stop-color="#ffa500"/><stop offset=".081" stop-color="#ff4100"/><stop offset=".144" stop-color="#ff0000"/><stop offset=".231" stop-color="#b60000"/><stop offset=".312" stop-color="#850000"/><stop offset=".394" stop-color="#650000"/><stop offset=".475" stop-color="#570000"/><stop offset=".556" stop-color="#5b0000"/><stop offset=".638" stop-color="#710000"/><stop offset=".719" stop-color="#990000"/><stop offset=".8" stop-color="#d20000"/><stop offset=".85" stop-color="#fe0000"/><stop offset=".925" stop-color="#ff4e00"/><stop offset="1" stop-color="#ffac00"/></linearGradient><linearGradient id="s302" gradientUnits="userSpaceOnUse" x1="1201.3" x2="1402.4"><stop offset="0" stop-color="#ffae00"/><stop offset=".081" stop-color="#ff4a00"/><stop offset=".15" stop-color="#ff0300"/><stop offset=".181" stop-color="#e60000"/><stop offset=".263" stop-color="#aa0000"/><stop offset=".344" stop-color="#7f0000"/><stop offset=".425" stop-color="#670000"/><stop offset=".506" stop-color="#600000"/><stop offset=".588" stop-color="#6a0000"/><stop offset=".669" stop-color="#870000"/><stop offset=".75" stop-color="#b50000"/><stop offset=".831" stop-color="#f50000"/><stop offset=".844" stop-color="#ff0200"/><stop offset=".925" stop-color="#ff5700"/><stop offset="1" stop-color="#ffb400"/></linearGradient><linearGradient id="s303" gradientUnits="userSpaceOnUse" x1="1203.3" x2="1404.4"><stop offset="0" stop-color="#ffb700"/><stop offset=".081" stop-color="#ff5300"/><stop offset=".163" stop-color="#ff0100"/><stop offset=".25" stop-color="#bb0000"/><stop offset=".331" stop-color="#8e0000"/><stop offset=".413" stop-color="#720000"/><stop offset=".494" stop-color="#690000"/><stop offset=".575" stop-color="#710000"/><stop offset=".656" stop-color="#8b0000"/><stop offset=".738" stop-color="#b60000"/><stop offset=".819" stop-color="#f40000"/><stop offset=".831" stop-color="#ff0000"/><stop offset=".913" stop-color="#ff5200"/><stop offset=".994" stop-color="#ffb500"/><stop offset="1" stop-color="#ffbe00"/></linearGradient><linearGradient id="s304" gradientUnits="userSpaceOnUse" x1="1205.2" x2="1406.3"><stop offset="0" stop-color="#ffc000"/><stop offset=".081" stop-color="#ff5d00"/><stop offset=".163" stop-color="#ff0a00"/><stop offset=".175" stop-color="#fe0000"/><stop offset=".256" stop-color="#c10000"/><stop offset=".338" stop-color="#950000"/><stop offset=".419" stop-color="#7b0000"/><stop offset=".5" stop-color="#720000"/><stop offset=".581" stop-color="#7c0000"/><stop offset=".663" stop-color="#970000"/><stop offset=".744" stop-color="#c40000"/><stop offset=".819" stop-color="#fd0000"/><stop offset=".881" stop-color="#ff3a00"/><stop offset=".963" stop-color="#ff9600"/><stop offset="1" stop-color="#ffc700"/></linearGradient><linearGradient id="s305" gradientUnits="userSpaceOnUse" x1="1207.1" x2="1408.2"><stop offset="0" stop-color="#ffcb00"/><stop offset=".081" stop-color="#ff6700"/><stop offset=".163" stop-color="#ff1400"/><stop offset=".188" stop-color="#fe0000"/><stop offset=".269" stop-color="#c30000"/><stop offset=".35" stop-color="#9a0000"/><stop offset=".431" stop-color="#820000"/><stop offset=".513" stop-color="#7d0000"/><stop offset=".594" stop-color="#890000"/><stop offset=".675" stop-color="#a70000"/><stop offset=".756" stop-color="#d60000"/><stop offset=".806" stop-color="#fd0000"/><stop offset=".856" stop-color="#ff2b00"/><stop offset=".938" stop-color="#ff8200"/><stop offset="1" stop-color="#ffd100"/></linearGradient><linearGradient id="s306" gradientUnits="userSpaceOnUse" x1="1209.1" x2="1410.2"><stop offset="0" stop-color="#ffd500"/><stop offset=".081" stop-color="#ff7100"/><stop offset=".163" stop-color="#ff1f00"/><stop offset=".2" stop-color="#fe0000"/><stop offset=".281" stop-color="#c60000"/><stop offset=".363" stop-color="#9f0000"/><stop offset=".444" stop-color="#8b0000"/><stop offset=".525" stop-color="#880000"/><stop offset=".606" stop-color="#970000"/><stop offset=".688" stop-color="#b70000"/><stop offset=".769" stop-color="#ea0000"/><stop offset=".8" stop-color="#ff0300"/><stop offset=".881" stop-color="#ff4e00"/><stop offset=".963" stop-color="#ffab00"/><stop offset="1" stop-color="#ffdc00"/></linearGradient><linearGradient id="s307" gradientUnits="userSpaceOnUse" x1="1211" x2="1412.1"><stop offset="0" stop-color="#ffe000"/><stop offset=".081" stop-color="#ff7c00"/><stop offset=".163" stop-color="#ff2a00"/><stop offset=".213" stop-color="#ff0000"/><stop offset=".294" stop-color="#c90000"/><stop offset=".375" stop-color="#a60000"/><stop offset=".456" stop-color="#940000"/><stop offset=".537" stop-color="#940000"/><stop offset=".619" stop-color="#a50000"/><stop offset=".7" stop-color="#c90000"/><stop offset=".781" stop-color="#fe0000"/><stop offset=".856" stop-color="#ff4000"/><stop offset=".938" stop-color="#ff9700"/><stop offset="1" stop-color="#ffe700"/></linearGradient><linearGradient id="s308" gradientUnits="userSpaceOnUse" x1="1212.9" x2="1414"><stop offset="0" stop-color="#ffeb00"/><stop offset=".081" stop-color="#ff8700"/><stop offset=".163" stop-color="#ff3500"/><stop offset=".225" stop-color="#ff0200"/><stop offset=".319" stop-color="#c80000"/><stop offset=".4" stop-color="#aa0000"/><stop offset=".481" stop-color="#9d0000"/><stop offset=".562" stop-color="#a20000"/><stop offset=".644" stop-color="#ba0000"/><stop offset=".725" stop-color="#e20000"/><stop offset=".769" stop-color="#ff0100"/><stop offset=".85" stop-color="#ff4500"/><stop offset=".931" stop-color="#ff9b00"/><stop offset="1" stop-color="#fff200"/></linearGradient><linearGradient id="s309" gradientUnits="userSpaceOnUse" x1="1214.8" x2="1415.9"><stop offset="0" stop-color="#fff700"/><stop offset=".081" stop-color="#ff9300"/><stop offset=".163" stop-color="#ff4100"/><stop offset=".244" stop-color="#ff0000"/><stop offset=".331" stop-color="#ce0000"/><stop offset=".413" stop-color="#b20000"/><stop offset=".494" stop-color="#a90000"/><stop offset=".575" stop-color="#b10000"/><stop offset=".656" stop-color="#ca0000"/><stop offset=".738" stop-color="#f60000"/><stop offset=".756" stop-color="#ff0400"/><stop offset=".838" stop-color="#ff4500"/><stop offset=".919" stop-color="#ff9800"/><stop offset="1" stop-color="#fffe00"/></linearGradient><linearGradient id="s310" gradientUnits="userSpaceOnUse" x1="1216.8" x2="1417.9"><stop offset="0" stop-color="#ffff06"/><stop offset=".006" stop-color="#fffb00"/><stop offset=".088" stop-color="#ff9800"/><stop offset=".169" stop-color="#ff4700"/><stop offset=".25" stop-color="#ff0800"/><stop offset=".263" stop-color="#ff0000"/><stop offset=".344" stop-color="#d40000"/><stop offset=".425" stop-color="#bc0000"/><stop offset=".506" stop-color="#b50000"/><stop offset=".588" stop-color="#c00000"/><stop offset=".669" stop-color="#dc0000"/><stop offset=".731" stop-color="#fe0000"/><stop offset=".806" stop-color="#ff3600"/><stop offset=".888" stop-color="#ff8200"/><stop offset=".969" stop-color="#ffe100"/><stop offset=".988" stop-color="#fff900"/><stop offset=".994" stop-color="#ffff03"/><stop offset="1" stop-color="#ffff10"/></linearGradient><linearGradient id="s311" gradientUnits="userSpaceOnUse" x1="1218.7" x2="1419.8"><stop offset="0" stop-color="#ffff19"/><stop offset=".013" stop-color="#ffff00"/><stop offset=".094" stop-color="#ff9e00"/><stop offset=".175" stop-color="#ff4e00"/><stop offset=".256" stop-color="#ff1100"/><stop offset=".288" stop-color="#fd0000"/><stop offset=".369" stop-color="#d70000"/><stop offset=".45" stop-color="#c40000"/><stop offset=".531" stop-color="#c30000"/><stop offset=".613" stop-color="#d30000"/><stop offset=".694" stop-color="#f50000"/><stop offset=".713" stop-color="#ff0000"/><stop offset=".794" stop-color="#ff3800"/><stop offset=".875" stop-color="#ff8200"/><stop offset=".956" stop-color="#ffde00"/><stop offset=".981" stop-color="#fffd00"/><stop offset="1" stop-color="#ffff23"/></linearGradient><linearGradient id="s312" gradientUnits="userSpaceOnUse" x1="1220.6" x2="1421.7"><stop offset="0" stop-color="#ffff2c"/><stop offset=".019" stop-color="#ffff07"/><stop offset=".025" stop-color="#fffc00"/><stop offset=".106" stop-color="#ff9d00"/><stop offset=".188" stop-color="#ff5100"/><stop offset=".269" stop-color="#ff1600"/><stop offset=".306" stop-color="#ff0000"/><stop offset=".394" stop-color="#dd0000"/><stop offset=".475" stop-color="#cf0000"/><stop offset=".556" stop-color="#d30000"/><stop offset=".638" stop-color="#e90000"/><stop offset=".688" stop-color="#ff0000"/><stop offset=".769" stop-color="#ff3200"/><stop offset=".85" stop-color="#ff7600"/><stop offset=".931" stop-color="#ffcc00"/><stop offset=".969" stop-color="#fffa00"/><stop offset=".975" stop-color="#ffff05"/><stop offset="1" stop-color="#ffff36"/></linearGradient><linearGradient id="s313" gradientUnits="userSpaceOnUse" x1="1222.5" x2="1423.6"><stop offset="0" stop-color="#ffff40"/><stop offset=".031" stop-color="#ffff03"/><stop offset=".05" stop-color="#ffea00"/><stop offset=".131" stop-color="#ff9100"/><stop offset=".213" stop-color="#ff4a00"/><stop offset=".294" stop-color="#ff1400"/><stop offset=".338" stop-color="#fe0000"/><stop offset=".419" stop-color="#e40000"/><stop offset=".5" stop-color="#dc0000"/><stop offset=".581" stop-color="#e50000"/><stop offset=".663" stop-color="#ff0100"/><stop offset=".744" stop-color="#ff2e00"/><stop offset=".825" stop-color="#ff6d00"/><stop offset=".906" stop-color="#ffbd00"/><stop offset=".963" stop-color="#ffff01"/><stop offset="1" stop-color="#ffff4a"/></linearGradient><linearGradient id="s314" gradientUnits="userSpaceOnUse" x1="1224.5" x2="1425.6"><stop offset="0" stop-color="#ffff55"/><stop offset=".044" stop-color="#ffff01"/><stop offset=".131" stop-color="#ff9f00"/><stop offset=".213" stop-color="#ff5800"/><stop offset=".294" stop-color="#ff2200"/><stop offset=".369" stop-color="#ff0100"/><stop offset=".456" stop-color="#ec0000"/><stop offset=".537" stop-color="#eb0000"/><stop offset=".631" stop-color="#ff0200"/><stop offset=".713" stop-color="#ff2900"/><stop offset=".794" stop-color="#ff6000"/><stop offset=".875" stop-color="#ffaa00"/><stop offset=".95" stop-color="#fffe00"/><stop offset="1" stop-color="#ffff5f"/></linearGradient><linearGradient id="s315" gradientUnits="userSpaceOnUse" x1="1226.4" x2="1427.5"><stop offset="0" stop-color="#ffff6a"/><stop offset=".056" stop-color="#ffff00"/><stop offset=".138" stop-color="#ffa700"/><stop offset=".219" stop-color="#ff6100"/><stop offset=".3" stop-color="#ff2d00"/><stop offset=".381" stop-color="#ff0b00"/><stop offset=".431" stop-color="#fd0000"/><stop offset=".513" stop-color="#f80000"/><stop offset=".581" stop-color="#ff0200"/><stop offset=".663" stop-color="#ff1d00"/><stop offset=".744" stop-color="#ff4a00"/><stop offset=".825" stop-color="#ff8900"/><stop offset=".906" stop-color="#ffda00"/><stop offset=".938" stop-color="#fffd00"/><stop offset=".969" stop-color="#ffff37"/><stop offset="1" stop-color="#ffff74"/></linearGradient><linearGradient id="s316" gradientUnits="userSpaceOnUse" x1="1228.3" x2="1429.4"><stop offset="0" stop-color="#ffff80"/><stop offset=".062" stop-color="#ffff0a"/><stop offset=".069" stop-color="#ffff00"/><stop offset=".15" stop-color="#ffaa00"/><stop offset=".231" stop-color="#ff6700"/><stop offset=".312" stop-color="#ff3500"/><stop offset=".394" stop-color="#ff1600"/><stop offset=".475" stop-color="#ff0800"/><stop offset=".556" stop-color="#ff0c00"/><stop offset=".638" stop-color="#ff2200"/><stop offset=".719" stop-color="#ff4900"/><stop offset=".8" stop-color="#ff8200"/><stop offset=".881" stop-color="#ffcd00"/><stop offset=".925" stop-color="#fffd00"/><stop offset=".956" stop-color="#ffff35"/><stop offset="1" stop-color="#ffff8a"/></linearGradient><linearGradient id="s317" gradientUnits="userSpaceOnUse" x1="1230.3" x2="1431.4"><stop offset="0" stop-color="#ffff97"/><stop offset=".069" stop-color="#ffff16"/><stop offset=".081" stop-color="#ffff01"/><stop offset=".169" stop-color="#ffa800"/><stop offset=".25" stop-color="#ff6900"/><stop offset=".331" stop-color="#ff3b00"/><stop offset=".413" stop-color="#ff2000"/><stop offset=".494" stop-color="#ff1600"/><stop offset=".575" stop-color="#ff1e00"/><stop offset=".656" stop-color="#ff3800"/><stop offset=".738" stop-color="#ff6400"/><stop offset=".819" stop-color="#ffa100"/><stop offset=".9" stop-color="#fff000"/><stop offset=".913" stop-color="#fffe00"/><stop offset=".969" stop-color="#ffff63"/><stop offset="1" stop-color="#ffffa1"/></linearGradient><linearGradient id="s318" gradientUnits="userSpaceOnUse" x1="1232.2" x2="1433.3"><stop offset="0" stop-color="#ffffae"/><stop offset=".069" stop-color="#ffff2d"/><stop offset=".094" stop-color="#ffff03"/><stop offset=".113" stop-color="#ffed00"/><stop offset=".194" stop-color="#ffa200"/><stop offset=".275" stop-color="#ff6800"/><stop offset=".356" stop-color="#ff4100"/><stop offset=".438" stop-color="#ff2b00"/><stop offset=".519" stop-color="#ff2600"/><stop offset=".6" stop-color="#ff3400"/><stop offset=".681" stop-color="#ff5300"/><stop offset=".763" stop-color="#ff8400"/><stop offset=".844" stop-color="#ffc700"/><stop offset=".9" stop-color="#ffff01"/><stop offset=".969" stop-color="#ffff7b"/><stop offset="1" stop-color="#ffffb8"/></linearGradient><linearGradient id="s319" gradientUnits="userSpaceOnUse" x1="1234.1" x2="1435.2"><stop offset="0" stop-color="#ffffc6"/><stop offset=".069" stop-color="#ffff45"/><stop offset=".106" stop-color="#ffff07"/><stop offset=".113" stop-color="#fffd00"/><stop offset=".194" stop-color="#ffb200"/><stop offset=".275" stop-color="#ff7800"/><stop offset=".356" stop-color="#ff5000"/><stop offset=".438" stop-color="#ff3a00"/><stop offset=".519" stop-color="#ff3600"/><stop offset=".6" stop-color="#ff4400"/><stop offset=".681" stop-color="#ff6300"/><stop offset=".763" stop-color="#ff9400"/><stop offset=".844" stop-color="#ffd700"/><stop offset=".881" stop-color="#fffc00"/><stop offset=".894" stop-color="#ffff0f"/><stop offset=".963" stop-color="#ffff87"/><stop offset="1" stop-color="#ffffd0"/></linearGradient><linearGradient id="s320" gradientUnits="userSpaceOnUse" x1="1236" x2="1437.1"><stop offset="0" stop-color="#ffffde"/><stop offset=".069" stop-color="#ffff5e"/><stop offset=".125" stop-color="#ffff03"/><stop offset=".213" stop-color="#ffb300"/><stop offset=".294" stop-color="#ff7e00"/><stop offset=".375" stop-color="#ff5a00"/><stop offset=".456" stop-color="#ff4800"/><stop offset=".537" stop-color="#ff4800"/><stop offset=".619" stop-color="#ff5a00"/><stop offset=".7" stop-color="#ff7d00"/><stop offset=".781" stop-color="#ffb200"/><stop offset=".869" stop-color="#ffff01"/><stop offset=".938" stop-color="#ffff71"/><stop offset="1" stop-color="#ffffe8"/></linearGradient><clipPath id="c1"><rect x="627" y="36.9" width="352.6" height="447.4"/></clipPath><clipPath id="c2"><rect x="1635.3" y="37" width="344.9" height="447.3"/></clipPath><clipPath id="c3"><rect x="621.8" y="822.1" width="359.6" height="447.1"/></clipPath><clipPath id="c4"><rect x="1622.3" y="822.1" width="349.6" height="447.1"/></clipPath><clipPath id="c5"><rect x="593.7" y="1579.1" width="358.6" height="446.4"/></clipPath><clipPath id="c6"><rect x="1587.7" y="1579.1" width="357.7" height="446.4"/></clipPath></defs><path d="M274.6 482.5L123 370.2M274.6 482.5L473.3 396.8M374 439.6L222.4 327.3M198.8 426.4L397.5 340.6M473.3 396.8L321.7 284.5M123 370.2L321.7 284.5M123 370.2L123 124.8M222.4 327.3L222.4 81.9M321.7 284.5L321.7 39.1M123 370.2L321.7 284.5M123 308.9L321.7 223.2M123 247.5L321.7 161.8M123 186.2L321.7 100.5M123 124.8L321.7 39.1M473.3 396.8L473.3 151.4M397.5 340.6L397.5 95.2M321.7 284.5L321.7 39.1M473.3 396.8L321.7 284.5M473.3 335.5L321.7 223.2M473.3 274.1L321.7 161.8M473.3 212.8L321.7 100.5M473.3 151.4L321.7 39.1" stroke="#dcdcdc" stroke-width="1.1" fill="none"/>
<g fill="none" stroke-width="1.4">
<path d="M323.6 411.6L318.9 412.8L314.8 413.7L311.3 414.2L308.6 414.5L305.8 414.8L302.9 415L299.9 415.1L296.8 415.1L293.5 415L290 414.7L286.4 414.4L282.5 413.8L278.9 413.1L276.2 412.5L273.6 411.9L271.1 411.1L268.8 410.4L266.6 409.6L262.4 407.8L258.7 405.9L255.3 403.8L252.3 401.5L249.6 399.1L247.3 396.6L245.3 393.8L243.8 390.9L242.8 387.8L242.3 384.5L242.5 380.9L243.2 377.7L244.5 374.6L245.7 372.6L248 369.6L250.6 366.9L253.6 364.5L256.9 362.2L260.4 360.2L264.3 358.4L268.4 356.8L272.7 355.4L277.4 354.2L281.5 353.3L285 352.8L287.7 352.5L290.5 352.2L293.4 352L296.4 351.9L299.5 351.9L302.8 352L306.3 352.3L309.9 352.6L313.8 353.2L317.4 353.9L320.1 354.5L322.7 355.1L325.2 355.9L327.5 356.6L329.7 357.4L333.9 359.2L337.6 361.1L341 363.2L344 365.5L346.7 367.9L349 370.4L351 373.2L352.5 376.1L353.5 379.2L354 382.5L353.8 386.1L353.1 389.3L351.8 392.4L350.6 394.4L348.3 397.4L345.7 400.1L342.7 402.5L339.5 404.8L335.9 406.8L332 408.6L327.9 410.2L323.6 411.6" stroke="#440000"/>
<path d="M333.3 423.5L328.6 424.7L323.8 425.8L318.7 426.6L316 427L313.3 427.3L310.5 427.6L307.7 427.8L304.8 428L301.8 428.1L298.7 428.2L295.5 428.1L292.3 428L288.9 427.9L285.3 427.6L281.7 427.2L277.8 426.7L273.8 426L270.9 425.4L268.2 424.8L265.6 424.2L263 423.5L260.6 422.8L258.2 422L255.9 421.3L253.7 420.4L249.5 418.7L246 417.1L243.7 415.9L240.2 413.8L236.9 411.7L233.8 409.5L231.1 407.1L228.5 404.6L226.3 402.1L224.3 399.4L222.6 396.6L221.4 394.2L220.2 391L219.6 388.2L219.1 383.8L219.3 381L219.7 378.3L220.6 375L221.8 372L223 369.7L224.5 367.3L226.1 365.1L228.6 362.3L231.4 359.6L234.3 357.2L237.5 354.9L240.9 352.7L244.5 350.7L248.3 348.9L252.2 347.2L256.4 345.6L260.8 344.2L263.5 343.3L267.7 342.3L272.5 341.2L277.6 340.4L280.3 340L283 339.7L285.8 339.4L288.6 339.2L291.5 339L294.5 338.9L297.6 338.8L300.8 338.9L304 339L307.4 339.1L311 339.4L314.6 339.8L318.5 340.3L322.5 341L325.4 341.6L328.1 342.2L330.7 342.8L333.3 343.5L335.7 344.2L338.1 345L340.4 345.7L342.6 346.6L346.8 348.3L350.3 349.9L352.6 351.1L356.1 353.2L359.4 355.3L362.5 357.5L365.2 359.9L367.8 362.4L370 364.9L372 367.6L373.7 370.4L374.9 372.8L376.1 376L376.7 378.8L377.2 383.2L377 386L376.6 388.7L375.7 392L374.5 395L373.3 397.3L371.8 399.7L370.2 401.9L367.7 404.7L364.9 407.4L362 409.8L358.8 412.1L355.4 414.3L351.8 416.3L348 418.1L344.1 419.8L339.9 421.4L335.5 422.8L333.3 423.5" stroke="#880000"/>
<path d="M342 432.3L337.4 433.5L332.6 434.6L327.6 435.6L324.4 436.2L319.8 436.8L317.1 437.1L314.4 437.4L311.6 437.7L308.7 437.9L305.8 438L302.8 438.1L299.7 438.2L296.5 438.2L293.3 438.1L290 438L286.6 437.8L283.1 437.5L279.4 437.2L275.7 436.7L271.7 436.1L268.2 435.5L265.3 435L262.6 434.4L259.9 433.8L257.3 433.1L254.8 432.4L252.3 431.7L249.9 430.9L247.6 430.2L245.4 429.4L243.2 428.5L239 426.8L235 425L231.2 423L227.7 421L224.3 418.9L221.2 416.7L218.3 414.4L215.5 412L213 409.6L211.3 407.7L209.7 405.7L207.7 403L206 400.2L204.5 397.3L203.5 394.9L202.5 391.8L201.9 389L201.5 386.1L201.4 382.6L201.6 379.5L202.4 375.5L203.2 372.9L204.4 369.9L206.1 366.6L207.8 363.8L209.2 361.9L211.6 359L214.2 356.3L217 353.7L219.3 351.7L221.6 350.1L224.8 347.8L228.2 345.7L231.8 343.7L235.5 341.8L239.4 340L243.5 338.4L247.7 336.8L252.1 335.4L255.4 334.4L258.9 333.5L263.7 332.4L268.7 331.4L271.9 330.8L276.5 330.2L279.2 329.9L281.9 329.6L284.7 329.3L287.6 329.1L290.5 329L293.5 328.9L296.6 328.8L299.8 328.8L303 328.9L306.3 329L309.7 329.2L313.2 329.5L316.9 329.8L320.6 330.3L324.6 330.9L328.1 331.5L331 332L333.7 332.6L336.4 333.2L339 333.9L341.5 334.6L344 335.3L346.4 336.1L348.7 336.8L350.9 337.6L353.1 338.5L357.3 340.2L361.3 342L365.1 344L368.6 346L372 348.1L375.1 350.3L378 352.6L380.8 355L383.3 357.4L385 359.3L386.6 361.3L388.6 364L390.3 366.8L391.8 369.7L392.8 372.1L393.8 375.2L394.4 378L394.8 380.9L394.9 384.4L394.7 387.5L393.9 391.5L393.1 394.1L391.9 397.1L390.2 400.4L388.5 403.2L387.1 405.1L384.7 408L382.1 410.7L379.3 413.3L377 415.3L374.7 416.9L371.5 419.2L368.1 421.3L364.5 423.3L360.8 425.2L356.9 427L352.8 428.6L348.6 430.2L344.2 431.6L342 432.3" stroke="#cc0000"/>
<path d="M349 439.8L344.4 441L339.6 442.2L334.7 443.2L331.3 443.8L327.1 444.5L324.4 444.9L321.8 445.2L319.1 445.6L316.3 445.8L313.5 446.1L310.6 446.3L307.7 446.4L304.7 446.6L301.6 446.6L298.5 446.7L295.4 446.7L292.1 446.6L288.8 446.5L285.4 446.3L281.9 446L278.3 445.7L274.6 445.3L271.3 444.8L268.2 444.4L265.3 443.9L262.7 443.4L259.6 442.8L256.8 442.2L254.1 441.6L251.5 440.9L249 440.2L246.5 439.5L244.1 438.8L241.7 438L239.4 437.3L237.2 436.4L235 435.6L231.3 434.1L228.7 433L224.8 431.1L221 429.2L217.4 427.2L214 425.1L210.8 422.9L207.8 420.7L204.9 418.4L202.3 416L199.8 413.5L197.5 410.9L195.3 408.3L193.4 405.6L191.7 402.8L190.2 399.9L188.9 396.9L187.9 393.8L187.1 390.5L186.6 387.2L186.4 383.7L186.5 380.1L187.1 376.3L187.7 373.9L188.9 370.2L189.8 368.1L190.9 365.8L192.1 363.5L193.7 361L195.4 358.6L197.8 355.7L200.3 353L203.1 350.3L205.9 347.8L208.6 345.7L210.6 344.3L213.9 342L217.3 339.9L220.8 337.9L224.5 336L228.4 334.2L232.4 332.4L236.5 330.8L240.7 329.3L245.1 327.9L249.6 326.6L254.3 325.4L257.4 324.7L261.6 323.8L265 323.2L269.2 322.5L271.9 322.1L274.5 321.8L277.2 321.4L280 321.2L282.8 320.9L285.7 320.7L288.6 320.6L291.6 320.4L294.7 320.4L297.8 320.3L300.9 320.3L304.2 320.4L307.5 320.5L310.9 320.7L314.4 321L318 321.3L321.7 321.7L325 322.2L328.1 322.6L331 323.1L333.6 323.6L336.7 324.2L339.5 324.8L342.2 325.4L344.8 326.1L347.3 326.8L349.8 327.5L352.2 328.2L354.6 329L356.9 329.7L359.1 330.6L361.3 331.4L365 332.9L367.6 334L371.5 335.9L375.3 337.8L378.9 339.8L382.3 341.9L385.5 344.1L388.5 346.3L391.4 348.6L394 351L396.5 353.5L398.8 356.1L401 358.7L402.9 361.4L404.6 364.2L406.1 367.1L407.4 370.1L408.4 373.2L409.2 376.5L409.7 379.8L409.9 383.3L409.8 386.9L409.2 390.7L408.6 393.1L407.4 396.8L406.5 398.9L405.4 401.2L404.2 403.5L402.6 406L400.9 408.4L398.5 411.3L396 414L393.2 416.7L390.4 419.2L387.7 421.3L385.7 422.7L382.4 425L379 427.1L375.5 429.1L371.8 431L367.9 432.8L363.9 434.6L359.8 436.2L355.6 437.7L351.2 439.1L349 439.8" stroke="#ff1100"/>
<path d="M374 439.6L369.9 441.3L365.8 442.9L361.5 444.4L357.1 445.8L352.7 447.1L350.2 447.7L345.5 448.9L340.7 449.9L335.7 450.9L330.5 451.7L327.9 452.1L325.2 452.5L322.5 452.8L319.7 453.1L317 453.3L314.1 453.5L311.2 453.7L308.3 453.9L305.3 454L302.3 454.1L299.2 454.1L296 454.1L292.8 454.1L289.5 454L286.2 453.8L282.7 453.6L279.2 453.3L275.6 453L271.9 452.6L268.1 452.1L264.2 451.5L261.2 451L258.3 450.4L255.5 449.9L252.7 449.3L250 448.7L247.4 448L244.8 447.4L242.3 446.7L239.8 446L237.4 445.2L235.1 444.5L232.8 443.7L230.5 442.9L228.3 442.1L226.1 441.2L221.9 439.5L217.9 437.7L215.9 436.7L212.2 434.8L208.6 432.8L205.2 430.7L201.9 428.6L198.8 426.4M397.5 340.6L400.5 342.9L403.2 345.3L405.9 347.7L408.3 350.2L410.6 352.7L412.8 355.4L414.8 358.1L416.5 360.9L418.1 363.7L419.3 366.1L420.1 368.2L421.2 371.3L422.1 374.5L422.7 377.8L423 380.5L423.1 384.7L422.8 388.4L422.3 391.6L421.7 394.2L420.7 397.4L419.4 400.5L418.4 402.7L417.2 405L415.7 407.4L414 409.9L412.3 412.2L409.9 415.1L407.4 417.8L404.6 420.5L401.8 423L398.7 425.4L395.6 427.7L392.3 429.9L388.9 432.1L385.3 434.1L381.7 436L377.9 437.9L374 439.6M198.8 426.4L195.8 424.1L193.1 421.7L190.4 419.3L188 416.8L185.7 414.3L183.5 411.6L181.6 408.9L179.8 406.1L178.2 403.3L177 400.9L176.2 398.8L175.1 395.7L174.2 392.5L173.6 389.2L173.3 386.5L173.2 382.3L173.5 378.6L174 375.4L174.6 372.8L175.6 369.6L176.9 366.5L177.9 364.3L179.1 362L180.6 359.6L182.3 357.1L184 354.8L186.4 351.9L188.9 349.2L191.7 346.5L194.5 344L197.6 341.6L200.7 339.3L204 337.1L207.4 334.9L211 332.9L214.6 331L218.4 329.1L222.4 327.3M222.4 327.3L226.4 325.7L230.5 324.1L234.8 322.6L239.2 321.2L243.6 319.9L246.1 319.3L250.8 318.1L255.6 317.1L260.6 316.1L265.8 315.3L268.4 314.9L271.1 314.5L273.8 314.2L276.6 313.9L279.3 313.7L282.2 313.5L285.1 313.3L288 313.1L291 313L294 312.9L297.1 312.9L300.3 312.9L303.5 312.9L306.8 313L310.1 313.2L313.6 313.4L317.1 313.7L320.7 314L324.4 314.4L328.2 314.9L332.1 315.5L335.1 316L338 316.6L340.8 317.1L343.6 317.7L346.3 318.3L348.9 319L351.5 319.6L354 320.3L356.5 321L358.9 321.8L361.2 322.5L363.5 323.3L365.8 324.1L368 324.9L370.2 325.8L374.4 327.5L378.4 329.3L380.4 330.3L384.1 332.2L387.7 334.2L391.1 336.3L394.4 338.4L397.5 340.6" stroke="#ff5500"/>
<path d="M329.5 458.8L325.1 459.4L322.4 459.7L319.6 459.9L316.7 460.2L313.9 460.4L311 460.5L308 460.7L305 460.8L302 460.8L298.8 460.9L295.7 460.9L292.5 460.8L289.2 460.7L285.9 460.6L282.4 460.4L279 460.1L275.4 459.8L271.7 459.4L268 459L264.4 458.5L261.3 458L258.3 457.5L255.4 457L252.6 456.5L249.8 455.9L247.1 455.3L244.4 454.7L241.8 454L239.2 453.3L236.7 452.6L234.3 451.9L232.7 451.5M431.4 365.8L432.4 368.3L433.4 371.4L434.1 374.6L434.6 377.5L435 381.3L435 384.7L434.7 388.6L434.3 391.2L433.7 394.3L432.9 397.1L431.7 400.5L430.7 402.7L429.7 405L428.4 407.3L427.2 409.3L425.3 412.2L423.3 414.8L421.7 416.8L419.2 419.6L418.4 420.5M164.9 401.2L163.9 398.7L162.9 395.6L162.2 392.4L161.7 389.5L161.3 385.7L161.3 382.3L161.6 378.4L162 375.8L162.6 372.7L163.4 369.9L164.6 366.5L165.6 364.3L166.6 362L167.9 359.7L169.1 357.7L171 354.8L173 352.2L174.6 350.2L177.1 347.4L177.9 346.5M266.8 308.2L271.2 307.6L273.9 307.3L276.7 307.1L279.6 306.8L282.4 306.6L285.3 306.5L288.3 306.3L291.3 306.2L294.3 306.2L297.5 306.1L300.6 306.1L303.8 306.2L307.1 306.3L310.4 306.4L313.9 306.6L317.3 306.9L320.9 307.2L324.6 307.6L328.3 308L331.9 308.5L335 309L338 309.5L340.9 310L343.7 310.5L346.5 311.1L349.2 311.7L351.9 312.3L354.5 313L357.1 313.7L359.6 314.4L362 315.1L363.6 315.5" stroke="#ff9900"/>
<path d="M311.1 466.7L307 466.9L304 467L300.9 467.1L297.8 467.1L294.6 467L291.4 467L288.1 466.9L284.7 466.7L281.3 466.5L277.9 466.3L274.3 466L270.7 465.6L267 465.2L263.1 464.7L259.4 464.2L256.4 463.7L253.5 463.2L250.6 462.6L247.8 462.1L246.7 461.9M445.4 376.2L445.9 380.2L446 383.6L445.8 387.3L445.5 390.2L445 393L444.3 396.3L443.4 399L442.4 401.9L440.9 405.4L439.6 407.8L438.3 410.1L436.8 412.6M150.9 390.8L150.4 386.8L150.3 383.4L150.5 379.7L150.8 376.8L151.3 374L152 370.7L152.9 368L153.9 365.1L155.4 361.6L156.7 359.2L158 356.9L159.5 354.4M285.2 300.3L289.3 300.1L292.3 300L295.4 299.9L298.5 299.9L301.7 300L304.9 300L308.2 300.1L311.6 300.3L315 300.5L318.4 300.7L322 301L325.6 301.4L329.3 301.8L333.2 302.3L336.9 302.8L339.9 303.3L342.8 303.8L345.7 304.4L348.5 304.9L349.6 305.1" stroke="#ffdd00"/>
<path d="M297 472.8L293 472.8L289.7 472.7L286.4 472.6L283 472.4L279.6 472.2L276.1 472L272.5 471.7L268.9 471.3L265.2 470.9L261.4 470.4L258.3 470L257.5 469.8M456.2 384.1L456 388.3L455.5 392L454.9 394.8L454.1 398L453.3 400.6L451.9 404.2L450.9 406.5M140.1 382.9L140.3 378.7L140.8 375L141.4 372.2L142.2 369L143 366.4L144.4 362.8L145.4 360.5M299.3 294.2L303.3 294.2L306.6 294.3L309.9 294.4L313.3 294.6L316.7 294.8L320.2 295L323.8 295.3L327.4 295.7L331.1 296.1L334.9 296.6L338 297L338.8 297.2" stroke="#ffff33"/>
<path d="M285.1 478L281.4 477.8L277.8 477.6L274.3 477.3L270.9 477L267.5 476.7L266.6 476.6M465.3 390.9L464.6 395L463.6 398.9L462.8 401.3M131 376.1L131.7 372L132.7 368.1L133.5 365.7M311.2 289L314.9 289.2L318.5 289.4L322 289.7L325.4 290L328.8 290.3L329.7 290.4" stroke="#ffff99"/>
</g>
<g stroke-width="1" stroke-linejoin="round"><path d="M124.9 132.3Q224.2 334.8 323.6 46.6L321.7 39.1Q222.4 327.3 123 124.8z" fill="url(#s1)" stroke="url(#s1)"/><path d="M126.8 139.6Q226.1 342.1 325.5 53.9L323.6 46.6Q224.2 334.8 124.9 132.3z" fill="url(#s2)" stroke="url(#s2)"/><path d="M128.7 146.7Q228 349.3 327.4 61L325.5 53.9Q226.1 342.1 126.8 139.6z" fill="url(#s3)" stroke="url(#s3)"/><path d="M130.6 153.7Q229.9 356.3 329.3 68L327.4 61Q228 349.3 128.7 146.7z" fill="url(#s4)" stroke="url(#s4)"/><path d="M132.5 160.6Q231.8 363.1 331.2 74.9L329.3 68Q229.9 356.3 130.6 153.7z" fill="url(#s5)" stroke="url(#s5)"/><path d="M134.4 167.3Q233.7 369.8 333.1 81.6L331.2 74.9Q231.8 363.1 132.5 160.6z" fill="url(#s6)" stroke="url(#s6)"/><path d="M136.3 173.8Q235.6 376.4 335 88.1L333.1 81.6Q233.7 369.8 134.4 167.3z" fill="url(#s7)" stroke="url(#s7)"/><path d="M138.2 180.2Q237.5 382.8 336.9 94.5L335 88.1Q235.6 376.4 136.3 173.8z" fill="url(#s8)" stroke="url(#s8)"/><path d="M140.1 186.4Q239.4 389 338.8 100.7L336.9 94.5Q237.5 382.8 138.2 180.2z" fill="url(#s9)" stroke="url(#s9)"/><path d="M141.9 192.5Q241.3 395.1 340.6 106.8L338.8 100.7Q239.4 389 140.1 186.4z" fill="url(#s10)" stroke="url(#s10)"/><path d="M143.8 198.4Q243.2 401 342.5 112.7L340.6 106.8Q241.3 395.1 141.9 192.5z" fill="url(#s11)" stroke="url(#s11)"/><path d="M145.7 204.2Q245.1 406.8 344.4 118.5L342.5 112.7Q243.2 401 143.8 198.4z" fill="url(#s12)" stroke="url(#s12)"/><path d="M147.6 209.8Q247 412.4 346.3 124.1L344.4 118.5Q245.1 406.8 145.7 204.2z" fill="url(#s13)" stroke="url(#s13)"/><path d="M149.5 215.3Q248.9 417.9 348.2 129.6L346.3 124.1Q247 412.4 147.6 209.8z" fill="url(#s14)" stroke="url(#s14)"/><path d="M151.4 220.6Q250.8 423.2 350.1 134.9L348.2 129.6Q248.9 417.9 149.5 215.3z" fill="url(#s15)" stroke="url(#s15)"/><path d="M153.3 225.8Q252.7 428.3 352 140.1L350.1 134.9Q250.8 423.2 151.4 220.6z" fill="url(#s16)" stroke="url(#s16)"/><path d="M155.2 230.8Q254.6 433.3 353.9 145.1L352 140.1Q252.7 428.3 153.3 225.8z" fill="url(#s17)" stroke="url(#s17)"/><path d="M157.1 235.7Q256.5 438.2 355.8 150L353.9 145.1Q254.6 433.3 155.2 230.8z" fill="url(#s18)" stroke="url(#s18)"/><path d="M159 240.4Q258.4 442.9 357.7 154.7L355.8 150Q256.5 438.2 157.1 235.7z" fill="url(#s19)" stroke="url(#s19)"/><path d="M160.9 244.9Q260.2 447.4 359.6 159.2L357.7 154.7Q258.4 442.9 159 240.4z" fill="url(#s20)" stroke="url(#s20)"/><path d="M162.8 249.3Q262.1 451.8 361.5 163.6L359.6 159.2Q260.2 447.4 160.9 244.9z" fill="url(#s21)" stroke="url(#s21)"/><path d="M164.7 253.5Q264 456.1 363.4 167.8L361.5 163.6Q262.1 451.8 162.8 249.3z" fill="url(#s22)" stroke="url(#s22)"/><path d="M166.6 257.6Q265.9 460.2 365.3 171.9L363.4 167.8Q264 456.1 164.7 253.5z" fill="url(#s23)" stroke="url(#s23)"/><path d="M168.5 261.6Q267.8 464.1 367.2 175.9L365.3 171.9Q265.9 460.2 166.6 257.6z" fill="url(#s24)" stroke="url(#s24)"/><path d="M170.4 265.3Q269.7 467.9 369.1 179.6L367.2 175.9Q267.8 464.1 168.5 261.6z" fill="url(#s25)" stroke="url(#s25)"/><path d="M172.3 269Q271.6 471.5 371 183.3L369.1 179.6Q269.7 467.9 170.4 265.3z" fill="url(#s26)" stroke="url(#s26)"/><path d="M174.2 272.4Q273.5 475 372.9 186.7L371 183.3Q271.6 471.5 172.3 269z" fill="url(#s27)" stroke="url(#s27)"/><path d="M176.1 275.8Q275.4 478.3 374.8 190.1L372.9 186.7Q273.5 475 174.2 272.4z" fill="url(#s28)" stroke="url(#s28)"/><path d="M178 278.9Q277.3 481.5 376.7 193.2L374.8 190.1Q275.4 478.3 176.1 275.8z" fill="url(#s29)" stroke="url(#s29)"/><path d="M179.9 281.9Q279.2 484.5 378.6 196.2L376.7 193.2Q277.3 481.5 178 278.9z" fill="url(#s30)" stroke="url(#s30)"/><path d="M181.7 284.8Q281.1 487.4 380.4 199.1L378.6 196.2Q279.2 484.5 179.9 281.9z" fill="url(#s31)" stroke="url(#s31)"/><path d="M183.6 287.5Q283 490.1 382.3 201.8L380.4 199.1Q281.1 487.4 181.7 284.8z" fill="url(#s32)" stroke="url(#s32)"/><path d="M185.5 290.1Q284.9 492.6 384.2 204.4L382.3 201.8Q283 490.1 183.6 287.5z" fill="url(#s33)" stroke="url(#s33)"/><path d="M187.4 292.5Q286.8 495 386.1 206.8L384.2 204.4Q284.9 492.6 185.5 290.1z" fill="url(#s34)" stroke="url(#s34)"/><path d="M189.3 294.7Q288.7 497.3 388 209L386.1 206.8Q286.8 495 187.4 292.5z" fill="url(#s35)" stroke="url(#s35)"/><path d="M191.2 296.8Q290.6 499.4 389.9 211.1L388 209Q288.7 497.3 189.3 294.7z" fill="url(#s36)" stroke="url(#s36)"/><path d="M193.1 298.7Q292.5 501.3 391.8 213L389.9 211.1Q290.6 499.4 191.2 296.8z" fill="url(#s37)" stroke="url(#s37)"/><path d="M195 300.5Q294.4 503.1 393.7 214.8L391.8 213Q292.5 501.3 193.1 298.7z" fill="url(#s38)" stroke="url(#s38)"/><path d="M196.9 302.2Q296.3 504.7 395.6 216.5L393.7 214.8Q294.4 503.1 195 300.5z" fill="url(#s39)" stroke="url(#s39)"/><path d="M198.8 303.7Q298.2 506.2 397.5 217.9L395.6 216.5Q296.3 504.7 196.9 302.2z" fill="url(#s40)" stroke="url(#s40)"/><path d="M200.7 305Q300 507.5 399.4 219.3L397.5 217.9Q298.2 506.2 198.8 303.7z" fill="url(#s41)" stroke="url(#s41)"/><path d="M202.6 306.2Q301.9 508.7 401.3 220.5L399.4 219.3Q300 507.5 200.7 305z" fill="url(#s42)" stroke="url(#s42)"/><path d="M204.5 307.2Q303.8 509.7 403.2 221.5L401.3 220.5Q301.9 508.7 202.6 306.2z" fill="url(#s43)" stroke="url(#s43)"/><path d="M206.4 308Q305.7 510.6 405.1 222.3L403.2 221.5Q303.8 509.7 204.5 307.2z" fill="url(#s44)" stroke="url(#s44)"/><path d="M208.3 308.8Q307.6 511.3 407 223.1L405.1 222.3Q305.7 510.6 206.4 308z" fill="url(#s45)" stroke="url(#s45)"/><path d="M210.2 309.3Q309.5 511.9 408.9 223.6L407 223.1Q307.6 511.3 208.3 308.8z" fill="url(#s46)" stroke="url(#s46)"/><path d="M212.1 309.7Q311.4 512.3 410.8 224L408.9 223.6Q309.5 511.9 210.2 309.3z" fill="url(#s47)" stroke="url(#s47)"/><path d="M214 310Q313.3 512.5 412.7 224.3L410.8 224Q311.4 512.3 212.1 309.7z" fill="url(#s48)" stroke="url(#s48)"/><path d="M215.9 310.1Q315.2 512.6 414.6 224.4L412.7 224.3Q313.3 512.5 214 310z" fill="url(#s49)" stroke="url(#s49)"/><path d="M217.8 310Q317.1 512.6 416.4 224.3L414.6 224.4Q315.2 512.6 215.9 310.1z" fill="url(#s50)" stroke="url(#s50)"/><path d="M219.6 309.8Q319 512.4 418.3 224.1L416.4 224.3Q317.1 512.6 217.8 310z" fill="url(#s51)" stroke="url(#s51)"/><path d="M221.5 309.5Q320.9 512 420.2 223.8L418.3 224.1Q319 512.4 219.6 309.8z" fill="url(#s52)" stroke="url(#s52)"/><path d="M223.4 308.9Q322.8 511.5 422.1 223.2L420.2 223.8Q320.9 512 221.5 309.5z" fill="url(#s53)" stroke="url(#s53)"/><path d="M225.3 308.3Q324.7 510.8 424 222.6L422.1 223.2Q322.8 511.5 223.4 308.9z" fill="url(#s54)" stroke="url(#s54)"/><path d="M227.2 307.5Q326.6 510 425.9 221.8L424 222.6Q324.7 510.8 225.3 308.3z" fill="url(#s55)" stroke="url(#s55)"/><path d="M229.1 306.5Q328.5 509 427.8 220.8L425.9 221.8Q326.6 510 227.2 307.5z" fill="url(#s56)" stroke="url(#s56)"/><path d="M231 305.4Q330.4 507.9 429.7 219.7L427.8 220.8Q328.5 509 229.1 306.5z" fill="url(#s57)" stroke="url(#s57)"/><path d="M232.9 304.1Q332.3 506.6 431.6 218.4L429.7 219.7Q330.4 507.9 231 305.4z" fill="url(#s58)" stroke="url(#s58)"/><path d="M234.8 302.6Q334.2 505.2 433.5 216.9L431.6 218.4Q332.3 506.6 232.9 304.1z" fill="url(#s59)" stroke="url(#s59)"/><path d="M236.7 301.1Q336.1 503.6 435.4 215.4L433.5 216.9Q334.2 505.2 234.8 302.6z" fill="url(#s60)" stroke="url(#s60)"/><path d="M238.6 299.3Q337.9 501.9 437.3 213.6L435.4 215.4Q336.1 503.6 236.7 301.1z" fill="url(#s61)" stroke="url(#s61)"/><path d="M240.5 297.4Q339.8 500 439.2 211.7L437.3 213.6Q337.9 501.9 238.6 299.3z" fill="url(#s62)" stroke="url(#s62)"/><path d="M242.4 295.4Q341.7 497.9 441.1 209.7L439.2 211.7Q339.8 500 240.5 297.4z" fill="url(#s63)" stroke="url(#s63)"/><path d="M244.3 293.2Q343.6 495.7 443 207.5L441.1 209.7Q341.7 497.9 242.4 295.4z" fill="url(#s64)" stroke="url(#s64)"/><path d="M246.2 290.8Q345.5 493.4 444.9 205.1L443 207.5Q343.6 495.7 244.3 293.2z" fill="url(#s65)" stroke="url(#s65)"/><path d="M248.1 288.3Q347.4 490.9 446.8 202.6L444.9 205.1Q345.5 493.4 246.2 290.8z" fill="url(#s66)" stroke="url(#s66)"/><path d="M250 285.6Q349.3 488.2 448.7 199.9L446.8 202.6Q347.4 490.9 248.1 288.3z" fill="url(#s67)" stroke="url(#s67)"/><path d="M251.9 282.8Q351.2 485.4 450.6 197.1L448.7 199.9Q349.3 488.2 250 285.6z" fill="url(#s68)" stroke="url(#s68)"/><path d="M253.8 279.9Q353.1 482.4 452.5 194.2L450.6 197.1Q351.2 485.4 251.9 282.8z" fill="url(#s69)" stroke="url(#s69)"/><path d="M255.7 276.7Q355 479.3 454.4 191L452.5 194.2Q353.1 482.4 253.8 279.9z" fill="url(#s70)" stroke="url(#s70)"/><path d="M257.5 273.5Q356.9 476 456.2 187.8L454.4 191Q355 479.3 255.7 276.7z" fill="url(#s71)" stroke="url(#s71)"/><path d="M259.4 270Q358.8 472.6 458.1 184.3L456.2 187.8Q356.9 476 257.5 273.5z" fill="url(#s72)" stroke="url(#s72)"/><path d="M261.3 266.5Q360.7 469 460 180.8L458.1 184.3Q358.8 472.6 259.4 270z" fill="url(#s73)" stroke="url(#s73)"/><path d="M263.2 262.7Q362.6 465.3 461.9 177L460 180.8Q360.7 469 261.3 266.5z" fill="url(#s74)" stroke="url(#s74)"/><path d="M265.1 258.8Q364.5 461.4 463.8 173.1L461.9 177Q362.6 465.3 263.2 262.7z" fill="url(#s75)" stroke="url(#s75)"/><path d="M267 254.8Q366.4 457.3 465.7 169.1L463.8 173.1Q364.5 461.4 265.1 258.8z" fill="url(#s76)" stroke="url(#s76)"/><path d="M268.9 250.6Q368.3 453.2 467.6 164.9L465.7 169.1Q366.4 457.3 267 254.8z" fill="url(#s77)" stroke="url(#s77)"/><path d="M270.8 246.3Q370.2 448.8 469.5 160.6L467.6 164.9Q368.3 453.2 268.9 250.6z" fill="url(#s78)" stroke="url(#s78)"/><path d="M272.7 241.8Q372.1 444.3 471.4 156.1L469.5 160.6Q370.2 448.8 270.8 246.3z" fill="url(#s79)" stroke="url(#s79)"/><path d="M274.6 237.1Q374 439.6 473.3 151.4L471.4 156.1Q372.1 444.3 272.7 241.8z" fill="url(#s80)" stroke="url(#s80)"/></g>
<path d="M123 124.8L123 370.2L274.6 482.5L473.3 396.8M274.6 482.5l4.6 3.4M274.6 482.5l-5.2 2.3M374 439.6l4.6 3.4M198.8 426.4l-5.2 2.3M473.3 396.8l4.6 3.4M123 370.2l-5.2 2.3M123 370.2l-5 -2.2M123 308.9l-5 -2.2M123 247.5l-5 -2.2M123 186.2l-5 -2.2M123 124.8l-5 -2.2" stroke="#262626" stroke-width="1.4" fill="none" stroke-linejoin="round"/>
<text transform="translate(287.1 515.7) scale(1 1.08)" font-size="21" fill="#262626">-100</text>
<text transform="translate(260.6 512) scale(1 1.08)" font-size="21" text-anchor="end" fill="#262626">-100</text>
<text transform="translate(386.5 472.8) scale(1 1.08)" font-size="21" fill="#262626">0</text>
<text transform="translate(184.8 455.9) scale(1 1.08)" font-size="21" text-anchor="end" fill="#262626">0</text>
<text transform="translate(485.8 430) scale(1 1.08)" font-size="21" fill="#262626">100</text>
<text transform="translate(109 400.6) scale(1 1.08)" font-size="21" text-anchor="end" fill="#262626">100</text>
<text transform="translate(110 371.2) scale(1 1.08)" font-size="21" text-anchor="end" fill="#262626">0</text>
<text transform="translate(110 309.9) scale(1 1.08)" font-size="21" text-anchor="end" fill="#262626">0.5</text>
<text transform="translate(110 248.5) scale(1 1.08)" font-size="21" text-anchor="end" fill="#262626">1</text>
<text transform="translate(110 187.2) scale(1 1.08)" font-size="21" text-anchor="end" fill="#262626">1.5</text>
<text transform="translate(110 125.8) scale(1 1.08)" font-size="21" text-anchor="end" fill="#262626">2</text>
<text x="64.1" y="89.9" font-size="24" fill="#707070">×</text>
<text transform="translate(81.7 88.1) scale(1 1.1)" font-size="21" fill="#262626">10</text>
<text transform="translate(105.5 76.7) scale(1 1.12)" font-size="17" fill="#262626">4</text>
<text x="402" y="526.1" font-size="24" fill="#262626">x</text>
<text transform="translate(415.2 537.9) scale(1 1.05)" font-size="19" fill="#262626">1</text>
<text x="136.8" y="519.9" font-size="24" fill="#262626">x</text>
<text transform="translate(150 532.1) scale(1 1.05)" font-size="19" fill="#262626">2</text>
<g transform="translate(55.1 320.1) rotate(-90)" font-size="24" fill="#262626"><text x="0" y="0">F1(</text><text x="48.8" y="0">x</text><text x="61.2" y="11.3" font-size="17.5">1</text><text x="83.5" y="0">,</text><text x="98" y="0">x</text><text x="111.8" y="11.3" font-size="17.5">2</text><text x="133.5" y="0">)</text></g>
<text x="298.6" y="28.5" font-size="24" text-anchor="middle" font-weight="bold" fill="#111">Parameter space</text>
<path d="M1291.6 482.4L1143.2 370M1291.6 482.4L1485.4 396.9M1388.5 439.6L1240.1 327.2M1217.4 426.2L1411.2 340.7M1485.4 396.9L1337 284.5M1143.2 370L1337 284.5M1143.2 370L1143.2 127.4M1240.1 327.2L1240.1 84.7M1337 284.5L1337 41.9M1143.2 370L1337 284.5M1143.2 248.7L1337 163.2M1143.2 127.4L1337 41.9M1485.4 396.9L1485.4 154.3M1411.2 340.7L1411.2 98.1M1337 284.5L1337 41.9M1485.4 396.9L1337 284.5M1485.4 275.6L1337 163.2M1485.4 154.3L1337 41.9" stroke="#dcdcdc" stroke-width="1.1" fill="none"/>
<g fill="none" stroke-width="1.4">
<path d="M1379.9 443.5L1376.5 441.4L1373.1 439.3L1369.7 437.3L1366.2 435.3L1362.7 433.3L1359.1 431.3L1355.4 429.3L1351.7 427.4L1349.5 426.4L1345.9 424.7L1341.9 422.9L1337.7 421.2L1335.2 420.2L1331.1 418.7L1328.8 418L1326.4 417.3L1323.9 416.6L1321.3 415.9L1318.6 415.4L1315.9 414.8L1312.8 414.4L1309.6 414L1306.2 413.7L1302.6 413.5L1298.7 413.5L1295.8 413.6L1292.9 413.7L1289.4 414L1284.8 414.5L1279.7 415.3L1274.7 416.2L1270.1 417.2L1267.6 417.8L1263 418.9L1258.4 420.1L1254 421.4L1249.6 422.7L1245.2 424L1240.9 425.4L1236.6 426.8L1232.4 428.3L1228.2 429.7L1224 431.2M1417.8 345.7L1414.2 347.6L1410.7 349.6L1407.2 351.6L1403.7 353.6L1400.2 355.6L1396.8 357.7L1393.5 359.8L1390.2 362L1388.4 363.2L1385.4 365.3L1382.3 367.6L1379.4 370L1377.7 371.5L1375.2 373.8L1372.7 376.6L1370.4 379.5L1368.5 382.6L1367.6 384.9L1366.6 388.2L1366.3 392.5L1366.7 395.9L1367.5 399.1L1368.7 402.1L1370.1 404.8L1371.9 407.8L1373.8 410.6L1375.7 413.3L1377.8 415.9L1380 418.5L1382.3 421L1384.7 423.6L1387.1 426.1L1389.5 428.5L1392 431L1394.6 433.4L1397.1 435.8M1210.8 421.2L1214.4 419.3L1217.9 417.3L1221.4 415.3L1224.9 413.3L1228.4 411.3L1231.8 409.2L1235.1 407.1L1238.4 404.9L1240.2 403.7L1243.2 401.6L1246.3 399.3L1249.2 396.9L1250.9 395.4L1253.4 393.1L1255.9 390.3L1258.2 387.4L1260.1 384.3L1261 382L1262 378.7L1262.3 374.4L1261.9 371L1261.1 367.8L1259.9 364.8L1258.5 362.1L1256.7 359.1L1254.8 356.3L1252.9 353.6L1250.8 351L1248.6 348.4L1246.3 345.9L1243.9 343.3L1241.5 340.8L1239.1 338.4L1236.6 335.9L1234 333.5L1231.5 331.1M1248.7 323.4L1252.1 325.5L1255.5 327.6L1258.9 329.6L1262.4 331.6L1265.9 333.6L1269.5 335.6L1273.2 337.6L1276.9 339.5L1279.1 340.5L1282.7 342.2L1286.7 344L1290.9 345.7L1293.4 346.7L1297.5 348.2L1299.8 348.9L1302.2 349.6L1304.7 350.3L1307.3 351L1310 351.5L1312.7 352.1L1315.8 352.5L1319 352.9L1322.4 353.2L1326 353.4L1329.9 353.4L1332.8 353.3L1335.7 353.2L1339.2 352.9L1343.8 352.4L1348.9 351.6L1353.9 350.7L1358.5 349.7L1361 349.1L1365.6 348L1370.2 346.8L1374.6 345.5L1379 344.2L1383.4 342.9L1387.7 341.5L1392 340.1L1396.2 338.6L1400.4 337.2L1404.6 335.7" stroke="#430000"/>
<path d="M1370.3 447.7L1366.5 445.8L1362.7 443.9L1358.8 442.1L1354.8 440.3L1350.7 438.5L1346.5 436.8L1343.4 435.7L1339.9 434.4L1337.6 433.6L1335.3 432.9L1332.9 432.2L1330.5 431.4L1328 430.8L1325.4 430.1L1322.8 429.5L1320.1 428.9L1317.3 428.4L1314.4 427.9L1311.3 427.5L1308.1 427.1L1304.8 426.8L1301.3 426.5L1297.7 426.4L1294.2 426.3L1291.2 426.3L1288.2 426.4L1285.3 426.6L1282.5 426.7L1277 427.2L1271.8 427.9L1266.6 428.7L1262.7 429.3L1259.2 430L1255.5 430.7L1252 431.5L1247.3 432.6L1242.7 433.7L1238.1 434.9L1233.6 436.1L1231.4 436.8M1425.2 351.3L1421.9 353.4L1418.7 355.7L1415.5 357.9L1412.4 360.2L1409.4 362.6L1406.5 365L1404.4 366.8L1402.3 368.8L1399.7 371.5L1398.1 373.1L1396 375.7L1394 378.5L1392.4 381L1391.2 383.3L1390.3 385.5L1389.2 389.1L1388.5 393.2L1388.5 397L1388.9 400.3L1389.6 403.3L1390.5 406.3L1391.9 409.7L1393.3 412.6L1394.9 415.5L1396.2 417.6L1397.5 419.7L1399.4 422.4L1401.4 425.1L1403.5 427.7L1405.6 430.3L1406.7 431.6M1203.4 415.6L1206.7 413.5L1209.9 411.2L1213.1 409L1216.2 406.7L1219.2 404.3L1222.1 401.9L1224.2 400.1L1226.3 398.1L1228.9 395.4L1230.5 393.8L1232.6 391.2L1234.6 388.4L1236.2 385.9L1237.4 383.6L1238.3 381.4L1239.4 377.8L1240.1 373.7L1240.1 369.9L1239.7 366.6L1239 363.6L1238.1 360.6L1236.7 357.2L1235.3 354.3L1233.7 351.4L1232.4 349.3L1231.1 347.2L1229.2 344.5L1227.2 341.8L1225.1 339.2L1223 336.6L1221.9 335.3M1258.3 319.2L1262.1 321.1L1265.9 323L1269.8 324.8L1273.8 326.6L1277.9 328.4L1282.1 330.1L1285.2 331.2L1288.7 332.5L1291 333.3L1293.3 334L1295.7 334.7L1298.1 335.5L1300.6 336.1L1303.2 336.8L1305.8 337.4L1308.5 338L1311.3 338.5L1314.2 339L1317.3 339.4L1320.5 339.8L1323.8 340.1L1327.3 340.4L1330.9 340.5L1334.4 340.6L1337.4 340.6L1340.4 340.5L1343.3 340.3L1346.1 340.2L1351.6 339.7L1356.8 339L1362 338.2L1365.9 337.6L1369.4 336.9L1373.1 336.2L1376.6 335.4L1381.3 334.3L1385.9 333.2L1390.5 332L1395 330.8L1397.2 330.1" stroke="#850000"/>
<path d="M1360.7 451.9L1356.5 450.2L1352.3 448.5L1350 447.7L1345.7 446.1L1343.4 445.3L1341.1 444.6L1338.7 443.8L1336.3 443.1L1333.9 442.4L1331.4 441.7L1328.9 441.1L1326.3 440.4L1323.6 439.8L1320.8 439.3L1318 438.7L1315.1 438.2L1312.5 437.8L1309 437.4L1305.8 437L1302.5 436.7L1299 436.5L1295.4 436.3L1291.9 436.2L1288.8 436.2L1285.8 436.2L1282.8 436.3L1279.9 436.4L1277.1 436.6L1274.3 436.8L1268.9 437.3L1266.2 437.6L1263.4 437.9L1258.4 438.6L1253.3 439.5L1248.4 440.4L1243.7 441.3L1241.1 441.8L1238.7 442.3M1432.5 356.8L1429.5 359.2L1426.6 361.7L1423.8 364.2L1421.6 366.3L1419.8 368.2L1417.3 370.9L1415 373.7L1412.8 376.7L1410.7 379.8L1409.3 382.4L1408.3 384.7L1406.9 388.5L1406 392.5L1405.5 396.6L1405.6 400.1L1405.9 403.5L1406.6 406.8L1407.5 409.9L1408.6 413L1409.9 416L1411.3 418.9L1412.9 421.8L1414.5 424.5L1416.3 427.4M1196.1 410.1L1199.1 407.7L1202 405.2L1204.8 402.7L1207 400.6L1208.8 398.7L1211.3 396L1213.6 393.2L1215.8 390.2L1217.9 387.1L1219.3 384.5L1220.3 382.2L1221.7 378.4L1222.6 374.4L1223.1 370.3L1223 366.8L1222.7 363.4L1222 360.1L1221.1 357L1220 353.9L1218.7 350.9L1217.3 348L1215.7 345.1L1214.1 342.4L1212.3 339.5M1267.9 315L1272.1 316.7L1276.3 318.4L1278.6 319.2L1282.9 320.8L1285.2 321.6L1287.5 322.3L1289.9 323.1L1292.3 323.8L1294.7 324.5L1297.2 325.2L1299.7 325.8L1302.3 326.5L1305 327.1L1307.8 327.6L1310.6 328.2L1313.5 328.7L1316.1 329.1L1319.6 329.5L1322.8 329.9L1326.1 330.2L1329.6 330.4L1333.2 330.6L1336.7 330.7L1339.8 330.7L1342.8 330.7L1345.8 330.6L1348.7 330.5L1351.5 330.3L1354.3 330.1L1359.7 329.6L1362.4 329.3L1365.2 329L1370.2 328.3L1375.3 327.4L1380.2 326.5L1384.9 325.6L1387.5 325.1L1389.9 324.6" stroke="#c80000"/>
<path d="M1351.1 456.2L1348.8 455.4L1346.5 454.6L1344.2 453.9L1341.9 453.1L1339.4 452.4L1337 451.7L1334.5 451L1332 450.4L1329.4 449.7L1326.8 449.1L1324.1 448.5L1321.3 447.9L1318.5 447.4L1315.6 446.9L1312.6 446.5L1309.5 446L1306.4 445.6L1303.1 445.3L1299.7 445L1296.2 444.8L1292.6 444.6L1288.8 444.5L1284.8 444.5L1281.4 444.5L1278.5 444.6L1275.6 444.7L1272.7 444.8L1269.9 445L1266.9 445.3L1261.8 445.8L1259 446.1L1256.3 446.4L1251.1 447.1L1246.1 447.9M1439.9 362.4L1437.6 364.6L1435.9 366.4L1433.4 369.1L1431 372L1428.8 374.9L1426.7 378L1425.1 380.8L1424 382.9L1422.9 385.3L1421.8 388.2L1420.9 391.6L1420.4 394.1L1420 397.3L1419.9 400.7L1420.1 404.4L1420.6 407.7L1421.3 411L1422.2 414L1423.3 417.2L1424.5 420.2L1425.9 423.1M1188.7 404.5L1191 402.3L1192.7 400.5L1195.2 397.8L1197.6 394.9L1199.8 392L1201.9 388.9L1203.5 386.1L1204.6 384L1205.7 381.6L1206.8 378.7L1207.7 375.3L1208.2 372.8L1208.6 369.6L1208.7 366.2L1208.5 362.5L1208 359.2L1207.3 355.9L1206.4 352.9L1205.3 349.7L1204.1 346.7L1202.7 343.8M1277.5 310.7L1279.8 311.5L1282.1 312.3L1284.4 313L1286.7 313.8L1289.2 314.5L1291.6 315.2L1294.1 315.9L1296.6 316.5L1299.2 317.2L1301.8 317.8L1304.5 318.4L1307.3 319L1310.1 319.5L1313 320L1316 320.4L1319.1 320.9L1322.2 321.3L1325.5 321.6L1328.9 321.9L1332.4 322.1L1336 322.3L1339.8 322.4L1343.8 322.4L1347.2 322.4L1350.1 322.3L1353 322.2L1355.9 322.1L1358.7 321.9L1361.7 321.6L1366.8 321.1L1369.6 320.8L1372.3 320.5L1377.5 319.8L1382.5 319" stroke="#ff0c00"/>
<path d="M1341.5 460.4L1339 459.7L1336.5 459L1334 458.4L1331.4 457.7L1328.8 457.1L1326.1 456.5L1323.4 455.9L1320.6 455.4L1317.7 454.9L1314.8 454.4L1311.8 453.9L1308.7 453.5L1305.6 453.1L1302.3 452.8L1299 452.5L1295.5 452.2L1291.9 452L1288.2 451.9L1284.9 451.8L1281.8 451.8L1278.8 451.8L1275.8 451.9L1272.9 452L1270 452.1L1267.1 452.2L1264.3 452.4L1258.8 452.9L1253.4 453.5M1447.2 368L1445.5 370.1L1443.7 372.3L1441.5 375.3L1439.9 377.8L1438.6 380L1437.3 382.5L1436.3 384.8L1435.4 387L1434.2 390.6L1433.5 393.1L1432.9 396.6L1432.5 400.7L1432.6 404.2L1432.8 407.6L1433.4 410.9L1434 413.7L1434.8 416.6L1435.5 418.9M1181.4 398.9L1183.1 396.8L1184.9 394.6L1187.1 391.6L1188.7 389.1L1190 386.9L1191.3 384.4L1192.3 382.1L1193.2 379.9L1194.4 376.3L1195.1 373.8L1195.7 370.3L1196.1 366.2L1196 362.7L1195.8 359.3L1195.2 356L1194.6 353.2L1193.8 350.3L1193.1 348M1287.1 306.5L1289.6 307.2L1292.1 307.9L1294.6 308.5L1297.2 309.2L1299.8 309.8L1302.5 310.4L1305.2 311L1308 311.5L1310.9 312L1313.8 312.5L1316.8 313L1319.9 313.4L1323 313.8L1326.3 314.1L1329.6 314.4L1333.1 314.7L1336.7 314.9L1340.4 315L1343.7 315.1L1346.8 315.1L1349.8 315.1L1352.8 315L1355.7 314.9L1358.6 314.8L1361.5 314.7L1364.3 314.5L1369.8 314L1375.2 313.4" stroke="#ff4e00"/>
<path d="M1331.9 464.6L1329.2 464L1326.6 463.4L1323.8 462.9L1321 462.3L1318.1 461.8L1315.2 461.3L1312.2 460.8L1309.2 460.4L1306.1 460L1302.8 459.7L1299.5 459.3L1296.1 459.1L1292.6 458.8L1289 458.6L1285.3 458.5L1281.5 458.4L1278.3 458.4L1275.3 458.4L1272.3 458.5L1269.3 458.6L1266.4 458.7L1263.6 458.8L1260.7 459M1454.5 373.5L1453.2 375.5L1451.6 378L1450.3 380.4L1449.1 382.7L1448.1 384.9L1447.2 387.1L1446.1 390.3L1445.2 393.3L1444.6 396.2L1444.2 399.1L1444 402.7L1444 406.3L1444.3 409.7L1444.7 412.5L1445.1 414.7M1174.1 393.4L1175.4 391.4L1177 388.9L1178.3 386.5L1179.5 384.2L1180.5 382L1181.4 379.8L1182.5 376.6L1183.4 373.6L1184 370.7L1184.4 367.8L1184.6 364.2L1184.6 360.6L1184.3 357.2L1183.9 354.4L1183.5 352.2M1296.7 302.3L1299.4 302.9L1302 303.5L1304.8 304L1307.6 304.6L1310.5 305.1L1313.4 305.6L1316.4 306.1L1319.4 306.5L1322.5 306.9L1325.8 307.2L1329.1 307.6L1332.5 307.8L1336 308.1L1339.6 308.3L1343.3 308.4L1347.1 308.5L1350.3 308.5L1353.3 308.5L1356.3 308.4L1359.3 308.3L1362.2 308.2L1365 308.1L1367.9 307.9" stroke="#ff9100"/>
<path d="M1322.3 468.9L1319.5 468.3L1316.6 467.8L1313.6 467.4L1310.6 466.9L1307.5 466.5L1304.3 466.1L1301.1 465.8L1297.8 465.4L1294.4 465.2L1290.9 464.9L1287.3 464.7L1283.6 464.6L1280.3 464.5L1277.2 464.5L1274.1 464.5L1271.1 464.5L1268.1 464.6M1461.9 379.1L1460.8 381.1L1459.7 383.3L1458.7 385.6L1457.8 387.7L1456.6 391.3L1455.9 393.9L1455.2 397.3L1454.7 401.5L1454.5 405.2L1454.6 408.4L1454.7 410.4M1166.7 387.8L1167.8 385.8L1168.9 383.6L1169.9 381.3L1170.8 379.2L1172 375.6L1172.7 373L1173.4 369.6L1173.9 365.4L1174.1 361.7L1174 358.5L1173.9 356.5M1306.3 298L1309.1 298.6L1312 299.1L1315 299.5L1318 300L1321.1 300.4L1324.3 300.8L1327.5 301.1L1330.8 301.5L1334.2 301.7L1337.7 302L1341.3 302.2L1345 302.3L1348.3 302.4L1351.4 302.4L1354.5 302.4L1357.5 302.4L1360.5 302.3" stroke="#ffd400"/>
<path d="M1312.7 473.1L1309.7 472.6L1306.6 472.2L1303.4 471.9L1300.2 471.5L1296.9 471.2L1293.5 470.9L1290 470.7L1286.4 470.5L1282.7 470.3L1278.9 470.2L1275.4 470.2M1469.2 384.7L1467.8 388.2L1466.9 390.8L1466 393.8L1465.3 396.9L1464.8 399.9L1464.4 404.2L1464.3 406.2M1159.4 382.2L1160.8 378.7L1161.7 376.1L1162.6 373.1L1163.3 370L1163.8 367L1164.2 362.7L1164.3 360.7M1315.9 293.8L1318.9 294.3L1322 294.7L1325.2 295L1328.4 295.4L1331.7 295.7L1335.1 296L1338.6 296.2L1342.2 296.4L1345.9 296.6L1349.7 296.7L1353.2 296.7" stroke="#ffff23"/>
<path d="M1303.1 477.3L1299.9 477L1296.6 476.6L1293.2 476.4L1289.7 476.1L1286.2 475.9L1282.8 475.7M1476.6 390.2L1475.4 394L1474.5 398L1473.9 402M1152 376.7L1153.2 372.9L1154.1 368.9L1154.7 364.9M1325.5 289.6L1328.7 289.9L1332 290.3L1335.4 290.5L1338.9 290.8L1342.4 291L1345.8 291.2" stroke="#ffff87"/>
<path d="M1293.5 481.6L1290.1 481.3M1483.9 395.8L1483.5 397.7M1144.7 371.1L1145.1 369.2M1335.1 285.3L1338.5 285.6" stroke="#ffffeb"/>
</g>
<g stroke-width="1" stroke-linejoin="round"><path d="M1145.1 130.1L1242 326.3L1338.9 44.6L1337 37L1240.1 324.8L1143.2 122.5z" fill="url(#s81)" stroke="url(#s81)"/><path d="M1146.9 137.6L1243.8 327.8L1340.7 52.1L1338.9 44.6L1242 326.3L1145.1 130.1z" fill="url(#s82)" stroke="url(#s82)"/><path d="M1148.8 145.1L1245.7 329.2L1342.6 59.6L1340.7 52.1L1243.8 327.8L1146.9 137.6z" fill="url(#s83)" stroke="url(#s83)"/><path d="M1150.6 152.7L1247.5 330.7L1344.4 67.2L1342.6 59.6L1245.7 329.2L1148.8 145.1z" fill="url(#s84)" stroke="url(#s84)"/><path d="M1152.5 160.2L1249.4 332.2L1346.3 74.7L1344.4 67.2L1247.5 330.7L1150.6 152.7z" fill="url(#s85)" stroke="url(#s85)"/><path d="M1154.3 167.7L1251.2 333.6L1348.1 82.2L1346.3 74.7L1249.4 332.2L1152.5 160.2z" fill="url(#s86)" stroke="url(#s86)"/><path d="M1156.2 175.3L1253.1 335.1L1350 89.8L1348.1 82.2L1251.2 333.6L1154.3 167.7z" fill="url(#s87)" stroke="url(#s87)"/><path d="M1158 182.8L1254.9 336.5L1351.8 97.3L1350 89.8L1253.1 335.1L1156.2 175.3z" fill="url(#s88)" stroke="url(#s88)"/><path d="M1159.9 190.3L1256.8 338L1353.7 104.8L1351.8 97.3L1254.9 336.5L1158 182.8z" fill="url(#s89)" stroke="url(#s89)"/><path d="M1161.8 197.9L1258.7 339.5L1355.6 112.4L1353.7 104.8L1256.8 338L1159.9 190.3z" fill="url(#s90)" stroke="url(#s90)"/><path d="M1163.6 205.4L1260.5 340.9L1357.4 119.9L1355.6 112.4L1258.7 339.5L1161.8 197.9z" fill="url(#s91)" stroke="url(#s91)"/><path d="M1165.5 212.9L1262.4 342.4L1359.3 127.4L1357.4 119.9L1260.5 340.9L1163.6 205.4z" fill="url(#s92)" stroke="url(#s92)"/><path d="M1167.3 220.4L1264.2 343.9L1361.1 134.9L1359.3 127.4L1262.4 342.4L1165.5 212.9z" fill="url(#s93)" stroke="url(#s93)"/><path d="M1169.2 228L1266.1 345.3L1363 142.5L1361.1 134.9L1264.2 343.9L1167.3 220.4z" fill="url(#s94)" stroke="url(#s94)"/><path d="M1171 235.5L1267.9 346.8L1364.8 150L1363 142.5L1266.1 345.3L1169.2 228z" fill="url(#s95)" stroke="url(#s95)"/><path d="M1172.9 243L1269.8 348.3L1366.7 157.5L1364.8 150L1267.9 346.8L1171 235.5z" fill="url(#s96)" stroke="url(#s96)"/><path d="M1174.7 250.6L1271.6 349.7L1368.5 165.1L1366.7 157.5L1269.8 348.3L1172.9 243z" fill="url(#s97)" stroke="url(#s97)"/><path d="M1176.6 258.1L1273.5 351.2L1370.4 172.6L1368.5 165.1L1271.6 349.7L1174.7 250.6z" fill="url(#s98)" stroke="url(#s98)"/><path d="M1178.4 265.6L1275.3 352.7L1372.2 180.1L1370.4 172.6L1273.5 351.2L1176.6 258.1z" fill="url(#s99)" stroke="url(#s99)"/><path d="M1180.3 273.2L1277.2 354.1L1374.1 187.7L1372.2 180.1L1275.3 352.7L1178.4 265.6z" fill="url(#s100)" stroke="url(#s100)"/><path d="M1182.2 280.7L1279.1 355.6L1376 195.2L1374.1 187.7L1277.2 354.1L1180.3 273.2z" fill="url(#s101)" stroke="url(#s101)"/><path d="M1184 288.2L1280.9 357.1L1377.8 202.7L1376 195.2L1279.1 355.6L1182.2 280.7z" fill="url(#s102)" stroke="url(#s102)"/><path d="M1185.9 295.8L1282.8 358.5L1379.7 210.3L1377.8 202.7L1280.9 357.1L1184 288.2z" fill="url(#s103)" stroke="url(#s103)"/><path d="M1187.7 303.3L1284.6 360L1381.5 217.8L1379.7 210.3L1282.8 358.5L1185.9 295.8z" fill="url(#s104)" stroke="url(#s104)"/><path d="M1189.6 310.8L1286.5 361.5L1383.4 225.3L1381.5 217.8L1284.6 360L1187.7 303.3z" fill="url(#s105)" stroke="url(#s105)"/><path d="M1191.4 318.3L1288.3 362.9L1385.2 232.8L1383.4 225.3L1286.5 361.5L1189.6 310.8z" fill="url(#s106)" stroke="url(#s106)"/><path d="M1193.3 325.9L1290.2 364.4L1387.1 240.4L1385.2 232.8L1288.3 362.9L1191.4 318.3z" fill="url(#s107)" stroke="url(#s107)"/><path d="M1195.1 333.4L1292 365.9L1388.9 247.9L1387.1 240.4L1290.2 364.4L1193.3 325.9z" fill="url(#s108)" stroke="url(#s108)"/><path d="M1197 340.9L1293.9 367.3L1390.8 255.4L1388.9 247.9L1292 365.9L1195.1 333.4z" fill="url(#s109)" stroke="url(#s109)"/><path d="M1198.8 348.5L1295.8 368.8L1392.7 263L1390.8 255.4L1293.9 367.3L1197 340.9z" fill="url(#s110)" stroke="url(#s110)"/><path d="M1200.7 356L1297.6 370.3L1394.5 270.5L1392.7 263L1295.8 368.8L1198.8 348.5z" fill="url(#s111)" stroke="url(#s111)"/><path d="M1202.6 363.5L1299.5 371.7L1396.4 278L1394.5 270.5L1297.6 370.3L1200.7 356z" fill="url(#s112)" stroke="url(#s112)"/><path d="M1204.4 371.1L1301.3 373.2L1398.2 285.6L1396.4 278L1299.5 371.7L1202.6 363.5z" fill="url(#s113)" stroke="url(#s113)"/><path d="M1206.3 378.6L1303.2 374.7L1400.1 293.1L1398.2 285.6L1301.3 373.2L1204.4 371.1z" fill="url(#s114)" stroke="url(#s114)"/><path d="M1208.1 386.1L1305 376.1L1401.9 300.6L1400.1 293.1L1303.2 374.7L1206.3 378.6z" fill="url(#s115)" stroke="url(#s115)"/><path d="M1210 393.7L1306.9 377.6L1403.8 308.2L1401.9 300.6L1305 376.1L1208.1 386.1z" fill="url(#s116)" stroke="url(#s116)"/><path d="M1211.8 401.2L1308.7 379.1L1405.6 315.7L1403.8 308.2L1306.9 377.6L1210 393.7z" fill="url(#s117)" stroke="url(#s117)"/><path d="M1213.7 408.7L1310.6 380.5L1407.5 323.2L1405.6 315.7L1308.7 379.1L1211.8 401.2z" fill="url(#s118)" stroke="url(#s118)"/><path d="M1215.5 416.2L1312.4 382L1409.3 330.7L1407.5 323.2L1310.6 380.5L1213.7 408.7z" fill="url(#s119)" stroke="url(#s119)"/><path d="M1217.4 423.8L1314.3 383.4L1411.2 338.3L1409.3 330.7L1312.4 382L1215.5 416.2z" fill="url(#s120)" stroke="url(#s120)"/><path d="M1219.3 419.1L1316.2 384.8L1413.1 333.6L1411.2 338.3L1314.3 383.4L1217.4 423.8z" fill="url(#s121)" stroke="url(#s121)"/><path d="M1221.1 414.3L1318 386.1L1414.9 328.8L1413.1 333.6L1316.2 384.8L1219.3 419.1z" fill="url(#s122)" stroke="url(#s122)"/><path d="M1223 409.6L1319.9 387.5L1416.8 324.1L1414.9 328.8L1318 386.1L1221.1 414.3z" fill="url(#s123)" stroke="url(#s123)"/><path d="M1224.8 404.9L1321.7 388.8L1418.6 319.4L1416.8 324.1L1319.9 387.5L1223 409.6z" fill="url(#s124)" stroke="url(#s124)"/><path d="M1226.7 400.2L1323.6 390.2L1420.5 314.7L1418.6 319.4L1321.7 388.8L1224.8 404.9z" fill="url(#s125)" stroke="url(#s125)"/><path d="M1228.5 395.5L1325.4 391.5L1422.3 310L1420.5 314.7L1323.6 390.2L1226.7 400.2z" fill="url(#s126)" stroke="url(#s126)"/><path d="M1230.4 390.7L1327.3 392.9L1424.2 305.2L1422.3 310L1325.4 391.5L1228.5 395.5z" fill="url(#s127)" stroke="url(#s127)"/><path d="M1232.2 386L1329.1 394.2L1426 300.5L1424.2 305.2L1327.3 392.9L1230.4 390.7z" fill="url(#s128)" stroke="url(#s128)"/><path d="M1234.1 381.3L1331 395.5L1427.9 295.8L1426 300.5L1329.1 394.2L1232.2 386z" fill="url(#s129)" stroke="url(#s129)"/><path d="M1236 376.6L1332.9 396.9L1429.8 291.1L1427.9 295.8L1331 395.5L1234.1 381.3z" fill="url(#s130)" stroke="url(#s130)"/><path d="M1237.8 371.8L1334.7 398.2L1431.6 286.3L1429.8 291.1L1332.9 396.9L1236 376.6z" fill="url(#s131)" stroke="url(#s131)"/><path d="M1239.7 367.1L1336.6 399.6L1433.5 281.6L1431.6 286.3L1334.7 398.2L1237.8 371.8z" fill="url(#s132)" stroke="url(#s132)"/><path d="M1241.5 362.4L1338.4 400.9L1435.3 276.9L1433.5 281.6L1336.6 399.6L1239.7 367.1z" fill="url(#s133)" stroke="url(#s133)"/><path d="M1243.4 357.7L1340.3 402.3L1437.2 272.2L1435.3 276.9L1338.4 400.9L1241.5 362.4z" fill="url(#s134)" stroke="url(#s134)"/><path d="M1245.2 353L1342.1 403.6L1439 267.5L1437.2 272.2L1340.3 402.3L1243.4 357.7z" fill="url(#s135)" stroke="url(#s135)"/><path d="M1247.1 348.2L1344 405L1440.9 262.7L1439 267.5L1342.1 403.6L1245.2 353z" fill="url(#s136)" stroke="url(#s136)"/><path d="M1248.9 343.5L1345.8 406.3L1442.7 258L1440.9 262.7L1344 405L1247.1 348.2z" fill="url(#s137)" stroke="url(#s137)"/><path d="M1250.8 338.8L1347.7 407.6L1444.6 253.3L1442.7 258L1345.8 406.3L1248.9 343.5z" fill="url(#s138)" stroke="url(#s138)"/><path d="M1252.6 334.1L1349.5 409L1446.4 248.6L1444.6 253.3L1347.7 407.6L1250.8 338.8z" fill="url(#s139)" stroke="url(#s139)"/><path d="M1254.5 329.4L1351.4 410.3L1448.3 243.9L1446.4 248.6L1349.5 409L1252.6 334.1z" fill="url(#s140)" stroke="url(#s140)"/><path d="M1256.4 324.6L1353.3 411.7L1450.2 239.1L1448.3 243.9L1351.4 410.3L1254.5 329.4z" fill="url(#s141)" stroke="url(#s141)"/><path d="M1258.2 319.9L1355.1 413L1452 234.4L1450.2 239.1L1353.3 411.7L1256.4 324.6z" fill="url(#s142)" stroke="url(#s142)"/><path d="M1260.1 315.2L1357 414.4L1453.9 229.7L1452 234.4L1355.1 413L1258.2 319.9z" fill="url(#s143)" stroke="url(#s143)"/><path d="M1261.9 310.5L1358.8 415.7L1455.7 225L1453.9 229.7L1357 414.4L1260.1 315.2z" fill="url(#s144)" stroke="url(#s144)"/><path d="M1263.8 305.8L1360.7 417.1L1457.6 220.3L1455.7 225L1358.8 415.7L1261.9 310.5z" fill="url(#s145)" stroke="url(#s145)"/><path d="M1265.6 301L1362.5 418.4L1459.4 215.5L1457.6 220.3L1360.7 417.1L1263.8 305.8z" fill="url(#s146)" stroke="url(#s146)"/><path d="M1267.5 296.3L1364.4 419.7L1461.3 210.8L1459.4 215.5L1362.5 418.4L1265.6 301z" fill="url(#s147)" stroke="url(#s147)"/><path d="M1269.3 291.6L1366.2 421.1L1463.1 206.1L1461.3 210.8L1364.4 419.7L1267.5 296.3z" fill="url(#s148)" stroke="url(#s148)"/><path d="M1271.2 286.9L1368.1 422.4L1465 201.4L1463.1 206.1L1366.2 421.1L1269.3 291.6z" fill="url(#s149)" stroke="url(#s149)"/><path d="M1273 282.2L1370 423.8L1466.9 196.7L1465 201.4L1368.1 422.4L1271.2 286.9z" fill="url(#s150)" stroke="url(#s150)"/><path d="M1274.9 277.4L1371.8 425.1L1468.7 191.9L1466.9 196.7L1370 423.8L1273 282.2z" fill="url(#s151)" stroke="url(#s151)"/><path d="M1276.8 272.7L1373.7 426.5L1470.6 187.2L1468.7 191.9L1371.8 425.1L1274.9 277.4z" fill="url(#s152)" stroke="url(#s152)"/><path d="M1278.6 268L1375.5 427.8L1472.4 182.5L1470.6 187.2L1373.7 426.5L1276.8 272.7z" fill="url(#s153)" stroke="url(#s153)"/><path d="M1280.5 263.3L1377.4 429.2L1474.3 177.8L1472.4 182.5L1375.5 427.8L1278.6 268z" fill="url(#s154)" stroke="url(#s154)"/><path d="M1282.3 258.6L1379.2 430.5L1476.1 173.1L1474.3 177.8L1377.4 429.2L1280.5 263.3z" fill="url(#s155)" stroke="url(#s155)"/><path d="M1284.2 253.8L1381.1 431.8L1478 168.3L1476.1 173.1L1379.2 430.5L1282.3 258.6z" fill="url(#s156)" stroke="url(#s156)"/><path d="M1286 249.1L1382.9 433.2L1479.8 163.6L1478 168.3L1381.1 431.8L1284.2 253.8z" fill="url(#s157)" stroke="url(#s157)"/><path d="M1287.9 244.4L1384.8 434.5L1481.7 158.9L1479.8 163.6L1382.9 433.2L1286 249.1z" fill="url(#s158)" stroke="url(#s158)"/><path d="M1289.7 239.7L1386.6 435.9L1483.5 154.2L1481.7 158.9L1384.8 434.5L1287.9 244.4z" fill="url(#s159)" stroke="url(#s159)"/><path d="M1291.6 234.9L1388.5 437.2L1485.4 149.4L1483.5 154.2L1386.6 435.9L1289.7 239.7z" fill="url(#s160)" stroke="url(#s160)"/></g>
<path d="M1143.2 127.4L1143.2 370L1291.6 482.4L1485.4 396.9M1291.6 482.4l4.6 3.4M1291.6 482.4l-5.2 2.3M1388.5 439.6l4.6 3.4M1217.4 426.2l-5.2 2.3M1485.4 396.9l4.6 3.4M1143.2 370l-5.2 2.3M1143.2 370l-5 -2.2M1143.2 248.7l-5 -2.2M1143.2 127.4l-5 -2.2" stroke="#262626" stroke-width="1.4" fill="none" stroke-linejoin="round"/>
<text transform="translate(1304.1 515) scale(1 1.08)" font-size="21" fill="#262626">-100</text>
<text transform="translate(1277.6 511.9) scale(1 1.08)" font-size="21" text-anchor="end" fill="#262626">-100</text>
<text transform="translate(1401 472.2) scale(1 1.08)" font-size="21" fill="#262626">0</text>
<text transform="translate(1203.4 455.7) scale(1 1.08)" font-size="21" text-anchor="end" fill="#262626">0</text>
<text transform="translate(1497.9 429.5) scale(1 1.08)" font-size="21" fill="#262626">100</text>
<text transform="translate(1129.2 400.4) scale(1 1.08)" font-size="21" text-anchor="end" fill="#262626">100</text>
<text transform="translate(1130.2 371) scale(1 1.08)" font-size="21" text-anchor="end" fill="#262626">0</text>
<text transform="translate(1130.2 249.7) scale(1 1.08)" font-size="21" text-anchor="end" fill="#262626">5000</text>
<text transform="translate(1130.2 128.4) scale(1 1.08)" font-size="21" text-anchor="end" fill="#262626">10000</text>
<text x="1416.5" y="526.1" font-size="24" fill="#262626">x</text>
<text transform="translate(1429.7 537.9) scale(1 1.05)" font-size="19" fill="#262626">1</text>
<text x="1155.4" y="519.7" font-size="24" fill="#262626">x</text>
<text transform="translate(1168.6 532) scale(1 1.05)" font-size="19" fill="#262626">2</text>
<g transform="translate(1047.1 321.3) rotate(-90)" font-size="24" fill="#262626"><text x="0" y="0">F2(</text><text x="48.8" y="0">x</text><text x="61.2" y="11.3" font-size="17.5">1</text><text x="83.5" y="0">,</text><text x="98" y="0">x</text><text x="111.8" y="11.3" font-size="17.5">2</text><text x="133.5" y="0">)</text></g>
<text x="1314.8" y="28.5" font-size="24" text-anchor="middle" font-weight="bold" fill="#111">Parameter space</text>
<path d="M262.6 1267.5L107.6 1155.1M262.6 1267.5L466.6 1183.3M364.6 1225.4L209.6 1113M185.1 1211.3L389.1 1127.1M466.6 1183.3L311.6 1070.9M107.6 1155.1L311.6 1070.9M107.6 1155.1L107.6 910M209.6 1113L209.6 867.9M311.6 1070.9L311.6 825.8M107.6 1155.1L311.6 1070.9M107.6 1106.1L311.6 1021.9M107.6 1057.1L311.6 972.9M107.6 1008L311.6 923.8M107.6 959L311.6 874.8M107.6 910L311.6 825.8M466.6 1183.3L466.6 938.2M389.1 1127.1L389.1 882M311.6 1070.9L311.6 825.8M466.6 1183.3L311.6 1070.9M466.6 1134.3L311.6 1021.9M466.6 1085.3L311.6 972.9M466.6 1036.2L311.6 923.8M466.6 987.2L311.6 874.8M466.6 938.2L311.6 825.8" stroke="#dcdcdc" stroke-width="1.1" fill="none"/>
<g fill="none" stroke-width="1.4">
<path d="M427.9 1155.2L430.6 1157.6L432.5 1160.4L433.1 1163.6L431.8 1167.3L429.4 1170.2L426.3 1172.7L423 1174.9L419.2 1176.8L415.3 1178.6L411.2 1180.3L406.9 1181.8L402.6 1183.3L398 1184.6L393.4 1185.9L389.4 1186.9L386.2 1187.7L381.4 1188.8L376.4 1189.9L373.9 1190.4L371.4 1190.9L368.8 1191.3L366.3 1191.8L363.7 1192.3L361.1 1192.7L358.5 1193.1L355.9 1193.5L353.2 1193.9L350.5 1194.3L347.9 1194.7L345.2 1195.1L342.5 1195.4L339.7 1195.8L337 1196.1L334.2 1196.4L331.4 1196.7L328.6 1197L325.9 1197.3L323 1197.6L320.2 1197.8L317.3 1198.1L314.5 1198.3L311.6 1198.6L308.7 1198.8L305.8 1199L302.8 1199.2L299.9 1199.4L296.9 1199.5L293.9 1199.7L290.9 1199.8L287.9 1200L284.9 1200.1L281.8 1200.2L278.8 1200.3L275.7 1200.4L272.6 1200.5L269.5 1200.5L266.3 1200.6L263.1 1200.6L260 1200.6L256.8 1200.6L253.5 1200.6L250.3 1200.5L247 1200.5L243.7 1200.4L240.4 1200.3L237 1200.2L233.7 1200.1L230.2 1199.9L226.8 1199.7L223.3 1199.5L219.8 1199.3L216.2 1199.1L212.6 1198.8L209 1198.5L205.3 1198.1L201.6 1197.7L197.7 1197.3L194.5 1196.8L191.3 1196.4L188.1 1195.9L185 1195.4L182 1194.9L179.1 1194.4L176.2 1193.8L173.4 1193.2L170.6 1192.6L168 1191.9L165.4 1191.2L162.8 1190.5L160.4 1189.7L158.1 1188.9L155.8 1188.1L153.7 1187.2L149.8 1185.3L146.3 1183.2M146.3 1183.2L143.6 1180.8L141.7 1178L141.1 1174.8L142.4 1171.1L144.8 1168.2L147.9 1165.7L151.2 1163.5L155 1161.6L158.9 1159.8L163 1158.1L167.3 1156.6L171.7 1155.1L176.2 1153.8L180.8 1152.5L184.8 1151.5L188 1150.7L192.8 1149.6L197.8 1148.5L200.3 1148L202.8 1147.5L205.4 1147.1L207.9 1146.6L210.5 1146.1L213.1 1145.7L215.7 1145.3L218.3 1144.9L221 1144.5L223.7 1144.1L226.3 1143.7L229 1143.3L231.7 1143L234.5 1142.6L237.2 1142.3L240 1142L242.8 1141.7L245.6 1141.4L248.3 1141.1L251.2 1140.8L254 1140.6L256.9 1140.3L259.7 1140.1L262.6 1139.8L265.5 1139.6L268.4 1139.4L271.4 1139.2L274.3 1139L277.3 1138.9L280.3 1138.7L283.3 1138.6L286.3 1138.4L289.3 1138.3L292.4 1138.2L295.4 1138.1L298.5 1138L301.6 1137.9L304.7 1137.9L307.9 1137.8L311.1 1137.8L314.2 1137.8L317.4 1137.8L320.7 1137.8L323.9 1137.9L327.2 1137.9L330.5 1138L333.8 1138.1L337.2 1138.2L340.6 1138.3L344 1138.5L347.4 1138.7L350.9 1138.9L354.4 1139.1L358 1139.3L361.6 1139.6L365.2 1139.9L368.9 1140.3L372.6 1140.7L376.5 1141.1L379.7 1141.6L382.9 1142L386.1 1142.5L389.2 1143L392.2 1143.5L395.1 1144L398 1144.6L400.8 1145.2L403.6 1145.8L406.2 1146.5L408.8 1147.2L411.4 1147.9L413.8 1148.7L416.1 1149.5L418.4 1150.3L420.5 1151.2L424.4 1153.1L427.9 1155.2" stroke="#440000"/>
<path d="M466.6 1183.3L462.5 1184.9L458.2 1186.5L453.9 1188L449.4 1189.4L444.9 1190.8L440.3 1192.1L435.6 1193.3L430.9 1194.5L426 1195.7L421.2 1196.8L416.2 1197.8L413.8 1198.4L411.2 1198.9L408.7 1199.4L406.2 1199.9L403.7 1200.3L401.1 1200.8L398.5 1201.3L396 1201.7L393.4 1202.2L390.8 1202.6L388.1 1203L385.5 1203.4L382.9 1203.8L380.2 1204.2L377.6 1204.6L374.9 1205L372.2 1205.4L369.5 1205.7L366.8 1206.1L364.1 1206.4L361.3 1206.8L358.6 1207.1L355.8 1207.4L353.1 1207.8L350.3 1208.1L347.5 1208.4L344.7 1208.7L341.9 1208.9L339.1 1209.2L336.2 1209.5L333.4 1209.7L330.5 1210L327.7 1210.2L324.8 1210.5L321.9 1210.7L319 1210.9L316.1 1211.1L313.2 1211.3L310.3 1211.5L307.3 1211.7L304.4 1211.9L301.4 1212.1L298.4 1212.2L295.4 1212.4L292.4 1212.5L289.4 1212.7L286.4 1212.8L283.4 1212.9L280.3 1213L277.2 1213.1L274.2 1213.2L271.1 1213.3L268 1213.4L264.9 1213.4L261.7 1213.5L258.6 1213.5L255.4 1213.6L252.3 1213.6L249.1 1213.6L245.9 1213.6L242.7 1213.6L239.4 1213.6L236.2 1213.5L232.9 1213.5L229.6 1213.4L226.3 1213.4L223.1 1213.3L219.7 1213.2L216.3 1213.1L212.9 1212.9L209.6 1212.8L206.1 1212.6L202.7 1212.4L199.8 1212.3L196.1 1212.1L192.4 1211.8L188.7 1211.6L185.1 1211.3M107.6 1155.1L111.7 1153.5L116 1151.9L120.3 1150.4L124.8 1149L129.3 1147.6L133.9 1146.3L138.6 1145.1L143.3 1143.9L148.2 1142.7L153 1141.6L158 1140.6L160.4 1140L163 1139.5L165.5 1139L168 1138.5L170.5 1138.1L173.1 1137.6L175.7 1137.1L178.2 1136.7L180.8 1136.2L183.4 1135.8L186.1 1135.4L188.7 1135L191.3 1134.6L194 1134.2L196.6 1133.8L199.3 1133.4L202 1133L204.7 1132.7L207.4 1132.3L210.1 1132L212.9 1131.6L215.6 1131.3L218.4 1131L221.1 1130.6L223.9 1130.3L226.7 1130L229.5 1129.7L232.3 1129.5L235.1 1129.2L238 1128.9L240.8 1128.7L243.7 1128.4L246.5 1128.2L249.4 1127.9L252.3 1127.7L255.2 1127.5L258.1 1127.3L261 1127.1L263.9 1126.9L266.9 1126.7L269.8 1126.5L272.8 1126.3L275.8 1126.2L278.8 1126L281.8 1125.9L284.8 1125.7L287.8 1125.6L290.8 1125.5L293.9 1125.4L297 1125.3L300 1125.2L303.1 1125.1L306.2 1125L309.3 1125L312.5 1124.9L315.6 1124.9L318.8 1124.8L321.9 1124.8L325.1 1124.8L328.3 1124.8L331.5 1124.8L334.8 1124.8L338 1124.9L341.3 1124.9L344.6 1125L347.9 1125L351.1 1125.1L354.5 1125.2L357.9 1125.3L361.3 1125.5L364.6 1125.6L368.1 1125.8L371.5 1126L374.4 1126.1L378.1 1126.3L381.8 1126.6L385.5 1126.8L389.1 1127.1" stroke="#880000"/>
<path d="M394.5 1213.1L390 1213.7L387.3 1214L384.6 1214.4L381.9 1214.7L379.2 1215.1L376.4 1215.4L373.7 1215.7L370.9 1216.1L368.2 1216.4L365.4 1216.7L362.6 1217L359.8 1217.3L357 1217.6L354.2 1217.9L351.4 1218.1L348.6 1218.4L345.7 1218.7L342.9 1218.9L340 1219.2L337.2 1219.4L334.3 1219.7L331.4 1219.9L328.5 1220.1L325.6 1220.3L322.7 1220.6L319.8 1220.8L316.9 1221L313.9 1221.1L311 1221.3L308 1221.5L305.1 1221.7L302.1 1221.8L299.1 1222L296.1 1222.2L293.1 1222.3L290.1 1222.4L287.1 1222.6L284 1222.7L281 1222.8L277.9 1222.9L274.9 1223L271.9 1223.1L268.7 1223.2L265.6 1223.3L262.5 1223.3L259.4 1223.4L256.3 1223.4L253.1 1223.5L250 1223.5L246.8 1223.5L243.6 1223.6L240.4 1223.6L237.2 1223.6L234 1223.6L230.8 1223.5L227.6 1223.5L224.3 1223.5L221 1223.4L217.8 1223.4L214.5 1223.3L211.2 1223.2L207.8 1223.2L204.5 1223L201.1 1222.9M179.7 1125.3L184.2 1124.7L186.9 1124.4L189.6 1124L192.3 1123.7L195 1123.3L197.8 1123L200.5 1122.7L203.3 1122.3L206 1122L208.8 1121.7L211.6 1121.4L214.4 1121.1L217.2 1120.8L220 1120.5L222.8 1120.3L225.6 1120L228.5 1119.7L231.3 1119.5L234.2 1119.2L237 1119L239.9 1118.7L242.8 1118.5L245.7 1118.3L248.6 1118.1L251.5 1117.8L254.4 1117.6L257.3 1117.4L260.3 1117.3L263.2 1117.1L266.2 1116.9L269.1 1116.7L272.1 1116.6L275.1 1116.4L278.1 1116.2L281.1 1116.1L284.1 1116L287.1 1115.8L290.2 1115.7L293.2 1115.6L296.3 1115.5L299.3 1115.4L302.3 1115.3L305.5 1115.2L308.6 1115.1L311.7 1115.1L314.8 1115L317.9 1115L321.1 1114.9L324.2 1114.9L327.4 1114.9L330.6 1114.8L333.8 1114.8L337 1114.8L340.2 1114.8L343.4 1114.9L346.6 1114.9L349.9 1114.9L353.2 1115L356.4 1115L359.7 1115.1L363 1115.2L366.4 1115.2L369.7 1115.4L373.1 1115.5" stroke="#cc0000"/>
<path d="M364.6 1225.4L361.8 1225.7L359 1225.9L356.1 1226.2L353.3 1226.5L350.4 1226.7L347.6 1227L344.7 1227.2L341.8 1227.5L338.9 1227.7L336.1 1227.9L333.2 1228.1L330.3 1228.4L327.3 1228.6L324.4 1228.8L321.5 1229L318.6 1229.2L315.6 1229.3L312.7 1229.5L309.7 1229.7L306.8 1229.9L303.8 1230L300.8 1230.2L297.8 1230.3L294.8 1230.5L291.8 1230.6L288.7 1230.7L285.7 1230.9L282.7 1231L279.6 1231.1L276.6 1231.2L273.5 1231.3L270.4 1231.4L267.4 1231.5L264.3 1231.6L261.2 1231.6L258.1 1231.7L254.9 1231.8L251.8 1231.8L248.7 1231.9L245.5 1231.9L242.4 1231.9L239.2 1232L236 1232L232.8 1232L229.6 1232L226.4 1232L223.2 1232L220 1231.9L216.7 1231.9L213.5 1231.9M209.6 1113L212.4 1112.7L215.2 1112.5L218.1 1112.2L220.9 1111.9L223.8 1111.7L226.6 1111.4L229.5 1111.2L232.4 1110.9L235.3 1110.7L238.1 1110.5L241 1110.3L243.9 1110L246.9 1109.8L249.8 1109.6L252.7 1109.4L255.6 1109.2L258.6 1109.1L261.5 1108.9L264.5 1108.7L267.4 1108.5L270.4 1108.4L273.4 1108.2L276.4 1108.1L279.4 1107.9L282.4 1107.8L285.5 1107.7L288.5 1107.5L291.5 1107.4L294.6 1107.3L297.6 1107.2L300.7 1107.1L303.8 1107L306.8 1106.9L309.9 1106.8L313 1106.8L316.1 1106.7L319.3 1106.6L322.4 1106.6L325.5 1106.5L328.7 1106.5L331.8 1106.5L335 1106.4L338.2 1106.4L341.4 1106.4L344.6 1106.4L347.8 1106.4L351 1106.4L354.2 1106.5L357.5 1106.5L360.7 1106.5" stroke="#ff1100"/>
<path d="M341.7 1234.9L336.6 1235.2L333.7 1235.5L330.7 1235.7L327.8 1235.9L324.9 1236.1L321.9 1236.3L319 1236.4L316.1 1236.6L313.1 1236.8L310.1 1237L307.1 1237.1L304.2 1237.3L301.2 1237.4L298.2 1237.6L295.2 1237.7L292.2 1237.9L289.1 1238L286.1 1238.1L283.1 1238.2L280 1238.4L277 1238.5L273.9 1238.6L270.9 1238.7L267.8 1238.8L264.7 1238.9L261.6 1238.9L258.5 1239L255.4 1239.1L252.3 1239.1L249.2 1239.2L246 1239.2L242.9 1239.3L239.7 1239.3L236.6 1239.3L233.4 1239.4L230.2 1239.4L227 1239.4L223.9 1239.4M232.5 1103.5L237.6 1103.2L240.5 1102.9L243.5 1102.7L246.4 1102.5L249.3 1102.3L252.3 1102.1L255.2 1102L258.1 1101.8L261.1 1101.6L264.1 1101.4L267.1 1101.3L270 1101.1L273 1101L276 1100.8L279 1100.7L282 1100.5L285.1 1100.4L288.1 1100.3L291.1 1100.2L294.2 1100L297.2 1099.9L300.3 1099.8L303.3 1099.7L306.4 1099.6L309.5 1099.5L312.6 1099.5L315.7 1099.4L318.8 1099.3L321.9 1099.3L325 1099.2L328.2 1099.2L331.3 1099.1L334.5 1099.1L337.6 1099.1L340.8 1099L344 1099L347.2 1099L350.4 1099" stroke="#ff5500"/>
<path d="M322.4 1242.8L318.5 1243.1L315.6 1243.2L312.6 1243.4L309.6 1243.6L306.7 1243.7L303.7 1243.9L300.7 1244L297.7 1244.2L294.7 1244.3L291.7 1244.5L288.6 1244.6L285.6 1244.7L282.6 1244.8L279.5 1245L276.5 1245.1L273.4 1245.2L270.4 1245.3L267.3 1245.4L264.2 1245.5L261.1 1245.5L258 1245.6L254.9 1245.7L251.8 1245.8L248.7 1245.8L245.6 1245.9L242.4 1245.9L239.3 1246L236.2 1246L233 1246M251.8 1095.6L255.7 1095.3L258.6 1095.2L261.6 1095L264.6 1094.8L267.5 1094.7L270.5 1094.5L273.5 1094.4L276.5 1094.2L279.5 1094.1L282.5 1093.9L285.6 1093.8L288.6 1093.7L291.6 1093.6L294.7 1093.4L297.7 1093.3L300.8 1093.2L303.8 1093.1L306.9 1093L310 1092.9L313.1 1092.9L316.2 1092.8L319.3 1092.7L322.4 1092.6L325.5 1092.6L328.6 1092.5L331.8 1092.5L334.9 1092.4L338 1092.4L341.2 1092.4" stroke="#ff9900"/>
<path d="M305.3 1249.9L300.5 1250.1L296.5 1250.3L293.5 1250.4L290.5 1250.6L287.4 1250.7L284.4 1250.8L281.4 1250.9L278.3 1251.1L275.3 1251.2L272.2 1251.3L269.2 1251.4L266.1 1251.5L263 1251.5L259.9 1251.6L256.8 1251.7L253.7 1251.8L250.6 1251.9L247.5 1251.9L244.4 1252L241.3 1252M268.9 1088.5L273.7 1088.3L277.7 1088.1L280.7 1088L283.7 1087.8L286.8 1087.7L289.8 1087.6L292.8 1087.5L295.9 1087.3L298.9 1087.2L302 1087.1L305 1087L308.1 1086.9L311.2 1086.9L314.3 1086.8L317.4 1086.7L320.5 1086.6L323.6 1086.5L326.7 1086.5L329.8 1086.4L332.9 1086.4" stroke="#ffdd00"/>
<path d="M289.9 1256.2L285.7 1256.4L282.7 1256.5L279.6 1256.6L276.6 1256.7L273.5 1256.9L270.5 1257L267.4 1257.1L264.3 1257.1L261.3 1257.2L258.2 1257.3L255.1 1257.4L252 1257.5L248.9 1257.5M284.3 1082.2L288.5 1082L291.5 1081.9L294.6 1081.8L297.6 1081.7L300.7 1081.5L303.7 1081.4L306.8 1081.3L309.9 1081.3L312.9 1081.2L316 1081.1L319.1 1081L322.2 1080.9L325.3 1080.9" stroke="#ffff33"/>
<path d="M275.8 1262.1L271.3 1262.2L268.3 1262.3L265.2 1262.4L262.1 1262.5L259 1262.6L255.9 1262.7M298.4 1076.3L302.9 1076.2L305.9 1076.1L309 1076L312.1 1075.9L315.2 1075.8L318.3 1075.7" stroke="#ffff99"/>
</g>
<g stroke-width="1" stroke-linejoin="round"><path d="M109.5 1109.9Q211.5 1070.2 313.5 834.5L311.6 825.8Q209.6 1064 107.6 1106.1z" fill="url(#s161)" stroke="url(#s161)"/><path d="M111.5 1113.5Q213.5 1076.3 315.5 843.1L313.5 834.5Q211.5 1070.2 109.5 1109.9z" fill="url(#s162)" stroke="url(#s162)"/><path d="M113.4 1117.1Q215.4 1082.3 317.4 851.5L315.5 843.1Q213.5 1076.3 111.5 1113.5z" fill="url(#s163)" stroke="url(#s163)"/><path d="M115.3 1120.5Q217.3 1088.2 319.4 859.9L317.4 851.5Q215.4 1082.3 113.4 1117.1z" fill="url(#s164)" stroke="url(#s164)"/><path d="M117.3 1123.8Q219.3 1094 321.3 868.1L319.4 859.9Q217.3 1088.2 115.3 1120.5z" fill="url(#s165)" stroke="url(#s165)"/><path d="M119.2 1127Q221.2 1099.6 323.2 876.1L321.3 868.1Q219.3 1094 117.3 1123.8z" fill="url(#s166)" stroke="url(#s166)"/><path d="M121.2 1130.1Q223.2 1105.1 325.2 884.1L323.2 876.1Q221.2 1099.6 119.2 1127z" fill="url(#s167)" stroke="url(#s167)"/><path d="M123.1 1133Q225.1 1110.5 327.1 891.9L325.2 884.1Q223.2 1105.1 121.2 1130.1z" fill="url(#s168)" stroke="url(#s168)"/><path d="M125 1135.8Q227 1115.8 329 899.7L327.1 891.9Q225.1 1110.5 123.1 1133z" fill="url(#s169)" stroke="url(#s169)"/><path d="M127 1138.5Q229 1120.9 331 907.3L329 899.7Q227 1115.8 125 1135.8z" fill="url(#s170)" stroke="url(#s170)"/><path d="M128.9 1141.1Q230.9 1125.9 332.9 914.7L331 907.3Q229 1120.9 127 1138.5z" fill="url(#s171)" stroke="url(#s171)"/><path d="M130.8 1143.5Q232.8 1130.8 334.9 922.1L332.9 914.7Q230.9 1125.9 128.9 1141.1z" fill="url(#s172)" stroke="url(#s172)"/><path d="M132.8 1145.9Q234.8 1135.6 336.8 929.3L334.9 922.1Q232.8 1130.8 130.8 1143.5z" fill="url(#s173)" stroke="url(#s173)"/><path d="M134.7 1148.1Q236.7 1140.3 338.7 936.4L336.8 929.3Q234.8 1135.6 132.8 1145.9z" fill="url(#s174)" stroke="url(#s174)"/><path d="M136.7 1150.1Q238.7 1144.8 340.7 943.4L338.7 936.4Q236.7 1140.3 134.7 1148.1z" fill="url(#s175)" stroke="url(#s175)"/><path d="M138.6 1152.1Q240.6 1149.2 342.6 950.2L340.7 943.4Q238.7 1144.8 136.7 1150.1z" fill="url(#s176)" stroke="url(#s176)"/><path d="M140.5 1153.9Q242.5 1153.5 344.5 957L342.6 950.2Q240.6 1149.2 138.6 1152.1z" fill="url(#s177)" stroke="url(#s177)"/><path d="M142.5 1155.6Q244.5 1157.7 346.5 963.6L344.5 957Q242.5 1153.5 140.5 1153.9z" fill="url(#s178)" stroke="url(#s178)"/><path d="M144.4 1157.2Q246.4 1161.7 348.4 970.1L346.5 963.6Q244.5 1157.7 142.5 1155.6z" fill="url(#s179)" stroke="url(#s179)"/><path d="M146.3 1158.7Q248.3 1165.6 350.4 976.5L348.4 970.1Q246.4 1161.7 144.4 1157.2z" fill="url(#s180)" stroke="url(#s180)"/><path d="M148.3 1160Q250.3 1169.4 352.3 982.7L350.4 976.5Q248.3 1165.6 146.3 1158.7z" fill="url(#s181)" stroke="url(#s181)"/><path d="M150.2 1161.3Q252.2 1173.1 354.2 988.8L352.3 982.7Q250.3 1169.4 148.3 1160z" fill="url(#s182)" stroke="url(#s182)"/><path d="M152.2 1162.4Q254.2 1176.6 356.2 994.8L354.2 988.8Q252.2 1173.1 150.2 1161.3z" fill="url(#s183)" stroke="url(#s183)"/><path d="M154.1 1163.3Q256.1 1180.1 358.1 1000.7L356.2 994.8Q254.2 1176.6 152.2 1162.4z" fill="url(#s184)" stroke="url(#s184)"/><path d="M156 1164.2Q258 1183.4 360 1006.5L358.1 1000.7Q256.1 1180.1 154.1 1163.3z" fill="url(#s185)" stroke="url(#s185)"/><path d="M158 1164.9Q260 1186.5 362 1012.1L360 1006.5Q258 1183.4 156 1164.2z" fill="url(#s186)" stroke="url(#s186)"/><path d="M159.9 1165.5Q261.9 1189.6 363.9 1017.6L362 1012.1Q260 1186.5 158 1164.9z" fill="url(#s187)" stroke="url(#s187)"/><path d="M161.8 1166Q263.9 1192.5 365.9 1023L363.9 1017.6Q261.9 1189.6 159.9 1165.5z" fill="url(#s188)" stroke="url(#s188)"/><path d="M163.8 1166.4Q265.8 1195.4 367.8 1028.2L365.9 1023Q263.9 1192.5 161.8 1166z" fill="url(#s189)" stroke="url(#s189)"/><path d="M165.7 1166.6Q267.7 1198 369.7 1033.4L367.8 1028.2Q265.8 1195.4 163.8 1166.4z" fill="url(#s190)" stroke="url(#s190)"/><path d="M167.7 1166.7Q269.7 1200.6 371.7 1038.4L369.7 1033.4Q267.7 1198 165.7 1166.6z" fill="url(#s191)" stroke="url(#s191)"/><path d="M169.6 1166.7Q271.6 1203.1 373.6 1043.3L371.7 1038.4Q269.7 1200.6 167.7 1166.7z" fill="url(#s192)" stroke="url(#s192)"/><path d="M171.5 1166.6Q273.5 1205.4 375.5 1048.1L373.6 1043.3Q271.6 1203.1 169.6 1166.7z" fill="url(#s193)" stroke="url(#s193)"/><path d="M173.5 1166.4Q275.5 1207.6 377.5 1052.7L375.5 1048.1Q273.5 1205.4 171.5 1166.6z" fill="url(#s194)" stroke="url(#s194)"/><path d="M175.4 1166Q277.4 1209.7 379.4 1057.3L377.5 1052.7Q275.5 1207.6 173.5 1166.4z" fill="url(#s195)" stroke="url(#s195)"/><path d="M177.3 1165.5Q279.4 1211.6 381.4 1061.7L379.4 1057.3Q277.4 1209.7 175.4 1166z" fill="url(#s196)" stroke="url(#s196)"/><path d="M179.3 1164.9Q281.3 1213.5 383.3 1066L381.4 1061.7Q279.4 1211.6 177.3 1165.5z" fill="url(#s197)" stroke="url(#s197)"/><path d="M181.2 1164.1Q283.2 1215.2 385.2 1070.1L383.3 1066Q281.3 1213.5 179.3 1164.9z" fill="url(#s198)" stroke="url(#s198)"/><path d="M183.2 1163.3Q285.2 1216.8 387.2 1074.2L385.2 1070.1Q283.2 1215.2 181.2 1164.1z" fill="url(#s199)" stroke="url(#s199)"/><path d="M185.1 1162.3Q287.1 1218.2 389.1 1078.1L387.2 1074.2Q285.2 1216.8 183.2 1163.3z" fill="url(#s200)" stroke="url(#s200)"/><path d="M187 1161.2Q289 1219.6 391 1081.9L389.1 1078.1Q287.1 1218.2 185.1 1162.3z" fill="url(#s201)" stroke="url(#s201)"/><path d="M189 1159.9Q291 1220.8 393 1085.5L391 1081.9Q289 1219.6 187 1161.2z" fill="url(#s202)" stroke="url(#s202)"/><path d="M190.9 1158.6Q292.9 1221.9 394.9 1089.1L393 1085.5Q291 1220.8 189 1159.9z" fill="url(#s203)" stroke="url(#s203)"/><path d="M192.9 1157.1Q294.9 1222.9 396.9 1092.5L394.9 1089.1Q292.9 1221.9 190.9 1158.6z" fill="url(#s204)" stroke="url(#s204)"/><path d="M194.8 1155.5Q296.8 1223.7 398.8 1095.8L396.9 1092.5Q294.9 1222.9 192.9 1157.1z" fill="url(#s205)" stroke="url(#s205)"/><path d="M196.7 1153.8Q298.7 1224.4 400.7 1099L398.8 1095.8Q296.8 1223.7 194.8 1155.5z" fill="url(#s206)" stroke="url(#s206)"/><path d="M198.7 1152Q300.7 1225.1 402.7 1102.1L400.7 1099Q298.7 1224.4 196.7 1153.8z" fill="url(#s207)" stroke="url(#s207)"/><path d="M200.6 1150Q302.6 1225.5 404.6 1105L402.7 1102.1Q300.7 1225.1 198.7 1152z" fill="url(#s208)" stroke="url(#s208)"/><path d="M202.5 1147.9Q304.5 1225.9 406.5 1107.8L404.6 1105Q302.6 1225.5 200.6 1150z" fill="url(#s209)" stroke="url(#s209)"/><path d="M204.5 1145.7Q306.5 1226.1 408.5 1110.5L406.5 1107.8Q304.5 1225.9 202.5 1147.9z" fill="url(#s210)" stroke="url(#s210)"/><path d="M206.4 1143.4Q308.4 1226.3 410.4 1113.1L408.5 1110.5Q306.5 1226.1 204.5 1145.7z" fill="url(#s211)" stroke="url(#s211)"/><path d="M208.4 1140.9Q310.4 1226.3 412.4 1115.5L410.4 1113.1Q308.4 1226.3 206.4 1143.4z" fill="url(#s212)" stroke="url(#s212)"/><path d="M210.3 1138.3Q312.3 1226.1 414.3 1117.9L412.4 1115.5Q310.4 1226.3 208.4 1140.9z" fill="url(#s213)" stroke="url(#s213)"/><path d="M212.2 1135.6Q314.2 1225.9 416.2 1120.1L414.3 1117.9Q312.3 1226.1 210.3 1138.3z" fill="url(#s214)" stroke="url(#s214)"/><path d="M214.2 1132.8Q316.2 1225.5 418.2 1122.1L416.2 1120.1Q314.2 1225.9 212.2 1135.6z" fill="url(#s215)" stroke="url(#s215)"/><path d="M216.1 1129.9Q318.1 1225 420.1 1124.1L418.2 1122.1Q316.2 1225.5 214.2 1132.8z" fill="url(#s216)" stroke="url(#s216)"/><path d="M218 1126.8Q320 1224.4 422 1125.9L420.1 1124.1Q318.1 1225 216.1 1129.9z" fill="url(#s217)" stroke="url(#s217)"/><path d="M220 1123.6Q322 1223.7 424 1127.6L422 1125.9Q320 1224.4 218 1126.8z" fill="url(#s218)" stroke="url(#s218)"/><path d="M221.9 1120.3Q323.9 1222.8 425.9 1129.2L424 1127.6Q322 1223.7 220 1123.6z" fill="url(#s219)" stroke="url(#s219)"/><path d="M223.9 1116.9Q325.9 1221.8 427.9 1130.7L425.9 1129.2Q323.9 1222.8 221.9 1120.3z" fill="url(#s220)" stroke="url(#s220)"/><path d="M225.8 1113.3Q327.8 1220.7 429.8 1132L427.9 1130.7Q325.9 1221.8 223.9 1116.9z" fill="url(#s221)" stroke="url(#s221)"/><path d="M227.7 1109.6Q329.7 1219.5 431.7 1133.3L429.8 1132Q327.8 1220.7 225.8 1113.3z" fill="url(#s222)" stroke="url(#s222)"/><path d="M229.7 1105.8Q331.7 1218.1 433.7 1134.4L431.7 1133.3Q329.7 1219.5 227.7 1109.6z" fill="url(#s223)" stroke="url(#s223)"/><path d="M231.6 1101.9Q333.6 1216.6 435.6 1135.3L433.7 1134.4Q331.7 1218.1 229.7 1105.8z" fill="url(#s224)" stroke="url(#s224)"/><path d="M233.5 1097.8Q335.5 1215 437.5 1136.2L435.6 1135.3Q333.6 1216.6 231.6 1101.9z" fill="url(#s225)" stroke="url(#s225)"/><path d="M235.5 1093.7Q337.5 1213.3 439.5 1136.9L437.5 1136.2Q335.5 1215 233.5 1097.8z" fill="url(#s226)" stroke="url(#s226)"/><path d="M237.4 1089.4Q339.4 1211.5 441.4 1137.5L439.5 1136.9Q337.5 1213.3 235.5 1093.7z" fill="url(#s227)" stroke="url(#s227)"/><path d="M239.4 1085Q341.4 1209.5 443.4 1138L441.4 1137.5Q339.4 1211.5 237.4 1089.4z" fill="url(#s228)" stroke="url(#s228)"/><path d="M241.3 1080.4Q343.3 1207.4 445.3 1138.4L443.4 1138Q341.4 1209.5 239.4 1085z" fill="url(#s229)" stroke="url(#s229)"/><path d="M243.2 1075.8Q345.2 1205.2 447.2 1138.6L445.3 1138.4Q343.3 1207.4 241.3 1080.4z" fill="url(#s230)" stroke="url(#s230)"/><path d="M245.2 1071Q347.2 1202.9 449.2 1138.7L447.2 1138.6Q345.2 1205.2 243.2 1075.8z" fill="url(#s231)" stroke="url(#s231)"/><path d="M247.1 1066.1Q349.1 1200.4 451.1 1138.7L449.2 1138.7Q347.2 1202.9 245.2 1071z" fill="url(#s232)" stroke="url(#s232)"/><path d="M249 1061Q351 1197.9 453 1138.6L451.1 1138.7Q349.1 1200.4 247.1 1066.1z" fill="url(#s233)" stroke="url(#s233)"/><path d="M251 1055.9Q353 1195.2 455 1138.4L453 1138.6Q351 1197.9 249 1061z" fill="url(#s234)" stroke="url(#s234)"/><path d="M252.9 1050.6Q354.9 1192.3 456.9 1138L455 1138.4Q353 1195.2 251 1055.9z" fill="url(#s235)" stroke="url(#s235)"/><path d="M254.9 1045.2Q356.9 1189.4 458.9 1137.5L456.9 1138Q354.9 1192.3 252.9 1050.6z" fill="url(#s236)" stroke="url(#s236)"/><path d="M256.8 1039.7Q358.8 1186.3 460.8 1136.9L458.9 1137.5Q356.9 1189.4 254.9 1045.2z" fill="url(#s237)" stroke="url(#s237)"/><path d="M258.7 1034.1Q360.7 1183.1 462.7 1136.1L460.8 1136.9Q358.8 1186.3 256.8 1039.7z" fill="url(#s238)" stroke="url(#s238)"/><path d="M260.7 1028.3Q362.7 1179.8 464.7 1135.3L462.7 1136.1Q360.7 1183.1 258.7 1034.1z" fill="url(#s239)" stroke="url(#s239)"/><path d="M262.6 1022.4Q364.6 1176.4 466.6 1134.3L464.7 1135.3Q362.7 1179.8 260.7 1028.3z" fill="url(#s240)" stroke="url(#s240)"/></g>
<path d="M107.6 910L107.6 1155.1L262.6 1267.5L466.6 1183.3M262.6 1267.5l4.6 3.4M262.6 1267.5l-5.2 2.3M364.6 1225.4l4.6 3.4M185.1 1211.3l-5.2 2.3M466.6 1183.3l4.6 3.4M107.6 1155.1l-5.2 2.3M107.6 1155.1l-5 -2.2M107.6 1106.1l-5 -2.2M107.6 1057.1l-5 -2.2M107.6 1008l-5 -2.2M107.6 959l-5 -2.2M107.6 910l-5 -2.2" stroke="#262626" stroke-width="1.4" fill="none" stroke-linejoin="round"/>
<text transform="translate(275.1 1298.8) scale(1 1.08)" font-size="21" fill="#262626">-100</text>
<text transform="translate(248.6 1297) scale(1 1.08)" font-size="21" text-anchor="end" fill="#262626">-100</text>
<text transform="translate(377.1 1256.7) scale(1 1.08)" font-size="21" fill="#262626">0</text>
<text transform="translate(171.1 1240.8) scale(1 1.08)" font-size="21" text-anchor="end" fill="#262626">0</text>
<text transform="translate(479.1 1214.6) scale(1 1.08)" font-size="21" fill="#262626">100</text>
<text transform="translate(93.6 1185.5) scale(1 1.08)" font-size="21" text-anchor="end" fill="#262626">100</text>
<text transform="translate(94.6 1156.1) scale(1 1.08)" font-size="21" text-anchor="end" fill="#262626">0</text>
<text transform="translate(94.6 1107.1) scale(1 1.08)" font-size="21" text-anchor="end" fill="#262626">1</text>
<text transform="translate(94.6 1058.1) scale(1 1.08)" font-size="21" text-anchor="end" fill="#262626">2</text>
<text transform="translate(94.6 1009) scale(1 1.08)" font-size="21" text-anchor="end" fill="#262626">3</text>
<text transform="translate(94.6 960) scale(1 1.08)" font-size="21" text-anchor="end" fill="#262626">4</text>
<text transform="translate(94.6 911) scale(1 1.08)" font-size="21" text-anchor="end" fill="#262626">5</text>
<text x="47.4" y="886.5" font-size="24" fill="#707070">×</text>
<text transform="translate(65 884.7) scale(1 1.1)" font-size="21" fill="#262626">10</text>
<text transform="translate(88.8 873.3) scale(1 1.12)" font-size="17" fill="#262626">4</text>
<text x="392.6" y="1311.9" font-size="24" fill="#262626">x</text>
<text transform="translate(405.8 1323.6) scale(1 1.05)" font-size="19" fill="#262626">1</text>
<text x="123.1" y="1304.8" font-size="24" fill="#262626">x</text>
<text transform="translate(136.3 1317.1) scale(1 1.05)" font-size="19" fill="#262626">2</text>
<g transform="translate(56.6 1105.1) rotate(-90)" font-size="24" fill="#262626"><text x="0" y="0">F3(</text><text x="48.8" y="0">x</text><text x="61.2" y="11.3" font-size="17.5">1</text><text x="83.5" y="0">,</text><text x="98" y="0">x</text><text x="111.8" y="11.3" font-size="17.5">2</text><text x="133.5" y="0">)</text></g>
<text x="287.6" y="813" font-size="24.5" text-anchor="middle" font-weight="bold" fill="#111">Parameter space</text>
<path d="M1273.3 1267.5L1122.8 1154.9M1273.3 1267.5L1470 1181.3M1371.7 1224.4L1221.2 1111.8M1198 1211.2L1394.8 1125M1470 1181.3L1319.5 1068.7M1122.8 1154.9L1319.5 1068.7M1122.8 1154.9L1122.8 909.8M1221.2 1111.8L1221.2 866.7M1319.5 1068.7L1319.5 823.6M1122.8 1154.9L1319.5 1068.7M1122.8 1032.3L1319.5 946.1M1122.8 909.8L1319.5 823.6M1470 1181.3L1470 936.2M1394.8 1125L1394.8 879.9M1319.5 1068.7L1319.5 823.6M1470 1181.3L1319.5 1068.7M1470 1058.8L1319.5 946.1M1470 936.2L1319.5 823.6" stroke="#dcdcdc" stroke-width="1.1" fill="none"/>
<g fill="none" stroke-width="1.6">
<path d="M1295.4 1176.7L1292 1175.4L1289 1173.1L1286 1170.9L1282.9 1168.6L1281.7 1166.4L1285.6 1164.7L1289.6 1163L1293.5 1161.3L1297.4 1159.5L1300.8 1160.8L1303.8 1163.1L1306.8 1165.3L1309.9 1167.6L1311.1 1169.8L1307.2 1171.5L1303.2 1173.2L1299.3 1174.9L1295.4 1176.7" stroke="#3e0000"/>
<path d="M1292.4 1186.1L1289.1 1183.8L1286 1181.6L1283 1179.3L1280 1177.1L1277 1174.8L1274 1172.6L1271 1170.3L1268 1168.1L1265 1165.8L1267 1164.8L1270.9 1163L1274.9 1161.3L1278.8 1159.6L1282.7 1157.9L1286.7 1156.1L1290.6 1154.4L1294.5 1152.7L1298.5 1151L1300.7 1150.1L1303.7 1152.4L1306.8 1154.6L1309.8 1156.9L1312.8 1159.1L1315.8 1161.4L1318.8 1163.6L1321.8 1165.9L1324.8 1168.1L1327.8 1170.4L1325.8 1171.4L1321.9 1173.2L1317.9 1174.9L1314 1176.6L1310.1 1178.3L1306.1 1180.1L1302.2 1181.8L1298.3 1183.5L1294.3 1185.2L1292.4 1186.1" stroke="#7c0000"/>
<path d="M1291.4 1194.7L1287.6 1193.4L1284.6 1191.1L1281.6 1188.9L1278.6 1186.6L1275.6 1184.4L1272.6 1182.1L1269.6 1179.9L1266.6 1177.6L1263.6 1175.4L1260.5 1173.1L1257.5 1170.8L1254.5 1168.6L1251.5 1166.3L1250.3 1164L1254.2 1162.2L1258.2 1160.5L1262.1 1158.8L1266 1157.1L1270 1155.3L1273.9 1153.6L1277.8 1151.9L1281.8 1150.2L1285.7 1148.4L1289.6 1146.7L1293.6 1145L1297.5 1143.3L1301.4 1141.5L1305.2 1142.8L1308.2 1145.1L1311.2 1147.3L1314.2 1149.6L1317.2 1151.8L1320.2 1154.1L1323.2 1156.3L1326.2 1158.6L1329.2 1160.8L1332.3 1163.1L1335.3 1165.4L1338.3 1167.6L1341.3 1169.9L1342.5 1172.2L1338.6 1174L1334.6 1175.7L1330.7 1177.4L1326.8 1179.1L1322.8 1180.9L1318.9 1182.6L1315 1184.3L1311 1186L1307.1 1187.8L1303.2 1189.5L1299.2 1191.2L1295.3 1192.9L1291.4 1194.7" stroke="#b90000"/>
<path d="M1288.4 1204.1L1286.2 1202.9L1283.2 1200.7L1280.2 1198.4L1277.2 1196.2L1274.2 1193.9L1271.2 1191.7L1268.2 1189.4L1265.2 1187.2L1262.1 1184.9L1259.1 1182.6L1256.1 1180.4L1253.1 1178.1L1250.1 1175.9L1247.1 1173.6L1244.1 1171.4L1241.1 1169.1L1238.1 1166.9L1235.1 1164.6L1237.6 1161.4L1241.5 1159.7L1245.4 1158L1249.4 1156.2L1253.3 1154.5L1257.2 1152.8L1261.2 1151.1L1265.1 1149.4L1269 1147.6L1273 1145.9L1276.9 1144.2L1280.8 1142.5L1284.8 1140.7L1288.7 1139L1292.6 1137.3L1296.6 1135.6L1300.5 1133.8L1304.4 1132.1L1306.6 1133.3L1309.6 1135.5L1312.6 1137.8L1315.6 1140L1318.6 1142.3L1321.6 1144.5L1324.6 1146.8L1327.6 1149L1330.7 1151.3L1333.7 1153.6L1336.7 1155.8L1339.7 1158.1L1342.7 1160.3L1345.7 1162.6L1348.7 1164.8L1351.7 1167.1L1354.7 1169.3L1357.7 1171.6L1355.2 1174.8L1351.3 1176.5L1347.4 1178.2L1343.4 1180L1339.5 1181.7L1335.6 1183.4L1331.6 1185.1L1327.7 1186.8L1323.8 1188.6L1319.8 1190.3L1315.9 1192L1312 1193.7L1308 1195.5L1304.1 1197.2L1300.2 1198.9L1296.2 1200.6L1292.3 1202.4L1288.4 1204.1" stroke="#f70000"/>
<path d="M1287.3 1212.7L1283.3 1211.3L1280.3 1209.1L1277.3 1206.8L1274.3 1204.6L1271.3 1202.3L1268.3 1200.1L1265.2 1197.8L1262.2 1195.6L1259.2 1193.3L1256.2 1191.1L1253.2 1188.8L1250.2 1186.6L1247.2 1184.3L1244.2 1182.1L1241.2 1179.8L1238.2 1177.6L1235.1 1175.3L1232.1 1173.1L1229.1 1170.8L1226.1 1168.5L1223.1 1166.3L1220.1 1164L1218.9 1161.5L1222.9 1159.7L1226.8 1158L1230.7 1156.3L1234.7 1154.6L1238.6 1152.9L1242.5 1151.1L1246.5 1149.4L1250.4 1147.7L1254.3 1146L1258.3 1144.2L1262.2 1142.5L1266.1 1140.8L1270.1 1139.1L1274 1137.3L1277.9 1135.6L1281.9 1133.9L1285.8 1132.2L1289.7 1130.4L1293.7 1128.7L1297.6 1127L1301.5 1125.3L1305.5 1123.5L1309.5 1124.9L1312.5 1127.1L1315.5 1129.4L1318.5 1131.6L1321.5 1133.9L1324.5 1136.1L1327.6 1138.4L1330.6 1140.6L1333.6 1142.9L1336.6 1145.1L1339.6 1147.4L1342.6 1149.6L1345.6 1151.9L1348.6 1154.1L1351.6 1156.4L1354.6 1158.6L1357.7 1160.9L1360.7 1163.1L1363.7 1165.4L1366.7 1167.7L1369.7 1169.9L1372.7 1172.2L1373.9 1174.7L1369.9 1176.5L1366 1178.2L1362.1 1179.9L1358.1 1181.6L1354.2 1183.3L1350.3 1185.1L1346.3 1186.8L1342.4 1188.5L1338.5 1190.2L1334.5 1192L1330.6 1193.7L1326.7 1195.4L1322.7 1197.1L1318.8 1198.9L1314.9 1200.6L1310.9 1202.3L1307 1204L1303.1 1205.8L1299.1 1207.5L1295.2 1209.2L1291.3 1210.9L1287.3 1212.7" stroke="#ff3600"/>
<path d="M1284.3 1222.1L1281.9 1220.9L1278.9 1218.6L1275.9 1216.4L1272.9 1214.1L1269.8 1211.9L1266.8 1209.6L1263.8 1207.4L1260.8 1205.1L1257.8 1202.9L1254.8 1200.6L1251.8 1198.4L1248.8 1196.1L1245.8 1193.9L1242.8 1191.6L1239.7 1189.4L1236.7 1187.1L1233.7 1184.9L1230.7 1182.6L1227.7 1180.3L1224.7 1178.1L1221.7 1175.8L1218.7 1173.6L1215.7 1171.3L1212.7 1169.1L1209.6 1166.8L1206.6 1164.6L1203.6 1162.3L1202.2 1160.7L1206.2 1158.9L1210.1 1157.2L1214 1155.5L1218 1153.8L1221.9 1152L1225.8 1150.3L1229.8 1148.6L1233.7 1146.9L1237.7 1145.1L1241.6 1143.4L1245.5 1141.7L1249.5 1140L1253.4 1138.3L1257.3 1136.5L1261.3 1134.8L1265.2 1133.1L1269.1 1131.4L1273.1 1129.6L1277 1127.9L1280.9 1126.2L1284.9 1124.5L1288.8 1122.7L1292.7 1121L1296.7 1119.3L1300.6 1117.6L1304.5 1115.8L1308.5 1114.1L1310.9 1115.3L1313.9 1117.6L1316.9 1119.8L1319.9 1122.1L1323 1124.3L1326 1126.6L1329 1128.8L1332 1131.1L1335 1133.3L1338 1135.6L1341 1137.8L1344 1140.1L1347 1142.3L1350 1144.6L1353.1 1146.8L1356.1 1149.1L1359.1 1151.3L1362.1 1153.6L1365.1 1155.9L1368.1 1158.1L1371.1 1160.4L1374.1 1162.6L1377.1 1164.9L1380.1 1167.1L1383.2 1169.4L1386.2 1171.6L1389.2 1173.9L1390.6 1175.5L1386.6 1177.3L1382.7 1179L1378.8 1180.7L1374.8 1182.4L1370.9 1184.2L1367 1185.9L1363 1187.6L1359.1 1189.3L1355.1 1191.1L1351.2 1192.8L1347.3 1194.5L1343.3 1196.2L1339.4 1197.9L1335.5 1199.7L1331.5 1201.4L1327.6 1203.1L1323.7 1204.8L1319.7 1206.6L1315.8 1208.3L1311.9 1210L1307.9 1211.7L1304 1213.5L1300.1 1215.2L1296.1 1216.9L1292.2 1218.6L1288.3 1220.4L1284.3 1222.1" stroke="#ff7400"/>
<path d="M1283.3 1230.6L1280.5 1230.4L1277.5 1228.2L1274.4 1225.9L1271.4 1223.7L1268.4 1221.4L1265.4 1219.2L1262.4 1216.9L1259.4 1214.7L1256.4 1212.4L1253.4 1210.2L1250.4 1207.9L1247.4 1205.7L1244.3 1203.4L1241.3 1201.2L1238.3 1198.9L1235.3 1196.7L1232.3 1194.4L1229.3 1192.1L1226.3 1189.9L1223.3 1187.6L1220.3 1185.4L1217.3 1183.1L1214.2 1180.9L1211.2 1178.6L1208.2 1176.4L1205.2 1174.1L1202.2 1171.9L1199.2 1169.6L1196.2 1167.4L1193.2 1165.1L1190.2 1162.9L1187.2 1160.6L1189.5 1158.1L1193.4 1156.4L1197.4 1154.7L1201.3 1153L1205.2 1151.2L1209.2 1149.5L1213.1 1147.8L1217 1146.1L1221 1144.3L1224.9 1142.6L1228.8 1140.9L1232.8 1139.2L1236.7 1137.4L1240.6 1135.7L1244.6 1134L1248.5 1132.3L1252.4 1130.5L1256.4 1128.8L1260.3 1127.1L1264.2 1125.4L1268.2 1123.7L1272.1 1121.9L1276.1 1120.2L1280 1118.5L1283.9 1116.8L1287.9 1115L1291.8 1113.3L1295.7 1111.6L1299.7 1109.9L1303.6 1108.1L1307.5 1106.4L1312.3 1105.8L1315.3 1108L1318.4 1110.3L1321.4 1112.5L1324.4 1114.8L1327.4 1117L1330.4 1119.3L1333.4 1121.5L1336.4 1123.8L1339.4 1126L1342.4 1128.3L1345.4 1130.5L1348.5 1132.8L1351.5 1135L1354.5 1137.3L1357.5 1139.5L1360.5 1141.8L1363.5 1144.1L1366.5 1146.3L1369.5 1148.6L1372.5 1150.8L1375.5 1153.1L1378.6 1155.3L1381.6 1157.6L1384.6 1159.8L1387.6 1162.1L1390.6 1164.3L1393.6 1166.6L1396.6 1168.8L1399.6 1171.1L1402.6 1173.3L1405.6 1175.6L1403.3 1178.1L1399.4 1179.8L1395.4 1181.5L1391.5 1183.2L1387.6 1185L1383.6 1186.7L1379.7 1188.4L1375.8 1190.1L1371.8 1191.9L1367.9 1193.6L1364 1195.3L1360 1197L1356.1 1198.8L1352.2 1200.5L1348.2 1202.2L1344.3 1203.9L1340.4 1205.7L1336.4 1207.4L1332.5 1209.1L1328.6 1210.8L1324.6 1212.5L1320.7 1214.3L1316.7 1216L1312.8 1217.7L1308.9 1219.4L1304.9 1221.2L1301 1222.9L1297.1 1224.6L1293.1 1226.3L1289.2 1228.1L1285.3 1229.8L1283.3 1230.6" stroke="#ffb200"/>
<path d="M1280.3 1240.1L1277.5 1238.9L1274.5 1236.6L1271.5 1234.4L1268.5 1232.1L1265.5 1229.8L1262.5 1227.6L1259.5 1225.3L1256.5 1223.1L1253.5 1220.8L1250.5 1218.6L1247.4 1216.3L1244.4 1214.1L1241.4 1211.8L1238.4 1209.6L1235.4 1207.3L1232.4 1205.1L1229.4 1202.8L1226.4 1200.6L1223.4 1198.3L1220.4 1196.1L1217.3 1193.8L1214.3 1191.6L1211.3 1189.3L1208.3 1187.1L1205.3 1184.8L1202.3 1182.6L1199.3 1180.3L1196.3 1178.1L1193.3 1175.8L1190.3 1173.5L1187.2 1171.3L1184.2 1169L1181.2 1166.8L1178.2 1164.5L1175.2 1162.3L1172.2 1160L1170.9 1158.2L1174.8 1156.5L1178.7 1154.7L1182.7 1153L1186.6 1151.3L1190.5 1149.6L1194.5 1147.8L1198.4 1146.1L1202.3 1144.4L1206.3 1142.7L1210.2 1140.9L1214.1 1139.2L1218.1 1137.5L1222 1135.8L1225.9 1134.1L1229.9 1132.3L1233.8 1130.6L1237.7 1128.9L1241.7 1127.2L1245.6 1125.4L1249.5 1123.7L1253.5 1122L1257.4 1120.3L1261.3 1118.5L1265.3 1116.8L1269.2 1115.1L1273.1 1113.4L1277.1 1111.6L1281 1109.9L1284.9 1108.2L1288.9 1106.5L1292.8 1104.7L1296.7 1103L1300.7 1101.3L1304.6 1099.6L1308.6 1097.8L1312.5 1096.1L1315.3 1097.3L1318.3 1099.6L1321.3 1101.8L1324.3 1104.1L1327.3 1106.4L1330.3 1108.6L1333.3 1110.9L1336.3 1113.1L1339.3 1115.4L1342.3 1117.6L1345.4 1119.9L1348.4 1122.1L1351.4 1124.4L1354.4 1126.6L1357.4 1128.9L1360.4 1131.1L1363.4 1133.4L1366.4 1135.6L1369.4 1137.9L1372.4 1140.1L1375.5 1142.4L1378.5 1144.6L1381.5 1146.9L1384.5 1149.1L1387.5 1151.4L1390.5 1153.6L1393.5 1155.9L1396.5 1158.1L1399.5 1160.4L1402.5 1162.7L1405.6 1164.9L1408.6 1167.2L1411.6 1169.4L1414.6 1171.7L1417.6 1173.9L1420.6 1176.2L1421.9 1178L1418 1179.7L1414.1 1181.5L1410.1 1183.2L1406.2 1184.9L1402.3 1186.6L1398.3 1188.4L1394.4 1190.1L1390.5 1191.8L1386.5 1193.5L1382.6 1195.3L1378.7 1197L1374.7 1198.7L1370.8 1200.4L1366.9 1202.1L1362.9 1203.9L1359 1205.6L1355.1 1207.3L1351.1 1209L1347.2 1210.8L1343.3 1212.5L1339.3 1214.2L1335.4 1215.9L1331.5 1217.7L1327.5 1219.4L1323.6 1221.1L1319.7 1222.8L1315.7 1224.6L1311.8 1226.3L1307.9 1228L1303.9 1229.7L1300 1231.5L1296.1 1233.2L1292.1 1234.9L1288.2 1236.6L1284.2 1238.4L1280.3 1240.1" stroke="#fff000"/>
<path d="M1279.3 1248.6L1276.1 1248.4L1273.1 1246.2L1270.1 1243.9L1267.1 1241.6L1264.1 1239.4L1261.1 1237.1L1258.1 1234.9L1255.1 1232.6L1252.1 1230.4L1249 1228.1L1246 1225.9L1243 1223.6L1240 1221.4L1237 1219.1L1234 1216.9L1231 1214.6L1228 1212.4L1225 1210.1L1222 1207.9L1218.9 1205.6L1215.9 1203.4L1212.9 1201.1L1209.9 1198.9L1206.9 1196.6L1203.9 1194.4L1200.9 1192.1L1197.9 1189.9L1194.9 1187.6L1191.9 1185.3L1188.8 1183.1L1185.8 1180.8L1182.8 1178.6L1179.8 1176.3L1176.8 1174.1L1173.8 1171.8L1170.8 1169.6L1167.8 1167.3L1164.8 1165.1L1161.8 1162.8L1158.7 1160.6L1155.7 1158.3L1158.1 1155.7L1162.1 1153.9L1166 1152.2L1169.9 1150.5L1173.9 1148.8L1177.8 1147L1181.7 1145.3L1185.7 1143.6L1189.6 1141.9L1193.5 1140.1L1197.5 1138.4L1201.4 1136.7L1205.3 1135L1209.3 1133.2L1213.2 1131.5L1217.1 1129.8L1221.1 1128.1L1225 1126.3L1228.9 1124.6L1232.9 1122.9L1236.8 1121.2L1240.7 1119.5L1244.7 1117.7L1248.6 1116L1252.5 1114.3L1256.5 1112.6L1260.4 1110.8L1264.3 1109.1L1268.3 1107.4L1272.2 1105.7L1276.1 1103.9L1280.1 1102.2L1284 1100.5L1287.9 1098.8L1291.9 1097L1295.8 1095.3L1299.7 1093.6L1303.7 1091.9L1307.6 1090.1L1311.5 1088.4L1316.7 1087.8L1319.7 1090L1322.7 1092.3L1325.7 1094.6L1328.7 1096.8L1331.7 1099.1L1334.7 1101.3L1337.7 1103.6L1340.7 1105.8L1343.8 1108.1L1346.8 1110.3L1349.8 1112.6L1352.8 1114.8L1355.8 1117.1L1358.8 1119.3L1361.8 1121.6L1364.8 1123.8L1367.8 1126.1L1370.8 1128.3L1373.9 1130.6L1376.9 1132.8L1379.9 1135.1L1382.9 1137.3L1385.9 1139.6L1388.9 1141.8L1391.9 1144.1L1394.9 1146.3L1397.9 1148.6L1400.9 1150.9L1404 1153.1L1407 1155.4L1410 1157.6L1413 1159.9L1416 1162.1L1419 1164.4L1422 1166.6L1425 1168.9L1428 1171.1L1431 1173.4L1434.1 1175.6L1437.1 1177.9L1434.7 1180.5L1430.7 1182.3L1426.8 1184L1422.9 1185.7L1418.9 1187.4L1415 1189.2L1411.1 1190.9L1407.1 1192.6L1403.2 1194.3L1399.3 1196.1L1395.3 1197.8L1391.4 1199.5L1387.5 1201.2L1383.5 1203L1379.6 1204.7L1375.7 1206.4L1371.7 1208.1L1367.8 1209.9L1363.9 1211.6L1359.9 1213.3L1356 1215L1352.1 1216.7L1348.1 1218.5L1344.2 1220.2L1340.3 1221.9L1336.3 1223.6L1332.4 1225.4L1328.5 1227.1L1324.5 1228.8L1320.6 1230.5L1316.7 1232.3L1312.7 1234L1308.8 1235.7L1304.9 1237.4L1300.9 1239.2L1297 1240.9L1293.1 1242.6L1289.1 1244.3L1285.2 1246.1L1281.3 1247.8L1279.3 1248.6" stroke="#ffff46"/>
<path d="M1276.3 1258.1L1273.2 1256.8L1270.2 1254.6L1267.2 1252.3L1264.2 1250.1L1261.2 1247.8L1258.2 1245.6L1255.2 1243.3L1252.1 1241.1L1249.1 1238.8L1246.1 1236.6L1243.1 1234.3L1240.1 1232.1L1237.1 1229.8L1234.1 1227.5L1231.1 1225.3L1228.1 1223L1225.1 1220.8L1222 1218.5L1219 1216.3L1216 1214L1213 1211.8L1210 1209.5L1207 1207.3L1204 1205L1201 1202.8L1198 1200.5L1195 1198.3L1191.9 1196L1188.9 1193.8L1185.9 1191.5L1182.9 1189.3L1179.9 1187L1176.9 1184.8L1173.9 1182.5L1170.9 1180.3L1167.9 1178L1164.9 1175.8L1161.8 1173.5L1158.8 1171.2L1155.8 1169L1152.8 1166.7L1149.8 1164.5L1146.8 1162.2L1143.8 1160L1140.8 1157.7L1139.5 1155.7L1143.4 1154L1147.3 1152.3L1151.3 1150.5L1155.2 1148.8L1159.1 1147.1L1163.1 1145.4L1167 1143.6L1170.9 1141.9L1174.9 1140.2L1178.8 1138.5L1182.7 1136.7L1186.7 1135L1190.6 1133.3L1194.6 1131.6L1198.5 1129.8L1202.4 1128.1L1206.4 1126.4L1210.3 1124.7L1214.2 1123L1218.2 1121.2L1222.1 1119.5L1226 1117.8L1230 1116.1L1233.9 1114.3L1237.8 1112.6L1241.8 1110.9L1245.7 1109.2L1249.6 1107.4L1253.6 1105.7L1257.5 1104L1261.4 1102.3L1265.4 1100.5L1269.3 1098.8L1273.2 1097.1L1277.2 1095.4L1281.1 1093.6L1285 1091.9L1289 1090.2L1292.9 1088.5L1296.8 1086.7L1300.8 1085L1304.7 1083.3L1308.6 1081.6L1312.6 1079.9L1316.5 1078.1L1319.6 1079.4L1322.6 1081.6L1325.6 1083.9L1328.6 1086.1L1331.6 1088.4L1334.6 1090.6L1337.6 1092.9L1340.7 1095.1L1343.7 1097.4L1346.7 1099.6L1349.7 1101.9L1352.7 1104.1L1355.7 1106.4L1358.7 1108.7L1361.7 1110.9L1364.7 1113.2L1367.7 1115.4L1370.8 1117.7L1373.8 1119.9L1376.8 1122.2L1379.8 1124.4L1382.8 1126.7L1385.8 1128.9L1388.8 1131.2L1391.8 1133.4L1394.8 1135.7L1397.8 1137.9L1400.9 1140.2L1403.9 1142.4L1406.9 1144.7L1409.9 1146.9L1412.9 1149.2L1415.9 1151.4L1418.9 1153.7L1421.9 1155.9L1424.9 1158.2L1427.9 1160.4L1431 1162.7L1434 1165L1437 1167.2L1440 1169.5L1443 1171.7L1446 1174L1449 1176.2L1452 1178.5L1453.3 1180.5L1449.4 1182.2L1445.5 1183.9L1441.5 1185.7L1437.6 1187.4L1433.7 1189.1L1429.7 1190.8L1425.8 1192.6L1421.9 1194.3L1417.9 1196L1414 1197.7L1410.1 1199.5L1406.1 1201.2L1402.2 1202.9L1398.2 1204.6L1394.3 1206.4L1390.4 1208.1L1386.4 1209.8L1382.5 1211.5L1378.6 1213.2L1374.6 1215L1370.7 1216.7L1366.8 1218.4L1362.8 1220.1L1358.9 1221.9L1355 1223.6L1351 1225.3L1347.1 1227L1343.2 1228.8L1339.2 1230.5L1335.3 1232.2L1331.4 1233.9L1327.4 1235.7L1323.5 1237.4L1319.6 1239.1L1315.6 1240.8L1311.7 1242.6L1307.8 1244.3L1303.8 1246L1299.9 1247.7L1296 1249.5L1292 1251.2L1288.1 1252.9L1284.2 1254.6L1280.2 1256.3L1276.3 1258.1" stroke="#ffffa2"/>
</g>
<path d="M1470 1181.3L1319.5 1068.7L1122.8 1154.9" fill="none" stroke="#fff" stroke-width="1.6" stroke-dasharray="2.2 2.8"/>
<path d="M1296.4 1168.1L1470 936.2L1319.5 823.6z" fill="url(#g4a)" stroke="url(#g4a)" stroke-width=".6"/>
<path d="M1296.4 1168.1L1319.5 823.6L1122.8 909.8z" fill="url(#g4b)" stroke="url(#g4b)" stroke-width=".6"/>
<path d="M1296.4 1168.1L1122.8 909.8L1273.3 1022.4z" fill="url(#g4c)" stroke="url(#g4c)" stroke-width=".6"/>
<path d="M1296.4 1168.1L1273.3 1022.4L1470 936.2z" fill="url(#g4d)" stroke="url(#g4d)" stroke-width=".6"/>
<path d="M1122.8 909.8L1122.8 1154.9L1273.3 1267.5L1470 1181.3M1273.3 1267.5l4.6 3.4M1273.3 1267.5l-5.2 2.3M1371.7 1224.4l4.6 3.4M1198 1211.2l-5.2 2.3M1470 1181.3l4.6 3.4M1122.8 1154.9l-5.2 2.3M1122.8 1154.9l-5 -2.2M1122.8 1032.3l-5 -2.2M1122.8 909.8l-5 -2.2" stroke="#262626" stroke-width="1.4" fill="none" stroke-linejoin="round"/>
<text transform="translate(1285.8 1299.5) scale(1 1.08)" font-size="21" fill="#262626">-100</text>
<text transform="translate(1259.3 1297) scale(1 1.08)" font-size="21" text-anchor="end" fill="#262626">-100</text>
<text transform="translate(1384.2 1256.4) scale(1 1.08)" font-size="21" fill="#262626">0</text>
<text transform="translate(1184 1240.7) scale(1 1.08)" font-size="21" text-anchor="end" fill="#262626">0</text>
<text transform="translate(1482.5 1213.3) scale(1 1.08)" font-size="21" fill="#262626">100</text>
<text transform="translate(1108.8 1185.3) scale(1 1.08)" font-size="21" text-anchor="end" fill="#262626">100</text>
<text transform="translate(1109.8 1155.9) scale(1 1.08)" font-size="21" text-anchor="end" fill="#262626">0</text>
<text transform="translate(1109.8 1033.3) scale(1 1.08)" font-size="21" text-anchor="end" fill="#262626">50</text>
<text transform="translate(1109.8 910.8) scale(1 1.08)" font-size="21" text-anchor="end" fill="#262626">100</text>
<text x="1399.7" y="1310.9" font-size="24" fill="#262626">x</text>
<text transform="translate(1412.9 1322.6) scale(1 1.05)" font-size="19" fill="#262626">1</text>
<text x="1136" y="1304.7" font-size="24" fill="#262626">x</text>
<text transform="translate(1149.2 1317) scale(1 1.05)" font-size="19" fill="#262626">2</text>
<g transform="translate(1049.3 1104.9) rotate(-90)" font-size="24" fill="#262626"><text x="0" y="0">F4(</text><text x="48.8" y="0">x</text><text x="61.2" y="11.3" font-size="17.5">1</text><text x="83.5" y="0">,</text><text x="98" y="0">x</text><text x="111.8" y="11.3" font-size="17.5">2</text><text x="133.5" y="0">)</text></g>
<text x="1296.9" y="813" font-size="24.5" text-anchor="middle" font-weight="bold" fill="#111">Parameter space</text>
<path d="M1198 1211.2L1125.3 1156.7M1276.3 1266.2L1469 1181.7" fill="none" stroke="#fff" stroke-width="2.6"/>
<path d="M1198 1211.2L1122.8 1154.9M1276.3 1266.2L1470 1181.3" fill="none" stroke="#4a4a4a" stroke-width="1.1" stroke-dasharray="2.2 2.8"/>
<path d="M241.9 2025.2L87.5 1913M241.9 2025.2L443.5 1939.8M342.7 1982.5L188.3 1870.3M164.7 1969.1L366.3 1883.7M443.5 1939.8L289.1 1827.6M87.5 1913L289.1 1827.6M87.5 1913L87.5 1667.6M188.3 1870.3L188.3 1624.9M289.1 1827.6L289.1 1582.2M87.5 1837.1L289.1 1751.7M87.5 1761.1L289.1 1675.7M87.5 1685.2L289.1 1599.8M87.5 1667.6L289.1 1582.2M443.5 1939.8L443.5 1694.4M366.3 1883.7L366.3 1638.3M289.1 1827.6L289.1 1582.2M443.5 1863.9L289.1 1751.7M443.5 1787.9L289.1 1675.7M443.5 1712L289.1 1599.8M443.5 1694.4L289.1 1582.2" stroke="#dcdcdc" stroke-width="1.1" fill="none"/>
<g fill="none" stroke-width="1.4">
<path d="M412.5 1917.3L409.5 1918.6L406.5 1919.8L403.4 1921.1L400.4 1922.4L397.4 1923.7L394.3 1924.9L391.3 1926.2L388.3 1927.5L385.2 1928.8L382.2 1930L379.2 1931.3L376.1 1932.6L373.1 1933.9L370.1 1935.1L367 1936.4L364 1937.7L360.9 1938.9L357.9 1940.2L354.9 1941.5L351.8 1942.8L348.8 1944L345.8 1945.3L342.7 1946.6L339.7 1947.9L336.7 1949.1L333.6 1950.4L330.6 1951.7L327.6 1953L324.5 1954.2L321.5 1955.5L318.5 1956.8L315.4 1958.1L312.4 1959.3L309.4 1960.6L306.3 1961.9L303.3 1963.2L300.3 1964.4L297.2 1965.7L294.2 1967L291.2 1968.2L288.1 1969.5L285.1 1970.8L282.1 1972.1L279 1973.3L276 1974.6L273 1975.9L269.9 1977.2L266.9 1978.4L263.9 1979.7L260.8 1981L257.8 1982.3L254.8 1983.5L251.7 1984.8L248.7 1986.1L245.7 1987.4L242.6 1988.6L239.6 1989.9L236.6 1991.2L233.5 1992.5L230.5 1993.7L227.5 1995L224.4 1996.3L221.4 1997.5L218.4 1998.8L215.3 2000.1L212.3 2001.4L210.3 2002.2M119.1 1936L122.1 1934.7L125.2 1933.4L128.2 1932.1L131.2 1930.8L134.2 1929.5L137.2 1928.3L140.2 1927L143.2 1925.7L146.3 1924.4L149.3 1923.1L152.3 1921.8L155.3 1920.5L158.3 1919.2L161.3 1917.9L164.3 1916.7L167.4 1915.4L170.4 1914.1L173.4 1912.8L176.4 1911.5L179.4 1910.2L182.4 1908.9L185.4 1907.6L188.5 1906.4L191.5 1905.1L194.5 1903.8L197.5 1902.5L200.5 1901.2L203.5 1899.9L206.5 1898.6L209.6 1897.3L212.6 1896.1L215.6 1894.8L218.6 1893.5L221.6 1892.2L224.6 1890.9L227.6 1889.6L230.7 1888.3L233.7 1887L236.7 1885.7L239.7 1884.5L242.7 1883.2L245.7 1881.9L248.7 1880.6L251.8 1879.3L254.8 1878L257.8 1876.7L260.8 1875.4L263.8 1874.2L266.8 1872.9L269.8 1871.6L272.9 1870.3L275.9 1869L278.9 1867.7L281.9 1866.4L284.9 1865.1L287.9 1863.8L290.9 1862.6L294 1861.3L297 1860L300 1858.7L303 1857.4L306 1856.1L309 1854.8L312 1853.5L315.1 1852.3L318.1 1851L320.1 1850.1" stroke="#540000"/>
<path d="M421.2 1923.6L418.1 1924.8L415.1 1926.1L412.1 1927.4L409 1928.7L406 1929.9L403 1931.2L399.9 1932.5L396.9 1933.8L393.9 1935L390.8 1936.3L387.8 1937.6L384.8 1938.9L381.7 1940.1L378.7 1941.4L375.7 1942.7L372.6 1944L369.6 1945.2L366.6 1946.5L363.5 1947.8L360.5 1949.1L357.5 1950.3L354.5 1951.6L351.4 1952.9L348.4 1954.2L345.4 1955.4L342.3 1956.7L339.3 1958L336.3 1959.3L333.2 1960.5L330.2 1961.8L327.2 1963.1L324.1 1964.4L321.1 1965.6L318.1 1966.9L315 1968.2L312 1969.5L309 1970.7L305.9 1972L302.9 1973.3L299.9 1974.6L296.8 1975.8L293.8 1977.1L290.8 1978.4L287.7 1979.7L284.7 1980.9L281.7 1982.2L278.6 1983.5L275.6 1984.8L272.6 1986L269.5 1987.3L266.5 1988.6L263.5 1989.9L260.5 1991.1L257.4 1992.4L254.4 1993.7L251.4 1995L248.3 1996.2L245.3 1997.5L242.3 1998.8L239.2 2000.1L236.2 2001.3L233.2 2002.6L230.1 2003.9L227.1 2005.2L224.1 2006.4L221 2007.7L219 2008.6M110.4 1929.6L113.4 1928.3L116.4 1927.1L119.4 1925.8L122.5 1924.5L125.5 1923.2L128.5 1921.9L131.5 1920.6L134.5 1919.3L137.5 1918.1L140.5 1916.8L143.6 1915.5L146.6 1914.2L149.6 1912.9L152.6 1911.6L155.6 1910.3L158.6 1909L161.7 1907.8L164.7 1906.5L167.7 1905.2L170.7 1903.9L173.7 1902.6L176.7 1901.3L179.8 1900L182.8 1898.7L185.8 1897.5L188.8 1896.2L191.8 1894.9L194.8 1893.6L197.8 1892.3L200.9 1891L203.9 1889.7L206.9 1888.4L209.9 1887.2L212.9 1885.9L215.9 1884.6L219 1883.3L222 1882L225 1880.7L228 1879.4L231 1878.2L234 1876.9L237.1 1875.6L240.1 1874.3L243.1 1873L246.1 1871.7L249.1 1870.4L252.1 1869.1L255.1 1867.9L258.2 1866.6L261.2 1865.3L264.2 1864L267.2 1862.7L270.2 1861.4L273.2 1860.1L276.3 1858.8L279.3 1857.6L282.3 1856.3L285.3 1855L288.3 1853.7L291.3 1852.4L294.3 1851.1L297.4 1849.8L300.4 1848.6L303.4 1847.3L306.4 1846L309.4 1844.7L311.4 1843.8" stroke="#a80000"/>
<path d="M427 1927.8L423.9 1929.1L420.9 1930.3L417.9 1931.6L414.8 1932.9L411.8 1934.2L408.8 1935.4L405.7 1936.7L402.7 1938L399.7 1939.3L396.6 1940.5L393.6 1941.8L390.6 1943.1L387.5 1944.4L384.5 1945.6L381.5 1946.9L378.5 1948.2L375.4 1949.5L372.4 1950.7L369.4 1952L366.3 1953.3L363.3 1954.6L360.3 1955.8L357.2 1957.1L354.2 1958.4L351.2 1959.7L348.1 1960.9L345.1 1962.2L342.1 1963.5L339 1964.8L336 1966L333 1967.3L330 1968.6L326.9 1969.9L323.9 1971.1L320.9 1972.4L317.8 1973.7L314.8 1975L311.8 1976.3L308.7 1977.5L305.7 1978.8L302.7 1980.1L299.6 1981.4L296.6 1982.6L293.6 1983.9L290.5 1985.2L287.5 1986.5L284.5 1987.7L281.5 1989L278.4 1990.3L275.4 1991.6L272.4 1992.8L269.3 1994.1L266.3 1995.4L263.3 1996.7L260.2 1997.9L257.2 1999.2L254.2 2000.5L251.1 2001.8L248.1 2003L245.6 2004.1L243.1 2005.2L240 2006.4L237 2007.7L234 2009L230.9 2010.3L227.9 2011.5L224.9 2012.8M104.5 1925.4L107.6 1924.1L110.6 1922.8L113.6 1921.5L116.6 1920.2L119.6 1918.9L122.6 1917.7L125.2 1916.6L127.7 1915.5L130.7 1914.2L133.7 1912.9L136.7 1911.7L139.7 1910.4L142.7 1909.1L145.8 1907.8L148.8 1906.5L151.8 1905.2L154.8 1903.9L157.8 1902.7L160.8 1901.4L163.9 1900.1L166.9 1898.8L169.9 1897.5L172.9 1896.2L175.9 1894.9L178.9 1893.6L182 1892.4L185 1891.1L188 1889.8L191 1888.5L194 1887.2L197 1885.9L200.1 1884.6L203.1 1883.4L206.1 1882.1L209.1 1880.8L212.1 1879.5L215.1 1878.2L218.2 1876.9L221.2 1875.6L224.2 1874.4L227.2 1873.1L230.2 1871.8L233.2 1870.5L236.3 1869.2L239.3 1867.9L242.3 1866.6L245.3 1865.4L248.3 1864.1L251.3 1862.8L254.4 1861.5L257.4 1860.2L260.4 1858.9L263.4 1857.6L266.4 1856.3L269.4 1855.1L272.5 1853.8L275.5 1852.5L278.5 1851.2L281.5 1849.9L284.5 1848.6L287.5 1847.3L290.6 1846.1L293.6 1844.8L296.6 1843.5L299.6 1842.2L302.6 1840.9L305.6 1839.6" stroke="#fc0000"/>
<path d="M431.4 1931L428.4 1932.3L425.4 1933.6L422.4 1934.9L419.3 1936.1L416.3 1937.4L413.3 1938.7L410.2 1940L407.2 1941.2L404.2 1942.5L401.1 1943.8L398.1 1945.1L395.1 1946.4L392 1947.6L389 1948.9L386 1950.2L382.9 1951.5L379.9 1952.7L376.9 1954L373.9 1955.3L370.8 1956.6L367.8 1957.8L364.8 1959.1L361.7 1960.4L358.7 1961.7L355.7 1962.9L352.6 1964.2L349.6 1965.5L346.6 1966.8L343.5 1968L340.5 1969.3L337.5 1970.6L334.5 1971.9L331.4 1973.1L328.4 1974.4L325.4 1975.7L322.3 1977L319.3 1978.3L316.3 1979.5L313.2 1980.8L310.2 1982.1L307.2 1983.4L304.1 1984.6L301.1 1985.9L298.1 1987.2L295.1 1988.5L292 1989.7L289 1991L286 1992.3L282.9 1993.6L279.9 1994.8L276.9 1996.1L273.8 1997.4L270.8 1998.7L267.8 1999.9L264.7 2001.2L261.7 2002.5L258.7 2003.8L255.7 2005L252.6 2006.3L249.6 2007.6L246.6 2008.9L243.5 2010.2L240.5 2011.4L237.5 2012.7L234.4 2014L231.4 2015.3L229.4 2016.1M100 1922.1L103 1920.8L106 1919.5L109.1 1918.2L112.1 1917L115.1 1915.7L118.1 1914.4L121.1 1913.1L124.2 1911.8L127.2 1910.5L130.2 1909.2L133.2 1907.9L136.2 1906.7L139.2 1905.4L142.3 1904.1L145.3 1902.8L148.3 1901.5L151.3 1900.2L154.3 1898.9L157.3 1897.7L160.4 1896.4L163.4 1895.1L166.4 1893.8L169.4 1892.5L172.4 1891.2L175.4 1889.9L178.5 1888.7L181.5 1887.4L184.5 1886.1L187.5 1884.8L190.5 1883.5L193.5 1882.2L196.6 1880.9L199.6 1879.7L202.6 1878.4L205.6 1877.1L208.6 1875.8L211.6 1874.5L214.7 1873.2L217.7 1871.9L220.7 1870.7L223.7 1869.4L226.7 1868.1L229.8 1866.8L232.8 1865.5L235.8 1864.2L238.8 1862.9L241.8 1861.7L244.8 1860.4L247.9 1859.1L250.9 1857.8L253.9 1856.5L256.9 1855.2L259.9 1853.9L262.9 1852.7L266 1851.4L269 1850.1L272 1848.8L275 1847.5L278 1846.2L281 1844.9L284.1 1843.6L287.1 1842.4L290.1 1841.1L293.1 1839.8L296.1 1838.5L299.1 1837.2L301.2 1836.4" stroke="#ff5200"/>
<path d="M435.2 1933.7L432.1 1935L429.1 1936.3L426.1 1937.6L423 1938.8L420 1940.1L417 1941.4L413.9 1942.7L410.9 1943.9L407.9 1945.2L404.9 1946.5L401.8 1947.8L398.8 1949.1L395.8 1950.3L392.7 1951.6L389.7 1952.9L386.7 1954.2L383.6 1955.4L380.6 1956.7L377.6 1958L374.5 1959.3L371.5 1960.5L368.5 1961.8L365.5 1963.1L362.4 1964.4L359.4 1965.6L356.4 1966.9L353.3 1968.2L350.3 1969.5L347.3 1970.7L344.2 1972L341.2 1973.3L338.2 1974.6L335.2 1975.9L332.1 1977.1L329.1 1978.4L326.1 1979.7L323 1981L320 1982.2L317 1983.5L313.9 1984.8L310.9 1986.1L307.9 1987.3L304.8 1988.6L301.8 1989.9L298.8 1991.2L295.8 1992.4L292.7 1993.7L289.7 1995L286.7 1996.3L283.6 1997.6L280.6 1998.8L277.6 2000.1L274.5 2001.4L271.5 2002.7L268.5 2003.9L265.4 2005.2L262.4 2006.5L259.4 2007.8L256.4 2009L253.3 2010.3L250.3 2011.6L247.3 2012.9L244.2 2014.1L241.2 2015.4L238.2 2016.7L235.1 2018L233.1 2018.8M96.3 1919.4L99.3 1918.1L102.3 1916.8L105.3 1915.5L108.3 1914.2L111.4 1913L114.4 1911.7L117.4 1910.4L120.4 1909.1L123.4 1907.8L126.5 1906.5L129.5 1905.2L132.5 1904L135.5 1902.7L138.5 1901.4L141.5 1900.1L144.6 1898.8L147.6 1897.5L150.6 1896.2L153.6 1894.9L156.6 1893.7L159.6 1892.4L162.7 1891.1L165.7 1889.8L168.7 1888.5L171.7 1887.2L174.7 1885.9L177.7 1884.7L180.8 1883.4L183.8 1882.1L186.8 1880.8L189.8 1879.5L192.8 1878.2L195.9 1876.9L198.9 1875.7L201.9 1874.4L204.9 1873.1L207.9 1871.8L210.9 1870.5L214 1869.2L217 1867.9L220 1866.7L223 1865.4L226 1864.1L229 1862.8L232.1 1861.5L235.1 1860.2L238.1 1858.9L241.1 1857.7L244.1 1856.4L247.2 1855.1L250.2 1853.8L253.2 1852.5L256.2 1851.2L259.2 1849.9L262.2 1848.7L265.3 1847.4L268.3 1846.1L271.3 1844.8L274.3 1843.5L277.3 1842.2L280.3 1840.9L283.4 1839.7L286.4 1838.4L289.4 1837.1L292.4 1835.8L295.4 1834.5L297.4 1833.7" stroke="#ffa600"/>
<path d="M438.3 1936.1L435.3 1937.3L432.3 1938.6L429.3 1939.9L426.2 1941.2L423.2 1942.4L420.2 1943.7L417.1 1945L414.1 1946.3L411.1 1947.5L408 1948.8L405 1950.1L402 1951.4L399 1952.7L395.9 1953.9L392.9 1955.2L389.9 1956.5L386.8 1957.8L383.8 1959L380.8 1960.3L377.7 1961.6L374.7 1962.9L371.7 1964.1L368.7 1965.4L365.6 1966.7L362.6 1968L359.6 1969.2L356.5 1970.5L353.5 1971.8L350.5 1973.1L347.4 1974.4L344.4 1975.6L341.4 1976.9L338.4 1978.2L335.3 1979.5L332.3 1980.7L329.3 1982L326.2 1983.3L323.2 1984.6L320.2 1985.8L317.1 1987.1L314.6 1988.2L312.1 1989.2L309.1 1990.5L306 1991.8L303 1993.1L300 1994.3L296.9 1995.6L293.9 1996.9L290.9 1998.2L287.8 1999.5L284.8 2000.7L281.8 2002L278.8 2003.3L275.7 2004.6L272.7 2005.8L269.7 2007.1L266.6 2008.4L263.6 2009.7L260.6 2010.9L257.5 2012.2L254.5 2013.5L251.5 2014.8L248.5 2016L245.4 2017.3L242.4 2018.6L239.4 2019.9L236.3 2021.2M93.1 1917L96.1 1915.8L99.1 1914.5L102.1 1913.2L105.1 1911.9L108.2 1910.6L111.2 1909.3L114.2 1908L117.2 1906.8L120.2 1905.5L123.2 1904.2L126.3 1902.9L129.3 1901.6L132.3 1900.3L135.3 1899L138.3 1897.8L141.4 1896.5L144.4 1895.2L147.4 1893.9L150.4 1892.6L153.4 1891.3L156.4 1890L159.5 1888.8L162.5 1887.5L165.5 1886.2L168.5 1884.9L171 1883.8L173.5 1882.8L176.6 1881.5L179.6 1880.2L182.6 1878.9L185.6 1877.6L188.6 1876.3L191.6 1875.1L194.7 1873.8L197.7 1872.5L200.7 1871.2L203.7 1869.9L206.7 1868.6L209.8 1867.3L212.8 1866.1L215.8 1864.8L218.8 1863.5L221.8 1862.2L224.8 1860.9L227.9 1859.6L230.9 1858.3L233.9 1857.1L236.9 1855.8L239.9 1854.5L242.9 1853.2L246 1851.9L249 1850.6L252 1849.3L255 1848.1L258 1846.8L261.1 1845.5L264.1 1844.2L267.1 1842.9L270.1 1841.6L273.1 1840.3L276.1 1839.1L279.2 1837.8L282.2 1836.5L285.2 1835.2L288.2 1833.9L291.2 1832.6L294.3 1831.3" stroke="#fffa00"/>
<path d="M441.2 1938.1L438.1 1939.4L435.1 1940.7L432.1 1941.9L429 1943.2L426 1944.5L423 1945.8L420 1947L416.9 1948.3L413.9 1949.6L410.9 1950.9L407.8 1952.1L404.8 1953.4L401.8 1954.7L398.7 1956L395.7 1957.3L392.7 1958.5L389.7 1959.8L386.6 1961.1L383.6 1962.4L380.6 1963.6L377.5 1964.9L374.5 1966.2L371.5 1967.5L368.4 1968.7L365.4 1970L362.4 1971.3L359.4 1972.6L356.3 1973.8L353.3 1975.1L350.3 1976.4L347.2 1977.7L344.2 1979L341.2 1980.2L338.1 1981.5L335.1 1982.8L332.1 1984.1L329.1 1985.3L326 1986.6L323 1987.9L320 1989.2L316.9 1990.4L313.9 1991.7L310.9 1993L307.8 1994.3L304.8 1995.6L301.8 1996.8L298.8 1998.1L295.7 1999.4L292.7 2000.7L289.7 2001.9L286.6 2003.2L283.6 2004.5L280.6 2005.8L277.5 2007L274.5 2008.3L271.5 2009.6L268.5 2010.9L265.4 2012.1L262.4 2013.4L259.4 2014.7L256.3 2016L253.3 2017.3L250.3 2018.5L247.2 2019.8L244.2 2021.1L241.2 2022.4L239.2 2023.2M90.2 1915L93.3 1913.7L96.3 1912.4L99.3 1911.1L102.3 1909.8L105.3 1908.6L108.3 1907.3L111.4 1906L114.4 1904.7L117.4 1903.4L120.4 1902.1L123.4 1900.9L126.5 1899.6L129.5 1898.3L132.5 1897L135.5 1895.7L138.5 1894.4L141.5 1893.1L144.6 1891.9L147.6 1890.6L150.6 1889.3L153.6 1888L156.6 1886.7L159.7 1885.4L162.7 1884.1L165.7 1882.9L168.7 1881.6L171.7 1880.3L174.7 1879L177.8 1877.7L180.8 1876.4L183.8 1875.1L186.8 1873.9L189.8 1872.6L192.8 1871.3L195.9 1870L198.9 1868.7L201.9 1867.4L204.9 1866.1L207.9 1864.9L211 1863.6L214 1862.3L217 1861L220 1859.7L223 1858.4L226 1857.1L229.1 1855.9L232.1 1854.6L235.1 1853.3L238.1 1852L241.1 1850.7L244.2 1849.4L247.2 1848.1L250.2 1846.9L253.2 1845.6L256.2 1844.3L259.2 1843L262.3 1841.7L265.3 1840.4L268.3 1839.2L271.3 1837.9L274.3 1836.6L277.4 1835.3L280.4 1834L283.4 1832.7L286.4 1831.4L289.4 1830.2L291.4 1829.3" stroke="#ffff77"/>
<path d="M342.7 1982.5L339.7 1983.8L336.6 1985.1L333.6 1986.3L330.6 1987.6L327.6 1988.9L324.5 1990.2L321.5 1991.4L318.5 1992.7L315.4 1994L312.4 1995.3L309.4 1996.5L306.3 1997.8L303.3 1999.1L300.3 2000.4L297.3 2001.7L294.2 2002.9L291.2 2004.2L288.2 2005.5L285.1 2006.8L282.1 2008L279.1 2009.3L276 2010.6L273 2011.9L270 2013.1L267 2014.4L263.9 2015.7L260.9 2017L257.9 2018.2L254.8 2019.5L251.8 2020.8L248.8 2022.1L245.7 2023.4L242.7 2024.6L241.7 2025.1M87.7 1913.1L90.7 1911.9L93.7 1910.6L96.7 1909.3L99.8 1908L102.8 1906.7L105.8 1905.4L108.8 1904.1L111.8 1902.9L114.9 1901.6L117.9 1900.3L120.9 1899L123.9 1897.7L126.9 1896.4L129.9 1895.1L133 1893.9L136 1892.6L139 1891.3L142 1890L145 1888.7L148.1 1887.4L151.1 1886.2L154.1 1884.9L157.1 1883.6L160.1 1882.3L163.1 1881L166.2 1879.7L169.2 1878.4L172.2 1877.2L175.2 1875.9L178.2 1874.6L181.3 1873.3L184.3 1872L187.3 1870.7L188.3 1870.3" stroke="#fffff5"/>
</g>
<g fill="currentColor" stroke="currentColor" stroke-width=".8" stroke-linejoin="round"><path color="#ffffe7" d="M88.3 1677.8L289.9 1597.1L289.1 1587.1L87.5 1667.6z"/><path color="#ffffb7" d="M89 1687.7L290.6 1606.9L289.9 1597.1L88.3 1677.8z"/><path color="#ffff97" d="M89.8 1697.3L291.4 1616.5L290.6 1606.9L89 1687.7z"/><path color="#ffff68" d="M90.6 1706.6L292.2 1625.7L291.4 1616.5L89.8 1697.3z"/><path color="#ffff48" d="M91.4 1715.7L293 1634.7L292.2 1625.7L90.6 1706.6z"/><path color="#ffff28" d="M92.1 1724.5L293.7 1643.4L293 1634.7L91.4 1715.7z"/><path color="#ffff08" d="M92.9 1733.1L294.5 1651.9L293.7 1643.4L92.1 1724.5z"/><path color="#ffef00" d="M93.7 1741.4L295.3 1660.1L294.5 1651.9L92.9 1733.1z"/><path color="#ffda00" d="M94.4 1749.4L296 1668L295.3 1660.1L93.7 1741.4z"/><path color="#ffc500" d="M95.2 1757.2L296.8 1675.8L296 1668L94.4 1749.4z"/><path color="#ffaf00" d="M96 1764.8L297.6 1683.2L296.8 1675.8L95.2 1757.2z"/><path color="#ff9a00" d="M96.8 1772.1L298.4 1690.5L297.6 1683.2L96 1764.8z"/><path color="#ff8f00" d="M97.5 1779.3L299.1 1697.5L298.4 1690.5L96.8 1772.1z"/><path color="#ff7a00" d="M98.3 1786.1L299.9 1704.3L299.1 1697.5L97.5 1779.3z"/><path color="#ff6500" d="M99.1 1792.8L300.7 1710.9L299.9 1704.3L98.3 1786.1z"/><path color="#ff5a00" d="M99.9 1799.3L301.5 1717.3L300.7 1710.9L99.1 1792.8z"/><path color="#ff4500" d="M100.6 1805.5L302.2 1723.5L301.5 1717.3L99.9 1799.3z"/><path color="#ff3a00" d="M101.4 1811.6L303 1729.5L302.2 1723.5L100.6 1805.5z"/><path color="#ff2500" d="M102.2 1817.5L303.8 1735.3L303 1729.5L101.4 1811.6z"/><path color="#ff1b00" d="M102.9 1823.1L304.5 1740.8L303.8 1735.3L102.2 1817.5z"/><path color="#ff1000" d="M103.7 1828.6L305.3 1746.3L304.5 1740.8L102.9 1823.1z"/><path color="#ff0500" d="M104.5 1833.9L306.1 1751.5L305.3 1746.3L103.7 1828.6z"/><path color="#ef0000" d="M105.3 1839L306.9 1756.5L306.1 1751.5L104.5 1833.9z"/><path color="#e40000" d="M106 1844L307.6 1761.4L306.9 1756.5L105.3 1839z"/><path color="#da0000" d="M106.8 1848.8L308.4 1766.1L307.6 1761.4L106 1844z"/><path color="#cf0000" d="M107.6 1853.4L309.2 1770.7L308.4 1766.1L106.8 1848.8z"/><path color="#c50000" d="M108.3 1857.8L309.9 1775L309.2 1770.7L107.6 1853.4z"/><path color="#ba0000" d="M109.1 1862.1L310.7 1779.3L309.9 1775L108.3 1857.8z"/><path color="#af0000" d="M109.9 1866.3L311.5 1783.3L310.7 1779.3L109.1 1862.1z"/><path color="#a50000" d="M110.7 1870.3L312.3 1787.3L311.5 1783.3L109.9 1866.3z"/><path color="#9a0000" d="M111.4 1874.2L313 1791.1L312.3 1787.3L110.7 1870.3z"/><path color="#8f0000" d="M112.2 1877.9L313.8 1794.7L313 1791.1L111.4 1874.2z"/><path color="#8f0000" d="M113 1881.5L314.6 1798.2L313.8 1794.7L112.2 1877.9z"/><path color="#850000" d="M113.7 1884.9L315.3 1801.6L314.6 1798.2L113 1881.5z"/><path color="#7a0000" d="M114.5 1888.2L316.1 1804.9L315.3 1801.6L113.7 1884.9z"/><path color="#700000" d="M115.3 1891.4L316.9 1808L316.1 1804.9L114.5 1888.2z"/><path color="#700000" d="M116.1 1894.5L317.7 1811L316.9 1808L115.3 1891.4z"/><path color="#650000" d="M116.8 1897.5L318.4 1813.9L317.7 1811L116.1 1894.5z"/><path color="#650000" d="M117.6 1900.3L319.2 1816.7L318.4 1813.9L116.8 1897.5z"/><path color="#5a0000" d="M118.4 1903.1L320 1819.4L319.2 1816.7L117.6 1900.3z"/><path color="#500000" d="M119.2 1905.7L320.8 1822L320 1819.4L118.4 1903.1z"/><path color="#500000" d="M119.9 1908.2L321.5 1824.5L320.8 1822L119.2 1905.7z"/><path color="#450000" d="M120.7 1910.7L322.3 1826.9L321.5 1824.5L119.9 1908.2z"/><path color="#450000" d="M121.5 1913L323.1 1829.1L322.3 1826.9L120.7 1910.7z"/><path color="#450000" d="M122.2 1915.3L323.8 1831.3L323.1 1829.1L121.5 1913z"/><path color="#3a0000" d="M123 1917.4L324.6 1833.4L323.8 1831.3L122.2 1915.3z"/><path color="#3a0000" d="M123.8 1919.5L325.4 1835.5L324.6 1833.4L123 1917.4z"/><path color="#300000" d="M124.6 1921.5L326.2 1837.4L325.4 1835.5L123.8 1919.5z"/><path color="#300000" d="M125.3 1923.4L326.9 1839.3L326.2 1837.4L124.6 1921.5z"/><path color="#300000" d="M126.1 1925.3L327.7 1841.1L326.9 1839.3L125.3 1923.4z"/><path color="#250000" d="M126.9 1927L328.5 1842.8L327.7 1841.1L126.1 1925.3z"/><path color="#250000" d="M127.6 1928.7L329.2 1844.4L328.5 1842.8L126.9 1927z"/><path color="#250000" d="M128.4 1930.3L330 1846L329.2 1844.4L127.6 1928.7z"/><path color="#1b0000" d="M129.2 1931.9L330.8 1847.5L330 1846L128.4 1930.3z"/><path color="#1b0000" d="M130 1933.4L331.6 1849L330.8 1847.5L129.2 1931.9z"/><path color="#1b0000" d="M130.7 1934.8L332.3 1850.4L331.6 1849L130 1933.4z"/><path color="#1b0000" d="M131.5 1936.2L333.1 1851.7L332.3 1850.4L130.7 1934.8z"/><path color="#1b0000" d="M132.3 1937.5L333.9 1853L333.1 1851.7L131.5 1936.2z"/><path color="#100000" d="M133 1938.8L334.6 1854.2L333.9 1853L132.3 1937.5z"/><path color="#100000" d="M133.8 1940L335.4 1855.4L334.6 1854.2L133 1938.8z"/><path color="#100000" d="M134.6 1941.2L336.2 1856.6L335.4 1855.4L133.8 1940z"/><path color="#100000" d="M135.4 1942.4L337 1857.7L336.2 1856.6L134.6 1941.2z"/><path color="#100000" d="M136.1 1943.5L337.7 1858.7L337 1857.7L135.4 1942.4z"/><path color="#100000" d="M136.9 1944.5L338.5 1859.7L337.7 1858.7L136.1 1943.5z"/><path color="#100000" d="M137.7 1945.5L339.3 1860.7L338.5 1859.7L136.9 1944.5z"/><path color="#050000" d="M138.5 1946.5L340.1 1861.7L339.3 1860.7L137.7 1945.5z"/><path color="#050000" d="M139.2 1947.4L340.8 1862.6L340.1 1861.7L138.5 1946.5z"/><path color="#050000" d="M140 1948.3L341.6 1863.4L340.8 1862.6L139.2 1947.4z"/><path color="#050000" d="M140.8 1949.2L342.4 1864.3L341.6 1863.4L140 1948.3z"/><path color="#050000" d="M141.5 1950.1L343.1 1865.1L342.4 1864.3L140.8 1949.2z"/><path color="#050000" d="M142.3 1950.9L343.9 1865.9L343.1 1865.1L141.5 1950.1z"/><path color="#050000" d="M143.1 1951.7L344.7 1866.7L343.9 1865.9L142.3 1950.9z"/><path color="#050000" d="M143.9 1952.5L345.5 1867.4L344.7 1866.7L143.1 1951.7z"/><path color="#050000" d="M144.6 1953.2L346.2 1868.2L345.5 1867.4L143.9 1952.5z"/><path color="#050000" d="M145.4 1954L347 1868.9L346.2 1868.2L144.6 1953.2z"/><path color="#050000" d="M146.2 1954.7L347.8 1869.6L347 1868.9L145.4 1954z"/><path color="#050000" d="M146.9 1955.4L348.5 1870.2L347.8 1869.6L146.2 1954.7z"/><path color="#050000" d="M147.7 1956.1L349.3 1870.9L348.5 1870.2L146.9 1955.4z"/><path color="#050000" d="M148.5 1956.7L350.1 1871.5L349.3 1870.9L147.7 1956.1z"/><path color="#050000" d="M149.3 1957.4L350.9 1872.2L350.1 1871.5L148.5 1956.7z"/><path color="#050000" d="M150 1958L351.6 1872.8L350.9 1872.2L149.3 1957.4z"/><path color="#050000" d="M150.8 1958.7L352.4 1873.4L351.6 1872.8L150 1958z"/><path color="#050000" d="M151.6 1959.3L353.2 1874L352.4 1873.4L150.8 1958.7z"/><path color="#050000" d="M152.3 1959.9L353.9 1874.6L353.2 1874L151.6 1959.3z"/><path color="#050000" d="M153.1 1960.5L354.7 1875.2L353.9 1874.6L152.3 1959.9z"/><path color="#050000" d="M153.9 1961.1L355.5 1875.8L354.7 1875.2L153.1 1960.5z"/><path color="#050000" d="M154.7 1961.7L356.3 1876.4L355.5 1875.8L153.9 1961.1z"/><path color="#050000" d="M155.4 1962.3L357 1876.9L356.3 1876.4L154.7 1961.7z"/><path color="#050000" d="M156.2 1962.9L357.8 1877.5L357 1876.9L155.4 1962.3z"/><path color="#050000" d="M157 1963.4L358.6 1878.1L357.8 1877.5L156.2 1962.9z"/><path color="#050000" d="M157.8 1964L359.4 1878.6L358.6 1878.1L157 1963.4z"/><path color="#050000" d="M158.5 1964.6L360.1 1879.2L359.4 1878.6L157.8 1964z"/><path color="#050000" d="M159.3 1965.1L360.9 1879.8L360.1 1879.2L158.5 1964.6z"/><path color="#050000" d="M160.1 1965.7L361.7 1880.3L360.9 1879.8L159.3 1965.1z"/><path color="#050000" d="M160.8 1966.3L362.4 1880.9L361.7 1880.3L160.1 1965.7z"/><path color="#050000" d="M161.6 1966.8L363.2 1881.5L362.4 1880.9L160.8 1966.3z"/><path color="#050000" d="M162.4 1967.4L364 1882L363.2 1881.5L161.6 1966.8z"/><path color="#050000" d="M163.2 1968L364.8 1882.6L364 1882L162.4 1967.4z"/><path color="#050000" d="M163.9 1968.5L365.5 1883.1L364.8 1882.6L163.2 1968z"/><path color="#050000" d="M164.7 1969.1L366.3 1883.7L365.5 1883.1L163.9 1968.5z"/><path color="#050000" d="M165.5 1969.7L367.1 1884.3L366.3 1883.7L164.7 1969.1z"/><path color="#050000" d="M166.2 1970.2L367.8 1884.8L367.1 1884.3L165.5 1969.7z"/><path color="#050000" d="M167 1970.8L368.6 1885.4L367.8 1884.8L166.2 1970.2z"/><path color="#050000" d="M167.8 1971.3L369.4 1885.9L368.6 1885.4L167 1970.8z"/><path color="#050000" d="M168.6 1971.9L370.2 1886.5L369.4 1885.9L167.8 1971.3z"/><path color="#050000" d="M169.3 1972.4L370.9 1887.1L370.2 1886.5L168.6 1971.9z"/><path color="#050000" d="M170.1 1973L371.7 1887.6L370.9 1887.1L169.3 1972.4z"/><path color="#050000" d="M170.9 1973.6L372.5 1888.2L371.7 1887.6L170.1 1973z"/><path color="#050000" d="M171.6 1974.1L373.2 1888.7L372.5 1888.2L170.9 1973.6z"/><path color="#050000" d="M172.4 1974.7L374 1889.3L373.2 1888.7L171.6 1974.1z"/><path color="#050000" d="M173.2 1975.2L374.8 1889.9L374 1889.3L172.4 1974.7z"/><path color="#050000" d="M174 1975.7L375.6 1890.4L374.8 1889.9L173.2 1975.2z"/><path color="#050000" d="M174.7 1976.3L376.3 1891L375.6 1890.4L174 1975.7z"/><path color="#050000" d="M175.5 1976.8L377.1 1891.5L376.3 1891L174.7 1976.3z"/><path color="#050000" d="M176.3 1977.3L377.9 1892L377.1 1891.5L175.5 1976.8z"/><path color="#050000" d="M177.1 1977.8L378.7 1892.6L377.9 1892L176.3 1977.3z"/><path color="#050000" d="M177.8 1978.4L379.4 1893.1L378.7 1892.6L177.1 1977.8z"/><path color="#050000" d="M178.6 1978.9L380.2 1893.6L379.4 1893.1L177.8 1978.4z"/><path color="#050000" d="M179.4 1979.3L381 1894.1L380.2 1893.6L178.6 1978.9z"/><path color="#050000" d="M180.1 1979.8L381.7 1894.6L381 1894.1L179.4 1979.3z"/><path color="#050000" d="M180.9 1980.3L382.5 1895.1L381.7 1894.6L180.1 1979.8z"/><path color="#050000" d="M181.7 1980.7L383.3 1895.6L382.5 1895.1L180.9 1980.3z"/><path color="#050000" d="M182.5 1981.2L384.1 1896L383.3 1895.6L181.7 1980.7z"/><path color="#050000" d="M183.2 1981.6L384.8 1896.5L384.1 1896L182.5 1981.2z"/><path color="#050000" d="M184 1982L385.6 1896.9L384.8 1896.5L183.2 1981.6z"/><path color="#050000" d="M184.8 1982.4L386.4 1897.3L385.6 1896.9L184 1982z"/><path color="#050000" d="M185.5 1982.8L387.1 1897.7L386.4 1897.3L184.8 1982.4z"/><path color="#050000" d="M186.3 1983.1L387.9 1898.1L387.1 1897.7L185.5 1982.8z"/><path color="#050000" d="M187.1 1983.4L388.7 1898.4L387.9 1898.1L186.3 1983.1z"/><path color="#050000" d="M187.9 1983.7L389.5 1898.8L388.7 1898.4L187.1 1983.4z"/><path color="#050000" d="M188.6 1984L390.2 1899.1L389.5 1898.8L187.9 1983.7z"/><path color="#050000" d="M189.4 1984.2L391 1899.3L390.2 1899.1L188.6 1984z"/><path color="#050000" d="M190.2 1984.5L391.8 1899.6L391 1899.3L189.4 1984.2z"/><path color="#050000" d="M190.9 1984.6L392.5 1899.8L391.8 1899.6L190.2 1984.5z"/><path color="#050000" d="M191.7 1984.8L393.3 1900L392.5 1899.8L190.9 1984.6z"/><path color="#100000" d="M192.5 1984.9L394.1 1900.1L393.3 1900L191.7 1984.8z"/><path color="#100000" d="M193.3 1985L394.9 1900.2L394.1 1900.1L192.5 1984.9z"/><path color="#100000" d="M194 1985L395.6 1900.3L394.9 1900.2L193.3 1985z"/><path color="#100000" d="M194.8 1985L396.4 1900.3L395.6 1900.3L194 1985z"/><path color="#100000" d="M195.6 1984.9L397.2 1900.3L396.4 1900.3L194.8 1985z"/><path color="#100000" d="M196.4 1984.8L398 1900.2L397.2 1900.3L195.6 1984.9z"/><path color="#100000" d="M197.1 1984.7L398.7 1900.1L398 1900.2L196.4 1984.8z"/><path color="#1b0000" d="M197.9 1984.5L399.5 1900L398.7 1900.1L197.1 1984.7z"/><path color="#1b0000" d="M198.7 1984.2L400.3 1899.7L399.5 1900L197.9 1984.5z"/><path color="#1b0000" d="M199.4 1983.9L401 1899.5L400.3 1899.7L198.7 1984.2z"/><path color="#1b0000" d="M200.2 1983.5L401.8 1899.1L401 1899.5L199.4 1983.9z"/><path color="#1b0000" d="M201 1983.1L402.6 1898.7L401.8 1899.1L200.2 1983.5z"/><path color="#250000" d="M201.8 1982.6L403.4 1898.3L402.6 1898.7L201 1983.1z"/><path color="#250000" d="M202.5 1982L404.1 1897.8L403.4 1898.3L201.8 1982.6z"/><path color="#250000" d="M203.3 1981.4L404.9 1897.2L404.1 1897.8L202.5 1982z"/><path color="#300000" d="M204.1 1980.6L405.7 1896.5L404.9 1897.2L203.3 1981.4z"/><path color="#300000" d="M204.8 1979.8L406.4 1895.8L405.7 1896.5L204.1 1980.6z"/><path color="#300000" d="M205.6 1979L407.2 1894.9L406.4 1895.8L204.8 1979.8z"/><path color="#3a0000" d="M206.4 1978L408 1894L407.2 1894.9L205.6 1979z"/><path color="#3a0000" d="M207.2 1977L408.8 1893.1L408 1894L206.4 1978z"/><path color="#450000" d="M207.9 1975.9L409.5 1892L408.8 1893.1L207.2 1977z"/><path color="#450000" d="M208.7 1974.6L410.3 1890.8L409.5 1892L207.9 1975.9z"/><path color="#450000" d="M209.5 1973.3L411.1 1889.6L410.3 1890.8L208.7 1974.6z"/><path color="#500000" d="M210.2 1971.9L411.8 1888.2L411.1 1889.6L209.5 1973.3z"/><path color="#500000" d="M211 1970.4L412.6 1886.7L411.8 1888.2L210.2 1971.9z"/><path color="#5a0000" d="M211.8 1968.8L413.4 1885.2L412.6 1886.7L211 1970.4z"/><path color="#650000" d="M212.6 1967L414.2 1883.5L413.4 1885.2L211.8 1968.8z"/><path color="#650000" d="M213.3 1965.2L414.9 1881.7L414.2 1883.5L212.6 1967z"/><path color="#700000" d="M214.1 1963.2L415.7 1879.8L414.9 1881.7L213.3 1965.2z"/><path color="#700000" d="M214.9 1961.2L416.5 1877.8L415.7 1879.8L214.1 1963.2z"/><path color="#7a0000" d="M215.7 1959L417.3 1875.7L416.5 1877.8L214.9 1961.2z"/><path color="#850000" d="M216.4 1956.6L418 1873.4L417.3 1875.7L215.7 1959z"/><path color="#8f0000" d="M217.2 1954.2L418.8 1871L418 1873.4L216.4 1956.6z"/><path color="#8f0000" d="M218 1951.6L419.6 1868.5L418.8 1871L217.2 1954.2z"/><path color="#9a0000" d="M218.7 1948.8L420.3 1865.8L419.6 1868.5L218 1951.6z"/><path color="#a50000" d="M219.5 1946L421.1 1863L420.3 1865.8L218.7 1948.8z"/><path color="#af0000" d="M220.3 1942.9L421.9 1860L421.1 1863L219.5 1946z"/><path color="#ba0000" d="M221.1 1939.8L422.7 1856.9L421.9 1860L220.3 1942.9z"/><path color="#c50000" d="M221.8 1936.4L423.4 1853.7L422.7 1856.9L221.1 1939.8z"/><path color="#cf0000" d="M222.6 1932.9L424.2 1850.3L423.4 1853.7L221.8 1936.4z"/><path color="#da0000" d="M223.4 1929.3L425 1846.7L424.2 1850.3L222.6 1932.9z"/><path color="#e40000" d="M224.1 1925.4L425.7 1842.9L425 1846.7L223.4 1929.3z"/><path color="#ef0000" d="M224.9 1921.4L426.5 1839L425.7 1842.9L224.1 1925.4z"/><path color="#ff0500" d="M225.7 1917.3L427.3 1834.9L426.5 1839L224.9 1921.4z"/><path color="#ff1000" d="M226.5 1912.9L428.1 1830.6L427.3 1834.9L225.7 1917.3z"/><path color="#ff1b00" d="M227.2 1908.4L428.8 1826.1L428.1 1830.6L226.5 1912.9z"/><path color="#ff2500" d="M228 1903.6L429.6 1821.5L428.8 1826.1L227.2 1908.4z"/><path color="#ff3a00" d="M228.8 1898.7L430.4 1816.6L429.6 1821.5L228 1903.6z"/><path color="#ff4500" d="M229.5 1893.5L431.1 1811.6L430.4 1816.6L228.8 1898.7z"/><path color="#ff5a00" d="M230.3 1888.2L431.9 1806.3L431.1 1811.6L229.5 1893.5z"/><path color="#ff6500" d="M231.1 1882.6L432.7 1800.8L431.9 1806.3L230.3 1888.2z"/><path color="#ff7a00" d="M231.9 1876.9L433.5 1795.1L432.7 1800.8L231.1 1882.6z"/><path color="#ff8f00" d="M232.6 1870.9L434.2 1789.2L433.5 1795.1L231.9 1876.9z"/><path color="#ff9a00" d="M233.4 1864.7L435 1783.1L434.2 1789.2L232.6 1870.9z"/><path color="#ffaf00" d="M234.2 1858.2L435.8 1776.7L435 1783.1L233.4 1864.7z"/><path color="#ffc500" d="M235 1851.5L436.6 1770.1L435.8 1776.7L234.2 1858.2z"/><path color="#ffda00" d="M235.7 1844.6L437.3 1763.3L436.6 1770.1L235 1851.5z"/><path color="#ffef00" d="M236.5 1837.4L438.1 1756.2L437.3 1763.3L235.7 1844.6z"/><path color="#ffff08" d="M237.3 1830L438.9 1748.9L438.1 1756.2L236.5 1837.4z"/><path color="#ffff28" d="M238 1822.3L439.6 1741.3L438.9 1748.9L237.3 1830z"/><path color="#ffff48" d="M238.8 1814.3L440.4 1733.4L439.6 1741.3L238 1822.3z"/><path color="#ffff68" d="M239.6 1806.1L441.2 1725.3L440.4 1733.4L238.8 1814.3z"/><path color="#ffff97" d="M240.4 1797.6L442 1716.9L441.2 1725.3L239.6 1806.1z"/><path color="#ffffb7" d="M241.1 1788.9L442.7 1708.2L442 1716.9L240.4 1797.6z"/><path color="#ffffe7" d="M241.9 1779.8L443.5 1699.3L442.7 1708.2L241.1 1788.9z"/></g>
<path d="M87.5 1667.6L87.5 1913L241.9 2025.2L443.5 1939.8M241.9 2025.2l4.6 3.4M241.9 2025.2l-5.2 2.3M342.7 1982.5l4.6 3.4M164.7 1969.1l-5.2 2.3M443.5 1939.8l4.6 3.4M87.5 1913l-5.2 2.3M87.5 1837.1l-5 -2.2M87.5 1761.1l-5 -2.2M87.5 1685.2l-5 -2.2" stroke="#262626" stroke-width="1.4" fill="none" stroke-linejoin="round"/>
<text transform="translate(254.4 2056) scale(1 1.08)" font-size="21" fill="#262626">-200</text>
<text transform="translate(227.9 2054.7) scale(1 1.08)" font-size="21" text-anchor="end" fill="#262626">-200</text>
<text transform="translate(355.2 2013.3) scale(1 1.08)" font-size="21" fill="#262626">0</text>
<text transform="translate(150.7 1998.6) scale(1 1.08)" font-size="21" text-anchor="end" fill="#262626">0</text>
<text transform="translate(456 1970.6) scale(1 1.08)" font-size="21" fill="#262626">200</text>
<text transform="translate(73.5 1943.4) scale(1 1.08)" font-size="21" text-anchor="end" fill="#262626">200</text>
<text transform="translate(74.5 1838.1) scale(1 1.08)" font-size="21" text-anchor="end" fill="#262626">5</text>
<text transform="translate(74.5 1762.1) scale(1 1.08)" font-size="21" text-anchor="end" fill="#262626">10</text>
<text transform="translate(74.5 1686.2) scale(1 1.08)" font-size="21" text-anchor="end" fill="#262626">15</text>
<text x="17.9" y="1635.6" font-size="24" fill="#707070">×</text>
<text transform="translate(35.5 1633.8) scale(1 1.1)" font-size="21" fill="#262626">10</text>
<text transform="translate(59.3 1622.4) scale(1 1.12)" font-size="17" fill="#262626">10</text>
<text x="370.7" y="2069" font-size="24" fill="#262626">x</text>
<text transform="translate(383.9 2080.7) scale(1 1.05)" font-size="19" fill="#262626">1</text>
<text x="102.7" y="2062.6" font-size="24" fill="#262626">x</text>
<text transform="translate(115.9 2074.9) scale(1 1.05)" font-size="19" fill="#262626">2</text>
<g transform="translate(25.2 1862.9) rotate(-90)" font-size="24" fill="#262626"><text x="0" y="0">F5(</text><text x="48.8" y="0">x</text><text x="61.2" y="11.3" font-size="17.5">1</text><text x="83.5" y="0">,</text><text x="98" y="0">x</text><text x="111.8" y="11.3" font-size="17.5">2</text><text x="133.5" y="0">)</text></g>
<text x="266" y="1569.4" font-size="24" text-anchor="middle" font-weight="bold" fill="#111">Parameter space</text>
<path d="M1237 2025.6L1082.8 1913M1237 2025.6L1438.1 1939.3M1337.5 1982.4L1183.3 1869.8M1159.9 1969.3L1361 1883M1438.1 1939.3L1283.9 1826.7M1082.8 1913L1283.9 1826.7M1082.8 1913L1082.8 1667.6M1183.3 1869.8L1183.3 1624.4M1283.9 1826.7L1283.9 1581.3M1082.8 1852.3L1283.9 1766M1082.8 1791.5L1283.9 1705.2M1082.8 1730.8L1283.9 1644.5M1082.8 1667.6L1283.9 1581.3M1438.1 1939.3L1438.1 1693.9M1361 1883L1361 1637.6M1283.9 1826.7L1283.9 1581.3M1438.1 1878.6L1283.9 1766M1438.1 1817.8L1283.9 1705.2M1438.1 1757.1L1283.9 1644.5M1438.1 1693.9L1283.9 1581.3" stroke="#dcdcdc" stroke-width="1.1" fill="none"/>
<g fill="none" stroke-width="1.4">
<path d="M1284.5 1955.3L1279.6 1956.5L1277.1 1956.9L1274.5 1957.4L1271.7 1957.7L1268.9 1958L1266 1958.2L1263 1958.3L1259.9 1958.4L1256.6 1958.3L1253.1 1958.1L1249.5 1957.8L1246.1 1957.3L1243.1 1956.9L1240.2 1956.3L1237.5 1955.7L1234.9 1955L1232.5 1954.3L1230.1 1953.5L1227.9 1952.6L1225.7 1951.8L1221.8 1949.9L1218.2 1947.9L1215 1945.7L1212.1 1943.3L1209.6 1940.8L1207.5 1938.1L1205.8 1935.3L1204.6 1932.3L1203.8 1929.1L1203.7 1925.5L1204.2 1922.4L1205.1 1919.5L1206.2 1917.2L1207.4 1915.4L1209.7 1912.4L1212.4 1909.7L1215.5 1907.3L1218.8 1905.1L1221.7 1903.5L1224.4 1902.1L1228.4 1900.4L1232.8 1898.9L1237.4 1897.6L1241.5 1896.7L1244.9 1896.1L1247.5 1895.7L1250.3 1895.4L1253.2 1895.2L1256.1 1895L1259.2 1894.9L1262.3 1894.9L1265.8 1895.1L1269.3 1895.3L1273 1895.7L1276.1 1896.2L1279 1896.7L1281.8 1897.3L1284.5 1898L1287 1898.7L1289.4 1899.4L1291.7 1900.2L1293.9 1901.1L1297.9 1902.9L1301.6 1904.9L1304.9 1907.1L1307.9 1909.4L1310.4 1911.8L1312.6 1914.5L1314.5 1917.3L1315.7 1919.8L1316.6 1922.8L1317 1926.9L1316.7 1929.9L1315.9 1932.7L1315 1934.9L1313.8 1937.1L1311.9 1939.8L1310.3 1941.6L1307.5 1944.2L1304.4 1946.6L1301 1948.7L1297.3 1950.7L1293.3 1952.5L1289 1954L1284.5 1955.3" stroke="#430000"/>
<path d="M1294.4 1967.3L1289.6 1968.4L1287.1 1968.9L1284.6 1969.4L1282 1969.8L1279.3 1970.2L1276.6 1970.6L1273.8 1970.9L1270.9 1971.1L1268 1971.3L1265 1971.4L1261.9 1971.5L1258.7 1971.5L1255.4 1971.4L1252 1971.3L1248.4 1971L1244.8 1970.7L1241.1 1970.2L1238 1969.7L1235.1 1969.2L1232.5 1968.7L1229.5 1968L1226.8 1967.4L1224.3 1966.7L1221.8 1966L1219.4 1965.2L1217.1 1964.4L1214.9 1963.6L1212.7 1962.7L1209.8 1961.5L1206.7 1960L1203 1958L1199.5 1955.9L1196.4 1953.7L1193.4 1951.3L1190.8 1948.9L1188.4 1946.4L1186.2 1943.7L1184.4 1940.9L1182.8 1938L1181.6 1935L1180.7 1931.8L1180.3 1928.4L1180.3 1924.8L1180.7 1921.6L1181.4 1919L1182.5 1915.9L1184.3 1912.5L1186.1 1909.8L1187.5 1907.9L1190.1 1905.1L1192.9 1902.4L1195.2 1900.5L1197.5 1898.8L1200.8 1896.6L1204.4 1894.5L1208.1 1892.6L1212.1 1890.8L1216.2 1889.2L1220.6 1887.7L1225.1 1886.4L1229.9 1885.2L1234.8 1884.1L1237.4 1883.7L1240 1883.3L1242.7 1882.9L1245.5 1882.6L1248.3 1882.3L1251.2 1882.1L1254.2 1881.9L1257.2 1881.8L1260.4 1881.8L1263.6 1881.8L1267 1881.9L1270.4 1882.1L1274 1882.5L1277.8 1882.9L1281.1 1883.3L1284.1 1883.8L1287 1884.4L1289.8 1884.9L1292.5 1885.6L1295.1 1886.2L1297.6 1887L1300.1 1887.7L1302.4 1888.5L1304.7 1889.3L1306.9 1890.1L1311 1891.9L1314.9 1893.8L1318.6 1895.8L1321.9 1898L1325.1 1900.2L1327.9 1902.6L1330.5 1905L1332.9 1907.6L1334.9 1910.3L1336.7 1913.1L1338.2 1916L1339 1918.3L1339.8 1920.7L1340.3 1923.8L1340.4 1927.6L1340.1 1930.7L1339.6 1933.3L1338.5 1936.5L1336.9 1939.8L1335.5 1942.2L1333.7 1944.7L1331.3 1947.5L1328.5 1950.2L1325.6 1952.7L1322.6 1954.9L1320.7 1956.2L1317.2 1958.3L1313.5 1960.2L1309.6 1962L1305.5 1963.7L1301.2 1965.2L1296.7 1966.6L1294.4 1967.3" stroke="#870000"/>
<path d="M1303.3 1976.1L1298.5 1977.3L1293.6 1978.3L1291.1 1978.8L1288.5 1979.3L1285.9 1979.7L1283.2 1980.1L1280.5 1980.4L1277.7 1980.7L1274.9 1981L1272 1981.2L1269 1981.4L1266 1981.5L1262.9 1981.6L1259.7 1981.6L1256.5 1981.5L1253.2 1981.4L1249.7 1981.3L1246.2 1981L1242.5 1980.7L1238.7 1980.2L1235.4 1979.8L1232.4 1979.3L1229.4 1978.8L1226.6 1978.2L1223.8 1977.6L1221.1 1977L1218.5 1976.3L1215.9 1975.6L1213.5 1974.9L1211.1 1974.2L1208.7 1973.4L1206.5 1972.6L1204.2 1971.7L1202.1 1970.9L1198 1969.1L1194.1 1967.2L1190.4 1965.2L1186.9 1963.1L1183.6 1960.9L1180.6 1958.6L1177.7 1956.3L1175.1 1953.8L1172.6 1951.3L1171.1 1949.5L1169.4 1947.3L1167.6 1944.6L1165.9 1941.7L1164.6 1938.7L1163.5 1935.6L1162.7 1932.3L1162.3 1929.1L1162.2 1925.4L1162.5 1922.2L1163.4 1918.2L1164.2 1915.6L1165.1 1913.5L1166.1 1911.2L1167.5 1908.8L1169.1 1906.3L1171.2 1903.7L1172.8 1901.8L1175.5 1899.1L1177 1897.6L1179.8 1895.2L1181.6 1893.8L1184.6 1891.7L1188 1889.5L1191.5 1887.5L1195.2 1885.5L1199.1 1883.7L1203.2 1882L1207.4 1880.4L1211.7 1878.9L1216.3 1877.6L1220.9 1876.3L1224.2 1875.6L1228.3 1874.7L1230.9 1874.2L1233.5 1873.8L1236.1 1873.4L1238.8 1873L1241.6 1872.7L1244.4 1872.4L1247.2 1872.2L1250.2 1872L1253.1 1871.9L1256.2 1871.8L1259.3 1871.7L1262.5 1871.7L1265.8 1871.8L1269.2 1871.9L1272.7 1872.1L1276.3 1872.4L1280 1872.8L1283.7 1873.3L1286.8 1873.7L1289.8 1874.2L1292.7 1874.8L1295.5 1875.4L1298.2 1876L1300.9 1876.6L1303.5 1877.3L1306 1878L1308.4 1878.8L1310.8 1879.5L1313.1 1880.3L1315.3 1881.1L1317.5 1882L1319.6 1882.9L1323.7 1884.7L1327.6 1886.6L1331.2 1888.6L1334.6 1890.7L1337.8 1892.9L1340.8 1895.2L1343.6 1897.6L1346.2 1900.1L1348.6 1902.6L1350.7 1905.3L1352.7 1908L1354.3 1910.7L1355.8 1913.8L1356.9 1916.9L1357.8 1920.1L1358.2 1923L1358.5 1927L1358.3 1930L1357.9 1932.6L1357 1936.1L1356.1 1938.7L1355.1 1941L1354 1943.1L1352.4 1945.7L1350.9 1947.9L1348.5 1950.8L1345.9 1953.6L1343.1 1956.2L1340.1 1958.7L1336.9 1961L1333.6 1963.2L1330.1 1965.3L1326.4 1967.3L1322.5 1969.2L1318.5 1970.9L1314.4 1972.5L1310 1974L1305.6 1975.4L1303.3 1976.1" stroke="#ca0000"/>
<path d="M1310.4 1983.6L1305.6 1984.8L1300.8 1985.9L1298.3 1986.4L1295.8 1986.9L1293.2 1987.4L1290.6 1987.8L1287.9 1988.2L1285.2 1988.5L1282.5 1988.9L1279.7 1989.2L1276.8 1989.4L1273.9 1989.6L1271 1989.8L1268 1989.9L1264.9 1990L1261.8 1990.1L1258.6 1990.1L1255.3 1990L1252 1989.9L1248.6 1989.7L1245 1989.5L1241.4 1989.2L1237.7 1988.8L1233.9 1988.3L1229.9 1987.8L1226.5 1987.2L1223.6 1986.7L1220.8 1986.1L1218 1985.5L1215.3 1984.9L1212.7 1984.2L1210.1 1983.5L1207.6 1982.8L1205.2 1982.1L1202.8 1981.3L1200.4 1980.5L1198.2 1979.7L1196 1978.9L1193.8 1978L1189.6 1976.2L1186.6 1974.8L1183.7 1973.4L1180 1971.4L1176.5 1969.3L1173.2 1967.2L1170 1965L1167 1962.7L1164.3 1960.3L1161.6 1957.8L1159.2 1955.3L1157 1952.7L1155 1950L1153.1 1947.2L1151.7 1944.6L1150.1 1941.3L1148.9 1938.3L1148 1935.1L1147.5 1932.2L1147.1 1928.3L1147 1924.9L1147.5 1921L1148.3 1917.1L1149 1914.7L1150.5 1911.1L1151.8 1908.4L1153.1 1906.1L1154.8 1903.6L1156.3 1901.4L1158.7 1898.5L1161.3 1895.7L1164.1 1893.1L1167.1 1890.6L1170.2 1888.2L1173.4 1885.9L1176.8 1883.7L1179.1 1882.4L1182.2 1880.7L1186 1878.8L1189.9 1876.9L1193.9 1875.2L1198.1 1873.6L1202.4 1872.1L1205.1 1871.2L1209.2 1870L1213.8 1868.8L1216.5 1868.1L1221.1 1867.1L1223.6 1866.6L1226.2 1866.2L1228.8 1865.7L1231.4 1865.3L1234.1 1864.9L1236.8 1864.6L1239.6 1864.3L1242.4 1864L1245.3 1863.8L1248.2 1863.6L1251.2 1863.4L1254.2 1863.3L1257.3 1863.2L1260.5 1863.2L1263.7 1863.2L1267 1863.3L1270.4 1863.5L1273.9 1863.7L1277.4 1863.9L1281.1 1864.3L1284.9 1864.7L1288.8 1865.2L1292.7 1865.8L1295.6 1866.4L1298.5 1866.9L1301.3 1867.5L1304 1868.1L1306.7 1868.8L1309.3 1869.4L1311.8 1870.1L1314.3 1870.9L1316.6 1871.6L1319.1 1872.4L1321.4 1873.2L1323.6 1874L1325.8 1874.9L1327.9 1875.7L1332.1 1877.5L1336 1879.4L1339.4 1881.2L1341.5 1882.4L1345 1884.5L1348.3 1886.7L1351.4 1888.9L1354.3 1891.2L1357.1 1893.6L1359.3 1895.7L1360.9 1897.4L1363.1 1900L1364.8 1902.1L1366.2 1904L1367.9 1906.7L1369.5 1909.7L1370.9 1912.7L1372 1915.8L1372.8 1919L1373.4 1922.4L1373.6 1925.8L1373.6 1929.5L1373 1933.3L1372.1 1937.2L1371.3 1939.5L1369.8 1943.1L1368.2 1946L1367 1948L1365 1951L1362.8 1953.7L1361.3 1955.5L1358.6 1958.2L1356.9 1959.8L1354.4 1962.1L1352.7 1963.5L1349.7 1965.7L1346.4 1967.9L1343 1970.1L1339.4 1972.1L1335.6 1974.1L1331.8 1975.9L1327.8 1977.6L1323.6 1979.3L1319.3 1980.8L1314.9 1982.2L1310.4 1983.6" stroke="#ff0e00"/>
<path d="M1327 1987L1323.2 1988.3L1318.6 1989.6L1314 1990.9L1309.2 1992.1L1304.3 1993.2L1301.8 1993.7L1299.3 1994.1L1296.7 1994.6L1294.1 1995L1291.4 1995.4L1288.7 1995.8L1286 1996.1L1283.2 1996.4L1280.4 1996.7L1277.5 1996.9L1274.6 1997.1L1271.7 1997.3L1268.7 1997.4L1265.6 1997.5L1262.5 1997.6L1259.3 1997.6L1256 1997.5L1252.7 1997.5L1249.3 1997.3L1245.9 1997.1L1242.3 1996.9L1238.7 1996.5L1235 1996.1L1231.6 1995.7L1228.5 1995.3L1225.4 1994.8L1222.4 1994.3L1219.5 1993.8L1216.6 1993.2L1213.9 1992.6L1211.1 1992L1208.5 1991.4L1205.9 1990.7L1203.3 1990L1200.9 1989.3L1198.4 1988.5L1196 1987.8L1193.7 1987L1191.4 1986.2L1189.2 1985.3L1187 1984.5L1184.9 1983.6L1180.7 1981.8L1176.8 1979.9L1173 1978L1169.3 1976L1168 1975.2M1152.6 1964L1150.9 1962.4L1148.4 1959.9L1146.1 1957.3L1144 1954.7L1142 1952L1140.2 1949.2L1139 1947L1137.9 1944.8L1136.6 1941.8L1135.5 1938.7L1134.6 1935.5L1134 1932.1L1133.7 1929.2L1133.7 1925.1L1133.9 1922.3L1134.3 1919.5L1135 1916.2L1135.8 1913.5L1136.9 1910.6L1138.5 1907.1L1139.9 1904.6L1141.4 1902.2L1143.2 1899.6L1144.7 1897.6L1147.2 1894.7L1149.8 1892L1152.6 1889.3L1154.6 1887.6L1157 1885.6L1159.6 1883.6L1161.8 1882.1L1165.1 1879.8L1167.1 1878.6L1170.4 1876.7L1174 1874.7L1177.8 1872.8L1181.7 1871L1185.8 1869.3L1189.9 1867.7L1194.2 1866.1L1198.6 1864.7L1201.7 1863.8L1205.5 1862.7L1210.2 1861.5L1215.1 1860.4L1217.6 1859.9L1220.1 1859.4L1222.7 1858.9L1225.3 1858.5L1227.9 1858.1L1230.6 1857.7L1233.3 1857.3L1236 1857L1238.8 1856.7L1241.7 1856.5L1244.6 1856.3L1247.5 1856.1L1250.5 1855.9L1253.5 1855.8L1256.6 1855.7L1259.8 1855.7L1263 1855.7L1266.1 1855.8L1269.6 1855.9L1273 1856.1L1276.5 1856.3L1280.1 1856.6L1283.8 1856.9L1287.4 1857.4L1290.6 1857.8L1293.7 1858.2L1296.8 1858.7L1299.7 1859.2L1302.6 1859.8L1305.4 1860.4L1308.2 1861L1310.9 1861.6L1313.4 1862.2L1316.1 1863L1318.5 1863.6L1321 1864.4L1323.4 1865.1L1325.8 1865.9L1328.1 1866.7L1330.4 1867.5L1332.6 1868.4L1334.7 1869.2L1337.2 1870.2L1341 1871.9L1344.9 1873.8L1348.6 1875.8L1352.2 1877.8L1355.7 1879.9L1358.9 1882.1L1362 1884.3L1365 1886.7L1367.7 1889L1370.4 1891.5L1372.7 1893.9L1375.1 1896.6L1377.2 1899.3L1379.1 1902L1380.6 1904.3L1381.7 1906.3L1383.2 1909.2L1384.1 1911.5L1384.9 1913.8L1385.9 1917L1386.5 1920.3L1386.9 1923.7L1387 1927.2L1386.8 1930.9L1386.3 1934.1L1385.8 1936.7L1384.8 1940L1383.6 1943L1382.6 1945.2L1381.4 1947.5L1380 1949.9L1378.7 1951.9L1376.5 1955L1374.2 1957.8L1371.5 1960.6L1368.8 1963.3L1365.9 1965.9L1363.8 1967.6L1361.3 1969.5L1358.1 1971.8L1354.7 1974L1351.2 1976.1L1347.6 1978.1L1347 1978.4" stroke="#ff5200"/>
<path d="M1291 2002.4L1285.9 2003L1283.1 2003.3L1280.2 2003.6L1277.3 2003.8L1274.4 2004L1271.4 2004.1L1268.4 2004.2L1265.3 2004.3L1262.2 2004.3L1259 2004.3L1255.7 2004.3L1252.4 2004.2L1249.1 2004.1L1245.9 2003.9L1242.2 2003.7L1238.7 2003.4L1235.3 2003.1L1232 2002.7L1228.8 2002.3L1225.6 2001.9L1222.5 2001.4L1219.5 2000.9L1216.6 2000.4L1213.7 1999.8L1210.9 1999.3L1208.2 1998.6L1205.7 1998.1L1202.8 1997.4L1200.2 1996.7L1197.7 1996L1195.6 1995.4M1395 1907.8L1396.2 1910.8L1397.3 1913.9L1398.1 1917.1L1398.6 1919.8L1399 1923.9L1399.1 1927.2L1398.9 1931.1L1398.3 1934.9L1397.7 1937.8L1396.8 1941L1395.9 1943.4L1394.3 1947L1392.8 1949.8L1391.6 1952L1389.8 1954.7L1388.4 1956.6L1386.1 1959.6L1383.6 1962.4L1383.1 1962.9M1125 1943.8L1123.8 1940.6L1122.9 1937.6L1122.3 1934.9L1121.9 1932.2L1121.6 1928.5L1121.6 1925L1121.9 1921.3L1122.3 1918.5L1123 1915.4L1123.8 1912.6L1125.1 1909.2L1126.1 1906.9L1127.2 1904.7L1128.5 1902.3L1130 1899.9L1131.7 1897.4L1133.8 1894.7L1135.2 1893L1137.8 1890.2L1139 1888.9M1226.7 1851.3L1230.6 1850.7L1233.4 1850.4L1236.2 1850.1L1239 1849.9L1241.9 1849.6L1244.8 1849.4L1247.7 1849.3L1250.8 1849.1L1253.8 1849L1256.9 1849L1260.1 1848.9L1263.3 1849L1266.6 1849L1269.9 1849.1L1273 1849.3L1276.6 1849.5L1280.2 1849.7L1283.6 1850.1L1287 1850.4L1290.3 1850.8L1293.5 1851.2L1296.6 1851.6L1299.5 1852.1L1302.6 1852.6L1305.5 1853.2L1308.1 1853.7L1311.1 1854.3L1313.9 1855L1316.5 1855.6L1319.1 1856.3L1321.7 1857L1324.2 1857.7L1326.7 1858.4L1327.8 1858.7" stroke="#ff9500"/>
<path d="M1272.7 2010.3L1268.1 2010.5L1264.3 2010.5L1261.1 2010.6L1257.9 2010.6L1254.7 2010.5L1251.5 2010.4L1248 2010.3L1244.5 2010.1L1241 2009.9L1237.4 2009.6L1233.8 2009.2L1230.2 2008.9L1226.9 2008.5L1223.8 2008L1220.7 2007.6L1217.6 2007.1L1214.7 2006.6L1211.8 2006L1209.6 2005.6M1409.5 1918.4L1409.9 1921.1L1410.2 1924.5L1410.2 1928L1410 1931.7L1409.5 1934.8L1409 1937.5L1408.1 1940.7L1407.1 1943.6L1406.1 1946.3L1404.5 1949.7L1402.9 1952.6L1401.7 1954.7L1401.4 1955M1110.9 1933.5L1110.5 1929.7L1110.4 1926.2L1110.6 1922.5L1110.9 1919.6L1111.4 1916.8L1112.3 1913.5L1113.1 1910.7L1114.2 1907.9L1115.8 1904.4L1117.1 1901.9L1118.5 1899.5L1120.1 1897M1245.6 1843.1L1248.7 1843L1251.7 1842.9L1254.8 1842.8L1258 1842.7L1261.1 1842.7L1264.4 1842.8L1267.7 1842.8L1271 1842.9L1274.4 1843.1L1277.9 1843.3L1281.4 1843.6L1285.1 1843.9L1288.8 1844.2L1292.1 1844.6L1295.3 1845L1298.5 1845.5L1301.5 1846L1304.5 1846.5L1307.5 1847L1310.3 1847.5L1313.2 1848.1L1313.2 1848.1" stroke="#ffd800"/>
<path d="M1258.5 2016.4L1254.5 2016.3L1250.6 2016.2L1246.8 2016L1243.1 2015.8L1239.5 2015.6L1236 2015.3L1232.5 2015L1229.2 2014.7L1225.9 2014.3L1222.7 2013.9L1220.5 2013.5M1420.6 1926.5L1420.4 1930.8L1420 1934.6L1419.5 1937.3L1418.7 1940.5L1417.9 1943.2L1416.5 1946.8L1415.6 1949M1100.1 1925.6L1100.3 1921.6L1100.8 1917.8L1101.4 1914.9L1102.3 1911.8L1103.1 1909.2L1104.5 1905.6L1105.6 1903.2M1260.1 1836.9L1264.2 1837L1268.2 1837L1272 1837.2L1275.8 1837.3L1279.4 1837.6L1283 1837.8L1286.4 1838.1L1289.8 1838.5L1293.1 1838.8L1296.4 1839.2L1299.5 1839.7L1302.2 1840" stroke="#ffff2b"/>
<path d="M1246.6 2021.5L1242.8 2021.3L1239.2 2021.1L1235.7 2020.8L1232.2 2020.5L1229.7 2020.2M1429.9 1933.3L1429.2 1937.5L1428.3 1941.4L1427.5 1943.8M1090.9 1918.9L1091.7 1914.8L1092.7 1910.9L1093.5 1908.4M1272.2 1831.7L1276 1831.9L1279.6 1832.1L1283.2 1832.4L1286.7 1832.6L1290.1 1833L1292.9 1833.2" stroke="#ffff90"/>
<path d="M1438.1 1939.3L1438.1 1939.3M1082.8 1913L1082.8 1913M1282.9 1827.1L1284.7 1827.3" stroke="#fffff5"/>
</g>
<g stroke-width="1" stroke-linejoin="round"><path d="M1084.7 1677.5Q1185.3 1876.1 1285.8 1588.7L1283.9 1581.3Q1183.3 1868.6 1082.8 1670z" fill="url(#s241)" stroke="url(#s241)"/><path d="M1086.7 1684.7Q1187.2 1883.3 1287.8 1596L1285.8 1588.7Q1185.3 1876.1 1084.7 1677.5z" fill="url(#s242)" stroke="url(#s242)"/><path d="M1088.6 1691.9Q1189.1 1890.5 1289.7 1603.1L1287.8 1596Q1187.2 1883.3 1086.7 1684.7z" fill="url(#s243)" stroke="url(#s243)"/><path d="M1090.5 1698.9Q1191.1 1897.5 1291.6 1610.1L1289.7 1603.1Q1189.1 1890.5 1088.6 1691.9z" fill="url(#s244)" stroke="url(#s244)"/><path d="M1092.4 1705.7Q1193 1904.3 1293.5 1617L1291.6 1610.1Q1191.1 1897.5 1090.5 1698.9z" fill="url(#s245)" stroke="url(#s245)"/><path d="M1094.4 1712.4Q1194.9 1911 1295.5 1623.6L1293.5 1617Q1193 1904.3 1092.4 1705.7z" fill="url(#s246)" stroke="url(#s246)"/><path d="M1096.3 1718.9Q1196.8 1917.5 1297.4 1630.2L1295.5 1623.6Q1194.9 1911 1094.4 1712.4z" fill="url(#s247)" stroke="url(#s247)"/><path d="M1098.2 1725.3Q1198.8 1923.9 1299.3 1636.5L1297.4 1630.2Q1196.8 1917.5 1096.3 1718.9z" fill="url(#s248)" stroke="url(#s248)"/><path d="M1100.1 1731.5Q1200.7 1930.1 1301.2 1642.8L1299.3 1636.5Q1198.8 1923.9 1098.2 1725.3z" fill="url(#s249)" stroke="url(#s249)"/><path d="M1102.1 1737.6Q1202.6 1936.2 1303.2 1648.8L1301.2 1642.8Q1200.7 1930.1 1100.1 1731.5z" fill="url(#s250)" stroke="url(#s250)"/><path d="M1104 1743.5Q1204.6 1942.1 1305.1 1654.7L1303.2 1648.8Q1202.6 1936.2 1102.1 1737.6z" fill="url(#s251)" stroke="url(#s251)"/><path d="M1105.9 1749.2Q1206.5 1947.8 1307 1660.5L1305.1 1654.7Q1204.6 1942.1 1104 1743.5z" fill="url(#s252)" stroke="url(#s252)"/><path d="M1107.9 1754.8Q1208.4 1953.5 1309 1666.1L1307 1660.5Q1206.5 1947.8 1105.9 1749.2z" fill="url(#s253)" stroke="url(#s253)"/><path d="M1109.8 1760.3Q1210.3 1958.9 1310.9 1671.6L1309 1666.1Q1208.4 1953.5 1107.9 1754.8z" fill="url(#s254)" stroke="url(#s254)"/><path d="M1111.7 1765.6Q1212.3 1964.2 1312.8 1676.9L1310.9 1671.6Q1210.3 1958.9 1109.8 1760.3z" fill="url(#s255)" stroke="url(#s255)"/><path d="M1113.6 1770.8Q1214.2 1969.4 1314.7 1682.1L1312.8 1676.9Q1212.3 1964.2 1111.7 1765.6z" fill="url(#s256)" stroke="url(#s256)"/><path d="M1115.6 1775.8Q1216.1 1974.4 1316.7 1687.1L1314.7 1682.1Q1214.2 1969.4 1113.6 1770.8z" fill="url(#s257)" stroke="url(#s257)"/><path d="M1117.5 1780.6Q1218 1979.2 1318.6 1691.9L1316.7 1687.1Q1216.1 1974.4 1115.6 1775.8z" fill="url(#s258)" stroke="url(#s258)"/><path d="M1119.4 1785.3Q1220 1983.9 1320.5 1696.6L1318.6 1691.9Q1218 1979.2 1117.5 1780.6z" fill="url(#s259)" stroke="url(#s259)"/><path d="M1121.3 1789.9Q1221.9 1988.5 1322.4 1701.2L1320.5 1696.6Q1220 1983.9 1119.4 1785.3z" fill="url(#s260)" stroke="url(#s260)"/><path d="M1123.3 1794.3Q1223.8 1992.9 1324.4 1705.6L1322.4 1701.2Q1221.9 1988.5 1121.3 1789.9z" fill="url(#s261)" stroke="url(#s261)"/><path d="M1125.2 1798.5Q1225.8 1997.1 1326.3 1709.8L1324.4 1705.6Q1223.8 1992.9 1123.3 1794.3z" fill="url(#s262)" stroke="url(#s262)"/><path d="M1127.1 1802.6Q1227.7 2001.2 1328.2 1713.9L1326.3 1709.8Q1225.8 1997.1 1125.2 1798.5z" fill="url(#s263)" stroke="url(#s263)"/><path d="M1129.1 1806.6Q1229.6 2005.2 1330.2 1717.9L1328.2 1713.9Q1227.7 2001.2 1127.1 1802.6z" fill="url(#s264)" stroke="url(#s264)"/><path d="M1131 1810.4Q1231.5 2009 1332.1 1721.6L1330.2 1717.9Q1229.6 2005.2 1129.1 1806.6z" fill="url(#s265)" stroke="url(#s265)"/><path d="M1132.9 1814Q1233.5 2012.6 1334 1725.3L1332.1 1721.6Q1231.5 2009 1131 1810.4z" fill="url(#s266)" stroke="url(#s266)"/><path d="M1134.8 1817.5Q1235.4 2016.1 1335.9 1728.8L1334 1725.3Q1233.5 2012.6 1132.9 1814z" fill="url(#s267)" stroke="url(#s267)"/><path d="M1136.8 1820.8Q1237.3 2019.4 1337.9 1732.1L1335.9 1728.8Q1235.4 2016.1 1134.8 1817.5z" fill="url(#s268)" stroke="url(#s268)"/><path d="M1138.7 1824Q1239.2 2022.6 1339.8 1735.3L1337.9 1732.1Q1237.3 2019.4 1136.8 1820.8z" fill="url(#s269)" stroke="url(#s269)"/><path d="M1140.6 1827.1Q1241.2 2025.7 1341.7 1738.3L1339.8 1735.3Q1239.2 2022.6 1138.7 1824z" fill="url(#s270)" stroke="url(#s270)"/><path d="M1142.6 1829.9Q1243.1 2028.5 1343.7 1741.2L1341.7 1738.3Q1241.2 2025.7 1140.6 1827.1z" fill="url(#s271)" stroke="url(#s271)"/><path d="M1144.5 1832.7Q1245 2031.3 1345.6 1743.9L1343.7 1741.2Q1243.1 2028.5 1142.6 1829.9z" fill="url(#s272)" stroke="url(#s272)"/><path d="M1146.4 1835.2Q1247 2033.8 1347.5 1746.5L1345.6 1743.9Q1245 2031.3 1144.5 1832.7z" fill="url(#s273)" stroke="url(#s273)"/><path d="M1148.3 1837.7Q1248.9 2036.3 1349.4 1748.9L1347.5 1746.5Q1247 2033.8 1146.4 1835.2z" fill="url(#s274)" stroke="url(#s274)"/><path d="M1150.3 1839.9Q1250.8 2038.5 1351.4 1751.2L1349.4 1748.9Q1248.9 2036.3 1148.3 1837.7z" fill="url(#s275)" stroke="url(#s275)"/><path d="M1152.2 1842.1Q1252.7 2040.7 1353.3 1753.3L1351.4 1751.2Q1250.8 2038.5 1150.3 1839.9z" fill="url(#s276)" stroke="url(#s276)"/><path d="M1154.1 1844Q1254.7 2042.6 1355.2 1755.3L1353.3 1753.3Q1252.7 2040.7 1152.2 1842.1z" fill="url(#s277)" stroke="url(#s277)"/><path d="M1156 1845.8Q1256.6 2044.4 1357.1 1757.1L1355.2 1755.3Q1254.7 2042.6 1154.1 1844z" fill="url(#s278)" stroke="url(#s278)"/><path d="M1158 1847.5Q1258.5 2046.1 1359.1 1758.8L1357.1 1757.1Q1256.6 2044.4 1156 1845.8z" fill="url(#s279)" stroke="url(#s279)"/><path d="M1159.9 1849Q1260.4 2047.6 1361 1760.3L1359.1 1758.8Q1258.5 2046.1 1158 1847.5z" fill="url(#s280)" stroke="url(#s280)"/><path d="M1161.8 1850.4Q1262.4 2049 1362.9 1761.7L1361 1760.3Q1260.4 2047.6 1159.9 1849z" fill="url(#s281)" stroke="url(#s281)"/><path d="M1163.8 1851.6Q1264.3 2050.2 1364.9 1762.9L1362.9 1761.7Q1262.4 2049 1161.8 1850.4z" fill="url(#s282)" stroke="url(#s282)"/><path d="M1165.7 1852.7Q1266.2 2051.3 1366.8 1763.9L1364.9 1762.9Q1264.3 2050.2 1163.8 1851.6z" fill="url(#s283)" stroke="url(#s283)"/><path d="M1167.6 1853.6Q1268.2 2052.2 1368.7 1764.8L1366.8 1763.9Q1266.2 2051.3 1165.7 1852.7z" fill="url(#s284)" stroke="url(#s284)"/><path d="M1169.5 1854.3Q1270.1 2052.9 1370.6 1765.6L1368.7 1764.8Q1268.2 2052.2 1167.6 1853.6z" fill="url(#s285)" stroke="url(#s285)"/><path d="M1171.5 1854.9Q1272 2053.5 1372.6 1766.2L1370.6 1765.6Q1270.1 2052.9 1169.5 1854.3z" fill="url(#s286)" stroke="url(#s286)"/><path d="M1173.4 1855.4Q1273.9 2054 1374.5 1766.6L1372.6 1766.2Q1272 2053.5 1171.5 1854.9z" fill="url(#s287)" stroke="url(#s287)"/><path d="M1175.3 1855.7Q1275.9 2054.3 1376.4 1766.9L1374.5 1766.6Q1273.9 2054 1173.4 1855.4z" fill="url(#s288)" stroke="url(#s288)"/><path d="M1177.2 1855.8Q1277.8 2054.4 1378.3 1767.1L1376.4 1766.9Q1275.9 2054.3 1175.3 1855.7z" fill="url(#s289)" stroke="url(#s289)"/><path d="M1179.2 1855.8Q1279.7 2054.4 1380.3 1767.1L1378.3 1767.1Q1277.8 2054.4 1177.2 1855.8z" fill="url(#s290)" stroke="url(#s290)"/><path d="M1181.1 1855.7Q1281.7 2054.3 1382.2 1766.9L1380.3 1767.1Q1279.7 2054.4 1179.2 1855.8z" fill="url(#s291)" stroke="url(#s291)"/><path d="M1183 1855.3Q1283.6 2053.9 1384.1 1766.6L1382.2 1766.9Q1281.7 2054.3 1181.1 1855.7z" fill="url(#s292)" stroke="url(#s292)"/><path d="M1185 1854.9Q1285.5 2053.5 1386.1 1766.2L1384.1 1766.6Q1283.6 2053.9 1183 1855.3z" fill="url(#s293)" stroke="url(#s293)"/><path d="M1186.9 1854.3Q1287.4 2052.9 1388 1765.5L1386.1 1766.2Q1285.5 2053.5 1185 1854.9z" fill="url(#s294)" stroke="url(#s294)"/><path d="M1188.8 1853.5Q1289.4 2052.1 1389.9 1764.8L1388 1765.5Q1287.4 2052.9 1186.9 1854.3z" fill="url(#s295)" stroke="url(#s295)"/><path d="M1190.7 1852.6Q1291.3 2051.2 1391.8 1763.9L1389.9 1764.8Q1289.4 2052.1 1188.8 1853.5z" fill="url(#s296)" stroke="url(#s296)"/><path d="M1192.7 1851.5Q1293.2 2050.1 1393.8 1762.8L1391.8 1763.9Q1291.3 2051.2 1190.7 1852.6z" fill="url(#s297)" stroke="url(#s297)"/><path d="M1194.6 1850.3Q1295.1 2048.9 1395.7 1761.6L1393.8 1762.8Q1293.2 2050.1 1192.7 1851.5z" fill="url(#s298)" stroke="url(#s298)"/><path d="M1196.5 1848.9Q1297.1 2047.5 1397.6 1760.2L1395.7 1761.6Q1295.1 2048.9 1194.6 1850.3z" fill="url(#s299)" stroke="url(#s299)"/><path d="M1198.5 1847.4Q1299 2046 1399.5 1758.7L1397.6 1760.2Q1297.1 2047.5 1196.5 1848.9z" fill="url(#s300)" stroke="url(#s300)"/><path d="M1200.4 1845.7Q1300.9 2044.3 1401.5 1757L1399.5 1758.7Q1299 2046 1198.5 1847.4z" fill="url(#s301)" stroke="url(#s301)"/><path d="M1202.3 1843.9Q1302.9 2042.5 1403.4 1755.2L1401.5 1757Q1300.9 2044.3 1200.4 1845.7z" fill="url(#s302)" stroke="url(#s302)"/><path d="M1204.2 1841.9Q1304.8 2040.5 1405.3 1753.2L1403.4 1755.2Q1302.9 2042.5 1202.3 1843.9z" fill="url(#s303)" stroke="url(#s303)"/><path d="M1206.2 1839.8Q1306.7 2038.4 1407.3 1751.1L1405.3 1753.2Q1304.8 2040.5 1204.2 1841.9z" fill="url(#s304)" stroke="url(#s304)"/><path d="M1208.1 1837.5Q1308.6 2036.1 1409.2 1748.8L1407.3 1751.1Q1306.7 2038.4 1206.2 1839.8z" fill="url(#s305)" stroke="url(#s305)"/><path d="M1210 1835.1Q1310.6 2033.7 1411.1 1746.4L1409.2 1748.8Q1308.6 2036.1 1208.1 1837.5z" fill="url(#s306)" stroke="url(#s306)"/><path d="M1211.9 1832.5Q1312.5 2031.1 1413 1743.8L1411.1 1746.4Q1310.6 2033.7 1210 1835.1z" fill="url(#s307)" stroke="url(#s307)"/><path d="M1213.9 1829.8Q1314.4 2028.4 1415 1741L1413 1743.8Q1312.5 2031.1 1211.9 1832.5z" fill="url(#s308)" stroke="url(#s308)"/><path d="M1215.8 1826.9Q1316.3 2025.5 1416.9 1738.1L1415 1741Q1314.4 2028.4 1213.9 1829.8z" fill="url(#s309)" stroke="url(#s309)"/><path d="M1217.7 1823.8Q1318.3 2022.4 1418.8 1735.1L1416.9 1738.1Q1316.3 2025.5 1215.8 1826.9z" fill="url(#s310)" stroke="url(#s310)"/><path d="M1219.7 1820.6Q1320.2 2019.2 1420.8 1731.9L1418.8 1735.1Q1318.3 2022.4 1217.7 1823.8z" fill="url(#s311)" stroke="url(#s311)"/><path d="M1221.6 1817.3Q1322.1 2015.9 1422.7 1728.6L1420.8 1731.9Q1320.2 2019.2 1219.7 1820.6z" fill="url(#s312)" stroke="url(#s312)"/><path d="M1223.5 1813.8Q1324.1 2012.4 1424.6 1725.1L1422.7 1728.6Q1322.1 2015.9 1221.6 1817.3z" fill="url(#s313)" stroke="url(#s313)"/><path d="M1225.4 1810.1Q1326 2008.7 1426.5 1721.4L1424.6 1725.1Q1324.1 2012.4 1223.5 1813.8z" fill="url(#s314)" stroke="url(#s314)"/><path d="M1227.4 1806.3Q1327.9 2004.9 1428.5 1717.6L1426.5 1721.4Q1326 2008.7 1225.4 1810.1z" fill="url(#s315)" stroke="url(#s315)"/><path d="M1229.3 1802.4Q1329.8 2001 1430.4 1713.7L1428.5 1717.6Q1327.9 2004.9 1227.4 1806.3z" fill="url(#s316)" stroke="url(#s316)"/><path d="M1231.2 1798.3Q1331.8 1996.9 1432.3 1709.5L1430.4 1713.7Q1329.8 2001 1229.3 1802.4z" fill="url(#s317)" stroke="url(#s317)"/><path d="M1233.1 1794Q1333.7 1992.6 1434.2 1705.3L1432.3 1709.5Q1331.8 1996.9 1231.2 1798.3z" fill="url(#s318)" stroke="url(#s318)"/><path d="M1235.1 1789.6Q1335.6 1988.2 1436.2 1700.9L1434.2 1705.3Q1333.7 1992.6 1233.1 1794z" fill="url(#s319)" stroke="url(#s319)"/><path d="M1237 1785.1Q1337.5 1983.7 1438.1 1696.3L1436.2 1700.9Q1335.6 1988.2 1235.1 1789.6z" fill="url(#s320)" stroke="url(#s320)"/></g>
<path d="M1082.8 1667.6L1082.8 1913L1237 2025.6L1438.1 1939.3M1237 2025.6l4.6 3.4M1237 2025.6l-5.2 2.3M1337.5 1982.4l4.6 3.4M1159.9 1969.3l-5.2 2.3M1438.1 1939.3l4.6 3.4M1082.8 1913l-5.2 2.3M1082.8 1852.3l-5 -2.2M1082.8 1791.5l-5 -2.2M1082.8 1730.8l-5 -2.2M1082.8 1670l-5 -2.2" stroke="#262626" stroke-width="1.4" fill="none" stroke-linejoin="round"/>
<text transform="translate(1249.5 2056.4) scale(1 1.08)" font-size="21" fill="#262626">-100</text>
<text transform="translate(1223 2055.1) scale(1 1.08)" font-size="21" text-anchor="end" fill="#262626">-100</text>
<text transform="translate(1350 2013.2) scale(1 1.08)" font-size="21" fill="#262626">0</text>
<text transform="translate(1145.9 1998.8) scale(1 1.08)" font-size="21" text-anchor="end" fill="#262626">0</text>
<text transform="translate(1450.6 1970.1) scale(1 1.08)" font-size="21" fill="#262626">100</text>
<text transform="translate(1068.8 1943.4) scale(1 1.08)" font-size="21" text-anchor="end" fill="#262626">100</text>
<text transform="translate(1069.8 1853.3) scale(1 1.08)" font-size="21" text-anchor="end" fill="#262626">0.5</text>
<text transform="translate(1069.8 1792.5) scale(1 1.08)" font-size="21" text-anchor="end" fill="#262626">1</text>
<text transform="translate(1069.8 1731.8) scale(1 1.08)" font-size="21" text-anchor="end" fill="#262626">1.5</text>
<text transform="translate(1069.8 1671) scale(1 1.08)" font-size="21" text-anchor="end" fill="#262626">2</text>
<text x="1023.7" y="1632.7" font-size="24" fill="#707070">×</text>
<text transform="translate(1041.3 1630.9) scale(1 1.1)" font-size="21" fill="#262626">10</text>
<text transform="translate(1065.1 1619.5) scale(1 1.12)" font-size="17" fill="#262626">4</text>
<text x="1365.5" y="2068.9" font-size="24" fill="#262626">x</text>
<text transform="translate(1378.8 2080.6) scale(1 1.05)" font-size="19" fill="#262626">1</text>
<text x="1097.9" y="2062.8" font-size="24" fill="#262626">x</text>
<text transform="translate(1111.1 2075.1) scale(1 1.05)" font-size="19" fill="#262626">2</text>
<g transform="translate(1014.9 1862.9) rotate(-90)" font-size="24" fill="#262626"><text x="0" y="0">F6(</text><text x="48.8" y="0">x</text><text x="61.2" y="11.3" font-size="17.5">1</text><text x="83.5" y="0">,</text><text x="98" y="0">x</text><text x="111.8" y="11.3" font-size="17.5">2</text><text x="133.5" y="0">)</text></g>
<text x="1260.9" y="1569.4" font-size="24" text-anchor="middle" font-weight="bold" fill="#111">Parameter space</text>
<path d="M698.5 39.4V481.8M768.3 39.4V481.8M838.9 39.4V481.8M908.4 39.4V481.8M629.5 44.9H978.6M629.5 187.2H978.6M629.5 329.6H978.6M629.5 471.8H978.6" stroke="#d2d2d2" stroke-width="1.5" fill="none"/>
<path d="M632.5 59.1H978.6M632.5 73.4H978.6M632.5 87.6H978.6M632.5 101.8H978.6M632.5 116.1H978.6M632.5 130.3H978.6M632.5 144.5H978.6M632.5 158.7H978.6M632.5 173H978.6M632.5 201.4H978.6M632.5 215.7H978.6M632.5 229.9H978.6M632.5 244.1H978.6M632.5 258.4H978.6M632.5 272.6H978.6M632.5 286.8H978.6M632.5 301H978.6M632.5 315.3H978.6M632.5 343.7H978.6M632.5 358H978.6M632.5 372.2H978.6M632.5 386.4H978.6M632.5 400.6H978.6M632.5 414.9H978.6M632.5 429.1H978.6M632.5 443.3H978.6M632.5 457.6H978.6" stroke="#c4c4c4" stroke-width="1.5" stroke-dasharray="1.5 4.05" fill="none"/>
<path d="M629.5 39.4H978.6V481.8H629.5zM698.5 481.8v-4.5M698.5 39.4v4.5M768.3 481.8v-4.5M768.3 39.4v4.5M838.9 481.8v-4.5M838.9 39.4v4.5M908.4 481.8v-4.5M908.4 39.4v4.5M629.5 44.9h4.5M978.6 44.9h-4.5M629.5 187.2h4.5M978.6 187.2h-4.5M629.5 329.6h4.5M978.6 329.6h-4.5M629.5 471.8h4.5M978.6 471.8h-4.5" stroke="#262626" stroke-width="1.5" fill="none"/>
<g clip-path="url(#c1)" fill="none" stroke-width="4.5" stroke-linejoin="round" stroke-linecap="butt">
<path d="M629.6 41.5L632.8 51.5L636.4 61.6L638.8 71.6L642.4 81.6L645.5 91.7L648.7 101.7L652.1 111.7L655.5 121.8L658.9 131.8L662.3 141.8L665.4 151.9L669 161.9L671.7 171.9L675.7 182L678 192L682 202L685 212.1L688.4 222.1L691.2 232.1L694.5 242.2L698.5 252.2L701.9 262.2L704.5 272.3L708.1 282.3L711.6 292.4L714.9 302.4L717.3 312.4L720.5 322.5L723.9 332.5L727.9 342.5L730.3 352.6L733.9 362.6L737.8 372.6L740.6 382.7L744 392.7L746.9 402.7L750.6 412.8L754 422.8L756.4 432.8L760.4 442.9L763.9 452.9L766.9 462.9L769.7 473L773.2 483" stroke="#a2142f"/>
<path d="M629.2 39.6L650.5 42.6L701.5 43.8L768.7 45.5L839.9 48.3L908.1 51.2L945.8 52.8L978.4 54.8" stroke="#ff0000"/>
<path d="M629.2 39.2L650.5 46.3L698.4 55.5L742.2 64.6L768.2 69.7L823.6 79.9L905.1 97.2L964.1 108.8L978.4 112.5" stroke="#00ff00"/>
<path d="M629.2 39.2L701.5 39.6L768.7 41.2L803.3 43.8L839.9 47.9L908.1 54L978.4 59.7" stroke="#0000ff"/>
<path d="M629.2 39.6L681.1 40.6L768.7 41.8L839.9 43L908.1 45.1L978.4 48.7" stroke="#00ffff"/>
<path d="M629.2 39.2L660.7 53.4L698.4 73.8L721.8 85L768.2 100.3L803.3 111.5L823.6 116.5L864.4 123.7L915.3 128.8L964.1 130.2L978.4 130.2" stroke="#ff00ff"/>
<path d="M629.2 39.2L650.5 49.3L670.9 53.4L698.4 54.4L715.7 60.5L732 69.7L752.4 86L768.2 100.3L789 117.6L803.3 133.9L823.6 152.2L854.2 184.8L884.7 213.3L915.3 237.7L945.8 258.1L964.1 265.8L978.4 270.3" stroke="#000000"/>
<path d="M629.2 39.2L698.4 84L768.2 124.7L823.6 160.3L864.4 184.8L905.1 201.1L935.6 206.8L964.1 207.2L978.4 207.2" stroke="#77ac30"/>
</g>
<rect x="824" y="60.3" width="138" height="249.2" fill="#fff" stroke="#262626" stroke-width="1.4"/>
<path d="M831.8 78.3H899.5" stroke="#a2142f" stroke-width="4.2"/>
<text transform="translate(905.5 86.5) scale(1 1.07)" font-size="20" fill="#111">LCA</text>
<path d="M831.8 108.8H899.5" stroke="#ff0000" stroke-width="4.2"/>
<text transform="translate(905.5 117) scale(1 1.07)" font-size="20" fill="#111">PSO</text>
<path d="M831.8 139.2H899.5" stroke="#00ff00" stroke-width="4.2"/>
<text transform="translate(905.5 147.4) scale(1 1.07)" font-size="20" fill="#111">TSA</text>
<path d="M831.8 169.7H899.5" stroke="#0000ff" stroke-width="4.2"/>
<text transform="translate(905.5 177.9) scale(1 1.07)" font-size="20" fill="#111">SSA</text>
<path d="M831.8 200.1H899.5" stroke="#00ffff" stroke-width="4.2"/>
<text transform="translate(905.5 208.3) scale(1 1.07)" font-size="20" fill="#111">MVO</text>
<path d="M831.8 230.6H899.5" stroke="#ff00ff" stroke-width="4.2"/>
<text transform="translate(905.5 238.8) scale(1 1.07)" font-size="20" fill="#111">GWO</text>
<path d="M831.8 261H899.5" stroke="#000000" stroke-width="4.2"/>
<text transform="translate(905.5 269.2) scale(1 1.07)" font-size="20" fill="#111">WOA</text>
<path d="M831.8 291.5H899.5" stroke="#77ac30" stroke-width="4.2"/>
<text transform="translate(905.5 299.7) scale(1 1.07)" font-size="20" fill="#111">GJO</text>
<text transform="translate(698 516.6) scale(1 1.08)" font-size="21" text-anchor="middle" fill="#262626">200</text>
<text transform="translate(767.8 516.6) scale(1 1.08)" font-size="21" text-anchor="middle" fill="#262626">400</text>
<text transform="translate(838.4 516.6) scale(1 1.08)" font-size="21" text-anchor="middle" fill="#262626">600</text>
<text transform="translate(907.9 516.6) scale(1 1.08)" font-size="21" text-anchor="middle" fill="#262626">800</text>
<text transform="translate(978.1 516.6) scale(1 1.08)" font-size="21" text-anchor="middle" fill="#262626">1000</text>
<text transform="translate(618.7 45.8) scale(1 1.2)" font-size="16.5" text-anchor="end" fill="#262626">0</text>
<text transform="translate(609 57.5) scale(1 1.17)" font-size="21" text-anchor="end" fill="#262626">10</text>
<text transform="translate(618.7 188.1) scale(1 1.2)" font-size="16.5" text-anchor="end" fill="#262626">-100</text>
<text transform="translate(585.2 199.8) scale(1 1.17)" font-size="21" text-anchor="end" fill="#262626">10</text>
<text transform="translate(618.7 330.5) scale(1 1.2)" font-size="16.5" text-anchor="end" fill="#262626">-200</text>
<text transform="translate(585.2 342.2) scale(1 1.17)" font-size="21" text-anchor="end" fill="#262626">10</text>
<text transform="translate(618.7 472.7) scale(1 1.2)" font-size="16.5" text-anchor="end" fill="#262626">-300</text>
<text transform="translate(585.2 484.4) scale(1 1.17)" font-size="21" text-anchor="end" fill="#262626">10</text>
<text x="804.3" y="552.6" font-size="24" text-anchor="middle" fill="#262626">Iteration</text>
<text x="803.5" y="28.5" font-size="24" text-anchor="middle" font-weight="bold" fill="#111">Objective space</text>
<text transform="translate(547.7 261.1) rotate(-90)" font-size="24" text-anchor="middle" textLength="310" lengthAdjust="spacingAndGlyphs" fill="#262626">Best score obtained so far</text>
<path d="M1705.8 39.5V481.8M1773.9 39.5V481.8M1842.6 39.5V481.8M1910.9 39.5V481.8M1637.8 56.1H1979.2M1637.8 195.4H1979.2M1637.8 333.9H1979.2M1637.8 472.6H1979.2" stroke="#d2d2d2" stroke-width="1.5" fill="none"/>
<path d="M1640.8 42.2H1979.2M1640.8 70H1979.2M1640.8 83.9H1979.2M1640.8 97.7H1979.2M1640.8 111.6H1979.2M1640.8 125.5H1979.2M1640.8 139.4H1979.2M1640.8 153.3H1979.2M1640.8 167.1H1979.2M1640.8 181H1979.2M1640.8 208.8H1979.2M1640.8 222.7H1979.2M1640.8 236.5H1979.2M1640.8 250.4H1979.2M1640.8 264.3H1979.2M1640.8 278.2H1979.2M1640.8 292.1H1979.2M1640.8 305.9H1979.2M1640.8 319.8H1979.2M1640.8 347.6H1979.2M1640.8 361.5H1979.2M1640.8 375.3H1979.2M1640.8 389.2H1979.2M1640.8 403.1H1979.2M1640.8 417H1979.2M1640.8 430.9H1979.2M1640.8 444.7H1979.2M1640.8 458.6H1979.2" stroke="#c4c4c4" stroke-width="1.5" stroke-dasharray="1.5 4.05" fill="none"/>
<path d="M1637.8 39.5H1979.2V481.8H1637.8zM1705.8 481.8v-4.5M1705.8 39.5v4.5M1773.9 481.8v-4.5M1773.9 39.5v4.5M1842.6 481.8v-4.5M1842.6 39.5v4.5M1910.9 481.8v-4.5M1910.9 39.5v4.5M1637.8 56.1h4.5M1979.2 56.1h-4.5M1637.8 195.4h4.5M1979.2 195.4h-4.5M1637.8 333.9h4.5M1979.2 333.9h-4.5M1637.8 472.6h4.5M1979.2 472.6h-4.5" stroke="#262626" stroke-width="1.5" fill="none"/>
<g clip-path="url(#c2)" fill="none" stroke-width="4.5" stroke-linejoin="round" stroke-linecap="butt">
<path d="M1637.8 46L1638.5 58L1644.5 67.7L1650.2 77.3L1656.9 87L1662.9 96.6L1669 106.3L1675 116L1681 125.6L1687.6 135.3L1693.3 144.9L1699.4 154.6L1705.9 164.2L1711.9 173.9L1717.6 183.6L1724.1 193.2L1729.9 202.9L1736.7 212.5L1742.9 222.2L1748.6 231.9L1755.1 241.5L1760.3 251.2L1766.9 260.8L1772.5 270.5L1779.1 280.2L1784.8 289.8L1791 299.5L1797.6 309.1L1803.3 318.8L1809.3 328.5L1815.5 338.1L1821.8 347.8L1828.1 357.4L1833.9 367.1L1840.5 376.8L1846.4 386.4L1852.6 396.1L1858.5 405.7L1865.1 415.4L1871 425L1876.6 434.7L1883.4 444.4L1889.8 454L1895.4 463.7L1902 473.3L1907.6 483" stroke="#a2142f"/>
<path d="M1637.7 39.6L1637.7 54.4L1649.3 54.8L1711.5 56.1L1833.6 58.1L1935.4 59.9L1979.2 61.2" stroke="#ff0000"/>
<path d="M1637.7 39.6L1637.7 54.4L1680.9 60.5L1705.8 63.6L1773.6 70.7L1833.6 77.9L1915.1 88L1964 94.1L1979.2 96.2" stroke="#00ff00"/>
<path d="M1637.7 39.6L1637.7 52.8L1649.3 53.6L1711.5 54.6L1833.6 56.7L1979.2 59.1" stroke="#0000ff"/>
<path d="M1637.7 39.6L1641.2 42.2L1649.3 51.6L1711.5 53L1833.6 55L1979.2 57.3" stroke="#00ffff"/>
<path d="M1637.7 39.6L1637.7 54.4L1670.7 62.6L1705.8 71.7L1773.6 88L1803.1 93.1L1828.5 96.2L1874.4 100.3L1925.3 102.9L1964 103.3L1979.2 103.3" stroke="#ff00ff"/>
<path d="M1637.7 39.6L1637.7 54.4L1660.5 60.5L1680.9 61.6L1701.3 62.6L1721.6 67.7L1752.2 77.9L1773.6 87L1803.1 103.3L1828.5 119.6L1864.2 144L1904.9 170.5L1935.4 188.8L1964 202.1L1979.2 207.6" stroke="#000000"/>
<path d="M1637.7 39.6L1637.7 54.4L1705.8 79.9L1773.6 101.3L1828.5 123.7L1874.4 138.9L1915.1 146.5L1945.6 148.1L1964 148.1L1979.2 148.1" stroke="#77ac30"/>
</g>
<rect x="1828" y="60.3" width="134.6" height="249.2" fill="#fff" stroke="#262626" stroke-width="1.4"/>
<path d="M1835.8 78.3H1903.5" stroke="#a2142f" stroke-width="4.2"/>
<text transform="translate(1909.5 86.5) scale(1 1.07)" font-size="20" fill="#111">LCA</text>
<path d="M1835.8 108.8H1903.5" stroke="#ff0000" stroke-width="4.2"/>
<text transform="translate(1909.5 117) scale(1 1.07)" font-size="20" fill="#111">PSO</text>
<path d="M1835.8 139.2H1903.5" stroke="#00ff00" stroke-width="4.2"/>
<text transform="translate(1909.5 147.4) scale(1 1.07)" font-size="20" fill="#111">TSA</text>
<path d="M1835.8 169.7H1903.5" stroke="#0000ff" stroke-width="4.2"/>
<text transform="translate(1909.5 177.9) scale(1 1.07)" font-size="20" fill="#111">SSA</text>
<path d="M1835.8 200.1H1903.5" stroke="#00ffff" stroke-width="4.2"/>
<text transform="translate(1909.5 208.3) scale(1 1.07)" font-size="20" fill="#111">MVO</text>
<path d="M1835.8 230.6H1903.5" stroke="#ff00ff" stroke-width="4.2"/>
<text transform="translate(1909.5 238.8) scale(1 1.07)" font-size="20" fill="#111">GWO</text>
<path d="M1835.8 261H1903.5" stroke="#000000" stroke-width="4.2"/>
<text transform="translate(1909.5 269.2) scale(1 1.07)" font-size="20" fill="#111">WOA</text>
<path d="M1835.8 291.5H1903.5" stroke="#77ac30" stroke-width="4.2"/>
<text transform="translate(1909.5 299.7) scale(1 1.07)" font-size="20" fill="#111">GJO</text>
<text transform="translate(1705.3 516.6) scale(1 1.08)" font-size="21" text-anchor="middle" fill="#262626">200</text>
<text transform="translate(1773.4 516.6) scale(1 1.08)" font-size="21" text-anchor="middle" fill="#262626">400</text>
<text transform="translate(1842.1 516.6) scale(1 1.08)" font-size="21" text-anchor="middle" fill="#262626">600</text>
<text transform="translate(1910.4 516.6) scale(1 1.08)" font-size="21" text-anchor="middle" fill="#262626">800</text>
<text transform="translate(1978.7 516.6) scale(1 1.08)" font-size="21" text-anchor="middle" fill="#262626">1000</text>
<text transform="translate(1627 57) scale(1 1.2)" font-size="16.5" text-anchor="end" fill="#262626">0</text>
<text transform="translate(1617.3 68.7) scale(1 1.17)" font-size="21" text-anchor="end" fill="#262626">10</text>
<text transform="translate(1627 196.3) scale(1 1.2)" font-size="16.5" text-anchor="end" fill="#262626">-100</text>
<text transform="translate(1593.5 208) scale(1 1.17)" font-size="21" text-anchor="end" fill="#262626">10</text>
<text transform="translate(1627 334.8) scale(1 1.2)" font-size="16.5" text-anchor="end" fill="#262626">-200</text>
<text transform="translate(1593.5 346.5) scale(1 1.17)" font-size="21" text-anchor="end" fill="#262626">10</text>
<text transform="translate(1627 473.5) scale(1 1.2)" font-size="16.5" text-anchor="end" fill="#262626">-300</text>
<text transform="translate(1593.5 485.2) scale(1 1.17)" font-size="21" text-anchor="end" fill="#262626">10</text>
<text x="1808.8" y="552.6" font-size="24" text-anchor="middle" fill="#262626">Iteration</text>
<text x="1808" y="28.5" font-size="24" text-anchor="middle" font-weight="bold" fill="#111">Objective space</text>
<text transform="translate(1556 261.1) rotate(-90)" font-size="24" text-anchor="middle" textLength="310" lengthAdjust="spacingAndGlyphs" fill="#262626">Best score obtained so far</text>
<path d="M695.1 824.6V1266.7M766.3 824.6V1266.7M838.6 824.6V1266.7M909.7 824.6V1266.7M624.3 829.9H980.4M624.3 973.4H980.4M624.3 1115.6H980.4M624.3 1258H980.4" stroke="#d2d2d2" stroke-width="1.5" fill="none"/>
<path d="M627.3 844.2H980.4M627.3 858.4H980.4M627.3 872.7H980.4M627.3 887H980.4M627.3 901.2H980.4M627.3 915.5H980.4M627.3 929.8H980.4M627.3 944.1H980.4M627.3 958.3H980.4M627.3 986.9H980.4M627.3 1001.1H980.4M627.3 1015.4H980.4M627.3 1029.7H980.4M627.3 1044H980.4M627.3 1058.2H980.4M627.3 1072.5H980.4M627.3 1086.8H980.4M627.3 1101H980.4M627.3 1129.6H980.4M627.3 1143.8H980.4M627.3 1158.1H980.4M627.3 1172.4H980.4M627.3 1186.7H980.4M627.3 1200.9H980.4M627.3 1215.2H980.4M627.3 1229.5H980.4M627.3 1243.7H980.4" stroke="#c4c4c4" stroke-width="1.5" stroke-dasharray="1.5 4.05" fill="none"/>
<path d="M624.3 824.6H980.4V1266.7H624.3zM695.1 1266.7v-4.5M695.1 824.6v4.5M766.3 1266.7v-4.5M766.3 824.6v4.5M838.6 1266.7v-4.5M838.6 824.6v4.5M909.7 1266.7v-4.5M909.7 824.6v4.5M624.3 829.9h4.5M980.4 829.9h-4.5M624.3 973.4h4.5M980.4 973.4h-4.5M624.3 1115.6h4.5M980.4 1115.6h-4.5M624.3 1258h4.5M980.4 1258h-4.5" stroke="#262626" stroke-width="1.5" fill="none"/>
<g clip-path="url(#c3)" fill="none" stroke-width="4.5" stroke-linejoin="round" stroke-linecap="butt">
<path d="M624.2 825.2L630.3 838.4L635.4 851.7L640.5 861.8L645.5 874.1L650.6 889.3L655.7 902.6L660.8 914.8L665.9 925L671 938.2L676.1 949.4L681.2 962.6L686.3 975.9L691.4 987.1L696.5 996.2L701.5 1009.5L706.6 1020.7L711.7 1031.9L716.8 1044.9L722.8 1060.8L728.9 1076.8L734 1092.7L740.3 1108.6L746.9 1124.6L752.7 1140.5L757.2 1156.5L763.2 1172.4L768.8 1188.3L775.4 1204.3L780.5 1220.2L787.2 1236.1L793.4 1252.1L799 1268" stroke="#a2142f"/>
<path d="M624.2 825.6L737.2 827.6L859.4 830.1L980.5 833.3" stroke="#ff0000"/>
<path d="M624.2 825.2L695 831.3L766.1 835.4L839 840.5L909.7 845.5L980.5 850" stroke="#00ff00"/>
<path d="M624.2 826.2L818.6 828L980.5 831.7" stroke="#0000ff"/>
<path d="M624.2 825.2L798.3 826.8L980.5 830.5" stroke="#00ffff"/>
<path d="M624.2 825.2L676.1 831.3L695 834.3L737.2 839.4L766.1 843.5L822.7 848.6L900.1 852.7L963.2 853.9L980.5 853.9" stroke="#ff00ff"/>
<path d="M624.2 824.6L798.3 824.8L980.5 825.4" stroke="#000000"/>
<path d="M624.2 824.2L645.5 829.3L663.9 833.3L684.2 834.3L695 839.4L716.8 846.6L737.2 850.6L766.1 856.7L788.1 859.8L822.7 871L869.5 882.2L910.3 888.3L940.8 889.9L963.2 889.9L980.5 889.9" stroke="#77ac30"/>
</g>
<rect x="822.5" y="845.5" width="140.8" height="249.5" fill="#fff" stroke="#262626" stroke-width="1.4"/>
<path d="M830.3 863.5H898" stroke="#a2142f" stroke-width="4.2"/>
<text transform="translate(904 871.7) scale(1 1.07)" font-size="20" fill="#111">LCA</text>
<path d="M830.3 894H898" stroke="#ff0000" stroke-width="4.2"/>
<text transform="translate(904 902.2) scale(1 1.07)" font-size="20" fill="#111">PSO</text>
<path d="M830.3 924.5H898" stroke="#00ff00" stroke-width="4.2"/>
<text transform="translate(904 932.7) scale(1 1.07)" font-size="20" fill="#111">TSA</text>
<path d="M830.3 955H898" stroke="#0000ff" stroke-width="4.2"/>
<text transform="translate(904 963.2) scale(1 1.07)" font-size="20" fill="#111">SSA</text>
<path d="M830.3 985.5H898" stroke="#00ffff" stroke-width="4.2"/>
<text transform="translate(904 993.7) scale(1 1.07)" font-size="20" fill="#111">MVO</text>
<path d="M830.3 1016H898" stroke="#ff00ff" stroke-width="4.2"/>
<text transform="translate(904 1024.2) scale(1 1.07)" font-size="20" fill="#111">GWO</text>
<path d="M830.3 1046.5H898" stroke="#000000" stroke-width="4.2"/>
<text transform="translate(904 1054.7) scale(1 1.07)" font-size="20" fill="#111">WOA</text>
<path d="M830.3 1077H898" stroke="#77ac30" stroke-width="4.2"/>
<text transform="translate(904 1085.2) scale(1 1.07)" font-size="20" fill="#111">GJO</text>
<text transform="translate(694.6 1301.5) scale(1 1.08)" font-size="21" text-anchor="middle" fill="#262626">200</text>
<text transform="translate(765.8 1301.5) scale(1 1.08)" font-size="21" text-anchor="middle" fill="#262626">400</text>
<text transform="translate(838.1 1301.5) scale(1 1.08)" font-size="21" text-anchor="middle" fill="#262626">600</text>
<text transform="translate(909.2 1301.5) scale(1 1.08)" font-size="21" text-anchor="middle" fill="#262626">800</text>
<text transform="translate(979.9 1301.5) scale(1 1.08)" font-size="21" text-anchor="middle" fill="#262626">1000</text>
<text transform="translate(613.5 830.8) scale(1 1.2)" font-size="16.5" text-anchor="end" fill="#262626">0</text>
<text transform="translate(603.8 842.5) scale(1 1.17)" font-size="21" text-anchor="end" fill="#262626">10</text>
<text transform="translate(613.5 974.3) scale(1 1.2)" font-size="16.5" text-anchor="end" fill="#262626">-100</text>
<text transform="translate(580 986) scale(1 1.17)" font-size="21" text-anchor="end" fill="#262626">10</text>
<text transform="translate(613.5 1116.5) scale(1 1.2)" font-size="16.5" text-anchor="end" fill="#262626">-200</text>
<text transform="translate(580 1128.2) scale(1 1.17)" font-size="21" text-anchor="end" fill="#262626">10</text>
<text transform="translate(613.5 1258.9) scale(1 1.2)" font-size="16.5" text-anchor="end" fill="#262626">-300</text>
<text transform="translate(580 1270.6) scale(1 1.17)" font-size="21" text-anchor="end" fill="#262626">10</text>
<text x="802.6" y="1337.5" font-size="24" text-anchor="middle" fill="#262626">Iteration</text>
<text x="801.8" y="813" font-size="24.4" text-anchor="middle" font-weight="bold" fill="#111">Objective space</text>
<text transform="translate(542.5 1046.2) rotate(-90)" font-size="24" text-anchor="middle" textLength="310" lengthAdjust="spacingAndGlyphs" fill="#262626">Best score obtained so far</text>
<path d="M1694 824.6V1266.7M1762.7 824.6V1266.7M1833.4 824.6V1266.7M1902.3 824.6V1266.7M1624.8 826.2H1970.9M1624.8 970.6H1970.9M1624.8 1113.5H1970.9M1624.8 1256.5H1970.9" stroke="#d2d2d2" stroke-width="1.5" fill="none"/>
<path d="M1627.8 840.6H1970.9M1627.8 854.9H1970.9M1627.8 869.2H1970.9M1627.8 883.6H1970.9M1627.8 898H1970.9M1627.8 912.3H1970.9M1627.8 926.7H1970.9M1627.8 941H1970.9M1627.8 955.4H1970.9M1627.8 984.1H1970.9M1627.8 998.4H1970.9M1627.8 1012.8H1970.9M1627.8 1027.1H1970.9M1627.8 1041.5H1970.9M1627.8 1055.8H1970.9M1627.8 1070.2H1970.9M1627.8 1084.5H1970.9M1627.8 1098.8H1970.9M1627.8 1127.5H1970.9M1627.8 1141.9H1970.9M1627.8 1156.2H1970.9M1627.8 1170.6H1970.9M1627.8 1185H1970.9M1627.8 1199.3H1970.9M1627.8 1213.7H1970.9M1627.8 1228H1970.9M1627.8 1242.3H1970.9" stroke="#c4c4c4" stroke-width="1.5" stroke-dasharray="1.5 4.05" fill="none"/>
<path d="M1624.8 824.6H1970.9V1266.7H1624.8zM1694 1266.7v-4.5M1694 824.6v4.5M1762.7 1266.7v-4.5M1762.7 824.6v4.5M1833.4 1266.7v-4.5M1833.4 824.6v4.5M1902.3 1266.7v-4.5M1902.3 824.6v4.5M1624.8 826.2h4.5M1970.9 826.2h-4.5M1624.8 970.6h4.5M1970.9 970.6h-4.5M1624.8 1113.5h4.5M1970.9 1113.5h-4.5M1624.8 1256.5h4.5M1970.9 1256.5h-4.5" stroke="#262626" stroke-width="1.5" fill="none"/>
<g clip-path="url(#c4)" fill="none" stroke-width="4.5" stroke-linejoin="round" stroke-linecap="butt">
<path d="M1624.8 826L1631.5 836L1637.2 846.1L1643.9 856.1L1649.8 866.2L1655.9 876.2L1661.6 886.3L1668.6 896.3L1673.7 906.4L1680.2 916.4L1686.5 926.5L1693.1 936.5L1698.6 946.5L1705.6 956.6L1711.9 966.6L1717.2 976.7L1723.8 986.7L1729.4 996.8L1735.9 1006.8L1741.8 1016.9L1748.9 1026.9L1754.5 1037L1761.3 1047L1767.3 1057L1773.6 1067.1L1779 1077.1L1785.1 1087.2L1791.8 1097.2L1797.5 1107.3L1804.3 1117.3L1810.2 1127.4L1816.5 1137.4L1823.1 1147.5L1828.8 1157.5L1834.6 1167.5L1840.8 1177.6L1847.4 1187.6L1853.6 1197.7L1859.9 1207.7L1865.8 1217.8L1872.2 1227.8L1878.1 1237.9L1884.6 1247.9L1890.9 1258L1896.8 1268" stroke="#a2142f"/>
<path d="M1624.8 825.2L1757.5 826.8L1970.9 831.3" stroke="#ff0000"/>
<path d="M1624.8 825.2L1757.5 827.2L1833.9 829.7L1902.5 831.7L1970.9 833.3" stroke="#00ff00"/>
<path d="M1624.8 825.2L1757.5 826.8L1970.9 831.7" stroke="#0000ff"/>
<path d="M1624.8 825.2L1798.3 826.4L1970.9 829.1" stroke="#00ffff"/>
<path d="M1624.8 825.2L1665.9 830.3L1694 833.7L1737.2 838.4L1762.6 840.5L1798.3 843.1L1833.9 844.5L1902.5 846L1970.9 846.6" stroke="#ff00ff"/>
<path d="M1624.8 824.4L1970.9 824.6" stroke="#000000"/>
<path d="M1624.8 824.2L1655.7 832.3L1694 840.5L1762.6 851.7L1788.1 857.8L1817.6 863.9L1859.4 869.6L1900.1 872L1954 872.4L1970.9 872.4" stroke="#77ac30"/>
</g>
<rect x="1817.4" y="845.5" width="136.8" height="249.5" fill="#fff" stroke="#262626" stroke-width="1.4"/>
<path d="M1825.2 863.5H1892.9" stroke="#a2142f" stroke-width="4.2"/>
<text transform="translate(1898.9 871.7) scale(1 1.07)" font-size="20" fill="#111">LCA</text>
<path d="M1825.2 894H1892.9" stroke="#ff0000" stroke-width="4.2"/>
<text transform="translate(1898.9 902.2) scale(1 1.07)" font-size="20" fill="#111">PSO</text>
<path d="M1825.2 924.5H1892.9" stroke="#00ff00" stroke-width="4.2"/>
<text transform="translate(1898.9 932.7) scale(1 1.07)" font-size="20" fill="#111">TSA</text>
<path d="M1825.2 955H1892.9" stroke="#0000ff" stroke-width="4.2"/>
<text transform="translate(1898.9 963.2) scale(1 1.07)" font-size="20" fill="#111">SSA</text>
<path d="M1825.2 985.5H1892.9" stroke="#00ffff" stroke-width="4.2"/>
<text transform="translate(1898.9 993.7) scale(1 1.07)" font-size="20" fill="#111">MVO</text>
<path d="M1825.2 1016H1892.9" stroke="#ff00ff" stroke-width="4.2"/>
<text transform="translate(1898.9 1024.2) scale(1 1.07)" font-size="20" fill="#111">GWO</text>
<path d="M1825.2 1046.5H1892.9" stroke="#000000" stroke-width="4.2"/>
<text transform="translate(1898.9 1054.7) scale(1 1.07)" font-size="20" fill="#111">WOA</text>
<path d="M1825.2 1077H1892.9" stroke="#77ac30" stroke-width="4.2"/>
<text transform="translate(1898.9 1085.2) scale(1 1.07)" font-size="20" fill="#111">GJO</text>
<text transform="translate(1693.5 1301.5) scale(1 1.08)" font-size="21" text-anchor="middle" fill="#262626">200</text>
<text transform="translate(1762.2 1301.5) scale(1 1.08)" font-size="21" text-anchor="middle" fill="#262626">400</text>
<text transform="translate(1832.9 1301.5) scale(1 1.08)" font-size="21" text-anchor="middle" fill="#262626">600</text>
<text transform="translate(1901.8 1301.5) scale(1 1.08)" font-size="21" text-anchor="middle" fill="#262626">800</text>
<text transform="translate(1970.4 1301.5) scale(1 1.08)" font-size="21" text-anchor="middle" fill="#262626">1000</text>
<text transform="translate(1614 827.1) scale(1 1.2)" font-size="16.5" text-anchor="end" fill="#262626">0</text>
<text transform="translate(1604.3 838.8) scale(1 1.17)" font-size="21" text-anchor="end" fill="#262626">10</text>
<text transform="translate(1614 971.5) scale(1 1.2)" font-size="16.5" text-anchor="end" fill="#262626">-100</text>
<text transform="translate(1580.5 983.2) scale(1 1.17)" font-size="21" text-anchor="end" fill="#262626">10</text>
<text transform="translate(1614 1114.4) scale(1 1.2)" font-size="16.5" text-anchor="end" fill="#262626">-200</text>
<text transform="translate(1580.5 1126.1) scale(1 1.17)" font-size="21" text-anchor="end" fill="#262626">10</text>
<text transform="translate(1614 1257.4) scale(1 1.2)" font-size="16.5" text-anchor="end" fill="#262626">-300</text>
<text transform="translate(1580.5 1269.1) scale(1 1.17)" font-size="21" text-anchor="end" fill="#262626">10</text>
<text x="1798.1" y="1337.5" font-size="24" text-anchor="middle" fill="#262626">Iteration</text>
<text x="1797.3" y="813" font-size="24.4" text-anchor="middle" font-weight="bold" fill="#111">Objective space</text>
<text transform="translate(1543 1046.2) rotate(-90)" font-size="24" text-anchor="middle" textLength="310" lengthAdjust="spacingAndGlyphs" fill="#262626">Best score obtained so far</text>
<path d="M666.8 1581.6V2023M737.6 1581.6V2023M809 1581.6V2023M880.1 1581.6V2023M596.2 1683H951.3M596.2 1803.6H951.3M596.2 1923.8H951.3" stroke="#d2d2d2" stroke-width="1.5" fill="none"/>
<path d="M599.2 1623H951.3M599.2 1743.3H951.3M599.2 1863.7H951.3M599.2 1984H951.3" stroke="#c4c4c4" stroke-width="1.5" stroke-dasharray="1.5 4.05" fill="none"/>
<path d="M596.2 1581.6H951.3V2023H596.2zM666.8 2023v-4.5M666.8 1581.6v4.5M737.6 2023v-4.5M737.6 1581.6v4.5M809 2023v-4.5M809 1581.6v4.5M880.1 2023v-4.5M880.1 1581.6v4.5M596.2 1683h4.5M951.3 1683h-4.5M596.2 1803.6h4.5M951.3 1803.6h-4.5M596.2 1923.8h4.5M951.3 1923.8h-4.5" stroke="#262626" stroke-width="1.5" fill="none"/>
<g clip-path="url(#c5)" fill="none" stroke-width="4.5" stroke-linejoin="round" stroke-linecap="butt">
<path d="M594.6 1592L596.6 1640L598.4 1700L600.4 1760L602.2 1810L604.4 1865L606 1905L608.4 1960L610.2 1995L612.2 2026" stroke="#a2142f"/>
<path d="M595.7 1584.2L596.1 1602.5L602.2 1612.7L610.4 1618.4L630.7 1621.5L634.8 1624.9L667.4 1628L702 1631.1L712.2 1635.1L722.4 1640.2L742.7 1642.3L752.9 1645.3L793.6 1650.4L854.7 1655.5L936.2 1659.6L951.4 1660.6" stroke="#ff0000"/>
<path d="M596.1 1581.6L605.3 1612.7L610.4 1637.2L620.5 1651.4L630.7 1659.6L635.8 1665.7L951.4 1665.7" stroke="#00ff00"/>
<path d="M595.7 1584.2L596.1 1600.5L620.5 1600.5L622.6 1598.9L704 1598.9L706.1 1601.5L717.3 1601.5L724.4 1609.7L736.6 1611.7L740.7 1614.8L747.8 1615.8L754.9 1629L769.2 1632.1L781.4 1637.2L795.7 1650.4L805.9 1658.5L824.2 1664.7L951.4 1665.7" stroke="#0000ff"/>
<path d="M596.1 1581.6L602.2 1592.4L620.5 1598.5L636.8 1609.7L651.1 1612.7L667.4 1615.8L695.9 1615.8L700 1619.9L732.5 1620.9L752.9 1623.9L795.7 1627L854.7 1636.1L895.4 1642.3L936.2 1650.4L951.4 1654.5" stroke="#00ffff"/>
<path d="M594.9 1592.4L598.1 1618.8L604.3 1649.4L609.3 1664.7L614.4 1665.7L951.4 1665.7" stroke="#ff00ff"/>
<path d="M596.1 1581.6L602.2 1612.7L609.3 1649.4L612.8 1661.6L615.5 1665.7L951.4 1665.7" stroke="#000000"/>
<path d="M596.1 1581.6L600.2 1612.7L607.3 1661.6L608.7 1664.7L612.4 1666.1L951.4 1666.1" stroke="#77ac30"/>
</g>
<rect x="796" y="1602.5" width="138.6" height="249.5" fill="#fff" stroke="#262626" stroke-width="1.4"/>
<path d="M803.8 1620.5H871.5" stroke="#a2142f" stroke-width="4.2"/>
<text transform="translate(877.5 1628.7) scale(1 1.07)" font-size="20" fill="#111">LCA</text>
<path d="M803.8 1651H871.5" stroke="#ff0000" stroke-width="4.2"/>
<text transform="translate(877.5 1659.2) scale(1 1.07)" font-size="20" fill="#111">PSO</text>
<path d="M803.8 1681.5H871.5" stroke="#00ff00" stroke-width="4.2"/>
<text transform="translate(877.5 1689.7) scale(1 1.07)" font-size="20" fill="#111">TSA</text>
<path d="M803.8 1712H871.5" stroke="#0000ff" stroke-width="4.2"/>
<text transform="translate(877.5 1720.2) scale(1 1.07)" font-size="20" fill="#111">SSA</text>
<path d="M803.8 1742.5H871.5" stroke="#00ffff" stroke-width="4.2"/>
<text transform="translate(877.5 1750.7) scale(1 1.07)" font-size="20" fill="#111">MVO</text>
<path d="M803.8 1773H871.5" stroke="#ff00ff" stroke-width="4.2"/>
<text transform="translate(877.5 1781.2) scale(1 1.07)" font-size="20" fill="#111">GWO</text>
<path d="M803.8 1803.5H871.5" stroke="#000000" stroke-width="4.2"/>
<text transform="translate(877.5 1811.7) scale(1 1.07)" font-size="20" fill="#111">WOA</text>
<path d="M803.8 1834H871.5" stroke="#77ac30" stroke-width="4.2"/>
<text transform="translate(877.5 1842.2) scale(1 1.07)" font-size="20" fill="#111">GJO</text>
<text transform="translate(666.3 2057.8) scale(1 1.08)" font-size="21" text-anchor="middle" fill="#262626">200</text>
<text transform="translate(737.1 2057.8) scale(1 1.08)" font-size="21" text-anchor="middle" fill="#262626">400</text>
<text transform="translate(808.5 2057.8) scale(1 1.08)" font-size="21" text-anchor="middle" fill="#262626">600</text>
<text transform="translate(879.6 2057.8) scale(1 1.08)" font-size="21" text-anchor="middle" fill="#262626">800</text>
<text transform="translate(950.8 2057.8) scale(1 1.08)" font-size="21" text-anchor="middle" fill="#262626">1000</text>
<text transform="translate(585.4 1683.9) scale(1 1.2)" font-size="16.5" text-anchor="end" fill="#262626">0</text>
<text transform="translate(575.7 1695.6) scale(1 1.17)" font-size="21" text-anchor="end" fill="#262626">10</text>
<text transform="translate(585.4 1804.5) scale(1 1.2)" font-size="16.5" text-anchor="end" fill="#262626">-10</text>
<text transform="translate(561.1 1816.2) scale(1 1.17)" font-size="21" text-anchor="end" fill="#262626">10</text>
<text transform="translate(585.4 1924.7) scale(1 1.2)" font-size="16.5" text-anchor="end" fill="#262626">-20</text>
<text transform="translate(561.1 1936.4) scale(1 1.17)" font-size="21" text-anchor="end" fill="#262626">10</text>
<text x="774" y="2093.8" font-size="24" text-anchor="middle" fill="#262626">Iteration</text>
<text x="773.2" y="1569.4" font-size="24" text-anchor="middle" font-weight="bold" fill="#111">Objective space</text>
<text transform="translate(523.7 1802.8) rotate(-90)" font-size="24" text-anchor="middle" textLength="310" lengthAdjust="spacingAndGlyphs" fill="#262626">Best score obtained so far</text>
<path d="M1660.6 1581.6V2023M1731.3 1581.6V2023M1802.2 1581.6V2023M1873.2 1581.6V2023M1590.2 1640.8H1944.4M1590.2 1762.2H1944.4M1590.2 1883.5H1944.4M1590.2 2004.3H1944.4" stroke="#d2d2d2" stroke-width="1.5" fill="none"/>
<path d="M1593.2 1701.5H1944.4M1593.2 1822.8H1944.4M1593.2 1944H1944.4" stroke="#c4c4c4" stroke-width="1.5" stroke-dasharray="1.5 4.05" fill="none"/>
<path d="M1590.2 1581.6H1944.4V2023H1590.2zM1660.6 2023v-4.5M1660.6 1581.6v4.5M1731.3 2023v-4.5M1731.3 1581.6v4.5M1802.2 2023v-4.5M1802.2 1581.6v4.5M1873.2 2023v-4.5M1873.2 1581.6v4.5M1590.2 1640.8h4.5M1944.4 1640.8h-4.5M1590.2 1762.2h4.5M1944.4 1762.2h-4.5M1590.2 1883.5h4.5M1944.4 1883.5h-4.5M1590.2 2004.3h4.5M1944.4 2004.3h-4.5" stroke="#262626" stroke-width="1.5" fill="none"/>
<g clip-path="url(#c6)" fill="none" stroke-width="4.5" stroke-linejoin="round" stroke-linecap="butt">
<path d="M1589.4 1588L1590.6 1640L1592.2 1680L1594 1730L1597 1775L1600 1820L1603.6 1870L1607.4 1905L1611 1950L1615.4 1985L1618.2 2005L1620.6 2026" stroke="#a2142f"/>
<path d="M1590.1 1581.6L1597.2 1602.5L1607.4 1612.7L1625.7 1614.8L1629.8 1618.8L1666.5 1619.9L1707.2 1621.9L1727.5 1626L1747.9 1627L1768.3 1631.1L1788.6 1635.1L1829.4 1649.4L1870.1 1667.7L1900.6 1684L1929.1 1694.2L1937.3 1697.2L1944.4 1705.4" stroke="#ff0000"/>
<path d="M1590.1 1581.6L1599.3 1592.4L1607.4 1612.7L1615.5 1629L1621.7 1632.5L1788.6 1635.1L1910.8 1635.9L1931.2 1635.1L1944.4 1632.3" stroke="#00ff00"/>
<path d="M1589.5 1584.2L1590.1 1590.3L1597.2 1592.4L1666.5 1592.4L1676.6 1594.4L1717.4 1594.4L1731.6 1597.5L1747.9 1605.6L1768.3 1614.8L1778.5 1620.9L1788.6 1626L1829.4 1651.4L1870.1 1677.9L1900.6 1700.3L1929.1 1719.6L1944.4 1738" stroke="#0000ff"/>
<path d="M1590.1 1581.6L1605.4 1590.3L1625.7 1595.4L1666.5 1599.5L1707.2 1602.5L1731.6 1603.6L1747.9 1602.5L1768.3 1603.6L1788.6 1606.6L1849.7 1614.8L1900.6 1621.9L1929.1 1627L1937.3 1634.1L1944.4 1643.3" stroke="#00ffff"/>
<path d="M1590.1 1581.6L1597.2 1608.7L1603.3 1629L1611.5 1636.1L1635.9 1640.2L1666.5 1642.3L1727.5 1644.3L1788.6 1646.3L1944.4 1648" stroke="#ff00ff"/>
<path d="M1590.1 1581.6L1593.1 1622.9L1597.2 1635.1L1605.4 1639.2L1615.5 1645.3L1635.9 1648.4L1666.5 1654.5L1707.2 1658.5L1747.9 1661.6L1768.3 1662.6L1944.4 1662.6" stroke="#000000"/>
<path d="M1590.1 1581.6L1594.2 1602.5L1599.3 1627L1603.3 1632.1L1788.6 1635.1L1929.1 1636.8L1944.4 1636.8" stroke="#77ac30"/>
</g>
<rect x="1789.6" y="1602.5" width="138.6" height="249.5" fill="#fff" stroke="#262626" stroke-width="1.4"/>
<path d="M1797.4 1620.5H1865.1" stroke="#a2142f" stroke-width="4.2"/>
<text transform="translate(1871.1 1628.7) scale(1 1.07)" font-size="20" fill="#111">LCA</text>
<path d="M1797.4 1651H1865.1" stroke="#ff0000" stroke-width="4.2"/>
<text transform="translate(1871.1 1659.2) scale(1 1.07)" font-size="20" fill="#111">PSO</text>
<path d="M1797.4 1681.5H1865.1" stroke="#00ff00" stroke-width="4.2"/>
<text transform="translate(1871.1 1689.7) scale(1 1.07)" font-size="20" fill="#111">TSA</text>
<path d="M1797.4 1712H1865.1" stroke="#0000ff" stroke-width="4.2"/>
<text transform="translate(1871.1 1720.2) scale(1 1.07)" font-size="20" fill="#111">SSA</text>
<path d="M1797.4 1742.5H1865.1" stroke="#00ffff" stroke-width="4.2"/>
<text transform="translate(1871.1 1750.7) scale(1 1.07)" font-size="20" fill="#111">MVO</text>
<path d="M1797.4 1773H1865.1" stroke="#ff00ff" stroke-width="4.2"/>
<text transform="translate(1871.1 1781.2) scale(1 1.07)" font-size="20" fill="#111">GWO</text>
<path d="M1797.4 1803.5H1865.1" stroke="#000000" stroke-width="4.2"/>
<text transform="translate(1871.1 1811.7) scale(1 1.07)" font-size="20" fill="#111">WOA</text>
<path d="M1797.4 1834H1865.1" stroke="#77ac30" stroke-width="4.2"/>
<text transform="translate(1871.1 1842.2) scale(1 1.07)" font-size="20" fill="#111">GJO</text>
<text transform="translate(1660.1 2057.8) scale(1 1.08)" font-size="21" text-anchor="middle" fill="#262626">200</text>
<text transform="translate(1730.8 2057.8) scale(1 1.08)" font-size="21" text-anchor="middle" fill="#262626">400</text>
<text transform="translate(1801.7 2057.8) scale(1 1.08)" font-size="21" text-anchor="middle" fill="#262626">600</text>
<text transform="translate(1872.7 2057.8) scale(1 1.08)" font-size="21" text-anchor="middle" fill="#262626">800</text>
<text transform="translate(1943.9 2057.8) scale(1 1.08)" font-size="21" text-anchor="middle" fill="#262626">1000</text>
<text transform="translate(1579.4 1641.7) scale(1 1.2)" font-size="16.5" text-anchor="end" fill="#262626">0</text>
<text transform="translate(1569.7 1653.4) scale(1 1.17)" font-size="21" text-anchor="end" fill="#262626">10</text>
<text transform="translate(1579.4 1763.1) scale(1 1.2)" font-size="16.5" text-anchor="end" fill="#262626">-10</text>
<text transform="translate(1555.1 1774.8) scale(1 1.17)" font-size="21" text-anchor="end" fill="#262626">10</text>
<text transform="translate(1579.4 1884.4) scale(1 1.2)" font-size="16.5" text-anchor="end" fill="#262626">-20</text>
<text transform="translate(1555.1 1896.1) scale(1 1.17)" font-size="21" text-anchor="end" fill="#262626">10</text>
<text transform="translate(1579.4 2005.2) scale(1 1.2)" font-size="16.5" text-anchor="end" fill="#262626">-30</text>
<text transform="translate(1555.1 2016.9) scale(1 1.17)" font-size="21" text-anchor="end" fill="#262626">10</text>
<text x="1767.6" y="2093.8" font-size="24" text-anchor="middle" fill="#262626">Iteration</text>
<text x="1766.8" y="1569.4" font-size="24" text-anchor="middle" font-weight="bold" fill="#111">Objective space</text>
<text transform="translate(1517.7 1802.8) rotate(-90)" font-size="24" text-anchor="middle" textLength="310" lengthAdjust="spacingAndGlyphs" fill="#262626">Best score obtained so far</text>
<text x="505.5" y="597.8" font-size="33" textLength="33.5" lengthAdjust="spacingAndGlyphs" fill="#000">F1</text>
<text x="1497" y="597.8" font-size="33" textLength="33.5" lengthAdjust="spacingAndGlyphs" fill="#000">F2</text>
<text x="503.8" y="1382.3" font-size="33" textLength="33.5" lengthAdjust="spacingAndGlyphs" fill="#000">F3</text>
<text x="1497" y="1382.3" font-size="33" textLength="33.5" lengthAdjust="spacingAndGlyphs" fill="#000">F4</text>
<text x="477.3" y="2139.9" font-size="33" textLength="33.5" lengthAdjust="spacingAndGlyphs" fill="#000">F5</text>
<text x="1469.5" y="2139.9" font-size="33" textLength="33.5" lengthAdjust="spacingAndGlyphs" fill="#000">F6</text>
<text x="1007.5" y="673" font-size="37.5" text-anchor="middle" fill="#000" font-family='"Liberation Serif", "Times New Roman", Times, serif'>(a)</text>
<text x="1008.2" y="1439.3" font-size="37.5" text-anchor="middle" fill="#000" font-family='"Liberation Serif", "Times New Roman", Times, serif'>(b)</text>
<text x="980.6" y="2245" font-size="37.5" text-anchor="middle" fill="#000" font-family='"Liberation Serif", "Times New Roman", Times, serif'>(c)</text></svg>
</body></html>
